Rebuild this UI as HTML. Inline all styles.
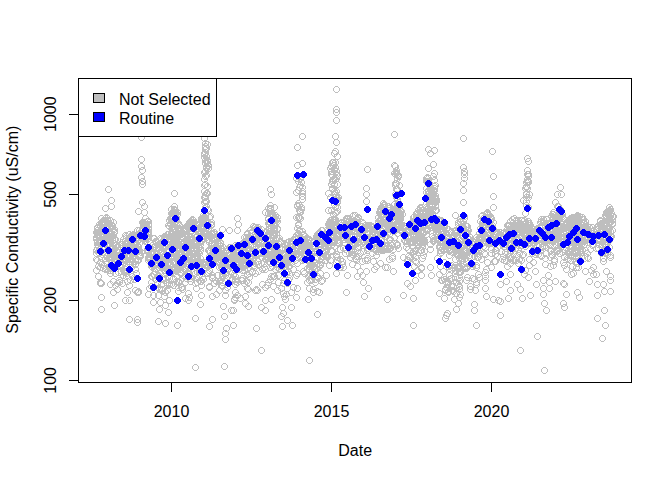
<!DOCTYPE html>
<html><head><meta charset="utf-8"><style>html,body{margin:0;padding:0;background:#fff;}svg{display:block;}</style></head>
<body><svg width="672" height="480" viewBox="0 0 672 480">
<rect width="672" height="480" fill="#fff"/>
<defs><clipPath id="pc"><rect x="78.72" y="78.72" width="552.9599999999999" height="303.36"/></clipPath></defs><g clip-path="url(#pc)"><path d="M116.4 281.5a2.9 2.9 0 1 0-5.8 0a2.9 2.9 0 1 0 5.8 0M122.4 280.5a2.9 2.9 0 1 0-5.8 0a2.9 2.9 0 1 0 5.8 0M120.4 283.5a2.9 2.9 0 1 0-5.8 0a2.9 2.9 0 1 0 5.8 0M162.4 289.5a2.9 2.9 0 1 0-5.8 0a2.9 2.9 0 1 0 5.8 0M165.4 290.5a2.9 2.9 0 1 0-5.8 0a2.9 2.9 0 1 0 5.8 0M456.4 286.5a2.9 2.9 0 1 0-5.8 0a2.9 2.9 0 1 0 5.8 0M463.4 280.5a2.9 2.9 0 1 0-5.8 0a2.9 2.9 0 1 0 5.8 0M461.4 284.5a2.9 2.9 0 1 0-5.8 0a2.9 2.9 0 1 0 5.8 0M448.4 281.5a2.9 2.9 0 1 0-5.8 0a2.9 2.9 0 1 0 5.8 0M451.4 292.5a2.9 2.9 0 1 0-5.8 0a2.9 2.9 0 1 0 5.8 0M448.4 289.5a2.9 2.9 0 1 0-5.8 0a2.9 2.9 0 1 0 5.8 0M104.4 218.5a2.9 2.9 0 1 0-5.8 0a2.9 2.9 0 1 0 5.8 0M125.4 244.5a2.9 2.9 0 1 0-5.8 0a2.9 2.9 0 1 0 5.8 0M164.4 251.5a2.9 2.9 0 1 0-5.8 0a2.9 2.9 0 1 0 5.8 0M180.4 212.5a2.9 2.9 0 1 0-5.8 0a2.9 2.9 0 1 0 5.8 0M133.4 255.5a2.9 2.9 0 1 0-5.8 0a2.9 2.9 0 1 0 5.8 0M111.4 237.5a2.9 2.9 0 1 0-5.8 0a2.9 2.9 0 1 0 5.8 0M102.4 249.5a2.9 2.9 0 1 0-5.8 0a2.9 2.9 0 1 0 5.8 0M162.4 243.5a2.9 2.9 0 1 0-5.8 0a2.9 2.9 0 1 0 5.8 0M171.4 225.5a2.9 2.9 0 1 0-5.8 0a2.9 2.9 0 1 0 5.8 0M156.4 244.5a2.9 2.9 0 1 0-5.8 0a2.9 2.9 0 1 0 5.8 0M147.4 235.5a2.9 2.9 0 1 0-5.8 0a2.9 2.9 0 1 0 5.8 0M168.4 268.5a2.9 2.9 0 1 0-5.8 0a2.9 2.9 0 1 0 5.8 0M138.4 249.5a2.9 2.9 0 1 0-5.8 0a2.9 2.9 0 1 0 5.8 0M104.4 251.5a2.9 2.9 0 1 0-5.8 0a2.9 2.9 0 1 0 5.8 0M131.4 249.5a2.9 2.9 0 1 0-5.8 0a2.9 2.9 0 1 0 5.8 0M101.4 235.5a2.9 2.9 0 1 0-5.8 0a2.9 2.9 0 1 0 5.8 0M109.4 221.5a2.9 2.9 0 1 0-5.8 0a2.9 2.9 0 1 0 5.8 0M105.4 234.5a2.9 2.9 0 1 0-5.8 0a2.9 2.9 0 1 0 5.8 0M167.4 262.5a2.9 2.9 0 1 0-5.8 0a2.9 2.9 0 1 0 5.8 0M178.4 215.5a2.9 2.9 0 1 0-5.8 0a2.9 2.9 0 1 0 5.8 0M113.4 220.5a2.9 2.9 0 1 0-5.8 0a2.9 2.9 0 1 0 5.8 0M148.4 222.5a2.9 2.9 0 1 0-5.8 0a2.9 2.9 0 1 0 5.8 0M99.4 232.5a2.9 2.9 0 1 0-5.8 0a2.9 2.9 0 1 0 5.8 0M129.4 242.5a2.9 2.9 0 1 0-5.8 0a2.9 2.9 0 1 0 5.8 0M178.4 251.5a2.9 2.9 0 1 0-5.8 0a2.9 2.9 0 1 0 5.8 0M141.4 246.5a2.9 2.9 0 1 0-5.8 0a2.9 2.9 0 1 0 5.8 0M173.4 257.5a2.9 2.9 0 1 0-5.8 0a2.9 2.9 0 1 0 5.8 0M171.4 258.5a2.9 2.9 0 1 0-5.8 0a2.9 2.9 0 1 0 5.8 0M107.4 247.5a2.9 2.9 0 1 0-5.8 0a2.9 2.9 0 1 0 5.8 0M107.4 229.5a2.9 2.9 0 1 0-5.8 0a2.9 2.9 0 1 0 5.8 0M137.4 237.5a2.9 2.9 0 1 0-5.8 0a2.9 2.9 0 1 0 5.8 0M170.4 251.5a2.9 2.9 0 1 0-5.8 0a2.9 2.9 0 1 0 5.8 0M113.4 256.5a2.9 2.9 0 1 0-5.8 0a2.9 2.9 0 1 0 5.8 0M143.4 256.5a2.9 2.9 0 1 0-5.8 0a2.9 2.9 0 1 0 5.8 0M169.4 258.5a2.9 2.9 0 1 0-5.8 0a2.9 2.9 0 1 0 5.8 0M166.4 254.5a2.9 2.9 0 1 0-5.8 0a2.9 2.9 0 1 0 5.8 0M118.4 239.5a2.9 2.9 0 1 0-5.8 0a2.9 2.9 0 1 0 5.8 0M120.4 251.5a2.9 2.9 0 1 0-5.8 0a2.9 2.9 0 1 0 5.8 0M178.4 234.5a2.9 2.9 0 1 0-5.8 0a2.9 2.9 0 1 0 5.8 0M176.4 270.5a2.9 2.9 0 1 0-5.8 0a2.9 2.9 0 1 0 5.8 0M178.4 229.5a2.9 2.9 0 1 0-5.8 0a2.9 2.9 0 1 0 5.8 0M168.4 236.5a2.9 2.9 0 1 0-5.8 0a2.9 2.9 0 1 0 5.8 0M153.4 258.5a2.9 2.9 0 1 0-5.8 0a2.9 2.9 0 1 0 5.8 0M106.4 249.5a2.9 2.9 0 1 0-5.8 0a2.9 2.9 0 1 0 5.8 0M174.4 257.5a2.9 2.9 0 1 0-5.8 0a2.9 2.9 0 1 0 5.8 0M114.4 257.5a2.9 2.9 0 1 0-5.8 0a2.9 2.9 0 1 0 5.8 0M126.4 258.5a2.9 2.9 0 1 0-5.8 0a2.9 2.9 0 1 0 5.8 0M179.4 231.5a2.9 2.9 0 1 0-5.8 0a2.9 2.9 0 1 0 5.8 0M174.4 258.5a2.9 2.9 0 1 0-5.8 0a2.9 2.9 0 1 0 5.8 0M180.4 248.5a2.9 2.9 0 1 0-5.8 0a2.9 2.9 0 1 0 5.8 0M128.4 241.5a2.9 2.9 0 1 0-5.8 0a2.9 2.9 0 1 0 5.8 0M179.4 248.5a2.9 2.9 0 1 0-5.8 0a2.9 2.9 0 1 0 5.8 0M119.4 244.5a2.9 2.9 0 1 0-5.8 0a2.9 2.9 0 1 0 5.8 0M128.4 235.5a2.9 2.9 0 1 0-5.8 0a2.9 2.9 0 1 0 5.8 0M140.4 240.5a2.9 2.9 0 1 0-5.8 0a2.9 2.9 0 1 0 5.8 0M113.4 236.5a2.9 2.9 0 1 0-5.8 0a2.9 2.9 0 1 0 5.8 0M159.4 242.5a2.9 2.9 0 1 0-5.8 0a2.9 2.9 0 1 0 5.8 0M126.4 239.5a2.9 2.9 0 1 0-5.8 0a2.9 2.9 0 1 0 5.8 0M108.4 242.5a2.9 2.9 0 1 0-5.8 0a2.9 2.9 0 1 0 5.8 0M163.4 238.5a2.9 2.9 0 1 0-5.8 0a2.9 2.9 0 1 0 5.8 0M174.4 234.5a2.9 2.9 0 1 0-5.8 0a2.9 2.9 0 1 0 5.8 0M149.4 238.5a2.9 2.9 0 1 0-5.8 0a2.9 2.9 0 1 0 5.8 0M141.4 251.5a2.9 2.9 0 1 0-5.8 0a2.9 2.9 0 1 0 5.8 0M136.4 240.5a2.9 2.9 0 1 0-5.8 0a2.9 2.9 0 1 0 5.8 0M157.4 263.5a2.9 2.9 0 1 0-5.8 0a2.9 2.9 0 1 0 5.8 0M177.4 222.5a2.9 2.9 0 1 0-5.8 0a2.9 2.9 0 1 0 5.8 0M109.4 234.5a2.9 2.9 0 1 0-5.8 0a2.9 2.9 0 1 0 5.8 0M105.4 221.5a2.9 2.9 0 1 0-5.8 0a2.9 2.9 0 1 0 5.8 0M105.4 249.5a2.9 2.9 0 1 0-5.8 0a2.9 2.9 0 1 0 5.8 0M164.4 264.5a2.9 2.9 0 1 0-5.8 0a2.9 2.9 0 1 0 5.8 0M112.4 252.5a2.9 2.9 0 1 0-5.8 0a2.9 2.9 0 1 0 5.8 0M172.4 269.5a2.9 2.9 0 1 0-5.8 0a2.9 2.9 0 1 0 5.8 0M132.4 237.5a2.9 2.9 0 1 0-5.8 0a2.9 2.9 0 1 0 5.8 0M181.4 260.5a2.9 2.9 0 1 0-5.8 0a2.9 2.9 0 1 0 5.8 0M112.4 233.5a2.9 2.9 0 1 0-5.8 0a2.9 2.9 0 1 0 5.8 0M115.4 226.5a2.9 2.9 0 1 0-5.8 0a2.9 2.9 0 1 0 5.8 0M145.4 234.5a2.9 2.9 0 1 0-5.8 0a2.9 2.9 0 1 0 5.8 0M100.4 227.5a2.9 2.9 0 1 0-5.8 0a2.9 2.9 0 1 0 5.8 0M150.4 239.5a2.9 2.9 0 1 0-5.8 0a2.9 2.9 0 1 0 5.8 0M107.4 222.5a2.9 2.9 0 1 0-5.8 0a2.9 2.9 0 1 0 5.8 0M151.4 258.5a2.9 2.9 0 1 0-5.8 0a2.9 2.9 0 1 0 5.8 0M159.4 241.5a2.9 2.9 0 1 0-5.8 0a2.9 2.9 0 1 0 5.8 0M114.4 236.5a2.9 2.9 0 1 0-5.8 0a2.9 2.9 0 1 0 5.8 0M176.4 212.5a2.9 2.9 0 1 0-5.8 0a2.9 2.9 0 1 0 5.8 0M140.4 260.5a2.9 2.9 0 1 0-5.8 0a2.9 2.9 0 1 0 5.8 0M131.4 238.5a2.9 2.9 0 1 0-5.8 0a2.9 2.9 0 1 0 5.8 0M127.4 260.5a2.9 2.9 0 1 0-5.8 0a2.9 2.9 0 1 0 5.8 0M157.4 247.5a2.9 2.9 0 1 0-5.8 0a2.9 2.9 0 1 0 5.8 0M105.4 254.5a2.9 2.9 0 1 0-5.8 0a2.9 2.9 0 1 0 5.8 0M171.4 249.5a2.9 2.9 0 1 0-5.8 0a2.9 2.9 0 1 0 5.8 0M112.4 234.5a2.9 2.9 0 1 0-5.8 0a2.9 2.9 0 1 0 5.8 0M179.4 241.5a2.9 2.9 0 1 0-5.8 0a2.9 2.9 0 1 0 5.8 0M138.4 238.5a2.9 2.9 0 1 0-5.8 0a2.9 2.9 0 1 0 5.8 0M115.4 238.5a2.9 2.9 0 1 0-5.8 0a2.9 2.9 0 1 0 5.8 0M106.4 231.5a2.9 2.9 0 1 0-5.8 0a2.9 2.9 0 1 0 5.8 0M147.4 240.5a2.9 2.9 0 1 0-5.8 0a2.9 2.9 0 1 0 5.8 0M161.4 248.5a2.9 2.9 0 1 0-5.8 0a2.9 2.9 0 1 0 5.8 0M158.4 263.5a2.9 2.9 0 1 0-5.8 0a2.9 2.9 0 1 0 5.8 0M180.4 214.5a2.9 2.9 0 1 0-5.8 0a2.9 2.9 0 1 0 5.8 0M159.4 247.5a2.9 2.9 0 1 0-5.8 0a2.9 2.9 0 1 0 5.8 0M173.4 246.5a2.9 2.9 0 1 0-5.8 0a2.9 2.9 0 1 0 5.8 0M159.4 259.5a2.9 2.9 0 1 0-5.8 0a2.9 2.9 0 1 0 5.8 0M110.4 239.5a2.9 2.9 0 1 0-5.8 0a2.9 2.9 0 1 0 5.8 0M141.4 260.5a2.9 2.9 0 1 0-5.8 0a2.9 2.9 0 1 0 5.8 0M165.4 260.5a2.9 2.9 0 1 0-5.8 0a2.9 2.9 0 1 0 5.8 0M155.4 251.5a2.9 2.9 0 1 0-5.8 0a2.9 2.9 0 1 0 5.8 0M110.4 229.5a2.9 2.9 0 1 0-5.8 0a2.9 2.9 0 1 0 5.8 0M151.4 250.5a2.9 2.9 0 1 0-5.8 0a2.9 2.9 0 1 0 5.8 0M165.4 254.5a2.9 2.9 0 1 0-5.8 0a2.9 2.9 0 1 0 5.8 0M140.4 240.5a2.9 2.9 0 1 0-5.8 0a2.9 2.9 0 1 0 5.8 0M105.4 222.5a2.9 2.9 0 1 0-5.8 0a2.9 2.9 0 1 0 5.8 0M138.4 250.5a2.9 2.9 0 1 0-5.8 0a2.9 2.9 0 1 0 5.8 0M162.4 246.5a2.9 2.9 0 1 0-5.8 0a2.9 2.9 0 1 0 5.8 0M111.4 221.5a2.9 2.9 0 1 0-5.8 0a2.9 2.9 0 1 0 5.8 0M104.4 222.5a2.9 2.9 0 1 0-5.8 0a2.9 2.9 0 1 0 5.8 0M154.4 251.5a2.9 2.9 0 1 0-5.8 0a2.9 2.9 0 1 0 5.8 0M142.4 235.5a2.9 2.9 0 1 0-5.8 0a2.9 2.9 0 1 0 5.8 0M173.4 218.5a2.9 2.9 0 1 0-5.8 0a2.9 2.9 0 1 0 5.8 0M180.4 267.5a2.9 2.9 0 1 0-5.8 0a2.9 2.9 0 1 0 5.8 0M100.4 235.5a2.9 2.9 0 1 0-5.8 0a2.9 2.9 0 1 0 5.8 0M116.4 243.5a2.9 2.9 0 1 0-5.8 0a2.9 2.9 0 1 0 5.8 0M111.4 239.5a2.9 2.9 0 1 0-5.8 0a2.9 2.9 0 1 0 5.8 0M178.4 213.5a2.9 2.9 0 1 0-5.8 0a2.9 2.9 0 1 0 5.8 0M167.4 238.5a2.9 2.9 0 1 0-5.8 0a2.9 2.9 0 1 0 5.8 0M172.4 251.5a2.9 2.9 0 1 0-5.8 0a2.9 2.9 0 1 0 5.8 0M99.4 237.5a2.9 2.9 0 1 0-5.8 0a2.9 2.9 0 1 0 5.8 0M110.4 227.5a2.9 2.9 0 1 0-5.8 0a2.9 2.9 0 1 0 5.8 0M125.4 261.5a2.9 2.9 0 1 0-5.8 0a2.9 2.9 0 1 0 5.8 0M175.4 252.5a2.9 2.9 0 1 0-5.8 0a2.9 2.9 0 1 0 5.8 0M173.4 224.5a2.9 2.9 0 1 0-5.8 0a2.9 2.9 0 1 0 5.8 0M181.4 244.5a2.9 2.9 0 1 0-5.8 0a2.9 2.9 0 1 0 5.8 0M172.4 259.5a2.9 2.9 0 1 0-5.8 0a2.9 2.9 0 1 0 5.8 0M177.4 241.5a2.9 2.9 0 1 0-5.8 0a2.9 2.9 0 1 0 5.8 0M161.4 247.5a2.9 2.9 0 1 0-5.8 0a2.9 2.9 0 1 0 5.8 0M175.4 213.5a2.9 2.9 0 1 0-5.8 0a2.9 2.9 0 1 0 5.8 0M123.4 254.5a2.9 2.9 0 1 0-5.8 0a2.9 2.9 0 1 0 5.8 0M180.4 222.5a2.9 2.9 0 1 0-5.8 0a2.9 2.9 0 1 0 5.8 0M145.4 231.5a2.9 2.9 0 1 0-5.8 0a2.9 2.9 0 1 0 5.8 0M174.4 271.5a2.9 2.9 0 1 0-5.8 0a2.9 2.9 0 1 0 5.8 0M133.4 239.5a2.9 2.9 0 1 0-5.8 0a2.9 2.9 0 1 0 5.8 0M104.4 223.5a2.9 2.9 0 1 0-5.8 0a2.9 2.9 0 1 0 5.8 0M179.4 213.5a2.9 2.9 0 1 0-5.8 0a2.9 2.9 0 1 0 5.8 0M140.4 246.5a2.9 2.9 0 1 0-5.8 0a2.9 2.9 0 1 0 5.8 0M132.4 234.5a2.9 2.9 0 1 0-5.8 0a2.9 2.9 0 1 0 5.8 0M178.4 261.5a2.9 2.9 0 1 0-5.8 0a2.9 2.9 0 1 0 5.8 0M101.4 252.5a2.9 2.9 0 1 0-5.8 0a2.9 2.9 0 1 0 5.8 0M173.4 236.5a2.9 2.9 0 1 0-5.8 0a2.9 2.9 0 1 0 5.8 0M167.4 262.5a2.9 2.9 0 1 0-5.8 0a2.9 2.9 0 1 0 5.8 0M179.4 221.5a2.9 2.9 0 1 0-5.8 0a2.9 2.9 0 1 0 5.8 0M142.4 250.5a2.9 2.9 0 1 0-5.8 0a2.9 2.9 0 1 0 5.8 0M177.4 253.5a2.9 2.9 0 1 0-5.8 0a2.9 2.9 0 1 0 5.8 0M152.4 256.5a2.9 2.9 0 1 0-5.8 0a2.9 2.9 0 1 0 5.8 0M137.4 241.5a2.9 2.9 0 1 0-5.8 0a2.9 2.9 0 1 0 5.8 0M109.4 221.5a2.9 2.9 0 1 0-5.8 0a2.9 2.9 0 1 0 5.8 0M151.4 251.5a2.9 2.9 0 1 0-5.8 0a2.9 2.9 0 1 0 5.8 0M142.4 243.5a2.9 2.9 0 1 0-5.8 0a2.9 2.9 0 1 0 5.8 0M178.4 247.5a2.9 2.9 0 1 0-5.8 0a2.9 2.9 0 1 0 5.8 0M172.4 236.5a2.9 2.9 0 1 0-5.8 0a2.9 2.9 0 1 0 5.8 0M178.4 252.5a2.9 2.9 0 1 0-5.8 0a2.9 2.9 0 1 0 5.8 0M140.4 249.5a2.9 2.9 0 1 0-5.8 0a2.9 2.9 0 1 0 5.8 0M154.4 266.5a2.9 2.9 0 1 0-5.8 0a2.9 2.9 0 1 0 5.8 0M165.4 254.5a2.9 2.9 0 1 0-5.8 0a2.9 2.9 0 1 0 5.8 0M179.4 225.5a2.9 2.9 0 1 0-5.8 0a2.9 2.9 0 1 0 5.8 0M117.4 255.5a2.9 2.9 0 1 0-5.8 0a2.9 2.9 0 1 0 5.8 0M117.4 232.5a2.9 2.9 0 1 0-5.8 0a2.9 2.9 0 1 0 5.8 0M111.4 231.5a2.9 2.9 0 1 0-5.8 0a2.9 2.9 0 1 0 5.8 0M104.4 231.5a2.9 2.9 0 1 0-5.8 0a2.9 2.9 0 1 0 5.8 0M173.4 263.5a2.9 2.9 0 1 0-5.8 0a2.9 2.9 0 1 0 5.8 0M176.4 226.5a2.9 2.9 0 1 0-5.8 0a2.9 2.9 0 1 0 5.8 0M178.4 213.5a2.9 2.9 0 1 0-5.8 0a2.9 2.9 0 1 0 5.8 0M179.4 218.5a2.9 2.9 0 1 0-5.8 0a2.9 2.9 0 1 0 5.8 0M128.4 259.5a2.9 2.9 0 1 0-5.8 0a2.9 2.9 0 1 0 5.8 0M103.4 236.5a2.9 2.9 0 1 0-5.8 0a2.9 2.9 0 1 0 5.8 0M115.4 229.5a2.9 2.9 0 1 0-5.8 0a2.9 2.9 0 1 0 5.8 0M133.4 259.5a2.9 2.9 0 1 0-5.8 0a2.9 2.9 0 1 0 5.8 0M175.4 222.5a2.9 2.9 0 1 0-5.8 0a2.9 2.9 0 1 0 5.8 0M161.4 264.5a2.9 2.9 0 1 0-5.8 0a2.9 2.9 0 1 0 5.8 0M178.4 246.5a2.9 2.9 0 1 0-5.8 0a2.9 2.9 0 1 0 5.8 0M120.4 252.5a2.9 2.9 0 1 0-5.8 0a2.9 2.9 0 1 0 5.8 0M175.4 247.5a2.9 2.9 0 1 0-5.8 0a2.9 2.9 0 1 0 5.8 0M177.4 206.5a2.9 2.9 0 1 0-5.8 0a2.9 2.9 0 1 0 5.8 0M178.4 268.5a2.9 2.9 0 1 0-5.8 0a2.9 2.9 0 1 0 5.8 0M134.4 237.5a2.9 2.9 0 1 0-5.8 0a2.9 2.9 0 1 0 5.8 0M176.4 217.5a2.9 2.9 0 1 0-5.8 0a2.9 2.9 0 1 0 5.8 0M165.4 254.5a2.9 2.9 0 1 0-5.8 0a2.9 2.9 0 1 0 5.8 0M167.4 256.5a2.9 2.9 0 1 0-5.8 0a2.9 2.9 0 1 0 5.8 0M149.4 226.5a2.9 2.9 0 1 0-5.8 0a2.9 2.9 0 1 0 5.8 0M115.4 255.5a2.9 2.9 0 1 0-5.8 0a2.9 2.9 0 1 0 5.8 0M102.4 241.5a2.9 2.9 0 1 0-5.8 0a2.9 2.9 0 1 0 5.8 0M172.4 270.5a2.9 2.9 0 1 0-5.8 0a2.9 2.9 0 1 0 5.8 0M107.4 238.5a2.9 2.9 0 1 0-5.8 0a2.9 2.9 0 1 0 5.8 0M150.4 249.5a2.9 2.9 0 1 0-5.8 0a2.9 2.9 0 1 0 5.8 0M161.4 261.5a2.9 2.9 0 1 0-5.8 0a2.9 2.9 0 1 0 5.8 0M146.4 229.5a2.9 2.9 0 1 0-5.8 0a2.9 2.9 0 1 0 5.8 0M147.4 226.5a2.9 2.9 0 1 0-5.8 0a2.9 2.9 0 1 0 5.8 0M166.4 248.5a2.9 2.9 0 1 0-5.8 0a2.9 2.9 0 1 0 5.8 0M138.4 259.5a2.9 2.9 0 1 0-5.8 0a2.9 2.9 0 1 0 5.8 0M168.4 265.5a2.9 2.9 0 1 0-5.8 0a2.9 2.9 0 1 0 5.8 0M102.4 224.5a2.9 2.9 0 1 0-5.8 0a2.9 2.9 0 1 0 5.8 0M109.4 217.5a2.9 2.9 0 1 0-5.8 0a2.9 2.9 0 1 0 5.8 0M179.4 243.5a2.9 2.9 0 1 0-5.8 0a2.9 2.9 0 1 0 5.8 0M176.4 229.5a2.9 2.9 0 1 0-5.8 0a2.9 2.9 0 1 0 5.8 0M170.4 234.5a2.9 2.9 0 1 0-5.8 0a2.9 2.9 0 1 0 5.8 0M120.4 256.5a2.9 2.9 0 1 0-5.8 0a2.9 2.9 0 1 0 5.8 0M177.4 212.5a2.9 2.9 0 1 0-5.8 0a2.9 2.9 0 1 0 5.8 0M117.4 229.5a2.9 2.9 0 1 0-5.8 0a2.9 2.9 0 1 0 5.8 0M110.4 218.5a2.9 2.9 0 1 0-5.8 0a2.9 2.9 0 1 0 5.8 0M165.4 241.5a2.9 2.9 0 1 0-5.8 0a2.9 2.9 0 1 0 5.8 0M131.4 241.5a2.9 2.9 0 1 0-5.8 0a2.9 2.9 0 1 0 5.8 0M112.4 251.5a2.9 2.9 0 1 0-5.8 0a2.9 2.9 0 1 0 5.8 0M125.4 242.5a2.9 2.9 0 1 0-5.8 0a2.9 2.9 0 1 0 5.8 0M134.4 259.5a2.9 2.9 0 1 0-5.8 0a2.9 2.9 0 1 0 5.8 0M100.4 241.5a2.9 2.9 0 1 0-5.8 0a2.9 2.9 0 1 0 5.8 0M106.4 246.5a2.9 2.9 0 1 0-5.8 0a2.9 2.9 0 1 0 5.8 0M129.4 238.5a2.9 2.9 0 1 0-5.8 0a2.9 2.9 0 1 0 5.8 0M111.4 223.5a2.9 2.9 0 1 0-5.8 0a2.9 2.9 0 1 0 5.8 0M108.4 237.5a2.9 2.9 0 1 0-5.8 0a2.9 2.9 0 1 0 5.8 0M177.4 270.5a2.9 2.9 0 1 0-5.8 0a2.9 2.9 0 1 0 5.8 0M175.4 230.5a2.9 2.9 0 1 0-5.8 0a2.9 2.9 0 1 0 5.8 0M174.4 246.5a2.9 2.9 0 1 0-5.8 0a2.9 2.9 0 1 0 5.8 0M132.4 261.5a2.9 2.9 0 1 0-5.8 0a2.9 2.9 0 1 0 5.8 0M117.4 231.5a2.9 2.9 0 1 0-5.8 0a2.9 2.9 0 1 0 5.8 0M142.4 230.5a2.9 2.9 0 1 0-5.8 0a2.9 2.9 0 1 0 5.8 0M109.4 221.5a2.9 2.9 0 1 0-5.8 0a2.9 2.9 0 1 0 5.8 0M159.4 264.5a2.9 2.9 0 1 0-5.8 0a2.9 2.9 0 1 0 5.8 0M102.4 242.5a2.9 2.9 0 1 0-5.8 0a2.9 2.9 0 1 0 5.8 0M148.4 241.5a2.9 2.9 0 1 0-5.8 0a2.9 2.9 0 1 0 5.8 0M151.4 225.5a2.9 2.9 0 1 0-5.8 0a2.9 2.9 0 1 0 5.8 0M134.4 243.5a2.9 2.9 0 1 0-5.8 0a2.9 2.9 0 1 0 5.8 0M134.4 248.5a2.9 2.9 0 1 0-5.8 0a2.9 2.9 0 1 0 5.8 0M136.4 234.5a2.9 2.9 0 1 0-5.8 0a2.9 2.9 0 1 0 5.8 0M101.4 246.5a2.9 2.9 0 1 0-5.8 0a2.9 2.9 0 1 0 5.8 0M162.4 257.5a2.9 2.9 0 1 0-5.8 0a2.9 2.9 0 1 0 5.8 0M109.4 233.5a2.9 2.9 0 1 0-5.8 0a2.9 2.9 0 1 0 5.8 0M106.4 234.5a2.9 2.9 0 1 0-5.8 0a2.9 2.9 0 1 0 5.8 0M159.4 256.5a2.9 2.9 0 1 0-5.8 0a2.9 2.9 0 1 0 5.8 0M140.4 230.5a2.9 2.9 0 1 0-5.8 0a2.9 2.9 0 1 0 5.8 0M177.4 214.5a2.9 2.9 0 1 0-5.8 0a2.9 2.9 0 1 0 5.8 0M159.4 259.5a2.9 2.9 0 1 0-5.8 0a2.9 2.9 0 1 0 5.8 0M175.4 216.5a2.9 2.9 0 1 0-5.8 0a2.9 2.9 0 1 0 5.8 0M164.4 267.5a2.9 2.9 0 1 0-5.8 0a2.9 2.9 0 1 0 5.8 0M104.4 228.5a2.9 2.9 0 1 0-5.8 0a2.9 2.9 0 1 0 5.8 0M173.4 223.5a2.9 2.9 0 1 0-5.8 0a2.9 2.9 0 1 0 5.8 0M116.4 222.5a2.9 2.9 0 1 0-5.8 0a2.9 2.9 0 1 0 5.8 0M155.4 264.5a2.9 2.9 0 1 0-5.8 0a2.9 2.9 0 1 0 5.8 0M113.4 257.5a2.9 2.9 0 1 0-5.8 0a2.9 2.9 0 1 0 5.8 0M108.4 240.5a2.9 2.9 0 1 0-5.8 0a2.9 2.9 0 1 0 5.8 0M171.4 242.5a2.9 2.9 0 1 0-5.8 0a2.9 2.9 0 1 0 5.8 0M151.4 231.5a2.9 2.9 0 1 0-5.8 0a2.9 2.9 0 1 0 5.8 0M181.4 243.5a2.9 2.9 0 1 0-5.8 0a2.9 2.9 0 1 0 5.8 0M129.4 256.5a2.9 2.9 0 1 0-5.8 0a2.9 2.9 0 1 0 5.8 0M150.4 233.5a2.9 2.9 0 1 0-5.8 0a2.9 2.9 0 1 0 5.8 0M110.4 220.5a2.9 2.9 0 1 0-5.8 0a2.9 2.9 0 1 0 5.8 0M108.4 228.5a2.9 2.9 0 1 0-5.8 0a2.9 2.9 0 1 0 5.8 0M117.4 243.5a2.9 2.9 0 1 0-5.8 0a2.9 2.9 0 1 0 5.8 0M148.4 218.5a2.9 2.9 0 1 0-5.8 0a2.9 2.9 0 1 0 5.8 0M150.4 236.5a2.9 2.9 0 1 0-5.8 0a2.9 2.9 0 1 0 5.8 0M107.4 247.5a2.9 2.9 0 1 0-5.8 0a2.9 2.9 0 1 0 5.8 0M171.4 257.5a2.9 2.9 0 1 0-5.8 0a2.9 2.9 0 1 0 5.8 0M100.4 248.5a2.9 2.9 0 1 0-5.8 0a2.9 2.9 0 1 0 5.8 0M145.4 228.5a2.9 2.9 0 1 0-5.8 0a2.9 2.9 0 1 0 5.8 0M176.4 253.5a2.9 2.9 0 1 0-5.8 0a2.9 2.9 0 1 0 5.8 0M102.4 240.5a2.9 2.9 0 1 0-5.8 0a2.9 2.9 0 1 0 5.8 0M100.4 241.5a2.9 2.9 0 1 0-5.8 0a2.9 2.9 0 1 0 5.8 0M177.4 214.5a2.9 2.9 0 1 0-5.8 0a2.9 2.9 0 1 0 5.8 0M115.4 245.5a2.9 2.9 0 1 0-5.8 0a2.9 2.9 0 1 0 5.8 0M141.4 247.5a2.9 2.9 0 1 0-5.8 0a2.9 2.9 0 1 0 5.8 0M164.4 252.5a2.9 2.9 0 1 0-5.8 0a2.9 2.9 0 1 0 5.8 0M127.4 255.5a2.9 2.9 0 1 0-5.8 0a2.9 2.9 0 1 0 5.8 0M156.4 261.5a2.9 2.9 0 1 0-5.8 0a2.9 2.9 0 1 0 5.8 0M145.4 234.5a2.9 2.9 0 1 0-5.8 0a2.9 2.9 0 1 0 5.8 0M164.4 239.5a2.9 2.9 0 1 0-5.8 0a2.9 2.9 0 1 0 5.8 0M179.4 219.5a2.9 2.9 0 1 0-5.8 0a2.9 2.9 0 1 0 5.8 0M160.4 268.5a2.9 2.9 0 1 0-5.8 0a2.9 2.9 0 1 0 5.8 0M172.4 226.5a2.9 2.9 0 1 0-5.8 0a2.9 2.9 0 1 0 5.8 0M151.4 251.5a2.9 2.9 0 1 0-5.8 0a2.9 2.9 0 1 0 5.8 0M138.4 261.5a2.9 2.9 0 1 0-5.8 0a2.9 2.9 0 1 0 5.8 0M156.4 262.5a2.9 2.9 0 1 0-5.8 0a2.9 2.9 0 1 0 5.8 0M135.4 253.5a2.9 2.9 0 1 0-5.8 0a2.9 2.9 0 1 0 5.8 0M146.4 225.5a2.9 2.9 0 1 0-5.8 0a2.9 2.9 0 1 0 5.8 0M116.4 246.5a2.9 2.9 0 1 0-5.8 0a2.9 2.9 0 1 0 5.8 0M156.4 247.5a2.9 2.9 0 1 0-5.8 0a2.9 2.9 0 1 0 5.8 0M156.4 254.5a2.9 2.9 0 1 0-5.8 0a2.9 2.9 0 1 0 5.8 0M104.4 244.5a2.9 2.9 0 1 0-5.8 0a2.9 2.9 0 1 0 5.8 0M129.4 259.5a2.9 2.9 0 1 0-5.8 0a2.9 2.9 0 1 0 5.8 0M167.4 264.5a2.9 2.9 0 1 0-5.8 0a2.9 2.9 0 1 0 5.8 0M174.4 267.5a2.9 2.9 0 1 0-5.8 0a2.9 2.9 0 1 0 5.8 0M108.4 218.5a2.9 2.9 0 1 0-5.8 0a2.9 2.9 0 1 0 5.8 0M169.4 259.5a2.9 2.9 0 1 0-5.8 0a2.9 2.9 0 1 0 5.8 0M151.4 260.5a2.9 2.9 0 1 0-5.8 0a2.9 2.9 0 1 0 5.8 0M151.4 224.5a2.9 2.9 0 1 0-5.8 0a2.9 2.9 0 1 0 5.8 0M122.4 252.5a2.9 2.9 0 1 0-5.8 0a2.9 2.9 0 1 0 5.8 0M179.4 238.5a2.9 2.9 0 1 0-5.8 0a2.9 2.9 0 1 0 5.8 0M169.4 246.5a2.9 2.9 0 1 0-5.8 0a2.9 2.9 0 1 0 5.8 0M101.4 232.5a2.9 2.9 0 1 0-5.8 0a2.9 2.9 0 1 0 5.8 0M135.4 256.5a2.9 2.9 0 1 0-5.8 0a2.9 2.9 0 1 0 5.8 0M127.4 252.5a2.9 2.9 0 1 0-5.8 0a2.9 2.9 0 1 0 5.8 0M99.4 237.5a2.9 2.9 0 1 0-5.8 0a2.9 2.9 0 1 0 5.8 0M139.4 258.5a2.9 2.9 0 1 0-5.8 0a2.9 2.9 0 1 0 5.8 0M114.4 237.5a2.9 2.9 0 1 0-5.8 0a2.9 2.9 0 1 0 5.8 0M128.4 260.5a2.9 2.9 0 1 0-5.8 0a2.9 2.9 0 1 0 5.8 0M157.4 238.5a2.9 2.9 0 1 0-5.8 0a2.9 2.9 0 1 0 5.8 0M108.4 247.5a2.9 2.9 0 1 0-5.8 0a2.9 2.9 0 1 0 5.8 0M156.4 257.5a2.9 2.9 0 1 0-5.8 0a2.9 2.9 0 1 0 5.8 0M151.4 228.5a2.9 2.9 0 1 0-5.8 0a2.9 2.9 0 1 0 5.8 0M116.4 222.5a2.9 2.9 0 1 0-5.8 0a2.9 2.9 0 1 0 5.8 0M173.4 238.5a2.9 2.9 0 1 0-5.8 0a2.9 2.9 0 1 0 5.8 0M143.4 255.5a2.9 2.9 0 1 0-5.8 0a2.9 2.9 0 1 0 5.8 0M161.4 248.5a2.9 2.9 0 1 0-5.8 0a2.9 2.9 0 1 0 5.8 0M154.4 254.5a2.9 2.9 0 1 0-5.8 0a2.9 2.9 0 1 0 5.8 0M113.4 234.5a2.9 2.9 0 1 0-5.8 0a2.9 2.9 0 1 0 5.8 0M163.4 243.5a2.9 2.9 0 1 0-5.8 0a2.9 2.9 0 1 0 5.8 0M109.4 235.5a2.9 2.9 0 1 0-5.8 0a2.9 2.9 0 1 0 5.8 0M172.4 220.5a2.9 2.9 0 1 0-5.8 0a2.9 2.9 0 1 0 5.8 0M115.4 225.5a2.9 2.9 0 1 0-5.8 0a2.9 2.9 0 1 0 5.8 0M157.4 261.5a2.9 2.9 0 1 0-5.8 0a2.9 2.9 0 1 0 5.8 0M179.4 253.5a2.9 2.9 0 1 0-5.8 0a2.9 2.9 0 1 0 5.8 0M107.4 230.5a2.9 2.9 0 1 0-5.8 0a2.9 2.9 0 1 0 5.8 0M180.4 258.5a2.9 2.9 0 1 0-5.8 0a2.9 2.9 0 1 0 5.8 0M115.4 247.5a2.9 2.9 0 1 0-5.8 0a2.9 2.9 0 1 0 5.8 0M108.4 218.5a2.9 2.9 0 1 0-5.8 0a2.9 2.9 0 1 0 5.8 0M132.4 257.5a2.9 2.9 0 1 0-5.8 0a2.9 2.9 0 1 0 5.8 0M156.4 238.5a2.9 2.9 0 1 0-5.8 0a2.9 2.9 0 1 0 5.8 0M151.4 235.5a2.9 2.9 0 1 0-5.8 0a2.9 2.9 0 1 0 5.8 0M111.4 245.5a2.9 2.9 0 1 0-5.8 0a2.9 2.9 0 1 0 5.8 0M132.4 254.5a2.9 2.9 0 1 0-5.8 0a2.9 2.9 0 1 0 5.8 0M174.4 233.5a2.9 2.9 0 1 0-5.8 0a2.9 2.9 0 1 0 5.8 0M159.4 263.5a2.9 2.9 0 1 0-5.8 0a2.9 2.9 0 1 0 5.8 0M163.4 251.5a2.9 2.9 0 1 0-5.8 0a2.9 2.9 0 1 0 5.8 0M169.4 250.5a2.9 2.9 0 1 0-5.8 0a2.9 2.9 0 1 0 5.8 0M125.4 246.5a2.9 2.9 0 1 0-5.8 0a2.9 2.9 0 1 0 5.8 0M107.4 232.5a2.9 2.9 0 1 0-5.8 0a2.9 2.9 0 1 0 5.8 0M164.4 252.5a2.9 2.9 0 1 0-5.8 0a2.9 2.9 0 1 0 5.8 0M151.4 221.5a2.9 2.9 0 1 0-5.8 0a2.9 2.9 0 1 0 5.8 0M134.4 235.5a2.9 2.9 0 1 0-5.8 0a2.9 2.9 0 1 0 5.8 0M150.4 232.5a2.9 2.9 0 1 0-5.8 0a2.9 2.9 0 1 0 5.8 0M155.4 267.5a2.9 2.9 0 1 0-5.8 0a2.9 2.9 0 1 0 5.8 0M114.4 248.5a2.9 2.9 0 1 0-5.8 0a2.9 2.9 0 1 0 5.8 0M102.4 241.5a2.9 2.9 0 1 0-5.8 0a2.9 2.9 0 1 0 5.8 0M112.4 257.5a2.9 2.9 0 1 0-5.8 0a2.9 2.9 0 1 0 5.8 0M177.4 239.5a2.9 2.9 0 1 0-5.8 0a2.9 2.9 0 1 0 5.8 0M107.4 243.5a2.9 2.9 0 1 0-5.8 0a2.9 2.9 0 1 0 5.8 0M144.4 252.5a2.9 2.9 0 1 0-5.8 0a2.9 2.9 0 1 0 5.8 0M141.4 247.5a2.9 2.9 0 1 0-5.8 0a2.9 2.9 0 1 0 5.8 0M167.4 239.5a2.9 2.9 0 1 0-5.8 0a2.9 2.9 0 1 0 5.8 0M116.4 250.5a2.9 2.9 0 1 0-5.8 0a2.9 2.9 0 1 0 5.8 0M131.4 255.5a2.9 2.9 0 1 0-5.8 0a2.9 2.9 0 1 0 5.8 0M100.4 232.5a2.9 2.9 0 1 0-5.8 0a2.9 2.9 0 1 0 5.8 0M134.4 251.5a2.9 2.9 0 1 0-5.8 0a2.9 2.9 0 1 0 5.8 0M117.4 254.5a2.9 2.9 0 1 0-5.8 0a2.9 2.9 0 1 0 5.8 0M177.4 240.5a2.9 2.9 0 1 0-5.8 0a2.9 2.9 0 1 0 5.8 0M117.4 258.5a2.9 2.9 0 1 0-5.8 0a2.9 2.9 0 1 0 5.8 0M109.4 256.5a2.9 2.9 0 1 0-5.8 0a2.9 2.9 0 1 0 5.8 0M166.4 247.5a2.9 2.9 0 1 0-5.8 0a2.9 2.9 0 1 0 5.8 0M138.4 242.5a2.9 2.9 0 1 0-5.8 0a2.9 2.9 0 1 0 5.8 0M128.4 247.5a2.9 2.9 0 1 0-5.8 0a2.9 2.9 0 1 0 5.8 0M167.4 259.5a2.9 2.9 0 1 0-5.8 0a2.9 2.9 0 1 0 5.8 0M99.4 253.5a2.9 2.9 0 1 0-5.8 0a2.9 2.9 0 1 0 5.8 0M134.4 247.5a2.9 2.9 0 1 0-5.8 0a2.9 2.9 0 1 0 5.8 0M176.4 261.5a2.9 2.9 0 1 0-5.8 0a2.9 2.9 0 1 0 5.8 0M174.4 257.5a2.9 2.9 0 1 0-5.8 0a2.9 2.9 0 1 0 5.8 0M118.4 256.5a2.9 2.9 0 1 0-5.8 0a2.9 2.9 0 1 0 5.8 0M174.4 257.5a2.9 2.9 0 1 0-5.8 0a2.9 2.9 0 1 0 5.8 0M154.4 264.5a2.9 2.9 0 1 0-5.8 0a2.9 2.9 0 1 0 5.8 0M164.4 260.5a2.9 2.9 0 1 0-5.8 0a2.9 2.9 0 1 0 5.8 0M115.4 251.5a2.9 2.9 0 1 0-5.8 0a2.9 2.9 0 1 0 5.8 0M143.4 254.5a2.9 2.9 0 1 0-5.8 0a2.9 2.9 0 1 0 5.8 0M145.4 222.5a2.9 2.9 0 1 0-5.8 0a2.9 2.9 0 1 0 5.8 0M139.4 238.5a2.9 2.9 0 1 0-5.8 0a2.9 2.9 0 1 0 5.8 0M138.4 242.5a2.9 2.9 0 1 0-5.8 0a2.9 2.9 0 1 0 5.8 0M154.4 261.5a2.9 2.9 0 1 0-5.8 0a2.9 2.9 0 1 0 5.8 0M178.4 210.5a2.9 2.9 0 1 0-5.8 0a2.9 2.9 0 1 0 5.8 0M151.4 247.5a2.9 2.9 0 1 0-5.8 0a2.9 2.9 0 1 0 5.8 0M101.4 245.5a2.9 2.9 0 1 0-5.8 0a2.9 2.9 0 1 0 5.8 0M155.4 267.5a2.9 2.9 0 1 0-5.8 0a2.9 2.9 0 1 0 5.8 0M141.4 237.5a2.9 2.9 0 1 0-5.8 0a2.9 2.9 0 1 0 5.8 0M158.4 246.5a2.9 2.9 0 1 0-5.8 0a2.9 2.9 0 1 0 5.8 0M127.4 262.5a2.9 2.9 0 1 0-5.8 0a2.9 2.9 0 1 0 5.8 0M129.4 236.5a2.9 2.9 0 1 0-5.8 0a2.9 2.9 0 1 0 5.8 0M142.4 256.5a2.9 2.9 0 1 0-5.8 0a2.9 2.9 0 1 0 5.8 0M116.4 234.5a2.9 2.9 0 1 0-5.8 0a2.9 2.9 0 1 0 5.8 0M134.4 241.5a2.9 2.9 0 1 0-5.8 0a2.9 2.9 0 1 0 5.8 0M153.4 257.5a2.9 2.9 0 1 0-5.8 0a2.9 2.9 0 1 0 5.8 0M124.4 244.5a2.9 2.9 0 1 0-5.8 0a2.9 2.9 0 1 0 5.8 0M151.4 257.5a2.9 2.9 0 1 0-5.8 0a2.9 2.9 0 1 0 5.8 0M102.4 253.5a2.9 2.9 0 1 0-5.8 0a2.9 2.9 0 1 0 5.8 0M172.4 241.5a2.9 2.9 0 1 0-5.8 0a2.9 2.9 0 1 0 5.8 0M103.4 225.5a2.9 2.9 0 1 0-5.8 0a2.9 2.9 0 1 0 5.8 0M175.4 245.5a2.9 2.9 0 1 0-5.8 0a2.9 2.9 0 1 0 5.8 0M153.4 257.5a2.9 2.9 0 1 0-5.8 0a2.9 2.9 0 1 0 5.8 0M174.4 245.5a2.9 2.9 0 1 0-5.8 0a2.9 2.9 0 1 0 5.8 0M156.4 244.5a2.9 2.9 0 1 0-5.8 0a2.9 2.9 0 1 0 5.8 0M163.4 265.5a2.9 2.9 0 1 0-5.8 0a2.9 2.9 0 1 0 5.8 0M167.4 257.5a2.9 2.9 0 1 0-5.8 0a2.9 2.9 0 1 0 5.8 0M145.4 222.5a2.9 2.9 0 1 0-5.8 0a2.9 2.9 0 1 0 5.8 0M103.4 242.5a2.9 2.9 0 1 0-5.8 0a2.9 2.9 0 1 0 5.8 0M166.4 243.5a2.9 2.9 0 1 0-5.8 0a2.9 2.9 0 1 0 5.8 0M175.4 234.5a2.9 2.9 0 1 0-5.8 0a2.9 2.9 0 1 0 5.8 0M100.4 230.5a2.9 2.9 0 1 0-5.8 0a2.9 2.9 0 1 0 5.8 0M180.4 236.5a2.9 2.9 0 1 0-5.8 0a2.9 2.9 0 1 0 5.8 0M99.4 250.5a2.9 2.9 0 1 0-5.8 0a2.9 2.9 0 1 0 5.8 0M158.4 262.5a2.9 2.9 0 1 0-5.8 0a2.9 2.9 0 1 0 5.8 0M151.4 252.5a2.9 2.9 0 1 0-5.8 0a2.9 2.9 0 1 0 5.8 0M100.4 248.5a2.9 2.9 0 1 0-5.8 0a2.9 2.9 0 1 0 5.8 0M125.4 253.5a2.9 2.9 0 1 0-5.8 0a2.9 2.9 0 1 0 5.8 0M129.4 243.5a2.9 2.9 0 1 0-5.8 0a2.9 2.9 0 1 0 5.8 0M135.4 250.5a2.9 2.9 0 1 0-5.8 0a2.9 2.9 0 1 0 5.8 0M129.4 248.5a2.9 2.9 0 1 0-5.8 0a2.9 2.9 0 1 0 5.8 0M151.4 232.5a2.9 2.9 0 1 0-5.8 0a2.9 2.9 0 1 0 5.8 0M131.4 257.5a2.9 2.9 0 1 0-5.8 0a2.9 2.9 0 1 0 5.8 0M177.4 257.5a2.9 2.9 0 1 0-5.8 0a2.9 2.9 0 1 0 5.8 0M146.4 224.5a2.9 2.9 0 1 0-5.8 0a2.9 2.9 0 1 0 5.8 0M157.4 260.5a2.9 2.9 0 1 0-5.8 0a2.9 2.9 0 1 0 5.8 0M126.4 245.5a2.9 2.9 0 1 0-5.8 0a2.9 2.9 0 1 0 5.8 0M180.4 260.5a2.9 2.9 0 1 0-5.8 0a2.9 2.9 0 1 0 5.8 0M149.4 225.5a2.9 2.9 0 1 0-5.8 0a2.9 2.9 0 1 0 5.8 0M130.4 250.5a2.9 2.9 0 1 0-5.8 0a2.9 2.9 0 1 0 5.8 0M134.4 244.5a2.9 2.9 0 1 0-5.8 0a2.9 2.9 0 1 0 5.8 0M166.4 264.5a2.9 2.9 0 1 0-5.8 0a2.9 2.9 0 1 0 5.8 0M166.4 262.5a2.9 2.9 0 1 0-5.8 0a2.9 2.9 0 1 0 5.8 0M146.4 223.5a2.9 2.9 0 1 0-5.8 0a2.9 2.9 0 1 0 5.8 0M169.4 258.5a2.9 2.9 0 1 0-5.8 0a2.9 2.9 0 1 0 5.8 0M155.4 265.5a2.9 2.9 0 1 0-5.8 0a2.9 2.9 0 1 0 5.8 0M115.4 255.5a2.9 2.9 0 1 0-5.8 0a2.9 2.9 0 1 0 5.8 0M176.4 220.5a2.9 2.9 0 1 0-5.8 0a2.9 2.9 0 1 0 5.8 0M120.4 255.5a2.9 2.9 0 1 0-5.8 0a2.9 2.9 0 1 0 5.8 0M172.4 239.5a2.9 2.9 0 1 0-5.8 0a2.9 2.9 0 1 0 5.8 0M138.4 244.5a2.9 2.9 0 1 0-5.8 0a2.9 2.9 0 1 0 5.8 0M114.4 251.5a2.9 2.9 0 1 0-5.8 0a2.9 2.9 0 1 0 5.8 0M129.4 242.5a2.9 2.9 0 1 0-5.8 0a2.9 2.9 0 1 0 5.8 0M132.4 239.5a2.9 2.9 0 1 0-5.8 0a2.9 2.9 0 1 0 5.8 0M181.4 229.5a2.9 2.9 0 1 0-5.8 0a2.9 2.9 0 1 0 5.8 0M108.4 247.5a2.9 2.9 0 1 0-5.8 0a2.9 2.9 0 1 0 5.8 0M148.4 228.5a2.9 2.9 0 1 0-5.8 0a2.9 2.9 0 1 0 5.8 0M170.4 237.5a2.9 2.9 0 1 0-5.8 0a2.9 2.9 0 1 0 5.8 0M146.4 222.5a2.9 2.9 0 1 0-5.8 0a2.9 2.9 0 1 0 5.8 0M177.4 256.5a2.9 2.9 0 1 0-5.8 0a2.9 2.9 0 1 0 5.8 0M174.4 209.5a2.9 2.9 0 1 0-5.8 0a2.9 2.9 0 1 0 5.8 0M148.4 231.5a2.9 2.9 0 1 0-5.8 0a2.9 2.9 0 1 0 5.8 0M179.4 271.5a2.9 2.9 0 1 0-5.8 0a2.9 2.9 0 1 0 5.8 0M173.4 265.5a2.9 2.9 0 1 0-5.8 0a2.9 2.9 0 1 0 5.8 0M164.4 252.5a2.9 2.9 0 1 0-5.8 0a2.9 2.9 0 1 0 5.8 0M161.4 267.5a2.9 2.9 0 1 0-5.8 0a2.9 2.9 0 1 0 5.8 0M108.4 226.5a2.9 2.9 0 1 0-5.8 0a2.9 2.9 0 1 0 5.8 0M170.4 264.5a2.9 2.9 0 1 0-5.8 0a2.9 2.9 0 1 0 5.8 0M110.4 234.5a2.9 2.9 0 1 0-5.8 0a2.9 2.9 0 1 0 5.8 0M168.4 246.5a2.9 2.9 0 1 0-5.8 0a2.9 2.9 0 1 0 5.8 0M167.4 236.5a2.9 2.9 0 1 0-5.8 0a2.9 2.9 0 1 0 5.8 0M158.4 241.5a2.9 2.9 0 1 0-5.8 0a2.9 2.9 0 1 0 5.8 0M112.4 223.5a2.9 2.9 0 1 0-5.8 0a2.9 2.9 0 1 0 5.8 0M113.4 237.5a2.9 2.9 0 1 0-5.8 0a2.9 2.9 0 1 0 5.8 0M181.4 266.5a2.9 2.9 0 1 0-5.8 0a2.9 2.9 0 1 0 5.8 0M107.4 224.5a2.9 2.9 0 1 0-5.8 0a2.9 2.9 0 1 0 5.8 0M168.4 240.5a2.9 2.9 0 1 0-5.8 0a2.9 2.9 0 1 0 5.8 0M114.4 234.5a2.9 2.9 0 1 0-5.8 0a2.9 2.9 0 1 0 5.8 0M174.4 219.5a2.9 2.9 0 1 0-5.8 0a2.9 2.9 0 1 0 5.8 0M114.4 256.5a2.9 2.9 0 1 0-5.8 0a2.9 2.9 0 1 0 5.8 0M149.4 238.5a2.9 2.9 0 1 0-5.8 0a2.9 2.9 0 1 0 5.8 0M166.4 243.5a2.9 2.9 0 1 0-5.8 0a2.9 2.9 0 1 0 5.8 0M168.4 262.5a2.9 2.9 0 1 0-5.8 0a2.9 2.9 0 1 0 5.8 0M174.4 236.5a2.9 2.9 0 1 0-5.8 0a2.9 2.9 0 1 0 5.8 0M129.4 244.5a2.9 2.9 0 1 0-5.8 0a2.9 2.9 0 1 0 5.8 0M99.4 239.5a2.9 2.9 0 1 0-5.8 0a2.9 2.9 0 1 0 5.8 0M136.4 239.5a2.9 2.9 0 1 0-5.8 0a2.9 2.9 0 1 0 5.8 0M109.4 252.5a2.9 2.9 0 1 0-5.8 0a2.9 2.9 0 1 0 5.8 0M166.4 262.5a2.9 2.9 0 1 0-5.8 0a2.9 2.9 0 1 0 5.8 0M125.4 252.5a2.9 2.9 0 1 0-5.8 0a2.9 2.9 0 1 0 5.8 0M130.4 255.5a2.9 2.9 0 1 0-5.8 0a2.9 2.9 0 1 0 5.8 0M178.4 238.5a2.9 2.9 0 1 0-5.8 0a2.9 2.9 0 1 0 5.8 0M141.4 240.5a2.9 2.9 0 1 0-5.8 0a2.9 2.9 0 1 0 5.8 0M179.4 219.5a2.9 2.9 0 1 0-5.8 0a2.9 2.9 0 1 0 5.8 0M120.4 259.5a2.9 2.9 0 1 0-5.8 0a2.9 2.9 0 1 0 5.8 0M100.4 244.5a2.9 2.9 0 1 0-5.8 0a2.9 2.9 0 1 0 5.8 0M146.4 239.5a2.9 2.9 0 1 0-5.8 0a2.9 2.9 0 1 0 5.8 0M171.4 252.5a2.9 2.9 0 1 0-5.8 0a2.9 2.9 0 1 0 5.8 0M140.4 238.5a2.9 2.9 0 1 0-5.8 0a2.9 2.9 0 1 0 5.8 0M111.4 243.5a2.9 2.9 0 1 0-5.8 0a2.9 2.9 0 1 0 5.8 0M167.4 267.5a2.9 2.9 0 1 0-5.8 0a2.9 2.9 0 1 0 5.8 0M168.4 240.5a2.9 2.9 0 1 0-5.8 0a2.9 2.9 0 1 0 5.8 0M165.4 265.5a2.9 2.9 0 1 0-5.8 0a2.9 2.9 0 1 0 5.8 0M166.4 261.5a2.9 2.9 0 1 0-5.8 0a2.9 2.9 0 1 0 5.8 0M103.4 239.5a2.9 2.9 0 1 0-5.8 0a2.9 2.9 0 1 0 5.8 0M178.4 267.5a2.9 2.9 0 1 0-5.8 0a2.9 2.9 0 1 0 5.8 0M151.4 229.5a2.9 2.9 0 1 0-5.8 0a2.9 2.9 0 1 0 5.8 0M135.4 238.5a2.9 2.9 0 1 0-5.8 0a2.9 2.9 0 1 0 5.8 0M179.4 256.5a2.9 2.9 0 1 0-5.8 0a2.9 2.9 0 1 0 5.8 0M176.4 247.5a2.9 2.9 0 1 0-5.8 0a2.9 2.9 0 1 0 5.8 0M166.4 263.5a2.9 2.9 0 1 0-5.8 0a2.9 2.9 0 1 0 5.8 0M150.4 221.5a2.9 2.9 0 1 0-5.8 0a2.9 2.9 0 1 0 5.8 0M142.4 233.5a2.9 2.9 0 1 0-5.8 0a2.9 2.9 0 1 0 5.8 0M177.4 224.5a2.9 2.9 0 1 0-5.8 0a2.9 2.9 0 1 0 5.8 0M124.4 248.5a2.9 2.9 0 1 0-5.8 0a2.9 2.9 0 1 0 5.8 0M109.4 244.5a2.9 2.9 0 1 0-5.8 0a2.9 2.9 0 1 0 5.8 0M178.4 239.5a2.9 2.9 0 1 0-5.8 0a2.9 2.9 0 1 0 5.8 0M106.4 241.5a2.9 2.9 0 1 0-5.8 0a2.9 2.9 0 1 0 5.8 0M168.4 245.5a2.9 2.9 0 1 0-5.8 0a2.9 2.9 0 1 0 5.8 0M115.4 252.5a2.9 2.9 0 1 0-5.8 0a2.9 2.9 0 1 0 5.8 0M137.4 241.5a2.9 2.9 0 1 0-5.8 0a2.9 2.9 0 1 0 5.8 0M149.4 236.5a2.9 2.9 0 1 0-5.8 0a2.9 2.9 0 1 0 5.8 0M117.4 239.5a2.9 2.9 0 1 0-5.8 0a2.9 2.9 0 1 0 5.8 0M130.4 244.5a2.9 2.9 0 1 0-5.8 0a2.9 2.9 0 1 0 5.8 0M100.4 228.5a2.9 2.9 0 1 0-5.8 0a2.9 2.9 0 1 0 5.8 0M145.4 237.5a2.9 2.9 0 1 0-5.8 0a2.9 2.9 0 1 0 5.8 0M123.4 256.5a2.9 2.9 0 1 0-5.8 0a2.9 2.9 0 1 0 5.8 0M171.4 234.5a2.9 2.9 0 1 0-5.8 0a2.9 2.9 0 1 0 5.8 0M104.4 230.5a2.9 2.9 0 1 0-5.8 0a2.9 2.9 0 1 0 5.8 0M135.4 254.5a2.9 2.9 0 1 0-5.8 0a2.9 2.9 0 1 0 5.8 0M108.4 220.5a2.9 2.9 0 1 0-5.8 0a2.9 2.9 0 1 0 5.8 0M178.4 254.5a2.9 2.9 0 1 0-5.8 0a2.9 2.9 0 1 0 5.8 0M112.4 227.5a2.9 2.9 0 1 0-5.8 0a2.9 2.9 0 1 0 5.8 0M128.4 250.5a2.9 2.9 0 1 0-5.8 0a2.9 2.9 0 1 0 5.8 0M167.4 239.5a2.9 2.9 0 1 0-5.8 0a2.9 2.9 0 1 0 5.8 0M160.4 254.5a2.9 2.9 0 1 0-5.8 0a2.9 2.9 0 1 0 5.8 0M164.4 252.5a2.9 2.9 0 1 0-5.8 0a2.9 2.9 0 1 0 5.8 0M174.4 213.5a2.9 2.9 0 1 0-5.8 0a2.9 2.9 0 1 0 5.8 0M162.4 244.5a2.9 2.9 0 1 0-5.8 0a2.9 2.9 0 1 0 5.8 0M146.4 232.5a2.9 2.9 0 1 0-5.8 0a2.9 2.9 0 1 0 5.8 0M164.4 263.5a2.9 2.9 0 1 0-5.8 0a2.9 2.9 0 1 0 5.8 0M149.4 230.5a2.9 2.9 0 1 0-5.8 0a2.9 2.9 0 1 0 5.8 0M136.4 235.5a2.9 2.9 0 1 0-5.8 0a2.9 2.9 0 1 0 5.8 0M131.4 242.5a2.9 2.9 0 1 0-5.8 0a2.9 2.9 0 1 0 5.8 0M164.4 261.5a2.9 2.9 0 1 0-5.8 0a2.9 2.9 0 1 0 5.8 0M140.4 234.5a2.9 2.9 0 1 0-5.8 0a2.9 2.9 0 1 0 5.8 0M114.4 225.5a2.9 2.9 0 1 0-5.8 0a2.9 2.9 0 1 0 5.8 0M111.4 243.5a2.9 2.9 0 1 0-5.8 0a2.9 2.9 0 1 0 5.8 0M175.4 226.5a2.9 2.9 0 1 0-5.8 0a2.9 2.9 0 1 0 5.8 0M169.4 260.5a2.9 2.9 0 1 0-5.8 0a2.9 2.9 0 1 0 5.8 0M178.4 218.5a2.9 2.9 0 1 0-5.8 0a2.9 2.9 0 1 0 5.8 0M146.4 238.5a2.9 2.9 0 1 0-5.8 0a2.9 2.9 0 1 0 5.8 0M175.4 256.5a2.9 2.9 0 1 0-5.8 0a2.9 2.9 0 1 0 5.8 0M142.4 239.5a2.9 2.9 0 1 0-5.8 0a2.9 2.9 0 1 0 5.8 0M128.4 244.5a2.9 2.9 0 1 0-5.8 0a2.9 2.9 0 1 0 5.8 0M135.4 262.5a2.9 2.9 0 1 0-5.8 0a2.9 2.9 0 1 0 5.8 0M180.4 276.5a2.9 2.9 0 1 0-5.8 0a2.9 2.9 0 1 0 5.8 0M133.4 273.5a2.9 2.9 0 1 0-5.8 0a2.9 2.9 0 1 0 5.8 0M124.4 267.5a2.9 2.9 0 1 0-5.8 0a2.9 2.9 0 1 0 5.8 0M135.4 262.5a2.9 2.9 0 1 0-5.8 0a2.9 2.9 0 1 0 5.8 0M176.4 278.5a2.9 2.9 0 1 0-5.8 0a2.9 2.9 0 1 0 5.8 0M139.4 273.5a2.9 2.9 0 1 0-5.8 0a2.9 2.9 0 1 0 5.8 0M112.4 268.5a2.9 2.9 0 1 0-5.8 0a2.9 2.9 0 1 0 5.8 0M135.4 276.5a2.9 2.9 0 1 0-5.8 0a2.9 2.9 0 1 0 5.8 0M128.4 269.5a2.9 2.9 0 1 0-5.8 0a2.9 2.9 0 1 0 5.8 0M121.4 272.5a2.9 2.9 0 1 0-5.8 0a2.9 2.9 0 1 0 5.8 0M131.4 264.5a2.9 2.9 0 1 0-5.8 0a2.9 2.9 0 1 0 5.8 0M125.4 265.5a2.9 2.9 0 1 0-5.8 0a2.9 2.9 0 1 0 5.8 0M108.4 258.5a2.9 2.9 0 1 0-5.8 0a2.9 2.9 0 1 0 5.8 0M109.4 268.5a2.9 2.9 0 1 0-5.8 0a2.9 2.9 0 1 0 5.8 0M174.4 272.5a2.9 2.9 0 1 0-5.8 0a2.9 2.9 0 1 0 5.8 0M172.4 278.5a2.9 2.9 0 1 0-5.8 0a2.9 2.9 0 1 0 5.8 0M101.4 266.5a2.9 2.9 0 1 0-5.8 0a2.9 2.9 0 1 0 5.8 0M133.4 264.5a2.9 2.9 0 1 0-5.8 0a2.9 2.9 0 1 0 5.8 0M160.4 268.5a2.9 2.9 0 1 0-5.8 0a2.9 2.9 0 1 0 5.8 0M135.4 266.5a2.9 2.9 0 1 0-5.8 0a2.9 2.9 0 1 0 5.8 0M168.4 272.5a2.9 2.9 0 1 0-5.8 0a2.9 2.9 0 1 0 5.8 0M161.4 276.5a2.9 2.9 0 1 0-5.8 0a2.9 2.9 0 1 0 5.8 0M160.4 276.5a2.9 2.9 0 1 0-5.8 0a2.9 2.9 0 1 0 5.8 0M103.4 267.5a2.9 2.9 0 1 0-5.8 0a2.9 2.9 0 1 0 5.8 0M157.4 274.5a2.9 2.9 0 1 0-5.8 0a2.9 2.9 0 1 0 5.8 0M111.4 258.5a2.9 2.9 0 1 0-5.8 0a2.9 2.9 0 1 0 5.8 0M126.4 275.5a2.9 2.9 0 1 0-5.8 0a2.9 2.9 0 1 0 5.8 0M113.4 265.5a2.9 2.9 0 1 0-5.8 0a2.9 2.9 0 1 0 5.8 0M162.4 276.5a2.9 2.9 0 1 0-5.8 0a2.9 2.9 0 1 0 5.8 0M115.4 267.5a2.9 2.9 0 1 0-5.8 0a2.9 2.9 0 1 0 5.8 0M106.4 268.5a2.9 2.9 0 1 0-5.8 0a2.9 2.9 0 1 0 5.8 0M114.4 263.5a2.9 2.9 0 1 0-5.8 0a2.9 2.9 0 1 0 5.8 0M169.4 282.5a2.9 2.9 0 1 0-5.8 0a2.9 2.9 0 1 0 5.8 0M113.4 273.5a2.9 2.9 0 1 0-5.8 0a2.9 2.9 0 1 0 5.8 0M167.4 270.5a2.9 2.9 0 1 0-5.8 0a2.9 2.9 0 1 0 5.8 0M129.4 276.5a2.9 2.9 0 1 0-5.8 0a2.9 2.9 0 1 0 5.8 0M174.4 284.5a2.9 2.9 0 1 0-5.8 0a2.9 2.9 0 1 0 5.8 0M168.4 278.5a2.9 2.9 0 1 0-5.8 0a2.9 2.9 0 1 0 5.8 0M122.4 265.5a2.9 2.9 0 1 0-5.8 0a2.9 2.9 0 1 0 5.8 0M154.4 276.5a2.9 2.9 0 1 0-5.8 0a2.9 2.9 0 1 0 5.8 0M179.4 281.5a2.9 2.9 0 1 0-5.8 0a2.9 2.9 0 1 0 5.8 0M170.4 285.5a2.9 2.9 0 1 0-5.8 0a2.9 2.9 0 1 0 5.8 0M106.4 265.5a2.9 2.9 0 1 0-5.8 0a2.9 2.9 0 1 0 5.8 0M100.4 260.5a2.9 2.9 0 1 0-5.8 0a2.9 2.9 0 1 0 5.8 0M175.4 279.5a2.9 2.9 0 1 0-5.8 0a2.9 2.9 0 1 0 5.8 0M113.4 270.5a2.9 2.9 0 1 0-5.8 0a2.9 2.9 0 1 0 5.8 0M127.4 271.5a2.9 2.9 0 1 0-5.8 0a2.9 2.9 0 1 0 5.8 0M155.4 276.5a2.9 2.9 0 1 0-5.8 0a2.9 2.9 0 1 0 5.8 0M160.4 284.5a2.9 2.9 0 1 0-5.8 0a2.9 2.9 0 1 0 5.8 0M123.4 266.5a2.9 2.9 0 1 0-5.8 0a2.9 2.9 0 1 0 5.8 0M156.4 274.5a2.9 2.9 0 1 0-5.8 0a2.9 2.9 0 1 0 5.8 0M99.4 259.5a2.9 2.9 0 1 0-5.8 0a2.9 2.9 0 1 0 5.8 0M171.4 272.5a2.9 2.9 0 1 0-5.8 0a2.9 2.9 0 1 0 5.8 0M165.4 279.5a2.9 2.9 0 1 0-5.8 0a2.9 2.9 0 1 0 5.8 0M124.4 271.5a2.9 2.9 0 1 0-5.8 0a2.9 2.9 0 1 0 5.8 0M128.4 272.5a2.9 2.9 0 1 0-5.8 0a2.9 2.9 0 1 0 5.8 0M166.4 279.5a2.9 2.9 0 1 0-5.8 0a2.9 2.9 0 1 0 5.8 0M126.4 270.5a2.9 2.9 0 1 0-5.8 0a2.9 2.9 0 1 0 5.8 0M103.4 262.5a2.9 2.9 0 1 0-5.8 0a2.9 2.9 0 1 0 5.8 0M158.4 271.5a2.9 2.9 0 1 0-5.8 0a2.9 2.9 0 1 0 5.8 0M138.4 264.5a2.9 2.9 0 1 0-5.8 0a2.9 2.9 0 1 0 5.8 0M160.4 282.5a2.9 2.9 0 1 0-5.8 0a2.9 2.9 0 1 0 5.8 0M108.4 269.5a2.9 2.9 0 1 0-5.8 0a2.9 2.9 0 1 0 5.8 0M104.4 264.5a2.9 2.9 0 1 0-5.8 0a2.9 2.9 0 1 0 5.8 0M104.4 258.5a2.9 2.9 0 1 0-5.8 0a2.9 2.9 0 1 0 5.8 0M161.4 275.5a2.9 2.9 0 1 0-5.8 0a2.9 2.9 0 1 0 5.8 0M112.4 266.5a2.9 2.9 0 1 0-5.8 0a2.9 2.9 0 1 0 5.8 0M129.4 273.5a2.9 2.9 0 1 0-5.8 0a2.9 2.9 0 1 0 5.8 0M111.4 270.5a2.9 2.9 0 1 0-5.8 0a2.9 2.9 0 1 0 5.8 0M158.4 279.5a2.9 2.9 0 1 0-5.8 0a2.9 2.9 0 1 0 5.8 0M118.4 273.5a2.9 2.9 0 1 0-5.8 0a2.9 2.9 0 1 0 5.8 0M114.4 266.5a2.9 2.9 0 1 0-5.8 0a2.9 2.9 0 1 0 5.8 0M111.4 270.5a2.9 2.9 0 1 0-5.8 0a2.9 2.9 0 1 0 5.8 0M169.4 273.5a2.9 2.9 0 1 0-5.8 0a2.9 2.9 0 1 0 5.8 0M99.4 270.5a2.9 2.9 0 1 0-5.8 0a2.9 2.9 0 1 0 5.8 0M118.4 262.5a2.9 2.9 0 1 0-5.8 0a2.9 2.9 0 1 0 5.8 0M117.4 261.5a2.9 2.9 0 1 0-5.8 0a2.9 2.9 0 1 0 5.8 0M138.4 269.5a2.9 2.9 0 1 0-5.8 0a2.9 2.9 0 1 0 5.8 0M137.4 279.5a2.9 2.9 0 1 0-5.8 0a2.9 2.9 0 1 0 5.8 0M167.4 296.5a2.9 2.9 0 1 0-5.8 0a2.9 2.9 0 1 0 5.8 0M130.4 292.5a2.9 2.9 0 1 0-5.8 0a2.9 2.9 0 1 0 5.8 0M138.4 290.5a2.9 2.9 0 1 0-5.8 0a2.9 2.9 0 1 0 5.8 0M151.4 294.5a2.9 2.9 0 1 0-5.8 0a2.9 2.9 0 1 0 5.8 0M133.4 280.5a2.9 2.9 0 1 0-5.8 0a2.9 2.9 0 1 0 5.8 0M130.4 281.5a2.9 2.9 0 1 0-5.8 0a2.9 2.9 0 1 0 5.8 0M101.4 276.5a2.9 2.9 0 1 0-5.8 0a2.9 2.9 0 1 0 5.8 0M141.4 292.5a2.9 2.9 0 1 0-5.8 0a2.9 2.9 0 1 0 5.8 0M154.4 286.5a2.9 2.9 0 1 0-5.8 0a2.9 2.9 0 1 0 5.8 0M162.4 288.5a2.9 2.9 0 1 0-5.8 0a2.9 2.9 0 1 0 5.8 0M103.4 282.5a2.9 2.9 0 1 0-5.8 0a2.9 2.9 0 1 0 5.8 0M103.4 283.5a2.9 2.9 0 1 0-5.8 0a2.9 2.9 0 1 0 5.8 0M181.4 291.5a2.9 2.9 0 1 0-5.8 0a2.9 2.9 0 1 0 5.8 0M170.4 290.5a2.9 2.9 0 1 0-5.8 0a2.9 2.9 0 1 0 5.8 0M272.4 245.5a2.9 2.9 0 1 0-5.8 0a2.9 2.9 0 1 0 5.8 0M186.4 229.5a2.9 2.9 0 1 0-5.8 0a2.9 2.9 0 1 0 5.8 0M208.4 262.5a2.9 2.9 0 1 0-5.8 0a2.9 2.9 0 1 0 5.8 0M261.4 248.5a2.9 2.9 0 1 0-5.8 0a2.9 2.9 0 1 0 5.8 0M226.4 271.5a2.9 2.9 0 1 0-5.8 0a2.9 2.9 0 1 0 5.8 0M225.4 267.5a2.9 2.9 0 1 0-5.8 0a2.9 2.9 0 1 0 5.8 0M186.4 237.5a2.9 2.9 0 1 0-5.8 0a2.9 2.9 0 1 0 5.8 0M273.4 245.5a2.9 2.9 0 1 0-5.8 0a2.9 2.9 0 1 0 5.8 0M261.4 241.5a2.9 2.9 0 1 0-5.8 0a2.9 2.9 0 1 0 5.8 0M248.4 253.5a2.9 2.9 0 1 0-5.8 0a2.9 2.9 0 1 0 5.8 0M210.4 221.5a2.9 2.9 0 1 0-5.8 0a2.9 2.9 0 1 0 5.8 0M272.4 221.5a2.9 2.9 0 1 0-5.8 0a2.9 2.9 0 1 0 5.8 0M222.4 252.5a2.9 2.9 0 1 0-5.8 0a2.9 2.9 0 1 0 5.8 0M186.4 255.5a2.9 2.9 0 1 0-5.8 0a2.9 2.9 0 1 0 5.8 0M185.4 264.5a2.9 2.9 0 1 0-5.8 0a2.9 2.9 0 1 0 5.8 0M210.4 223.5a2.9 2.9 0 1 0-5.8 0a2.9 2.9 0 1 0 5.8 0M272.4 229.5a2.9 2.9 0 1 0-5.8 0a2.9 2.9 0 1 0 5.8 0M218.4 251.5a2.9 2.9 0 1 0-5.8 0a2.9 2.9 0 1 0 5.8 0M203.4 244.5a2.9 2.9 0 1 0-5.8 0a2.9 2.9 0 1 0 5.8 0M190.4 239.5a2.9 2.9 0 1 0-5.8 0a2.9 2.9 0 1 0 5.8 0M253.4 236.5a2.9 2.9 0 1 0-5.8 0a2.9 2.9 0 1 0 5.8 0M274.4 243.5a2.9 2.9 0 1 0-5.8 0a2.9 2.9 0 1 0 5.8 0M210.4 231.5a2.9 2.9 0 1 0-5.8 0a2.9 2.9 0 1 0 5.8 0M256.4 241.5a2.9 2.9 0 1 0-5.8 0a2.9 2.9 0 1 0 5.8 0M273.4 213.5a2.9 2.9 0 1 0-5.8 0a2.9 2.9 0 1 0 5.8 0M229.4 266.5a2.9 2.9 0 1 0-5.8 0a2.9 2.9 0 1 0 5.8 0M273.4 209.5a2.9 2.9 0 1 0-5.8 0a2.9 2.9 0 1 0 5.8 0M214.4 238.5a2.9 2.9 0 1 0-5.8 0a2.9 2.9 0 1 0 5.8 0M198.4 261.5a2.9 2.9 0 1 0-5.8 0a2.9 2.9 0 1 0 5.8 0M236.4 261.5a2.9 2.9 0 1 0-5.8 0a2.9 2.9 0 1 0 5.8 0M184.4 242.5a2.9 2.9 0 1 0-5.8 0a2.9 2.9 0 1 0 5.8 0M190.4 251.5a2.9 2.9 0 1 0-5.8 0a2.9 2.9 0 1 0 5.8 0M194.4 247.5a2.9 2.9 0 1 0-5.8 0a2.9 2.9 0 1 0 5.8 0M216.4 233.5a2.9 2.9 0 1 0-5.8 0a2.9 2.9 0 1 0 5.8 0M268.4 240.5a2.9 2.9 0 1 0-5.8 0a2.9 2.9 0 1 0 5.8 0M192.4 239.5a2.9 2.9 0 1 0-5.8 0a2.9 2.9 0 1 0 5.8 0M197.4 244.5a2.9 2.9 0 1 0-5.8 0a2.9 2.9 0 1 0 5.8 0M200.4 235.5a2.9 2.9 0 1 0-5.8 0a2.9 2.9 0 1 0 5.8 0M204.4 267.5a2.9 2.9 0 1 0-5.8 0a2.9 2.9 0 1 0 5.8 0M231.4 268.5a2.9 2.9 0 1 0-5.8 0a2.9 2.9 0 1 0 5.8 0M229.4 261.5a2.9 2.9 0 1 0-5.8 0a2.9 2.9 0 1 0 5.8 0M238.4 254.5a2.9 2.9 0 1 0-5.8 0a2.9 2.9 0 1 0 5.8 0M203.4 258.5a2.9 2.9 0 1 0-5.8 0a2.9 2.9 0 1 0 5.8 0M196.4 225.5a2.9 2.9 0 1 0-5.8 0a2.9 2.9 0 1 0 5.8 0M184.4 234.5a2.9 2.9 0 1 0-5.8 0a2.9 2.9 0 1 0 5.8 0M240.4 261.5a2.9 2.9 0 1 0-5.8 0a2.9 2.9 0 1 0 5.8 0M242.4 254.5a2.9 2.9 0 1 0-5.8 0a2.9 2.9 0 1 0 5.8 0M262.4 230.5a2.9 2.9 0 1 0-5.8 0a2.9 2.9 0 1 0 5.8 0M262.4 239.5a2.9 2.9 0 1 0-5.8 0a2.9 2.9 0 1 0 5.8 0M273.4 208.5a2.9 2.9 0 1 0-5.8 0a2.9 2.9 0 1 0 5.8 0M275.4 235.5a2.9 2.9 0 1 0-5.8 0a2.9 2.9 0 1 0 5.8 0M256.4 251.5a2.9 2.9 0 1 0-5.8 0a2.9 2.9 0 1 0 5.8 0M200.4 250.5a2.9 2.9 0 1 0-5.8 0a2.9 2.9 0 1 0 5.8 0M190.4 256.5a2.9 2.9 0 1 0-5.8 0a2.9 2.9 0 1 0 5.8 0M277.4 253.5a2.9 2.9 0 1 0-5.8 0a2.9 2.9 0 1 0 5.8 0M271.4 258.5a2.9 2.9 0 1 0-5.8 0a2.9 2.9 0 1 0 5.8 0M277.4 243.5a2.9 2.9 0 1 0-5.8 0a2.9 2.9 0 1 0 5.8 0M275.4 215.5a2.9 2.9 0 1 0-5.8 0a2.9 2.9 0 1 0 5.8 0M277.4 261.5a2.9 2.9 0 1 0-5.8 0a2.9 2.9 0 1 0 5.8 0M206.4 264.5a2.9 2.9 0 1 0-5.8 0a2.9 2.9 0 1 0 5.8 0M204.4 221.5a2.9 2.9 0 1 0-5.8 0a2.9 2.9 0 1 0 5.8 0M230.4 269.5a2.9 2.9 0 1 0-5.8 0a2.9 2.9 0 1 0 5.8 0M249.4 256.5a2.9 2.9 0 1 0-5.8 0a2.9 2.9 0 1 0 5.8 0M220.4 261.5a2.9 2.9 0 1 0-5.8 0a2.9 2.9 0 1 0 5.8 0M260.4 254.5a2.9 2.9 0 1 0-5.8 0a2.9 2.9 0 1 0 5.8 0M246.4 264.5a2.9 2.9 0 1 0-5.8 0a2.9 2.9 0 1 0 5.8 0M214.4 248.5a2.9 2.9 0 1 0-5.8 0a2.9 2.9 0 1 0 5.8 0M181.4 241.5a2.9 2.9 0 1 0-5.8 0a2.9 2.9 0 1 0 5.8 0M262.4 236.5a2.9 2.9 0 1 0-5.8 0a2.9 2.9 0 1 0 5.8 0M214.4 222.5a2.9 2.9 0 1 0-5.8 0a2.9 2.9 0 1 0 5.8 0M189.4 226.5a2.9 2.9 0 1 0-5.8 0a2.9 2.9 0 1 0 5.8 0M251.4 237.5a2.9 2.9 0 1 0-5.8 0a2.9 2.9 0 1 0 5.8 0M247.4 262.5a2.9 2.9 0 1 0-5.8 0a2.9 2.9 0 1 0 5.8 0M193.4 254.5a2.9 2.9 0 1 0-5.8 0a2.9 2.9 0 1 0 5.8 0M185.4 263.5a2.9 2.9 0 1 0-5.8 0a2.9 2.9 0 1 0 5.8 0M199.4 226.5a2.9 2.9 0 1 0-5.8 0a2.9 2.9 0 1 0 5.8 0M276.4 232.5a2.9 2.9 0 1 0-5.8 0a2.9 2.9 0 1 0 5.8 0M242.4 268.5a2.9 2.9 0 1 0-5.8 0a2.9 2.9 0 1 0 5.8 0M220.4 241.5a2.9 2.9 0 1 0-5.8 0a2.9 2.9 0 1 0 5.8 0M276.4 242.5a2.9 2.9 0 1 0-5.8 0a2.9 2.9 0 1 0 5.8 0M279.4 220.5a2.9 2.9 0 1 0-5.8 0a2.9 2.9 0 1 0 5.8 0M226.4 262.5a2.9 2.9 0 1 0-5.8 0a2.9 2.9 0 1 0 5.8 0M206.4 231.5a2.9 2.9 0 1 0-5.8 0a2.9 2.9 0 1 0 5.8 0M191.4 245.5a2.9 2.9 0 1 0-5.8 0a2.9 2.9 0 1 0 5.8 0M267.4 242.5a2.9 2.9 0 1 0-5.8 0a2.9 2.9 0 1 0 5.8 0M270.4 253.5a2.9 2.9 0 1 0-5.8 0a2.9 2.9 0 1 0 5.8 0M188.4 250.5a2.9 2.9 0 1 0-5.8 0a2.9 2.9 0 1 0 5.8 0M217.4 252.5a2.9 2.9 0 1 0-5.8 0a2.9 2.9 0 1 0 5.8 0M233.4 253.5a2.9 2.9 0 1 0-5.8 0a2.9 2.9 0 1 0 5.8 0M271.4 241.5a2.9 2.9 0 1 0-5.8 0a2.9 2.9 0 1 0 5.8 0M186.4 264.5a2.9 2.9 0 1 0-5.8 0a2.9 2.9 0 1 0 5.8 0M249.4 245.5a2.9 2.9 0 1 0-5.8 0a2.9 2.9 0 1 0 5.8 0M225.4 258.5a2.9 2.9 0 1 0-5.8 0a2.9 2.9 0 1 0 5.8 0M270.4 257.5a2.9 2.9 0 1 0-5.8 0a2.9 2.9 0 1 0 5.8 0M213.4 216.5a2.9 2.9 0 1 0-5.8 0a2.9 2.9 0 1 0 5.8 0M195.4 247.5a2.9 2.9 0 1 0-5.8 0a2.9 2.9 0 1 0 5.8 0M220.4 258.5a2.9 2.9 0 1 0-5.8 0a2.9 2.9 0 1 0 5.8 0M257.4 227.5a2.9 2.9 0 1 0-5.8 0a2.9 2.9 0 1 0 5.8 0M278.4 251.5a2.9 2.9 0 1 0-5.8 0a2.9 2.9 0 1 0 5.8 0M261.4 253.5a2.9 2.9 0 1 0-5.8 0a2.9 2.9 0 1 0 5.8 0M251.4 254.5a2.9 2.9 0 1 0-5.8 0a2.9 2.9 0 1 0 5.8 0M208.4 218.5a2.9 2.9 0 1 0-5.8 0a2.9 2.9 0 1 0 5.8 0M238.4 264.5a2.9 2.9 0 1 0-5.8 0a2.9 2.9 0 1 0 5.8 0M260.4 231.5a2.9 2.9 0 1 0-5.8 0a2.9 2.9 0 1 0 5.8 0M194.4 242.5a2.9 2.9 0 1 0-5.8 0a2.9 2.9 0 1 0 5.8 0M210.4 233.5a2.9 2.9 0 1 0-5.8 0a2.9 2.9 0 1 0 5.8 0M199.4 228.5a2.9 2.9 0 1 0-5.8 0a2.9 2.9 0 1 0 5.8 0M275.4 221.5a2.9 2.9 0 1 0-5.8 0a2.9 2.9 0 1 0 5.8 0M213.4 237.5a2.9 2.9 0 1 0-5.8 0a2.9 2.9 0 1 0 5.8 0M191.4 225.5a2.9 2.9 0 1 0-5.8 0a2.9 2.9 0 1 0 5.8 0M277.4 225.5a2.9 2.9 0 1 0-5.8 0a2.9 2.9 0 1 0 5.8 0M226.4 264.5a2.9 2.9 0 1 0-5.8 0a2.9 2.9 0 1 0 5.8 0M244.4 260.5a2.9 2.9 0 1 0-5.8 0a2.9 2.9 0 1 0 5.8 0M212.4 217.5a2.9 2.9 0 1 0-5.8 0a2.9 2.9 0 1 0 5.8 0M256.4 239.5a2.9 2.9 0 1 0-5.8 0a2.9 2.9 0 1 0 5.8 0M236.4 253.5a2.9 2.9 0 1 0-5.8 0a2.9 2.9 0 1 0 5.8 0M256.4 226.5a2.9 2.9 0 1 0-5.8 0a2.9 2.9 0 1 0 5.8 0M263.4 246.5a2.9 2.9 0 1 0-5.8 0a2.9 2.9 0 1 0 5.8 0M207.4 224.5a2.9 2.9 0 1 0-5.8 0a2.9 2.9 0 1 0 5.8 0M187.4 245.5a2.9 2.9 0 1 0-5.8 0a2.9 2.9 0 1 0 5.8 0M256.4 253.5a2.9 2.9 0 1 0-5.8 0a2.9 2.9 0 1 0 5.8 0M222.4 262.5a2.9 2.9 0 1 0-5.8 0a2.9 2.9 0 1 0 5.8 0M192.4 228.5a2.9 2.9 0 1 0-5.8 0a2.9 2.9 0 1 0 5.8 0M244.4 254.5a2.9 2.9 0 1 0-5.8 0a2.9 2.9 0 1 0 5.8 0M258.4 234.5a2.9 2.9 0 1 0-5.8 0a2.9 2.9 0 1 0 5.8 0M275.4 258.5a2.9 2.9 0 1 0-5.8 0a2.9 2.9 0 1 0 5.8 0M215.4 234.5a2.9 2.9 0 1 0-5.8 0a2.9 2.9 0 1 0 5.8 0M261.4 231.5a2.9 2.9 0 1 0-5.8 0a2.9 2.9 0 1 0 5.8 0M194.4 230.5a2.9 2.9 0 1 0-5.8 0a2.9 2.9 0 1 0 5.8 0M187.4 235.5a2.9 2.9 0 1 0-5.8 0a2.9 2.9 0 1 0 5.8 0M231.4 265.5a2.9 2.9 0 1 0-5.8 0a2.9 2.9 0 1 0 5.8 0M247.4 247.5a2.9 2.9 0 1 0-5.8 0a2.9 2.9 0 1 0 5.8 0M221.4 246.5a2.9 2.9 0 1 0-5.8 0a2.9 2.9 0 1 0 5.8 0M208.4 265.5a2.9 2.9 0 1 0-5.8 0a2.9 2.9 0 1 0 5.8 0M196.4 253.5a2.9 2.9 0 1 0-5.8 0a2.9 2.9 0 1 0 5.8 0M256.4 241.5a2.9 2.9 0 1 0-5.8 0a2.9 2.9 0 1 0 5.8 0M245.4 267.5a2.9 2.9 0 1 0-5.8 0a2.9 2.9 0 1 0 5.8 0M194.4 255.5a2.9 2.9 0 1 0-5.8 0a2.9 2.9 0 1 0 5.8 0M251.4 249.5a2.9 2.9 0 1 0-5.8 0a2.9 2.9 0 1 0 5.8 0M241.4 263.5a2.9 2.9 0 1 0-5.8 0a2.9 2.9 0 1 0 5.8 0M208.4 222.5a2.9 2.9 0 1 0-5.8 0a2.9 2.9 0 1 0 5.8 0M261.4 232.5a2.9 2.9 0 1 0-5.8 0a2.9 2.9 0 1 0 5.8 0M264.4 229.5a2.9 2.9 0 1 0-5.8 0a2.9 2.9 0 1 0 5.8 0M181.4 250.5a2.9 2.9 0 1 0-5.8 0a2.9 2.9 0 1 0 5.8 0M194.4 226.5a2.9 2.9 0 1 0-5.8 0a2.9 2.9 0 1 0 5.8 0M186.4 238.5a2.9 2.9 0 1 0-5.8 0a2.9 2.9 0 1 0 5.8 0M236.4 262.5a2.9 2.9 0 1 0-5.8 0a2.9 2.9 0 1 0 5.8 0M184.4 264.5a2.9 2.9 0 1 0-5.8 0a2.9 2.9 0 1 0 5.8 0M192.4 222.5a2.9 2.9 0 1 0-5.8 0a2.9 2.9 0 1 0 5.8 0M214.4 246.5a2.9 2.9 0 1 0-5.8 0a2.9 2.9 0 1 0 5.8 0M202.4 261.5a2.9 2.9 0 1 0-5.8 0a2.9 2.9 0 1 0 5.8 0M201.4 264.5a2.9 2.9 0 1 0-5.8 0a2.9 2.9 0 1 0 5.8 0M261.4 244.5a2.9 2.9 0 1 0-5.8 0a2.9 2.9 0 1 0 5.8 0M184.4 260.5a2.9 2.9 0 1 0-5.8 0a2.9 2.9 0 1 0 5.8 0M183.4 242.5a2.9 2.9 0 1 0-5.8 0a2.9 2.9 0 1 0 5.8 0M244.4 257.5a2.9 2.9 0 1 0-5.8 0a2.9 2.9 0 1 0 5.8 0M232.4 247.5a2.9 2.9 0 1 0-5.8 0a2.9 2.9 0 1 0 5.8 0M203.4 266.5a2.9 2.9 0 1 0-5.8 0a2.9 2.9 0 1 0 5.8 0M277.4 230.5a2.9 2.9 0 1 0-5.8 0a2.9 2.9 0 1 0 5.8 0M226.4 254.5a2.9 2.9 0 1 0-5.8 0a2.9 2.9 0 1 0 5.8 0M251.4 238.5a2.9 2.9 0 1 0-5.8 0a2.9 2.9 0 1 0 5.8 0M200.4 257.5a2.9 2.9 0 1 0-5.8 0a2.9 2.9 0 1 0 5.8 0M200.4 255.5a2.9 2.9 0 1 0-5.8 0a2.9 2.9 0 1 0 5.8 0M200.4 225.5a2.9 2.9 0 1 0-5.8 0a2.9 2.9 0 1 0 5.8 0M237.4 255.5a2.9 2.9 0 1 0-5.8 0a2.9 2.9 0 1 0 5.8 0M278.4 258.5a2.9 2.9 0 1 0-5.8 0a2.9 2.9 0 1 0 5.8 0M253.4 256.5a2.9 2.9 0 1 0-5.8 0a2.9 2.9 0 1 0 5.8 0M182.4 266.5a2.9 2.9 0 1 0-5.8 0a2.9 2.9 0 1 0 5.8 0M253.4 250.5a2.9 2.9 0 1 0-5.8 0a2.9 2.9 0 1 0 5.8 0M207.4 231.5a2.9 2.9 0 1 0-5.8 0a2.9 2.9 0 1 0 5.8 0M197.4 250.5a2.9 2.9 0 1 0-5.8 0a2.9 2.9 0 1 0 5.8 0M280.4 228.5a2.9 2.9 0 1 0-5.8 0a2.9 2.9 0 1 0 5.8 0M261.4 238.5a2.9 2.9 0 1 0-5.8 0a2.9 2.9 0 1 0 5.8 0M196.4 260.5a2.9 2.9 0 1 0-5.8 0a2.9 2.9 0 1 0 5.8 0M228.4 275.5a2.9 2.9 0 1 0-5.8 0a2.9 2.9 0 1 0 5.8 0M272.4 261.5a2.9 2.9 0 1 0-5.8 0a2.9 2.9 0 1 0 5.8 0M228.4 263.5a2.9 2.9 0 1 0-5.8 0a2.9 2.9 0 1 0 5.8 0M201.4 224.5a2.9 2.9 0 1 0-5.8 0a2.9 2.9 0 1 0 5.8 0M183.4 269.5a2.9 2.9 0 1 0-5.8 0a2.9 2.9 0 1 0 5.8 0M279.4 237.5a2.9 2.9 0 1 0-5.8 0a2.9 2.9 0 1 0 5.8 0M254.4 233.5a2.9 2.9 0 1 0-5.8 0a2.9 2.9 0 1 0 5.8 0M202.4 247.5a2.9 2.9 0 1 0-5.8 0a2.9 2.9 0 1 0 5.8 0M269.4 244.5a2.9 2.9 0 1 0-5.8 0a2.9 2.9 0 1 0 5.8 0M188.4 229.5a2.9 2.9 0 1 0-5.8 0a2.9 2.9 0 1 0 5.8 0M243.4 268.5a2.9 2.9 0 1 0-5.8 0a2.9 2.9 0 1 0 5.8 0M229.4 251.5a2.9 2.9 0 1 0-5.8 0a2.9 2.9 0 1 0 5.8 0M201.4 224.5a2.9 2.9 0 1 0-5.8 0a2.9 2.9 0 1 0 5.8 0M271.4 233.5a2.9 2.9 0 1 0-5.8 0a2.9 2.9 0 1 0 5.8 0M191.4 247.5a2.9 2.9 0 1 0-5.8 0a2.9 2.9 0 1 0 5.8 0M193.4 221.5a2.9 2.9 0 1 0-5.8 0a2.9 2.9 0 1 0 5.8 0M226.4 247.5a2.9 2.9 0 1 0-5.8 0a2.9 2.9 0 1 0 5.8 0M244.4 255.5a2.9 2.9 0 1 0-5.8 0a2.9 2.9 0 1 0 5.8 0M248.4 256.5a2.9 2.9 0 1 0-5.8 0a2.9 2.9 0 1 0 5.8 0M250.4 239.5a2.9 2.9 0 1 0-5.8 0a2.9 2.9 0 1 0 5.8 0M203.4 234.5a2.9 2.9 0 1 0-5.8 0a2.9 2.9 0 1 0 5.8 0M244.4 258.5a2.9 2.9 0 1 0-5.8 0a2.9 2.9 0 1 0 5.8 0M202.4 253.5a2.9 2.9 0 1 0-5.8 0a2.9 2.9 0 1 0 5.8 0M274.4 251.5a2.9 2.9 0 1 0-5.8 0a2.9 2.9 0 1 0 5.8 0M272.4 225.5a2.9 2.9 0 1 0-5.8 0a2.9 2.9 0 1 0 5.8 0M278.4 256.5a2.9 2.9 0 1 0-5.8 0a2.9 2.9 0 1 0 5.8 0M199.4 262.5a2.9 2.9 0 1 0-5.8 0a2.9 2.9 0 1 0 5.8 0M197.4 242.5a2.9 2.9 0 1 0-5.8 0a2.9 2.9 0 1 0 5.8 0M191.4 261.5a2.9 2.9 0 1 0-5.8 0a2.9 2.9 0 1 0 5.8 0M181.4 265.5a2.9 2.9 0 1 0-5.8 0a2.9 2.9 0 1 0 5.8 0M236.4 263.5a2.9 2.9 0 1 0-5.8 0a2.9 2.9 0 1 0 5.8 0M231.4 249.5a2.9 2.9 0 1 0-5.8 0a2.9 2.9 0 1 0 5.8 0M240.4 262.5a2.9 2.9 0 1 0-5.8 0a2.9 2.9 0 1 0 5.8 0M278.4 244.5a2.9 2.9 0 1 0-5.8 0a2.9 2.9 0 1 0 5.8 0M250.4 248.5a2.9 2.9 0 1 0-5.8 0a2.9 2.9 0 1 0 5.8 0M221.4 249.5a2.9 2.9 0 1 0-5.8 0a2.9 2.9 0 1 0 5.8 0M254.4 262.5a2.9 2.9 0 1 0-5.8 0a2.9 2.9 0 1 0 5.8 0M249.4 265.5a2.9 2.9 0 1 0-5.8 0a2.9 2.9 0 1 0 5.8 0M224.4 267.5a2.9 2.9 0 1 0-5.8 0a2.9 2.9 0 1 0 5.8 0M225.4 255.5a2.9 2.9 0 1 0-5.8 0a2.9 2.9 0 1 0 5.8 0M206.4 228.5a2.9 2.9 0 1 0-5.8 0a2.9 2.9 0 1 0 5.8 0M190.4 237.5a2.9 2.9 0 1 0-5.8 0a2.9 2.9 0 1 0 5.8 0M279.4 252.5a2.9 2.9 0 1 0-5.8 0a2.9 2.9 0 1 0 5.8 0M274.4 259.5a2.9 2.9 0 1 0-5.8 0a2.9 2.9 0 1 0 5.8 0M205.4 235.5a2.9 2.9 0 1 0-5.8 0a2.9 2.9 0 1 0 5.8 0M213.4 260.5a2.9 2.9 0 1 0-5.8 0a2.9 2.9 0 1 0 5.8 0M260.4 243.5a2.9 2.9 0 1 0-5.8 0a2.9 2.9 0 1 0 5.8 0M191.4 264.5a2.9 2.9 0 1 0-5.8 0a2.9 2.9 0 1 0 5.8 0M212.4 250.5a2.9 2.9 0 1 0-5.8 0a2.9 2.9 0 1 0 5.8 0M217.4 244.5a2.9 2.9 0 1 0-5.8 0a2.9 2.9 0 1 0 5.8 0M277.4 218.5a2.9 2.9 0 1 0-5.8 0a2.9 2.9 0 1 0 5.8 0M234.4 252.5a2.9 2.9 0 1 0-5.8 0a2.9 2.9 0 1 0 5.8 0M182.4 225.5a2.9 2.9 0 1 0-5.8 0a2.9 2.9 0 1 0 5.8 0M198.4 237.5a2.9 2.9 0 1 0-5.8 0a2.9 2.9 0 1 0 5.8 0M249.4 254.5a2.9 2.9 0 1 0-5.8 0a2.9 2.9 0 1 0 5.8 0M255.4 259.5a2.9 2.9 0 1 0-5.8 0a2.9 2.9 0 1 0 5.8 0M205.4 225.5a2.9 2.9 0 1 0-5.8 0a2.9 2.9 0 1 0 5.8 0M183.4 254.5a2.9 2.9 0 1 0-5.8 0a2.9 2.9 0 1 0 5.8 0M201.4 225.5a2.9 2.9 0 1 0-5.8 0a2.9 2.9 0 1 0 5.8 0M277.4 251.5a2.9 2.9 0 1 0-5.8 0a2.9 2.9 0 1 0 5.8 0M240.4 252.5a2.9 2.9 0 1 0-5.8 0a2.9 2.9 0 1 0 5.8 0M240.4 255.5a2.9 2.9 0 1 0-5.8 0a2.9 2.9 0 1 0 5.8 0M192.4 241.5a2.9 2.9 0 1 0-5.8 0a2.9 2.9 0 1 0 5.8 0M277.4 254.5a2.9 2.9 0 1 0-5.8 0a2.9 2.9 0 1 0 5.8 0M211.4 235.5a2.9 2.9 0 1 0-5.8 0a2.9 2.9 0 1 0 5.8 0M249.4 237.5a2.9 2.9 0 1 0-5.8 0a2.9 2.9 0 1 0 5.8 0M274.4 230.5a2.9 2.9 0 1 0-5.8 0a2.9 2.9 0 1 0 5.8 0M271.4 218.5a2.9 2.9 0 1 0-5.8 0a2.9 2.9 0 1 0 5.8 0M246.4 247.5a2.9 2.9 0 1 0-5.8 0a2.9 2.9 0 1 0 5.8 0M279.4 233.5a2.9 2.9 0 1 0-5.8 0a2.9 2.9 0 1 0 5.8 0M246.4 246.5a2.9 2.9 0 1 0-5.8 0a2.9 2.9 0 1 0 5.8 0M182.4 265.5a2.9 2.9 0 1 0-5.8 0a2.9 2.9 0 1 0 5.8 0M217.4 257.5a2.9 2.9 0 1 0-5.8 0a2.9 2.9 0 1 0 5.8 0M194.4 261.5a2.9 2.9 0 1 0-5.8 0a2.9 2.9 0 1 0 5.8 0M206.4 232.5a2.9 2.9 0 1 0-5.8 0a2.9 2.9 0 1 0 5.8 0M205.4 262.5a2.9 2.9 0 1 0-5.8 0a2.9 2.9 0 1 0 5.8 0M209.4 233.5a2.9 2.9 0 1 0-5.8 0a2.9 2.9 0 1 0 5.8 0M247.4 264.5a2.9 2.9 0 1 0-5.8 0a2.9 2.9 0 1 0 5.8 0M226.4 256.5a2.9 2.9 0 1 0-5.8 0a2.9 2.9 0 1 0 5.8 0M204.4 237.5a2.9 2.9 0 1 0-5.8 0a2.9 2.9 0 1 0 5.8 0M217.4 239.5a2.9 2.9 0 1 0-5.8 0a2.9 2.9 0 1 0 5.8 0M274.4 245.5a2.9 2.9 0 1 0-5.8 0a2.9 2.9 0 1 0 5.8 0M255.4 246.5a2.9 2.9 0 1 0-5.8 0a2.9 2.9 0 1 0 5.8 0M275.4 243.5a2.9 2.9 0 1 0-5.8 0a2.9 2.9 0 1 0 5.8 0M204.4 219.5a2.9 2.9 0 1 0-5.8 0a2.9 2.9 0 1 0 5.8 0M273.4 239.5a2.9 2.9 0 1 0-5.8 0a2.9 2.9 0 1 0 5.8 0M201.4 252.5a2.9 2.9 0 1 0-5.8 0a2.9 2.9 0 1 0 5.8 0M279.4 240.5a2.9 2.9 0 1 0-5.8 0a2.9 2.9 0 1 0 5.8 0M246.4 242.5a2.9 2.9 0 1 0-5.8 0a2.9 2.9 0 1 0 5.8 0M183.4 239.5a2.9 2.9 0 1 0-5.8 0a2.9 2.9 0 1 0 5.8 0M255.4 244.5a2.9 2.9 0 1 0-5.8 0a2.9 2.9 0 1 0 5.8 0M204.4 241.5a2.9 2.9 0 1 0-5.8 0a2.9 2.9 0 1 0 5.8 0M241.4 252.5a2.9 2.9 0 1 0-5.8 0a2.9 2.9 0 1 0 5.8 0M195.4 262.5a2.9 2.9 0 1 0-5.8 0a2.9 2.9 0 1 0 5.8 0M275.4 258.5a2.9 2.9 0 1 0-5.8 0a2.9 2.9 0 1 0 5.8 0M271.4 219.5a2.9 2.9 0 1 0-5.8 0a2.9 2.9 0 1 0 5.8 0M203.4 248.5a2.9 2.9 0 1 0-5.8 0a2.9 2.9 0 1 0 5.8 0M271.4 213.5a2.9 2.9 0 1 0-5.8 0a2.9 2.9 0 1 0 5.8 0M200.4 258.5a2.9 2.9 0 1 0-5.8 0a2.9 2.9 0 1 0 5.8 0M221.4 254.5a2.9 2.9 0 1 0-5.8 0a2.9 2.9 0 1 0 5.8 0M204.4 240.5a2.9 2.9 0 1 0-5.8 0a2.9 2.9 0 1 0 5.8 0M280.4 238.5a2.9 2.9 0 1 0-5.8 0a2.9 2.9 0 1 0 5.8 0M213.4 235.5a2.9 2.9 0 1 0-5.8 0a2.9 2.9 0 1 0 5.8 0M215.4 253.5a2.9 2.9 0 1 0-5.8 0a2.9 2.9 0 1 0 5.8 0M183.4 233.5a2.9 2.9 0 1 0-5.8 0a2.9 2.9 0 1 0 5.8 0M181.4 249.5a2.9 2.9 0 1 0-5.8 0a2.9 2.9 0 1 0 5.8 0M206.4 238.5a2.9 2.9 0 1 0-5.8 0a2.9 2.9 0 1 0 5.8 0M237.4 256.5a2.9 2.9 0 1 0-5.8 0a2.9 2.9 0 1 0 5.8 0M194.4 223.5a2.9 2.9 0 1 0-5.8 0a2.9 2.9 0 1 0 5.8 0M233.4 247.5a2.9 2.9 0 1 0-5.8 0a2.9 2.9 0 1 0 5.8 0M204.4 218.5a2.9 2.9 0 1 0-5.8 0a2.9 2.9 0 1 0 5.8 0M247.4 266.5a2.9 2.9 0 1 0-5.8 0a2.9 2.9 0 1 0 5.8 0M276.4 225.5a2.9 2.9 0 1 0-5.8 0a2.9 2.9 0 1 0 5.8 0M275.4 235.5a2.9 2.9 0 1 0-5.8 0a2.9 2.9 0 1 0 5.8 0M186.4 270.5a2.9 2.9 0 1 0-5.8 0a2.9 2.9 0 1 0 5.8 0M209.4 227.5a2.9 2.9 0 1 0-5.8 0a2.9 2.9 0 1 0 5.8 0M223.4 243.5a2.9 2.9 0 1 0-5.8 0a2.9 2.9 0 1 0 5.8 0M246.4 242.5a2.9 2.9 0 1 0-5.8 0a2.9 2.9 0 1 0 5.8 0M192.4 224.5a2.9 2.9 0 1 0-5.8 0a2.9 2.9 0 1 0 5.8 0M246.4 247.5a2.9 2.9 0 1 0-5.8 0a2.9 2.9 0 1 0 5.8 0M277.4 220.5a2.9 2.9 0 1 0-5.8 0a2.9 2.9 0 1 0 5.8 0M188.4 268.5a2.9 2.9 0 1 0-5.8 0a2.9 2.9 0 1 0 5.8 0M204.4 232.5a2.9 2.9 0 1 0-5.8 0a2.9 2.9 0 1 0 5.8 0M233.4 253.5a2.9 2.9 0 1 0-5.8 0a2.9 2.9 0 1 0 5.8 0M188.4 258.5a2.9 2.9 0 1 0-5.8 0a2.9 2.9 0 1 0 5.8 0M248.4 262.5a2.9 2.9 0 1 0-5.8 0a2.9 2.9 0 1 0 5.8 0M181.4 240.5a2.9 2.9 0 1 0-5.8 0a2.9 2.9 0 1 0 5.8 0M248.4 256.5a2.9 2.9 0 1 0-5.8 0a2.9 2.9 0 1 0 5.8 0M276.4 261.5a2.9 2.9 0 1 0-5.8 0a2.9 2.9 0 1 0 5.8 0M204.4 236.5a2.9 2.9 0 1 0-5.8 0a2.9 2.9 0 1 0 5.8 0M276.4 221.5a2.9 2.9 0 1 0-5.8 0a2.9 2.9 0 1 0 5.8 0M271.4 223.5a2.9 2.9 0 1 0-5.8 0a2.9 2.9 0 1 0 5.8 0M254.4 232.5a2.9 2.9 0 1 0-5.8 0a2.9 2.9 0 1 0 5.8 0M247.4 260.5a2.9 2.9 0 1 0-5.8 0a2.9 2.9 0 1 0 5.8 0M193.4 222.5a2.9 2.9 0 1 0-5.8 0a2.9 2.9 0 1 0 5.8 0M202.4 225.5a2.9 2.9 0 1 0-5.8 0a2.9 2.9 0 1 0 5.8 0M221.4 236.5a2.9 2.9 0 1 0-5.8 0a2.9 2.9 0 1 0 5.8 0M188.4 247.5a2.9 2.9 0 1 0-5.8 0a2.9 2.9 0 1 0 5.8 0M275.4 247.5a2.9 2.9 0 1 0-5.8 0a2.9 2.9 0 1 0 5.8 0M216.4 255.5a2.9 2.9 0 1 0-5.8 0a2.9 2.9 0 1 0 5.8 0M245.4 250.5a2.9 2.9 0 1 0-5.8 0a2.9 2.9 0 1 0 5.8 0M200.4 259.5a2.9 2.9 0 1 0-5.8 0a2.9 2.9 0 1 0 5.8 0M211.4 225.5a2.9 2.9 0 1 0-5.8 0a2.9 2.9 0 1 0 5.8 0M263.4 248.5a2.9 2.9 0 1 0-5.8 0a2.9 2.9 0 1 0 5.8 0M182.4 244.5a2.9 2.9 0 1 0-5.8 0a2.9 2.9 0 1 0 5.8 0M198.4 255.5a2.9 2.9 0 1 0-5.8 0a2.9 2.9 0 1 0 5.8 0M181.4 223.5a2.9 2.9 0 1 0-5.8 0a2.9 2.9 0 1 0 5.8 0M277.4 217.5a2.9 2.9 0 1 0-5.8 0a2.9 2.9 0 1 0 5.8 0M214.4 243.5a2.9 2.9 0 1 0-5.8 0a2.9 2.9 0 1 0 5.8 0M213.4 236.5a2.9 2.9 0 1 0-5.8 0a2.9 2.9 0 1 0 5.8 0M243.4 255.5a2.9 2.9 0 1 0-5.8 0a2.9 2.9 0 1 0 5.8 0M253.4 230.5a2.9 2.9 0 1 0-5.8 0a2.9 2.9 0 1 0 5.8 0M273.4 245.5a2.9 2.9 0 1 0-5.8 0a2.9 2.9 0 1 0 5.8 0M250.4 233.5a2.9 2.9 0 1 0-5.8 0a2.9 2.9 0 1 0 5.8 0M190.4 247.5a2.9 2.9 0 1 0-5.8 0a2.9 2.9 0 1 0 5.8 0M200.4 255.5a2.9 2.9 0 1 0-5.8 0a2.9 2.9 0 1 0 5.8 0M247.4 246.5a2.9 2.9 0 1 0-5.8 0a2.9 2.9 0 1 0 5.8 0M194.4 220.5a2.9 2.9 0 1 0-5.8 0a2.9 2.9 0 1 0 5.8 0M206.4 236.5a2.9 2.9 0 1 0-5.8 0a2.9 2.9 0 1 0 5.8 0M234.4 257.5a2.9 2.9 0 1 0-5.8 0a2.9 2.9 0 1 0 5.8 0M184.4 257.5a2.9 2.9 0 1 0-5.8 0a2.9 2.9 0 1 0 5.8 0M203.4 227.5a2.9 2.9 0 1 0-5.8 0a2.9 2.9 0 1 0 5.8 0M244.4 254.5a2.9 2.9 0 1 0-5.8 0a2.9 2.9 0 1 0 5.8 0M242.4 269.5a2.9 2.9 0 1 0-5.8 0a2.9 2.9 0 1 0 5.8 0M201.4 228.5a2.9 2.9 0 1 0-5.8 0a2.9 2.9 0 1 0 5.8 0M196.4 223.5a2.9 2.9 0 1 0-5.8 0a2.9 2.9 0 1 0 5.8 0M260.4 228.5a2.9 2.9 0 1 0-5.8 0a2.9 2.9 0 1 0 5.8 0M212.4 256.5a2.9 2.9 0 1 0-5.8 0a2.9 2.9 0 1 0 5.8 0M186.4 249.5a2.9 2.9 0 1 0-5.8 0a2.9 2.9 0 1 0 5.8 0M192.4 242.5a2.9 2.9 0 1 0-5.8 0a2.9 2.9 0 1 0 5.8 0M252.4 243.5a2.9 2.9 0 1 0-5.8 0a2.9 2.9 0 1 0 5.8 0M188.4 234.5a2.9 2.9 0 1 0-5.8 0a2.9 2.9 0 1 0 5.8 0M212.4 240.5a2.9 2.9 0 1 0-5.8 0a2.9 2.9 0 1 0 5.8 0M252.4 260.5a2.9 2.9 0 1 0-5.8 0a2.9 2.9 0 1 0 5.8 0M218.4 238.5a2.9 2.9 0 1 0-5.8 0a2.9 2.9 0 1 0 5.8 0M226.4 251.5a2.9 2.9 0 1 0-5.8 0a2.9 2.9 0 1 0 5.8 0M193.4 239.5a2.9 2.9 0 1 0-5.8 0a2.9 2.9 0 1 0 5.8 0M187.4 258.5a2.9 2.9 0 1 0-5.8 0a2.9 2.9 0 1 0 5.8 0M258.4 237.5a2.9 2.9 0 1 0-5.8 0a2.9 2.9 0 1 0 5.8 0M189.4 234.5a2.9 2.9 0 1 0-5.8 0a2.9 2.9 0 1 0 5.8 0M197.4 243.5a2.9 2.9 0 1 0-5.8 0a2.9 2.9 0 1 0 5.8 0M198.4 259.5a2.9 2.9 0 1 0-5.8 0a2.9 2.9 0 1 0 5.8 0M193.4 224.5a2.9 2.9 0 1 0-5.8 0a2.9 2.9 0 1 0 5.8 0M278.4 215.5a2.9 2.9 0 1 0-5.8 0a2.9 2.9 0 1 0 5.8 0M228.4 273.5a2.9 2.9 0 1 0-5.8 0a2.9 2.9 0 1 0 5.8 0M227.4 256.5a2.9 2.9 0 1 0-5.8 0a2.9 2.9 0 1 0 5.8 0M191.4 263.5a2.9 2.9 0 1 0-5.8 0a2.9 2.9 0 1 0 5.8 0M214.4 224.5a2.9 2.9 0 1 0-5.8 0a2.9 2.9 0 1 0 5.8 0M206.4 239.5a2.9 2.9 0 1 0-5.8 0a2.9 2.9 0 1 0 5.8 0M280.4 217.5a2.9 2.9 0 1 0-5.8 0a2.9 2.9 0 1 0 5.8 0M198.4 258.5a2.9 2.9 0 1 0-5.8 0a2.9 2.9 0 1 0 5.8 0M222.4 263.5a2.9 2.9 0 1 0-5.8 0a2.9 2.9 0 1 0 5.8 0M267.4 246.5a2.9 2.9 0 1 0-5.8 0a2.9 2.9 0 1 0 5.8 0M182.4 259.5a2.9 2.9 0 1 0-5.8 0a2.9 2.9 0 1 0 5.8 0M241.4 269.5a2.9 2.9 0 1 0-5.8 0a2.9 2.9 0 1 0 5.8 0M276.4 229.5a2.9 2.9 0 1 0-5.8 0a2.9 2.9 0 1 0 5.8 0M207.4 232.5a2.9 2.9 0 1 0-5.8 0a2.9 2.9 0 1 0 5.8 0M222.4 251.5a2.9 2.9 0 1 0-5.8 0a2.9 2.9 0 1 0 5.8 0M269.4 259.5a2.9 2.9 0 1 0-5.8 0a2.9 2.9 0 1 0 5.8 0M253.4 259.5a2.9 2.9 0 1 0-5.8 0a2.9 2.9 0 1 0 5.8 0M263.4 231.5a2.9 2.9 0 1 0-5.8 0a2.9 2.9 0 1 0 5.8 0M274.4 258.5a2.9 2.9 0 1 0-5.8 0a2.9 2.9 0 1 0 5.8 0M248.4 252.5a2.9 2.9 0 1 0-5.8 0a2.9 2.9 0 1 0 5.8 0M185.4 267.5a2.9 2.9 0 1 0-5.8 0a2.9 2.9 0 1 0 5.8 0M214.4 261.5a2.9 2.9 0 1 0-5.8 0a2.9 2.9 0 1 0 5.8 0M202.4 230.5a2.9 2.9 0 1 0-5.8 0a2.9 2.9 0 1 0 5.8 0M211.4 250.5a2.9 2.9 0 1 0-5.8 0a2.9 2.9 0 1 0 5.8 0M270.4 239.5a2.9 2.9 0 1 0-5.8 0a2.9 2.9 0 1 0 5.8 0M270.4 257.5a2.9 2.9 0 1 0-5.8 0a2.9 2.9 0 1 0 5.8 0M239.4 264.5a2.9 2.9 0 1 0-5.8 0a2.9 2.9 0 1 0 5.8 0M222.4 267.5a2.9 2.9 0 1 0-5.8 0a2.9 2.9 0 1 0 5.8 0M217.4 232.5a2.9 2.9 0 1 0-5.8 0a2.9 2.9 0 1 0 5.8 0M276.4 255.5a2.9 2.9 0 1 0-5.8 0a2.9 2.9 0 1 0 5.8 0M184.4 247.5a2.9 2.9 0 1 0-5.8 0a2.9 2.9 0 1 0 5.8 0M224.4 256.5a2.9 2.9 0 1 0-5.8 0a2.9 2.9 0 1 0 5.8 0M233.4 263.5a2.9 2.9 0 1 0-5.8 0a2.9 2.9 0 1 0 5.8 0M259.4 231.5a2.9 2.9 0 1 0-5.8 0a2.9 2.9 0 1 0 5.8 0M203.4 258.5a2.9 2.9 0 1 0-5.8 0a2.9 2.9 0 1 0 5.8 0M201.4 228.5a2.9 2.9 0 1 0-5.8 0a2.9 2.9 0 1 0 5.8 0M213.4 257.5a2.9 2.9 0 1 0-5.8 0a2.9 2.9 0 1 0 5.8 0M199.4 244.5a2.9 2.9 0 1 0-5.8 0a2.9 2.9 0 1 0 5.8 0M231.4 253.5a2.9 2.9 0 1 0-5.8 0a2.9 2.9 0 1 0 5.8 0M280.4 245.5a2.9 2.9 0 1 0-5.8 0a2.9 2.9 0 1 0 5.8 0M272.4 245.5a2.9 2.9 0 1 0-5.8 0a2.9 2.9 0 1 0 5.8 0M231.4 269.5a2.9 2.9 0 1 0-5.8 0a2.9 2.9 0 1 0 5.8 0M232.4 271.5a2.9 2.9 0 1 0-5.8 0a2.9 2.9 0 1 0 5.8 0M244.4 262.5a2.9 2.9 0 1 0-5.8 0a2.9 2.9 0 1 0 5.8 0M223.4 248.5a2.9 2.9 0 1 0-5.8 0a2.9 2.9 0 1 0 5.8 0M206.4 226.5a2.9 2.9 0 1 0-5.8 0a2.9 2.9 0 1 0 5.8 0M223.4 242.5a2.9 2.9 0 1 0-5.8 0a2.9 2.9 0 1 0 5.8 0M181.4 230.5a2.9 2.9 0 1 0-5.8 0a2.9 2.9 0 1 0 5.8 0M252.4 258.5a2.9 2.9 0 1 0-5.8 0a2.9 2.9 0 1 0 5.8 0M204.4 225.5a2.9 2.9 0 1 0-5.8 0a2.9 2.9 0 1 0 5.8 0M241.4 269.5a2.9 2.9 0 1 0-5.8 0a2.9 2.9 0 1 0 5.8 0M201.4 247.5a2.9 2.9 0 1 0-5.8 0a2.9 2.9 0 1 0 5.8 0M253.4 258.5a2.9 2.9 0 1 0-5.8 0a2.9 2.9 0 1 0 5.8 0M252.4 256.5a2.9 2.9 0 1 0-5.8 0a2.9 2.9 0 1 0 5.8 0M208.4 264.5a2.9 2.9 0 1 0-5.8 0a2.9 2.9 0 1 0 5.8 0M273.4 211.5a2.9 2.9 0 1 0-5.8 0a2.9 2.9 0 1 0 5.8 0M275.4 237.5a2.9 2.9 0 1 0-5.8 0a2.9 2.9 0 1 0 5.8 0M260.4 253.5a2.9 2.9 0 1 0-5.8 0a2.9 2.9 0 1 0 5.8 0M195.4 239.5a2.9 2.9 0 1 0-5.8 0a2.9 2.9 0 1 0 5.8 0M214.4 260.5a2.9 2.9 0 1 0-5.8 0a2.9 2.9 0 1 0 5.8 0M205.4 221.5a2.9 2.9 0 1 0-5.8 0a2.9 2.9 0 1 0 5.8 0M197.4 235.5a2.9 2.9 0 1 0-5.8 0a2.9 2.9 0 1 0 5.8 0M197.4 222.5a2.9 2.9 0 1 0-5.8 0a2.9 2.9 0 1 0 5.8 0M212.4 242.5a2.9 2.9 0 1 0-5.8 0a2.9 2.9 0 1 0 5.8 0M199.4 240.5a2.9 2.9 0 1 0-5.8 0a2.9 2.9 0 1 0 5.8 0M229.4 272.5a2.9 2.9 0 1 0-5.8 0a2.9 2.9 0 1 0 5.8 0M250.4 234.5a2.9 2.9 0 1 0-5.8 0a2.9 2.9 0 1 0 5.8 0M265.4 257.5a2.9 2.9 0 1 0-5.8 0a2.9 2.9 0 1 0 5.8 0M216.4 250.5a2.9 2.9 0 1 0-5.8 0a2.9 2.9 0 1 0 5.8 0M273.4 235.5a2.9 2.9 0 1 0-5.8 0a2.9 2.9 0 1 0 5.8 0M236.4 252.5a2.9 2.9 0 1 0-5.8 0a2.9 2.9 0 1 0 5.8 0M195.4 232.5a2.9 2.9 0 1 0-5.8 0a2.9 2.9 0 1 0 5.8 0M240.4 253.5a2.9 2.9 0 1 0-5.8 0a2.9 2.9 0 1 0 5.8 0M183.4 229.5a2.9 2.9 0 1 0-5.8 0a2.9 2.9 0 1 0 5.8 0M215.4 243.5a2.9 2.9 0 1 0-5.8 0a2.9 2.9 0 1 0 5.8 0M273.4 251.5a2.9 2.9 0 1 0-5.8 0a2.9 2.9 0 1 0 5.8 0M219.4 249.5a2.9 2.9 0 1 0-5.8 0a2.9 2.9 0 1 0 5.8 0M218.4 234.5a2.9 2.9 0 1 0-5.8 0a2.9 2.9 0 1 0 5.8 0M197.4 254.5a2.9 2.9 0 1 0-5.8 0a2.9 2.9 0 1 0 5.8 0M186.4 262.5a2.9 2.9 0 1 0-5.8 0a2.9 2.9 0 1 0 5.8 0M195.4 223.5a2.9 2.9 0 1 0-5.8 0a2.9 2.9 0 1 0 5.8 0M254.4 256.5a2.9 2.9 0 1 0-5.8 0a2.9 2.9 0 1 0 5.8 0M268.4 259.5a2.9 2.9 0 1 0-5.8 0a2.9 2.9 0 1 0 5.8 0M251.4 250.5a2.9 2.9 0 1 0-5.8 0a2.9 2.9 0 1 0 5.8 0M199.4 249.5a2.9 2.9 0 1 0-5.8 0a2.9 2.9 0 1 0 5.8 0M206.4 223.5a2.9 2.9 0 1 0-5.8 0a2.9 2.9 0 1 0 5.8 0M216.4 257.5a2.9 2.9 0 1 0-5.8 0a2.9 2.9 0 1 0 5.8 0M186.4 243.5a2.9 2.9 0 1 0-5.8 0a2.9 2.9 0 1 0 5.8 0M224.4 261.5a2.9 2.9 0 1 0-5.8 0a2.9 2.9 0 1 0 5.8 0M269.4 248.5a2.9 2.9 0 1 0-5.8 0a2.9 2.9 0 1 0 5.8 0M214.4 234.5a2.9 2.9 0 1 0-5.8 0a2.9 2.9 0 1 0 5.8 0M272.4 245.5a2.9 2.9 0 1 0-5.8 0a2.9 2.9 0 1 0 5.8 0M195.4 219.5a2.9 2.9 0 1 0-5.8 0a2.9 2.9 0 1 0 5.8 0M219.4 254.5a2.9 2.9 0 1 0-5.8 0a2.9 2.9 0 1 0 5.8 0M181.4 262.5a2.9 2.9 0 1 0-5.8 0a2.9 2.9 0 1 0 5.8 0M259.4 242.5a2.9 2.9 0 1 0-5.8 0a2.9 2.9 0 1 0 5.8 0M181.4 262.5a2.9 2.9 0 1 0-5.8 0a2.9 2.9 0 1 0 5.8 0M222.4 253.5a2.9 2.9 0 1 0-5.8 0a2.9 2.9 0 1 0 5.8 0M237.4 257.5a2.9 2.9 0 1 0-5.8 0a2.9 2.9 0 1 0 5.8 0M271.4 261.5a2.9 2.9 0 1 0-5.8 0a2.9 2.9 0 1 0 5.8 0M280.4 254.5a2.9 2.9 0 1 0-5.8 0a2.9 2.9 0 1 0 5.8 0M212.4 259.5a2.9 2.9 0 1 0-5.8 0a2.9 2.9 0 1 0 5.8 0M273.4 213.5a2.9 2.9 0 1 0-5.8 0a2.9 2.9 0 1 0 5.8 0M274.4 259.5a2.9 2.9 0 1 0-5.8 0a2.9 2.9 0 1 0 5.8 0M195.4 259.5a2.9 2.9 0 1 0-5.8 0a2.9 2.9 0 1 0 5.8 0M274.4 213.5a2.9 2.9 0 1 0-5.8 0a2.9 2.9 0 1 0 5.8 0M208.4 215.5a2.9 2.9 0 1 0-5.8 0a2.9 2.9 0 1 0 5.8 0M268.4 237.5a2.9 2.9 0 1 0-5.8 0a2.9 2.9 0 1 0 5.8 0M254.4 251.5a2.9 2.9 0 1 0-5.8 0a2.9 2.9 0 1 0 5.8 0M190.4 241.5a2.9 2.9 0 1 0-5.8 0a2.9 2.9 0 1 0 5.8 0M223.4 246.5a2.9 2.9 0 1 0-5.8 0a2.9 2.9 0 1 0 5.8 0M226.4 266.5a2.9 2.9 0 1 0-5.8 0a2.9 2.9 0 1 0 5.8 0M279.4 244.5a2.9 2.9 0 1 0-5.8 0a2.9 2.9 0 1 0 5.8 0M205.4 263.5a2.9 2.9 0 1 0-5.8 0a2.9 2.9 0 1 0 5.8 0M184.4 240.5a2.9 2.9 0 1 0-5.8 0a2.9 2.9 0 1 0 5.8 0M189.4 265.5a2.9 2.9 0 1 0-5.8 0a2.9 2.9 0 1 0 5.8 0M252.4 257.5a2.9 2.9 0 1 0-5.8 0a2.9 2.9 0 1 0 5.8 0M199.4 241.5a2.9 2.9 0 1 0-5.8 0a2.9 2.9 0 1 0 5.8 0M273.4 239.5a2.9 2.9 0 1 0-5.8 0a2.9 2.9 0 1 0 5.8 0M272.4 222.5a2.9 2.9 0 1 0-5.8 0a2.9 2.9 0 1 0 5.8 0M271.4 249.5a2.9 2.9 0 1 0-5.8 0a2.9 2.9 0 1 0 5.8 0M278.4 260.5a2.9 2.9 0 1 0-5.8 0a2.9 2.9 0 1 0 5.8 0M244.4 244.5a2.9 2.9 0 1 0-5.8 0a2.9 2.9 0 1 0 5.8 0M266.4 237.5a2.9 2.9 0 1 0-5.8 0a2.9 2.9 0 1 0 5.8 0M261.4 254.5a2.9 2.9 0 1 0-5.8 0a2.9 2.9 0 1 0 5.8 0M227.4 263.5a2.9 2.9 0 1 0-5.8 0a2.9 2.9 0 1 0 5.8 0M197.4 254.5a2.9 2.9 0 1 0-5.8 0a2.9 2.9 0 1 0 5.8 0M207.4 232.5a2.9 2.9 0 1 0-5.8 0a2.9 2.9 0 1 0 5.8 0M236.4 259.5a2.9 2.9 0 1 0-5.8 0a2.9 2.9 0 1 0 5.8 0M269.4 232.5a2.9 2.9 0 1 0-5.8 0a2.9 2.9 0 1 0 5.8 0M195.4 247.5a2.9 2.9 0 1 0-5.8 0a2.9 2.9 0 1 0 5.8 0M277.4 233.5a2.9 2.9 0 1 0-5.8 0a2.9 2.9 0 1 0 5.8 0M193.4 226.5a2.9 2.9 0 1 0-5.8 0a2.9 2.9 0 1 0 5.8 0M243.4 246.5a2.9 2.9 0 1 0-5.8 0a2.9 2.9 0 1 0 5.8 0M275.4 254.5a2.9 2.9 0 1 0-5.8 0a2.9 2.9 0 1 0 5.8 0M244.4 244.5a2.9 2.9 0 1 0-5.8 0a2.9 2.9 0 1 0 5.8 0M267.4 253.5a2.9 2.9 0 1 0-5.8 0a2.9 2.9 0 1 0 5.8 0M217.4 248.5a2.9 2.9 0 1 0-5.8 0a2.9 2.9 0 1 0 5.8 0M264.4 253.5a2.9 2.9 0 1 0-5.8 0a2.9 2.9 0 1 0 5.8 0M280.4 253.5a2.9 2.9 0 1 0-5.8 0a2.9 2.9 0 1 0 5.8 0M185.4 236.5a2.9 2.9 0 1 0-5.8 0a2.9 2.9 0 1 0 5.8 0M277.4 228.5a2.9 2.9 0 1 0-5.8 0a2.9 2.9 0 1 0 5.8 0M239.4 263.5a2.9 2.9 0 1 0-5.8 0a2.9 2.9 0 1 0 5.8 0M198.4 264.5a2.9 2.9 0 1 0-5.8 0a2.9 2.9 0 1 0 5.8 0M277.4 235.5a2.9 2.9 0 1 0-5.8 0a2.9 2.9 0 1 0 5.8 0M192.4 258.5a2.9 2.9 0 1 0-5.8 0a2.9 2.9 0 1 0 5.8 0M208.4 217.5a2.9 2.9 0 1 0-5.8 0a2.9 2.9 0 1 0 5.8 0M217.4 252.5a2.9 2.9 0 1 0-5.8 0a2.9 2.9 0 1 0 5.8 0M280.4 250.5a2.9 2.9 0 1 0-5.8 0a2.9 2.9 0 1 0 5.8 0M253.4 245.5a2.9 2.9 0 1 0-5.8 0a2.9 2.9 0 1 0 5.8 0M206.4 217.5a2.9 2.9 0 1 0-5.8 0a2.9 2.9 0 1 0 5.8 0M239.4 262.5a2.9 2.9 0 1 0-5.8 0a2.9 2.9 0 1 0 5.8 0M197.4 241.5a2.9 2.9 0 1 0-5.8 0a2.9 2.9 0 1 0 5.8 0M238.4 245.5a2.9 2.9 0 1 0-5.8 0a2.9 2.9 0 1 0 5.8 0M222.4 244.5a2.9 2.9 0 1 0-5.8 0a2.9 2.9 0 1 0 5.8 0M190.4 240.5a2.9 2.9 0 1 0-5.8 0a2.9 2.9 0 1 0 5.8 0M248.4 264.5a2.9 2.9 0 1 0-5.8 0a2.9 2.9 0 1 0 5.8 0M273.4 248.5a2.9 2.9 0 1 0-5.8 0a2.9 2.9 0 1 0 5.8 0M189.4 230.5a2.9 2.9 0 1 0-5.8 0a2.9 2.9 0 1 0 5.8 0M189.4 251.5a2.9 2.9 0 1 0-5.8 0a2.9 2.9 0 1 0 5.8 0M232.4 271.5a2.9 2.9 0 1 0-5.8 0a2.9 2.9 0 1 0 5.8 0M205.4 218.5a2.9 2.9 0 1 0-5.8 0a2.9 2.9 0 1 0 5.8 0M211.4 229.5a2.9 2.9 0 1 0-5.8 0a2.9 2.9 0 1 0 5.8 0M271.4 255.5a2.9 2.9 0 1 0-5.8 0a2.9 2.9 0 1 0 5.8 0M265.4 251.5a2.9 2.9 0 1 0-5.8 0a2.9 2.9 0 1 0 5.8 0M196.4 250.5a2.9 2.9 0 1 0-5.8 0a2.9 2.9 0 1 0 5.8 0M186.4 242.5a2.9 2.9 0 1 0-5.8 0a2.9 2.9 0 1 0 5.8 0M255.4 256.5a2.9 2.9 0 1 0-5.8 0a2.9 2.9 0 1 0 5.8 0M247.4 237.5a2.9 2.9 0 1 0-5.8 0a2.9 2.9 0 1 0 5.8 0M203.4 234.5a2.9 2.9 0 1 0-5.8 0a2.9 2.9 0 1 0 5.8 0M214.4 225.5a2.9 2.9 0 1 0-5.8 0a2.9 2.9 0 1 0 5.8 0M221.4 254.5a2.9 2.9 0 1 0-5.8 0a2.9 2.9 0 1 0 5.8 0M188.4 244.5a2.9 2.9 0 1 0-5.8 0a2.9 2.9 0 1 0 5.8 0M190.4 241.5a2.9 2.9 0 1 0-5.8 0a2.9 2.9 0 1 0 5.8 0M247.4 241.5a2.9 2.9 0 1 0-5.8 0a2.9 2.9 0 1 0 5.8 0M261.4 227.5a2.9 2.9 0 1 0-5.8 0a2.9 2.9 0 1 0 5.8 0M249.4 255.5a2.9 2.9 0 1 0-5.8 0a2.9 2.9 0 1 0 5.8 0M185.4 256.5a2.9 2.9 0 1 0-5.8 0a2.9 2.9 0 1 0 5.8 0M239.4 257.5a2.9 2.9 0 1 0-5.8 0a2.9 2.9 0 1 0 5.8 0M215.4 255.5a2.9 2.9 0 1 0-5.8 0a2.9 2.9 0 1 0 5.8 0M217.4 256.5a2.9 2.9 0 1 0-5.8 0a2.9 2.9 0 1 0 5.8 0M190.4 257.5a2.9 2.9 0 1 0-5.8 0a2.9 2.9 0 1 0 5.8 0M267.4 251.5a2.9 2.9 0 1 0-5.8 0a2.9 2.9 0 1 0 5.8 0M219.4 253.5a2.9 2.9 0 1 0-5.8 0a2.9 2.9 0 1 0 5.8 0M280.4 229.5a2.9 2.9 0 1 0-5.8 0a2.9 2.9 0 1 0 5.8 0M271.4 261.5a2.9 2.9 0 1 0-5.8 0a2.9 2.9 0 1 0 5.8 0M267.4 247.5a2.9 2.9 0 1 0-5.8 0a2.9 2.9 0 1 0 5.8 0M277.4 251.5a2.9 2.9 0 1 0-5.8 0a2.9 2.9 0 1 0 5.8 0M275.4 246.5a2.9 2.9 0 1 0-5.8 0a2.9 2.9 0 1 0 5.8 0M200.4 243.5a2.9 2.9 0 1 0-5.8 0a2.9 2.9 0 1 0 5.8 0M218.4 242.5a2.9 2.9 0 1 0-5.8 0a2.9 2.9 0 1 0 5.8 0M258.4 255.5a2.9 2.9 0 1 0-5.8 0a2.9 2.9 0 1 0 5.8 0M259.4 242.5a2.9 2.9 0 1 0-5.8 0a2.9 2.9 0 1 0 5.8 0M210.4 235.5a2.9 2.9 0 1 0-5.8 0a2.9 2.9 0 1 0 5.8 0M251.4 263.5a2.9 2.9 0 1 0-5.8 0a2.9 2.9 0 1 0 5.8 0M229.4 257.5a2.9 2.9 0 1 0-5.8 0a2.9 2.9 0 1 0 5.8 0M202.4 238.5a2.9 2.9 0 1 0-5.8 0a2.9 2.9 0 1 0 5.8 0M216.4 259.5a2.9 2.9 0 1 0-5.8 0a2.9 2.9 0 1 0 5.8 0M246.4 253.5a2.9 2.9 0 1 0-5.8 0a2.9 2.9 0 1 0 5.8 0M244.4 255.5a2.9 2.9 0 1 0-5.8 0a2.9 2.9 0 1 0 5.8 0M277.4 243.5a2.9 2.9 0 1 0-5.8 0a2.9 2.9 0 1 0 5.8 0M258.4 233.5a2.9 2.9 0 1 0-5.8 0a2.9 2.9 0 1 0 5.8 0M183.4 234.5a2.9 2.9 0 1 0-5.8 0a2.9 2.9 0 1 0 5.8 0M218.4 259.5a2.9 2.9 0 1 0-5.8 0a2.9 2.9 0 1 0 5.8 0M214.4 254.5a2.9 2.9 0 1 0-5.8 0a2.9 2.9 0 1 0 5.8 0M183.4 253.5a2.9 2.9 0 1 0-5.8 0a2.9 2.9 0 1 0 5.8 0M271.4 223.5a2.9 2.9 0 1 0-5.8 0a2.9 2.9 0 1 0 5.8 0M239.4 246.5a2.9 2.9 0 1 0-5.8 0a2.9 2.9 0 1 0 5.8 0M213.4 251.5a2.9 2.9 0 1 0-5.8 0a2.9 2.9 0 1 0 5.8 0M193.4 222.5a2.9 2.9 0 1 0-5.8 0a2.9 2.9 0 1 0 5.8 0M212.4 236.5a2.9 2.9 0 1 0-5.8 0a2.9 2.9 0 1 0 5.8 0M205.4 266.5a2.9 2.9 0 1 0-5.8 0a2.9 2.9 0 1 0 5.8 0M228.4 275.5a2.9 2.9 0 1 0-5.8 0a2.9 2.9 0 1 0 5.8 0M186.4 233.5a2.9 2.9 0 1 0-5.8 0a2.9 2.9 0 1 0 5.8 0M203.4 250.5a2.9 2.9 0 1 0-5.8 0a2.9 2.9 0 1 0 5.8 0M190.4 239.5a2.9 2.9 0 1 0-5.8 0a2.9 2.9 0 1 0 5.8 0M217.4 237.5a2.9 2.9 0 1 0-5.8 0a2.9 2.9 0 1 0 5.8 0M251.4 242.5a2.9 2.9 0 1 0-5.8 0a2.9 2.9 0 1 0 5.8 0M279.4 219.5a2.9 2.9 0 1 0-5.8 0a2.9 2.9 0 1 0 5.8 0M242.4 246.5a2.9 2.9 0 1 0-5.8 0a2.9 2.9 0 1 0 5.8 0M276.4 232.5a2.9 2.9 0 1 0-5.8 0a2.9 2.9 0 1 0 5.8 0M192.4 252.5a2.9 2.9 0 1 0-5.8 0a2.9 2.9 0 1 0 5.8 0M214.4 236.5a2.9 2.9 0 1 0-5.8 0a2.9 2.9 0 1 0 5.8 0M276.4 232.5a2.9 2.9 0 1 0-5.8 0a2.9 2.9 0 1 0 5.8 0M247.4 253.5a2.9 2.9 0 1 0-5.8 0a2.9 2.9 0 1 0 5.8 0M226.4 264.5a2.9 2.9 0 1 0-5.8 0a2.9 2.9 0 1 0 5.8 0M218.4 257.5a2.9 2.9 0 1 0-5.8 0a2.9 2.9 0 1 0 5.8 0M277.4 254.5a2.9 2.9 0 1 0-5.8 0a2.9 2.9 0 1 0 5.8 0M248.4 241.5a2.9 2.9 0 1 0-5.8 0a2.9 2.9 0 1 0 5.8 0M198.4 251.5a2.9 2.9 0 1 0-5.8 0a2.9 2.9 0 1 0 5.8 0M229.4 249.5a2.9 2.9 0 1 0-5.8 0a2.9 2.9 0 1 0 5.8 0M194.4 228.5a2.9 2.9 0 1 0-5.8 0a2.9 2.9 0 1 0 5.8 0M248.4 244.5a2.9 2.9 0 1 0-5.8 0a2.9 2.9 0 1 0 5.8 0M242.4 260.5a2.9 2.9 0 1 0-5.8 0a2.9 2.9 0 1 0 5.8 0M225.4 264.5a2.9 2.9 0 1 0-5.8 0a2.9 2.9 0 1 0 5.8 0M237.4 259.5a2.9 2.9 0 1 0-5.8 0a2.9 2.9 0 1 0 5.8 0M217.4 238.5a2.9 2.9 0 1 0-5.8 0a2.9 2.9 0 1 0 5.8 0M263.4 243.5a2.9 2.9 0 1 0-5.8 0a2.9 2.9 0 1 0 5.8 0M182.4 268.5a2.9 2.9 0 1 0-5.8 0a2.9 2.9 0 1 0 5.8 0M225.4 264.5a2.9 2.9 0 1 0-5.8 0a2.9 2.9 0 1 0 5.8 0M249.4 243.5a2.9 2.9 0 1 0-5.8 0a2.9 2.9 0 1 0 5.8 0M270.4 230.5a2.9 2.9 0 1 0-5.8 0a2.9 2.9 0 1 0 5.8 0M183.4 230.5a2.9 2.9 0 1 0-5.8 0a2.9 2.9 0 1 0 5.8 0M196.4 227.5a2.9 2.9 0 1 0-5.8 0a2.9 2.9 0 1 0 5.8 0M279.4 237.5a2.9 2.9 0 1 0-5.8 0a2.9 2.9 0 1 0 5.8 0M273.4 263.5a2.9 2.9 0 1 0-5.8 0a2.9 2.9 0 1 0 5.8 0M236.4 249.5a2.9 2.9 0 1 0-5.8 0a2.9 2.9 0 1 0 5.8 0M250.4 239.5a2.9 2.9 0 1 0-5.8 0a2.9 2.9 0 1 0 5.8 0M259.4 238.5a2.9 2.9 0 1 0-5.8 0a2.9 2.9 0 1 0 5.8 0M250.4 234.5a2.9 2.9 0 1 0-5.8 0a2.9 2.9 0 1 0 5.8 0M203.4 222.5a2.9 2.9 0 1 0-5.8 0a2.9 2.9 0 1 0 5.8 0M276.4 232.5a2.9 2.9 0 1 0-5.8 0a2.9 2.9 0 1 0 5.8 0M183.4 259.5a2.9 2.9 0 1 0-5.8 0a2.9 2.9 0 1 0 5.8 0M215.4 257.5a2.9 2.9 0 1 0-5.8 0a2.9 2.9 0 1 0 5.8 0M272.4 239.5a2.9 2.9 0 1 0-5.8 0a2.9 2.9 0 1 0 5.8 0M231.4 261.5a2.9 2.9 0 1 0-5.8 0a2.9 2.9 0 1 0 5.8 0M200.4 256.5a2.9 2.9 0 1 0-5.8 0a2.9 2.9 0 1 0 5.8 0M216.4 263.5a2.9 2.9 0 1 0-5.8 0a2.9 2.9 0 1 0 5.8 0M190.4 226.5a2.9 2.9 0 1 0-5.8 0a2.9 2.9 0 1 0 5.8 0M218.4 247.5a2.9 2.9 0 1 0-5.8 0a2.9 2.9 0 1 0 5.8 0M202.4 237.5a2.9 2.9 0 1 0-5.8 0a2.9 2.9 0 1 0 5.8 0M181.4 262.5a2.9 2.9 0 1 0-5.8 0a2.9 2.9 0 1 0 5.8 0M206.4 264.5a2.9 2.9 0 1 0-5.8 0a2.9 2.9 0 1 0 5.8 0M236.4 248.5a2.9 2.9 0 1 0-5.8 0a2.9 2.9 0 1 0 5.8 0M258.4 227.5a2.9 2.9 0 1 0-5.8 0a2.9 2.9 0 1 0 5.8 0M248.4 263.5a2.9 2.9 0 1 0-5.8 0a2.9 2.9 0 1 0 5.8 0M224.4 253.5a2.9 2.9 0 1 0-5.8 0a2.9 2.9 0 1 0 5.8 0M276.4 220.5a2.9 2.9 0 1 0-5.8 0a2.9 2.9 0 1 0 5.8 0M191.4 235.5a2.9 2.9 0 1 0-5.8 0a2.9 2.9 0 1 0 5.8 0M203.4 266.5a2.9 2.9 0 1 0-5.8 0a2.9 2.9 0 1 0 5.8 0M199.4 247.5a2.9 2.9 0 1 0-5.8 0a2.9 2.9 0 1 0 5.8 0M199.4 240.5a2.9 2.9 0 1 0-5.8 0a2.9 2.9 0 1 0 5.8 0M231.4 264.5a2.9 2.9 0 1 0-5.8 0a2.9 2.9 0 1 0 5.8 0M257.4 246.5a2.9 2.9 0 1 0-5.8 0a2.9 2.9 0 1 0 5.8 0M259.4 228.5a2.9 2.9 0 1 0-5.8 0a2.9 2.9 0 1 0 5.8 0M238.4 251.5a2.9 2.9 0 1 0-5.8 0a2.9 2.9 0 1 0 5.8 0M218.4 240.5a2.9 2.9 0 1 0-5.8 0a2.9 2.9 0 1 0 5.8 0M187.4 251.5a2.9 2.9 0 1 0-5.8 0a2.9 2.9 0 1 0 5.8 0M236.4 257.5a2.9 2.9 0 1 0-5.8 0a2.9 2.9 0 1 0 5.8 0M191.4 264.5a2.9 2.9 0 1 0-5.8 0a2.9 2.9 0 1 0 5.8 0M211.4 239.5a2.9 2.9 0 1 0-5.8 0a2.9 2.9 0 1 0 5.8 0M218.4 261.5a2.9 2.9 0 1 0-5.8 0a2.9 2.9 0 1 0 5.8 0M250.4 260.5a2.9 2.9 0 1 0-5.8 0a2.9 2.9 0 1 0 5.8 0M280.4 221.5a2.9 2.9 0 1 0-5.8 0a2.9 2.9 0 1 0 5.8 0M184.4 259.5a2.9 2.9 0 1 0-5.8 0a2.9 2.9 0 1 0 5.8 0M224.4 260.5a2.9 2.9 0 1 0-5.8 0a2.9 2.9 0 1 0 5.8 0M264.4 240.5a2.9 2.9 0 1 0-5.8 0a2.9 2.9 0 1 0 5.8 0M198.4 235.5a2.9 2.9 0 1 0-5.8 0a2.9 2.9 0 1 0 5.8 0M270.4 235.5a2.9 2.9 0 1 0-5.8 0a2.9 2.9 0 1 0 5.8 0M247.4 245.5a2.9 2.9 0 1 0-5.8 0a2.9 2.9 0 1 0 5.8 0M252.4 273.5a2.9 2.9 0 1 0-5.8 0a2.9 2.9 0 1 0 5.8 0M201.4 267.5a2.9 2.9 0 1 0-5.8 0a2.9 2.9 0 1 0 5.8 0M213.4 264.5a2.9 2.9 0 1 0-5.8 0a2.9 2.9 0 1 0 5.8 0M235.4 278.5a2.9 2.9 0 1 0-5.8 0a2.9 2.9 0 1 0 5.8 0M192.4 273.5a2.9 2.9 0 1 0-5.8 0a2.9 2.9 0 1 0 5.8 0M183.4 273.5a2.9 2.9 0 1 0-5.8 0a2.9 2.9 0 1 0 5.8 0M245.4 280.5a2.9 2.9 0 1 0-5.8 0a2.9 2.9 0 1 0 5.8 0M220.4 275.5a2.9 2.9 0 1 0-5.8 0a2.9 2.9 0 1 0 5.8 0M225.4 275.5a2.9 2.9 0 1 0-5.8 0a2.9 2.9 0 1 0 5.8 0M225.4 286.5a2.9 2.9 0 1 0-5.8 0a2.9 2.9 0 1 0 5.8 0M211.4 272.5a2.9 2.9 0 1 0-5.8 0a2.9 2.9 0 1 0 5.8 0M240.4 282.5a2.9 2.9 0 1 0-5.8 0a2.9 2.9 0 1 0 5.8 0M208.4 267.5a2.9 2.9 0 1 0-5.8 0a2.9 2.9 0 1 0 5.8 0M189.4 278.5a2.9 2.9 0 1 0-5.8 0a2.9 2.9 0 1 0 5.8 0M206.4 279.5a2.9 2.9 0 1 0-5.8 0a2.9 2.9 0 1 0 5.8 0M280.4 267.5a2.9 2.9 0 1 0-5.8 0a2.9 2.9 0 1 0 5.8 0M261.4 261.5a2.9 2.9 0 1 0-5.8 0a2.9 2.9 0 1 0 5.8 0M188.4 282.5a2.9 2.9 0 1 0-5.8 0a2.9 2.9 0 1 0 5.8 0M245.4 270.5a2.9 2.9 0 1 0-5.8 0a2.9 2.9 0 1 0 5.8 0M250.4 274.5a2.9 2.9 0 1 0-5.8 0a2.9 2.9 0 1 0 5.8 0M277.4 276.5a2.9 2.9 0 1 0-5.8 0a2.9 2.9 0 1 0 5.8 0M255.4 272.5a2.9 2.9 0 1 0-5.8 0a2.9 2.9 0 1 0 5.8 0M265.4 269.5a2.9 2.9 0 1 0-5.8 0a2.9 2.9 0 1 0 5.8 0M196.4 272.5a2.9 2.9 0 1 0-5.8 0a2.9 2.9 0 1 0 5.8 0M203.4 281.5a2.9 2.9 0 1 0-5.8 0a2.9 2.9 0 1 0 5.8 0M182.4 282.5a2.9 2.9 0 1 0-5.8 0a2.9 2.9 0 1 0 5.8 0M190.4 272.5a2.9 2.9 0 1 0-5.8 0a2.9 2.9 0 1 0 5.8 0M193.4 281.5a2.9 2.9 0 1 0-5.8 0a2.9 2.9 0 1 0 5.8 0M183.4 272.5a2.9 2.9 0 1 0-5.8 0a2.9 2.9 0 1 0 5.8 0M261.4 271.5a2.9 2.9 0 1 0-5.8 0a2.9 2.9 0 1 0 5.8 0M235.4 279.5a2.9 2.9 0 1 0-5.8 0a2.9 2.9 0 1 0 5.8 0M200.4 272.5a2.9 2.9 0 1 0-5.8 0a2.9 2.9 0 1 0 5.8 0M238.4 276.5a2.9 2.9 0 1 0-5.8 0a2.9 2.9 0 1 0 5.8 0M273.4 279.5a2.9 2.9 0 1 0-5.8 0a2.9 2.9 0 1 0 5.8 0M274.4 276.5a2.9 2.9 0 1 0-5.8 0a2.9 2.9 0 1 0 5.8 0M225.4 277.5a2.9 2.9 0 1 0-5.8 0a2.9 2.9 0 1 0 5.8 0M222.4 281.5a2.9 2.9 0 1 0-5.8 0a2.9 2.9 0 1 0 5.8 0M258.4 263.5a2.9 2.9 0 1 0-5.8 0a2.9 2.9 0 1 0 5.8 0M213.4 265.5a2.9 2.9 0 1 0-5.8 0a2.9 2.9 0 1 0 5.8 0M223.4 280.5a2.9 2.9 0 1 0-5.8 0a2.9 2.9 0 1 0 5.8 0M264.4 263.5a2.9 2.9 0 1 0-5.8 0a2.9 2.9 0 1 0 5.8 0M191.4 273.5a2.9 2.9 0 1 0-5.8 0a2.9 2.9 0 1 0 5.8 0M261.4 264.5a2.9 2.9 0 1 0-5.8 0a2.9 2.9 0 1 0 5.8 0M268.4 269.5a2.9 2.9 0 1 0-5.8 0a2.9 2.9 0 1 0 5.8 0M257.4 265.5a2.9 2.9 0 1 0-5.8 0a2.9 2.9 0 1 0 5.8 0M245.4 278.5a2.9 2.9 0 1 0-5.8 0a2.9 2.9 0 1 0 5.8 0M203.4 271.5a2.9 2.9 0 1 0-5.8 0a2.9 2.9 0 1 0 5.8 0M213.4 263.5a2.9 2.9 0 1 0-5.8 0a2.9 2.9 0 1 0 5.8 0M276.4 276.5a2.9 2.9 0 1 0-5.8 0a2.9 2.9 0 1 0 5.8 0M215.4 278.5a2.9 2.9 0 1 0-5.8 0a2.9 2.9 0 1 0 5.8 0M230.4 287.5a2.9 2.9 0 1 0-5.8 0a2.9 2.9 0 1 0 5.8 0M193.4 278.5a2.9 2.9 0 1 0-5.8 0a2.9 2.9 0 1 0 5.8 0M181.4 282.5a2.9 2.9 0 1 0-5.8 0a2.9 2.9 0 1 0 5.8 0M244.4 280.5a2.9 2.9 0 1 0-5.8 0a2.9 2.9 0 1 0 5.8 0M212.4 270.5a2.9 2.9 0 1 0-5.8 0a2.9 2.9 0 1 0 5.8 0M249.4 281.5a2.9 2.9 0 1 0-5.8 0a2.9 2.9 0 1 0 5.8 0M250.4 269.5a2.9 2.9 0 1 0-5.8 0a2.9 2.9 0 1 0 5.8 0M193.4 276.5a2.9 2.9 0 1 0-5.8 0a2.9 2.9 0 1 0 5.8 0M188.4 275.5a2.9 2.9 0 1 0-5.8 0a2.9 2.9 0 1 0 5.8 0M247.4 283.5a2.9 2.9 0 1 0-5.8 0a2.9 2.9 0 1 0 5.8 0M205.4 277.5a2.9 2.9 0 1 0-5.8 0a2.9 2.9 0 1 0 5.8 0M252.4 277.5a2.9 2.9 0 1 0-5.8 0a2.9 2.9 0 1 0 5.8 0M234.4 271.5a2.9 2.9 0 1 0-5.8 0a2.9 2.9 0 1 0 5.8 0M267.4 267.5a2.9 2.9 0 1 0-5.8 0a2.9 2.9 0 1 0 5.8 0M231.4 276.5a2.9 2.9 0 1 0-5.8 0a2.9 2.9 0 1 0 5.8 0M219.4 281.5a2.9 2.9 0 1 0-5.8 0a2.9 2.9 0 1 0 5.8 0M193.4 267.5a2.9 2.9 0 1 0-5.8 0a2.9 2.9 0 1 0 5.8 0M273.4 267.5a2.9 2.9 0 1 0-5.8 0a2.9 2.9 0 1 0 5.8 0M218.4 280.5a2.9 2.9 0 1 0-5.8 0a2.9 2.9 0 1 0 5.8 0M202.4 275.5a2.9 2.9 0 1 0-5.8 0a2.9 2.9 0 1 0 5.8 0M200.4 278.5a2.9 2.9 0 1 0-5.8 0a2.9 2.9 0 1 0 5.8 0M238.4 284.5a2.9 2.9 0 1 0-5.8 0a2.9 2.9 0 1 0 5.8 0M275.4 266.5a2.9 2.9 0 1 0-5.8 0a2.9 2.9 0 1 0 5.8 0M215.4 277.5a2.9 2.9 0 1 0-5.8 0a2.9 2.9 0 1 0 5.8 0M247.4 270.5a2.9 2.9 0 1 0-5.8 0a2.9 2.9 0 1 0 5.8 0M184.4 273.5a2.9 2.9 0 1 0-5.8 0a2.9 2.9 0 1 0 5.8 0M261.4 264.5a2.9 2.9 0 1 0-5.8 0a2.9 2.9 0 1 0 5.8 0M278.4 269.5a2.9 2.9 0 1 0-5.8 0a2.9 2.9 0 1 0 5.8 0M204.4 281.5a2.9 2.9 0 1 0-5.8 0a2.9 2.9 0 1 0 5.8 0M204.4 271.5a2.9 2.9 0 1 0-5.8 0a2.9 2.9 0 1 0 5.8 0M210.4 273.5a2.9 2.9 0 1 0-5.8 0a2.9 2.9 0 1 0 5.8 0M215.4 275.5a2.9 2.9 0 1 0-5.8 0a2.9 2.9 0 1 0 5.8 0M238.4 279.5a2.9 2.9 0 1 0-5.8 0a2.9 2.9 0 1 0 5.8 0M201.4 277.5a2.9 2.9 0 1 0-5.8 0a2.9 2.9 0 1 0 5.8 0M236.4 275.5a2.9 2.9 0 1 0-5.8 0a2.9 2.9 0 1 0 5.8 0M206.4 269.5a2.9 2.9 0 1 0-5.8 0a2.9 2.9 0 1 0 5.8 0M257.4 267.5a2.9 2.9 0 1 0-5.8 0a2.9 2.9 0 1 0 5.8 0M225.4 273.5a2.9 2.9 0 1 0-5.8 0a2.9 2.9 0 1 0 5.8 0M253.4 263.5a2.9 2.9 0 1 0-5.8 0a2.9 2.9 0 1 0 5.8 0M198.4 273.5a2.9 2.9 0 1 0-5.8 0a2.9 2.9 0 1 0 5.8 0M192.4 274.5a2.9 2.9 0 1 0-5.8 0a2.9 2.9 0 1 0 5.8 0M255.4 271.5a2.9 2.9 0 1 0-5.8 0a2.9 2.9 0 1 0 5.8 0M224.4 285.5a2.9 2.9 0 1 0-5.8 0a2.9 2.9 0 1 0 5.8 0M183.4 280.5a2.9 2.9 0 1 0-5.8 0a2.9 2.9 0 1 0 5.8 0M258.4 273.5a2.9 2.9 0 1 0-5.8 0a2.9 2.9 0 1 0 5.8 0M260.4 261.5a2.9 2.9 0 1 0-5.8 0a2.9 2.9 0 1 0 5.8 0M184.4 287.5a2.9 2.9 0 1 0-5.8 0a2.9 2.9 0 1 0 5.8 0M200.4 282.5a2.9 2.9 0 1 0-5.8 0a2.9 2.9 0 1 0 5.8 0M199.4 288.5a2.9 2.9 0 1 0-5.8 0a2.9 2.9 0 1 0 5.8 0M243.4 298.5a2.9 2.9 0 1 0-5.8 0a2.9 2.9 0 1 0 5.8 0M192.4 297.5a2.9 2.9 0 1 0-5.8 0a2.9 2.9 0 1 0 5.8 0M258.4 290.5a2.9 2.9 0 1 0-5.8 0a2.9 2.9 0 1 0 5.8 0M259.4 289.5a2.9 2.9 0 1 0-5.8 0a2.9 2.9 0 1 0 5.8 0M212.4 286.5a2.9 2.9 0 1 0-5.8 0a2.9 2.9 0 1 0 5.8 0M222.4 290.5a2.9 2.9 0 1 0-5.8 0a2.9 2.9 0 1 0 5.8 0M219.4 294.5a2.9 2.9 0 1 0-5.8 0a2.9 2.9 0 1 0 5.8 0M228.4 295.5a2.9 2.9 0 1 0-5.8 0a2.9 2.9 0 1 0 5.8 0M188.4 298.5a2.9 2.9 0 1 0-5.8 0a2.9 2.9 0 1 0 5.8 0M251.4 289.5a2.9 2.9 0 1 0-5.8 0a2.9 2.9 0 1 0 5.8 0M240.4 295.5a2.9 2.9 0 1 0-5.8 0a2.9 2.9 0 1 0 5.8 0M280.4 290.5a2.9 2.9 0 1 0-5.8 0a2.9 2.9 0 1 0 5.8 0M270.4 285.5a2.9 2.9 0 1 0-5.8 0a2.9 2.9 0 1 0 5.8 0M185.4 287.5a2.9 2.9 0 1 0-5.8 0a2.9 2.9 0 1 0 5.8 0M237.4 300.5a2.9 2.9 0 1 0-5.8 0a2.9 2.9 0 1 0 5.8 0M268.4 287.5a2.9 2.9 0 1 0-5.8 0a2.9 2.9 0 1 0 5.8 0M311.4 253.5a2.9 2.9 0 1 0-5.8 0a2.9 2.9 0 1 0 5.8 0M301.4 243.5a2.9 2.9 0 1 0-5.8 0a2.9 2.9 0 1 0 5.8 0M332.4 244.5a2.9 2.9 0 1 0-5.8 0a2.9 2.9 0 1 0 5.8 0M338.4 219.5a2.9 2.9 0 1 0-5.8 0a2.9 2.9 0 1 0 5.8 0M323.4 236.5a2.9 2.9 0 1 0-5.8 0a2.9 2.9 0 1 0 5.8 0M324.4 244.5a2.9 2.9 0 1 0-5.8 0a2.9 2.9 0 1 0 5.8 0M323.4 233.5a2.9 2.9 0 1 0-5.8 0a2.9 2.9 0 1 0 5.8 0M282.4 253.5a2.9 2.9 0 1 0-5.8 0a2.9 2.9 0 1 0 5.8 0M320.4 237.5a2.9 2.9 0 1 0-5.8 0a2.9 2.9 0 1 0 5.8 0M340.4 233.5a2.9 2.9 0 1 0-5.8 0a2.9 2.9 0 1 0 5.8 0M309.4 238.5a2.9 2.9 0 1 0-5.8 0a2.9 2.9 0 1 0 5.8 0M327.4 234.5a2.9 2.9 0 1 0-5.8 0a2.9 2.9 0 1 0 5.8 0M292.4 246.5a2.9 2.9 0 1 0-5.8 0a2.9 2.9 0 1 0 5.8 0M287.4 253.5a2.9 2.9 0 1 0-5.8 0a2.9 2.9 0 1 0 5.8 0M287.4 258.5a2.9 2.9 0 1 0-5.8 0a2.9 2.9 0 1 0 5.8 0M347.4 239.5a2.9 2.9 0 1 0-5.8 0a2.9 2.9 0 1 0 5.8 0M339.4 236.5a2.9 2.9 0 1 0-5.8 0a2.9 2.9 0 1 0 5.8 0M354.4 219.5a2.9 2.9 0 1 0-5.8 0a2.9 2.9 0 1 0 5.8 0M338.4 230.5a2.9 2.9 0 1 0-5.8 0a2.9 2.9 0 1 0 5.8 0M299.4 253.5a2.9 2.9 0 1 0-5.8 0a2.9 2.9 0 1 0 5.8 0M314.4 265.5a2.9 2.9 0 1 0-5.8 0a2.9 2.9 0 1 0 5.8 0M376.4 231.5a2.9 2.9 0 1 0-5.8 0a2.9 2.9 0 1 0 5.8 0M322.4 247.5a2.9 2.9 0 1 0-5.8 0a2.9 2.9 0 1 0 5.8 0M344.4 231.5a2.9 2.9 0 1 0-5.8 0a2.9 2.9 0 1 0 5.8 0M337.4 222.5a2.9 2.9 0 1 0-5.8 0a2.9 2.9 0 1 0 5.8 0M311.4 247.5a2.9 2.9 0 1 0-5.8 0a2.9 2.9 0 1 0 5.8 0M371.4 241.5a2.9 2.9 0 1 0-5.8 0a2.9 2.9 0 1 0 5.8 0M306.4 245.5a2.9 2.9 0 1 0-5.8 0a2.9 2.9 0 1 0 5.8 0M308.4 256.5a2.9 2.9 0 1 0-5.8 0a2.9 2.9 0 1 0 5.8 0M356.4 235.5a2.9 2.9 0 1 0-5.8 0a2.9 2.9 0 1 0 5.8 0M328.4 234.5a2.9 2.9 0 1 0-5.8 0a2.9 2.9 0 1 0 5.8 0M316.4 251.5a2.9 2.9 0 1 0-5.8 0a2.9 2.9 0 1 0 5.8 0M327.4 242.5a2.9 2.9 0 1 0-5.8 0a2.9 2.9 0 1 0 5.8 0M314.4 251.5a2.9 2.9 0 1 0-5.8 0a2.9 2.9 0 1 0 5.8 0M352.4 236.5a2.9 2.9 0 1 0-5.8 0a2.9 2.9 0 1 0 5.8 0M336.4 230.5a2.9 2.9 0 1 0-5.8 0a2.9 2.9 0 1 0 5.8 0M306.4 242.5a2.9 2.9 0 1 0-5.8 0a2.9 2.9 0 1 0 5.8 0M379.4 226.5a2.9 2.9 0 1 0-5.8 0a2.9 2.9 0 1 0 5.8 0M346.4 232.5a2.9 2.9 0 1 0-5.8 0a2.9 2.9 0 1 0 5.8 0M369.4 229.5a2.9 2.9 0 1 0-5.8 0a2.9 2.9 0 1 0 5.8 0M285.4 247.5a2.9 2.9 0 1 0-5.8 0a2.9 2.9 0 1 0 5.8 0M332.4 222.5a2.9 2.9 0 1 0-5.8 0a2.9 2.9 0 1 0 5.8 0M332.4 239.5a2.9 2.9 0 1 0-5.8 0a2.9 2.9 0 1 0 5.8 0M370.4 238.5a2.9 2.9 0 1 0-5.8 0a2.9 2.9 0 1 0 5.8 0M285.4 259.5a2.9 2.9 0 1 0-5.8 0a2.9 2.9 0 1 0 5.8 0M295.4 246.5a2.9 2.9 0 1 0-5.8 0a2.9 2.9 0 1 0 5.8 0M359.4 219.5a2.9 2.9 0 1 0-5.8 0a2.9 2.9 0 1 0 5.8 0M310.4 260.5a2.9 2.9 0 1 0-5.8 0a2.9 2.9 0 1 0 5.8 0M349.4 218.5a2.9 2.9 0 1 0-5.8 0a2.9 2.9 0 1 0 5.8 0M346.4 230.5a2.9 2.9 0 1 0-5.8 0a2.9 2.9 0 1 0 5.8 0M319.4 243.5a2.9 2.9 0 1 0-5.8 0a2.9 2.9 0 1 0 5.8 0M336.4 235.5a2.9 2.9 0 1 0-5.8 0a2.9 2.9 0 1 0 5.8 0M361.4 217.5a2.9 2.9 0 1 0-5.8 0a2.9 2.9 0 1 0 5.8 0M313.4 265.5a2.9 2.9 0 1 0-5.8 0a2.9 2.9 0 1 0 5.8 0M357.4 242.5a2.9 2.9 0 1 0-5.8 0a2.9 2.9 0 1 0 5.8 0M290.4 261.5a2.9 2.9 0 1 0-5.8 0a2.9 2.9 0 1 0 5.8 0M369.4 232.5a2.9 2.9 0 1 0-5.8 0a2.9 2.9 0 1 0 5.8 0M350.4 235.5a2.9 2.9 0 1 0-5.8 0a2.9 2.9 0 1 0 5.8 0M336.4 232.5a2.9 2.9 0 1 0-5.8 0a2.9 2.9 0 1 0 5.8 0M361.4 229.5a2.9 2.9 0 1 0-5.8 0a2.9 2.9 0 1 0 5.8 0M361.4 242.5a2.9 2.9 0 1 0-5.8 0a2.9 2.9 0 1 0 5.8 0M336.4 242.5a2.9 2.9 0 1 0-5.8 0a2.9 2.9 0 1 0 5.8 0M322.4 243.5a2.9 2.9 0 1 0-5.8 0a2.9 2.9 0 1 0 5.8 0M289.4 264.5a2.9 2.9 0 1 0-5.8 0a2.9 2.9 0 1 0 5.8 0M358.4 221.5a2.9 2.9 0 1 0-5.8 0a2.9 2.9 0 1 0 5.8 0M296.4 242.5a2.9 2.9 0 1 0-5.8 0a2.9 2.9 0 1 0 5.8 0M320.4 239.5a2.9 2.9 0 1 0-5.8 0a2.9 2.9 0 1 0 5.8 0M311.4 253.5a2.9 2.9 0 1 0-5.8 0a2.9 2.9 0 1 0 5.8 0M317.4 262.5a2.9 2.9 0 1 0-5.8 0a2.9 2.9 0 1 0 5.8 0M349.4 237.5a2.9 2.9 0 1 0-5.8 0a2.9 2.9 0 1 0 5.8 0M281.4 263.5a2.9 2.9 0 1 0-5.8 0a2.9 2.9 0 1 0 5.8 0M352.4 240.5a2.9 2.9 0 1 0-5.8 0a2.9 2.9 0 1 0 5.8 0M314.4 252.5a2.9 2.9 0 1 0-5.8 0a2.9 2.9 0 1 0 5.8 0M363.4 233.5a2.9 2.9 0 1 0-5.8 0a2.9 2.9 0 1 0 5.8 0M288.4 244.5a2.9 2.9 0 1 0-5.8 0a2.9 2.9 0 1 0 5.8 0M336.4 237.5a2.9 2.9 0 1 0-5.8 0a2.9 2.9 0 1 0 5.8 0M311.4 246.5a2.9 2.9 0 1 0-5.8 0a2.9 2.9 0 1 0 5.8 0M333.4 229.5a2.9 2.9 0 1 0-5.8 0a2.9 2.9 0 1 0 5.8 0M340.4 229.5a2.9 2.9 0 1 0-5.8 0a2.9 2.9 0 1 0 5.8 0M352.4 239.5a2.9 2.9 0 1 0-5.8 0a2.9 2.9 0 1 0 5.8 0M342.4 223.5a2.9 2.9 0 1 0-5.8 0a2.9 2.9 0 1 0 5.8 0M308.4 254.5a2.9 2.9 0 1 0-5.8 0a2.9 2.9 0 1 0 5.8 0M315.4 246.5a2.9 2.9 0 1 0-5.8 0a2.9 2.9 0 1 0 5.8 0M292.4 260.5a2.9 2.9 0 1 0-5.8 0a2.9 2.9 0 1 0 5.8 0M314.4 263.5a2.9 2.9 0 1 0-5.8 0a2.9 2.9 0 1 0 5.8 0M287.4 243.5a2.9 2.9 0 1 0-5.8 0a2.9 2.9 0 1 0 5.8 0M375.4 227.5a2.9 2.9 0 1 0-5.8 0a2.9 2.9 0 1 0 5.8 0M337.4 232.5a2.9 2.9 0 1 0-5.8 0a2.9 2.9 0 1 0 5.8 0M306.4 258.5a2.9 2.9 0 1 0-5.8 0a2.9 2.9 0 1 0 5.8 0M375.4 226.5a2.9 2.9 0 1 0-5.8 0a2.9 2.9 0 1 0 5.8 0M317.4 245.5a2.9 2.9 0 1 0-5.8 0a2.9 2.9 0 1 0 5.8 0M304.4 252.5a2.9 2.9 0 1 0-5.8 0a2.9 2.9 0 1 0 5.8 0M350.4 232.5a2.9 2.9 0 1 0-5.8 0a2.9 2.9 0 1 0 5.8 0M334.4 228.5a2.9 2.9 0 1 0-5.8 0a2.9 2.9 0 1 0 5.8 0M365.4 235.5a2.9 2.9 0 1 0-5.8 0a2.9 2.9 0 1 0 5.8 0M283.4 242.5a2.9 2.9 0 1 0-5.8 0a2.9 2.9 0 1 0 5.8 0M338.4 220.5a2.9 2.9 0 1 0-5.8 0a2.9 2.9 0 1 0 5.8 0M373.4 237.5a2.9 2.9 0 1 0-5.8 0a2.9 2.9 0 1 0 5.8 0M299.4 235.5a2.9 2.9 0 1 0-5.8 0a2.9 2.9 0 1 0 5.8 0M340.4 236.5a2.9 2.9 0 1 0-5.8 0a2.9 2.9 0 1 0 5.8 0M352.4 219.5a2.9 2.9 0 1 0-5.8 0a2.9 2.9 0 1 0 5.8 0M306.4 258.5a2.9 2.9 0 1 0-5.8 0a2.9 2.9 0 1 0 5.8 0M350.4 218.5a2.9 2.9 0 1 0-5.8 0a2.9 2.9 0 1 0 5.8 0M303.4 237.5a2.9 2.9 0 1 0-5.8 0a2.9 2.9 0 1 0 5.8 0M379.4 230.5a2.9 2.9 0 1 0-5.8 0a2.9 2.9 0 1 0 5.8 0M312.4 239.5a2.9 2.9 0 1 0-5.8 0a2.9 2.9 0 1 0 5.8 0M351.4 230.5a2.9 2.9 0 1 0-5.8 0a2.9 2.9 0 1 0 5.8 0M360.4 222.5a2.9 2.9 0 1 0-5.8 0a2.9 2.9 0 1 0 5.8 0M291.4 247.5a2.9 2.9 0 1 0-5.8 0a2.9 2.9 0 1 0 5.8 0M291.4 254.5a2.9 2.9 0 1 0-5.8 0a2.9 2.9 0 1 0 5.8 0M347.4 233.5a2.9 2.9 0 1 0-5.8 0a2.9 2.9 0 1 0 5.8 0M293.4 247.5a2.9 2.9 0 1 0-5.8 0a2.9 2.9 0 1 0 5.8 0M356.4 239.5a2.9 2.9 0 1 0-5.8 0a2.9 2.9 0 1 0 5.8 0M328.4 251.5a2.9 2.9 0 1 0-5.8 0a2.9 2.9 0 1 0 5.8 0M341.4 236.5a2.9 2.9 0 1 0-5.8 0a2.9 2.9 0 1 0 5.8 0M299.4 238.5a2.9 2.9 0 1 0-5.8 0a2.9 2.9 0 1 0 5.8 0M380.4 243.5a2.9 2.9 0 1 0-5.8 0a2.9 2.9 0 1 0 5.8 0M305.4 251.5a2.9 2.9 0 1 0-5.8 0a2.9 2.9 0 1 0 5.8 0M380.4 234.5a2.9 2.9 0 1 0-5.8 0a2.9 2.9 0 1 0 5.8 0M374.4 237.5a2.9 2.9 0 1 0-5.8 0a2.9 2.9 0 1 0 5.8 0M311.4 239.5a2.9 2.9 0 1 0-5.8 0a2.9 2.9 0 1 0 5.8 0M283.4 242.5a2.9 2.9 0 1 0-5.8 0a2.9 2.9 0 1 0 5.8 0M344.4 223.5a2.9 2.9 0 1 0-5.8 0a2.9 2.9 0 1 0 5.8 0M366.4 235.5a2.9 2.9 0 1 0-5.8 0a2.9 2.9 0 1 0 5.8 0M376.4 232.5a2.9 2.9 0 1 0-5.8 0a2.9 2.9 0 1 0 5.8 0M342.4 243.5a2.9 2.9 0 1 0-5.8 0a2.9 2.9 0 1 0 5.8 0M307.4 256.5a2.9 2.9 0 1 0-5.8 0a2.9 2.9 0 1 0 5.8 0M313.4 262.5a2.9 2.9 0 1 0-5.8 0a2.9 2.9 0 1 0 5.8 0M310.4 246.5a2.9 2.9 0 1 0-5.8 0a2.9 2.9 0 1 0 5.8 0M361.4 218.5a2.9 2.9 0 1 0-5.8 0a2.9 2.9 0 1 0 5.8 0M358.4 234.5a2.9 2.9 0 1 0-5.8 0a2.9 2.9 0 1 0 5.8 0M333.4 236.5a2.9 2.9 0 1 0-5.8 0a2.9 2.9 0 1 0 5.8 0M344.4 230.5a2.9 2.9 0 1 0-5.8 0a2.9 2.9 0 1 0 5.8 0M287.4 267.5a2.9 2.9 0 1 0-5.8 0a2.9 2.9 0 1 0 5.8 0M292.4 253.5a2.9 2.9 0 1 0-5.8 0a2.9 2.9 0 1 0 5.8 0M360.4 219.5a2.9 2.9 0 1 0-5.8 0a2.9 2.9 0 1 0 5.8 0M332.4 225.5a2.9 2.9 0 1 0-5.8 0a2.9 2.9 0 1 0 5.8 0M379.4 235.5a2.9 2.9 0 1 0-5.8 0a2.9 2.9 0 1 0 5.8 0M356.4 225.5a2.9 2.9 0 1 0-5.8 0a2.9 2.9 0 1 0 5.8 0M380.4 240.5a2.9 2.9 0 1 0-5.8 0a2.9 2.9 0 1 0 5.8 0M357.4 231.5a2.9 2.9 0 1 0-5.8 0a2.9 2.9 0 1 0 5.8 0M322.4 254.5a2.9 2.9 0 1 0-5.8 0a2.9 2.9 0 1 0 5.8 0M311.4 260.5a2.9 2.9 0 1 0-5.8 0a2.9 2.9 0 1 0 5.8 0M321.4 244.5a2.9 2.9 0 1 0-5.8 0a2.9 2.9 0 1 0 5.8 0M285.4 253.5a2.9 2.9 0 1 0-5.8 0a2.9 2.9 0 1 0 5.8 0M301.4 253.5a2.9 2.9 0 1 0-5.8 0a2.9 2.9 0 1 0 5.8 0M303.4 244.5a2.9 2.9 0 1 0-5.8 0a2.9 2.9 0 1 0 5.8 0M311.4 243.5a2.9 2.9 0 1 0-5.8 0a2.9 2.9 0 1 0 5.8 0M303.4 249.5a2.9 2.9 0 1 0-5.8 0a2.9 2.9 0 1 0 5.8 0M306.4 234.5a2.9 2.9 0 1 0-5.8 0a2.9 2.9 0 1 0 5.8 0M282.4 259.5a2.9 2.9 0 1 0-5.8 0a2.9 2.9 0 1 0 5.8 0M354.4 240.5a2.9 2.9 0 1 0-5.8 0a2.9 2.9 0 1 0 5.8 0M371.4 238.5a2.9 2.9 0 1 0-5.8 0a2.9 2.9 0 1 0 5.8 0M331.4 244.5a2.9 2.9 0 1 0-5.8 0a2.9 2.9 0 1 0 5.8 0M282.4 259.5a2.9 2.9 0 1 0-5.8 0a2.9 2.9 0 1 0 5.8 0M288.4 255.5a2.9 2.9 0 1 0-5.8 0a2.9 2.9 0 1 0 5.8 0M319.4 265.5a2.9 2.9 0 1 0-5.8 0a2.9 2.9 0 1 0 5.8 0M307.4 244.5a2.9 2.9 0 1 0-5.8 0a2.9 2.9 0 1 0 5.8 0M348.4 225.5a2.9 2.9 0 1 0-5.8 0a2.9 2.9 0 1 0 5.8 0M360.4 222.5a2.9 2.9 0 1 0-5.8 0a2.9 2.9 0 1 0 5.8 0M356.4 224.5a2.9 2.9 0 1 0-5.8 0a2.9 2.9 0 1 0 5.8 0M334.4 222.5a2.9 2.9 0 1 0-5.8 0a2.9 2.9 0 1 0 5.8 0M340.4 242.5a2.9 2.9 0 1 0-5.8 0a2.9 2.9 0 1 0 5.8 0M337.4 246.5a2.9 2.9 0 1 0-5.8 0a2.9 2.9 0 1 0 5.8 0M289.4 256.5a2.9 2.9 0 1 0-5.8 0a2.9 2.9 0 1 0 5.8 0M305.4 245.5a2.9 2.9 0 1 0-5.8 0a2.9 2.9 0 1 0 5.8 0M333.4 231.5a2.9 2.9 0 1 0-5.8 0a2.9 2.9 0 1 0 5.8 0M375.4 234.5a2.9 2.9 0 1 0-5.8 0a2.9 2.9 0 1 0 5.8 0M323.4 243.5a2.9 2.9 0 1 0-5.8 0a2.9 2.9 0 1 0 5.8 0M357.4 242.5a2.9 2.9 0 1 0-5.8 0a2.9 2.9 0 1 0 5.8 0M356.4 224.5a2.9 2.9 0 1 0-5.8 0a2.9 2.9 0 1 0 5.8 0M337.4 237.5a2.9 2.9 0 1 0-5.8 0a2.9 2.9 0 1 0 5.8 0M304.4 256.5a2.9 2.9 0 1 0-5.8 0a2.9 2.9 0 1 0 5.8 0M303.4 252.5a2.9 2.9 0 1 0-5.8 0a2.9 2.9 0 1 0 5.8 0M329.4 236.5a2.9 2.9 0 1 0-5.8 0a2.9 2.9 0 1 0 5.8 0M360.4 227.5a2.9 2.9 0 1 0-5.8 0a2.9 2.9 0 1 0 5.8 0M375.4 237.5a2.9 2.9 0 1 0-5.8 0a2.9 2.9 0 1 0 5.8 0M328.4 242.5a2.9 2.9 0 1 0-5.8 0a2.9 2.9 0 1 0 5.8 0M298.4 237.5a2.9 2.9 0 1 0-5.8 0a2.9 2.9 0 1 0 5.8 0M334.4 234.5a2.9 2.9 0 1 0-5.8 0a2.9 2.9 0 1 0 5.8 0M312.4 254.5a2.9 2.9 0 1 0-5.8 0a2.9 2.9 0 1 0 5.8 0M301.4 233.5a2.9 2.9 0 1 0-5.8 0a2.9 2.9 0 1 0 5.8 0M320.4 234.5a2.9 2.9 0 1 0-5.8 0a2.9 2.9 0 1 0 5.8 0M377.4 237.5a2.9 2.9 0 1 0-5.8 0a2.9 2.9 0 1 0 5.8 0M363.4 231.5a2.9 2.9 0 1 0-5.8 0a2.9 2.9 0 1 0 5.8 0M334.4 245.5a2.9 2.9 0 1 0-5.8 0a2.9 2.9 0 1 0 5.8 0M287.4 254.5a2.9 2.9 0 1 0-5.8 0a2.9 2.9 0 1 0 5.8 0M318.4 248.5a2.9 2.9 0 1 0-5.8 0a2.9 2.9 0 1 0 5.8 0M370.4 225.5a2.9 2.9 0 1 0-5.8 0a2.9 2.9 0 1 0 5.8 0M308.4 240.5a2.9 2.9 0 1 0-5.8 0a2.9 2.9 0 1 0 5.8 0M360.4 219.5a2.9 2.9 0 1 0-5.8 0a2.9 2.9 0 1 0 5.8 0M369.4 232.5a2.9 2.9 0 1 0-5.8 0a2.9 2.9 0 1 0 5.8 0M362.4 239.5a2.9 2.9 0 1 0-5.8 0a2.9 2.9 0 1 0 5.8 0M370.4 239.5a2.9 2.9 0 1 0-5.8 0a2.9 2.9 0 1 0 5.8 0M353.4 241.5a2.9 2.9 0 1 0-5.8 0a2.9 2.9 0 1 0 5.8 0M376.4 246.5a2.9 2.9 0 1 0-5.8 0a2.9 2.9 0 1 0 5.8 0M286.4 261.5a2.9 2.9 0 1 0-5.8 0a2.9 2.9 0 1 0 5.8 0M294.4 241.5a2.9 2.9 0 1 0-5.8 0a2.9 2.9 0 1 0 5.8 0M339.4 238.5a2.9 2.9 0 1 0-5.8 0a2.9 2.9 0 1 0 5.8 0M311.4 259.5a2.9 2.9 0 1 0-5.8 0a2.9 2.9 0 1 0 5.8 0M319.4 237.5a2.9 2.9 0 1 0-5.8 0a2.9 2.9 0 1 0 5.8 0M306.4 254.5a2.9 2.9 0 1 0-5.8 0a2.9 2.9 0 1 0 5.8 0M369.4 237.5a2.9 2.9 0 1 0-5.8 0a2.9 2.9 0 1 0 5.8 0M356.4 236.5a2.9 2.9 0 1 0-5.8 0a2.9 2.9 0 1 0 5.8 0M373.4 225.5a2.9 2.9 0 1 0-5.8 0a2.9 2.9 0 1 0 5.8 0M368.4 225.5a2.9 2.9 0 1 0-5.8 0a2.9 2.9 0 1 0 5.8 0M378.4 232.5a2.9 2.9 0 1 0-5.8 0a2.9 2.9 0 1 0 5.8 0M332.4 242.5a2.9 2.9 0 1 0-5.8 0a2.9 2.9 0 1 0 5.8 0M290.4 245.5a2.9 2.9 0 1 0-5.8 0a2.9 2.9 0 1 0 5.8 0M325.4 230.5a2.9 2.9 0 1 0-5.8 0a2.9 2.9 0 1 0 5.8 0M293.4 257.5a2.9 2.9 0 1 0-5.8 0a2.9 2.9 0 1 0 5.8 0M357.4 239.5a2.9 2.9 0 1 0-5.8 0a2.9 2.9 0 1 0 5.8 0M380.4 246.5a2.9 2.9 0 1 0-5.8 0a2.9 2.9 0 1 0 5.8 0M293.4 246.5a2.9 2.9 0 1 0-5.8 0a2.9 2.9 0 1 0 5.8 0M378.4 227.5a2.9 2.9 0 1 0-5.8 0a2.9 2.9 0 1 0 5.8 0M292.4 257.5a2.9 2.9 0 1 0-5.8 0a2.9 2.9 0 1 0 5.8 0M370.4 244.5a2.9 2.9 0 1 0-5.8 0a2.9 2.9 0 1 0 5.8 0M358.4 241.5a2.9 2.9 0 1 0-5.8 0a2.9 2.9 0 1 0 5.8 0M360.4 243.5a2.9 2.9 0 1 0-5.8 0a2.9 2.9 0 1 0 5.8 0M316.4 266.5a2.9 2.9 0 1 0-5.8 0a2.9 2.9 0 1 0 5.8 0M339.4 225.5a2.9 2.9 0 1 0-5.8 0a2.9 2.9 0 1 0 5.8 0M344.4 222.5a2.9 2.9 0 1 0-5.8 0a2.9 2.9 0 1 0 5.8 0M339.4 230.5a2.9 2.9 0 1 0-5.8 0a2.9 2.9 0 1 0 5.8 0M328.4 252.5a2.9 2.9 0 1 0-5.8 0a2.9 2.9 0 1 0 5.8 0M283.4 241.5a2.9 2.9 0 1 0-5.8 0a2.9 2.9 0 1 0 5.8 0M312.4 246.5a2.9 2.9 0 1 0-5.8 0a2.9 2.9 0 1 0 5.8 0M363.4 238.5a2.9 2.9 0 1 0-5.8 0a2.9 2.9 0 1 0 5.8 0M343.4 228.5a2.9 2.9 0 1 0-5.8 0a2.9 2.9 0 1 0 5.8 0M306.4 241.5a2.9 2.9 0 1 0-5.8 0a2.9 2.9 0 1 0 5.8 0M334.4 225.5a2.9 2.9 0 1 0-5.8 0a2.9 2.9 0 1 0 5.8 0M357.4 240.5a2.9 2.9 0 1 0-5.8 0a2.9 2.9 0 1 0 5.8 0M374.4 226.5a2.9 2.9 0 1 0-5.8 0a2.9 2.9 0 1 0 5.8 0M288.4 248.5a2.9 2.9 0 1 0-5.8 0a2.9 2.9 0 1 0 5.8 0M283.4 260.5a2.9 2.9 0 1 0-5.8 0a2.9 2.9 0 1 0 5.8 0M348.4 231.5a2.9 2.9 0 1 0-5.8 0a2.9 2.9 0 1 0 5.8 0M325.4 251.5a2.9 2.9 0 1 0-5.8 0a2.9 2.9 0 1 0 5.8 0M284.4 248.5a2.9 2.9 0 1 0-5.8 0a2.9 2.9 0 1 0 5.8 0M327.4 241.5a2.9 2.9 0 1 0-5.8 0a2.9 2.9 0 1 0 5.8 0M309.4 238.5a2.9 2.9 0 1 0-5.8 0a2.9 2.9 0 1 0 5.8 0M374.4 240.5a2.9 2.9 0 1 0-5.8 0a2.9 2.9 0 1 0 5.8 0M300.4 247.5a2.9 2.9 0 1 0-5.8 0a2.9 2.9 0 1 0 5.8 0M331.4 239.5a2.9 2.9 0 1 0-5.8 0a2.9 2.9 0 1 0 5.8 0M371.4 243.5a2.9 2.9 0 1 0-5.8 0a2.9 2.9 0 1 0 5.8 0M297.4 252.5a2.9 2.9 0 1 0-5.8 0a2.9 2.9 0 1 0 5.8 0M362.4 231.5a2.9 2.9 0 1 0-5.8 0a2.9 2.9 0 1 0 5.8 0M287.4 243.5a2.9 2.9 0 1 0-5.8 0a2.9 2.9 0 1 0 5.8 0M338.4 222.5a2.9 2.9 0 1 0-5.8 0a2.9 2.9 0 1 0 5.8 0M288.4 261.5a2.9 2.9 0 1 0-5.8 0a2.9 2.9 0 1 0 5.8 0M351.4 222.5a2.9 2.9 0 1 0-5.8 0a2.9 2.9 0 1 0 5.8 0M379.4 242.5a2.9 2.9 0 1 0-5.8 0a2.9 2.9 0 1 0 5.8 0M371.4 240.5a2.9 2.9 0 1 0-5.8 0a2.9 2.9 0 1 0 5.8 0M313.4 249.5a2.9 2.9 0 1 0-5.8 0a2.9 2.9 0 1 0 5.8 0M351.4 238.5a2.9 2.9 0 1 0-5.8 0a2.9 2.9 0 1 0 5.8 0M308.4 236.5a2.9 2.9 0 1 0-5.8 0a2.9 2.9 0 1 0 5.8 0M352.4 225.5a2.9 2.9 0 1 0-5.8 0a2.9 2.9 0 1 0 5.8 0M296.4 239.5a2.9 2.9 0 1 0-5.8 0a2.9 2.9 0 1 0 5.8 0M307.4 256.5a2.9 2.9 0 1 0-5.8 0a2.9 2.9 0 1 0 5.8 0M358.4 215.5a2.9 2.9 0 1 0-5.8 0a2.9 2.9 0 1 0 5.8 0M329.4 250.5a2.9 2.9 0 1 0-5.8 0a2.9 2.9 0 1 0 5.8 0M333.4 222.5a2.9 2.9 0 1 0-5.8 0a2.9 2.9 0 1 0 5.8 0M350.4 219.5a2.9 2.9 0 1 0-5.8 0a2.9 2.9 0 1 0 5.8 0M311.4 260.5a2.9 2.9 0 1 0-5.8 0a2.9 2.9 0 1 0 5.8 0M337.4 241.5a2.9 2.9 0 1 0-5.8 0a2.9 2.9 0 1 0 5.8 0M351.4 240.5a2.9 2.9 0 1 0-5.8 0a2.9 2.9 0 1 0 5.8 0M319.4 243.5a2.9 2.9 0 1 0-5.8 0a2.9 2.9 0 1 0 5.8 0M309.4 257.5a2.9 2.9 0 1 0-5.8 0a2.9 2.9 0 1 0 5.8 0M355.4 227.5a2.9 2.9 0 1 0-5.8 0a2.9 2.9 0 1 0 5.8 0M364.4 243.5a2.9 2.9 0 1 0-5.8 0a2.9 2.9 0 1 0 5.8 0M306.4 235.5a2.9 2.9 0 1 0-5.8 0a2.9 2.9 0 1 0 5.8 0M329.4 243.5a2.9 2.9 0 1 0-5.8 0a2.9 2.9 0 1 0 5.8 0M316.4 251.5a2.9 2.9 0 1 0-5.8 0a2.9 2.9 0 1 0 5.8 0M334.4 240.5a2.9 2.9 0 1 0-5.8 0a2.9 2.9 0 1 0 5.8 0M348.4 231.5a2.9 2.9 0 1 0-5.8 0a2.9 2.9 0 1 0 5.8 0M378.4 228.5a2.9 2.9 0 1 0-5.8 0a2.9 2.9 0 1 0 5.8 0M357.4 233.5a2.9 2.9 0 1 0-5.8 0a2.9 2.9 0 1 0 5.8 0M286.4 260.5a2.9 2.9 0 1 0-5.8 0a2.9 2.9 0 1 0 5.8 0M319.4 236.5a2.9 2.9 0 1 0-5.8 0a2.9 2.9 0 1 0 5.8 0M341.4 242.5a2.9 2.9 0 1 0-5.8 0a2.9 2.9 0 1 0 5.8 0M288.4 263.5a2.9 2.9 0 1 0-5.8 0a2.9 2.9 0 1 0 5.8 0M296.4 255.5a2.9 2.9 0 1 0-5.8 0a2.9 2.9 0 1 0 5.8 0M313.4 261.5a2.9 2.9 0 1 0-5.8 0a2.9 2.9 0 1 0 5.8 0M359.4 228.5a2.9 2.9 0 1 0-5.8 0a2.9 2.9 0 1 0 5.8 0M288.4 266.5a2.9 2.9 0 1 0-5.8 0a2.9 2.9 0 1 0 5.8 0M366.4 242.5a2.9 2.9 0 1 0-5.8 0a2.9 2.9 0 1 0 5.8 0M344.4 237.5a2.9 2.9 0 1 0-5.8 0a2.9 2.9 0 1 0 5.8 0M308.4 242.5a2.9 2.9 0 1 0-5.8 0a2.9 2.9 0 1 0 5.8 0M295.4 241.5a2.9 2.9 0 1 0-5.8 0a2.9 2.9 0 1 0 5.8 0M360.4 236.5a2.9 2.9 0 1 0-5.8 0a2.9 2.9 0 1 0 5.8 0M286.4 265.5a2.9 2.9 0 1 0-5.8 0a2.9 2.9 0 1 0 5.8 0M285.4 249.5a2.9 2.9 0 1 0-5.8 0a2.9 2.9 0 1 0 5.8 0M323.4 255.5a2.9 2.9 0 1 0-5.8 0a2.9 2.9 0 1 0 5.8 0M324.4 236.5a2.9 2.9 0 1 0-5.8 0a2.9 2.9 0 1 0 5.8 0M321.4 241.5a2.9 2.9 0 1 0-5.8 0a2.9 2.9 0 1 0 5.8 0M335.4 232.5a2.9 2.9 0 1 0-5.8 0a2.9 2.9 0 1 0 5.8 0M348.4 233.5a2.9 2.9 0 1 0-5.8 0a2.9 2.9 0 1 0 5.8 0M373.4 229.5a2.9 2.9 0 1 0-5.8 0a2.9 2.9 0 1 0 5.8 0M324.4 230.5a2.9 2.9 0 1 0-5.8 0a2.9 2.9 0 1 0 5.8 0M334.4 228.5a2.9 2.9 0 1 0-5.8 0a2.9 2.9 0 1 0 5.8 0M347.4 235.5a2.9 2.9 0 1 0-5.8 0a2.9 2.9 0 1 0 5.8 0M351.4 228.5a2.9 2.9 0 1 0-5.8 0a2.9 2.9 0 1 0 5.8 0M326.4 243.5a2.9 2.9 0 1 0-5.8 0a2.9 2.9 0 1 0 5.8 0M347.4 231.5a2.9 2.9 0 1 0-5.8 0a2.9 2.9 0 1 0 5.8 0M371.4 225.5a2.9 2.9 0 1 0-5.8 0a2.9 2.9 0 1 0 5.8 0M295.4 251.5a2.9 2.9 0 1 0-5.8 0a2.9 2.9 0 1 0 5.8 0M338.4 226.5a2.9 2.9 0 1 0-5.8 0a2.9 2.9 0 1 0 5.8 0M323.4 246.5a2.9 2.9 0 1 0-5.8 0a2.9 2.9 0 1 0 5.8 0M346.4 237.5a2.9 2.9 0 1 0-5.8 0a2.9 2.9 0 1 0 5.8 0M375.4 233.5a2.9 2.9 0 1 0-5.8 0a2.9 2.9 0 1 0 5.8 0M332.4 226.5a2.9 2.9 0 1 0-5.8 0a2.9 2.9 0 1 0 5.8 0M342.4 237.5a2.9 2.9 0 1 0-5.8 0a2.9 2.9 0 1 0 5.8 0M335.4 228.5a2.9 2.9 0 1 0-5.8 0a2.9 2.9 0 1 0 5.8 0M293.4 261.5a2.9 2.9 0 1 0-5.8 0a2.9 2.9 0 1 0 5.8 0M310.4 245.5a2.9 2.9 0 1 0-5.8 0a2.9 2.9 0 1 0 5.8 0M308.4 259.5a2.9 2.9 0 1 0-5.8 0a2.9 2.9 0 1 0 5.8 0M301.4 249.5a2.9 2.9 0 1 0-5.8 0a2.9 2.9 0 1 0 5.8 0M336.4 230.5a2.9 2.9 0 1 0-5.8 0a2.9 2.9 0 1 0 5.8 0M311.4 257.5a2.9 2.9 0 1 0-5.8 0a2.9 2.9 0 1 0 5.8 0M304.4 248.5a2.9 2.9 0 1 0-5.8 0a2.9 2.9 0 1 0 5.8 0M351.4 240.5a2.9 2.9 0 1 0-5.8 0a2.9 2.9 0 1 0 5.8 0M375.4 234.5a2.9 2.9 0 1 0-5.8 0a2.9 2.9 0 1 0 5.8 0M336.4 236.5a2.9 2.9 0 1 0-5.8 0a2.9 2.9 0 1 0 5.8 0M369.4 245.5a2.9 2.9 0 1 0-5.8 0a2.9 2.9 0 1 0 5.8 0M365.4 233.5a2.9 2.9 0 1 0-5.8 0a2.9 2.9 0 1 0 5.8 0M341.4 243.5a2.9 2.9 0 1 0-5.8 0a2.9 2.9 0 1 0 5.8 0M354.4 221.5a2.9 2.9 0 1 0-5.8 0a2.9 2.9 0 1 0 5.8 0M376.4 240.5a2.9 2.9 0 1 0-5.8 0a2.9 2.9 0 1 0 5.8 0M364.4 239.5a2.9 2.9 0 1 0-5.8 0a2.9 2.9 0 1 0 5.8 0M302.4 235.5a2.9 2.9 0 1 0-5.8 0a2.9 2.9 0 1 0 5.8 0M288.4 245.5a2.9 2.9 0 1 0-5.8 0a2.9 2.9 0 1 0 5.8 0M302.4 252.5a2.9 2.9 0 1 0-5.8 0a2.9 2.9 0 1 0 5.8 0M298.4 251.5a2.9 2.9 0 1 0-5.8 0a2.9 2.9 0 1 0 5.8 0M376.4 229.5a2.9 2.9 0 1 0-5.8 0a2.9 2.9 0 1 0 5.8 0M349.4 234.5a2.9 2.9 0 1 0-5.8 0a2.9 2.9 0 1 0 5.8 0M314.4 258.5a2.9 2.9 0 1 0-5.8 0a2.9 2.9 0 1 0 5.8 0M361.4 238.5a2.9 2.9 0 1 0-5.8 0a2.9 2.9 0 1 0 5.8 0M320.4 257.5a2.9 2.9 0 1 0-5.8 0a2.9 2.9 0 1 0 5.8 0M282.4 238.5a2.9 2.9 0 1 0-5.8 0a2.9 2.9 0 1 0 5.8 0M290.4 260.5a2.9 2.9 0 1 0-5.8 0a2.9 2.9 0 1 0 5.8 0M289.4 262.5a2.9 2.9 0 1 0-5.8 0a2.9 2.9 0 1 0 5.8 0M322.4 246.5a2.9 2.9 0 1 0-5.8 0a2.9 2.9 0 1 0 5.8 0M331.4 242.5a2.9 2.9 0 1 0-5.8 0a2.9 2.9 0 1 0 5.8 0M327.4 235.5a2.9 2.9 0 1 0-5.8 0a2.9 2.9 0 1 0 5.8 0M350.4 218.5a2.9 2.9 0 1 0-5.8 0a2.9 2.9 0 1 0 5.8 0M357.4 243.5a2.9 2.9 0 1 0-5.8 0a2.9 2.9 0 1 0 5.8 0M290.4 242.5a2.9 2.9 0 1 0-5.8 0a2.9 2.9 0 1 0 5.8 0M299.4 254.5a2.9 2.9 0 1 0-5.8 0a2.9 2.9 0 1 0 5.8 0M361.4 239.5a2.9 2.9 0 1 0-5.8 0a2.9 2.9 0 1 0 5.8 0M366.4 223.5a2.9 2.9 0 1 0-5.8 0a2.9 2.9 0 1 0 5.8 0M314.4 241.5a2.9 2.9 0 1 0-5.8 0a2.9 2.9 0 1 0 5.8 0M353.4 237.5a2.9 2.9 0 1 0-5.8 0a2.9 2.9 0 1 0 5.8 0M311.4 261.5a2.9 2.9 0 1 0-5.8 0a2.9 2.9 0 1 0 5.8 0M320.4 236.5a2.9 2.9 0 1 0-5.8 0a2.9 2.9 0 1 0 5.8 0M303.4 239.5a2.9 2.9 0 1 0-5.8 0a2.9 2.9 0 1 0 5.8 0M351.4 232.5a2.9 2.9 0 1 0-5.8 0a2.9 2.9 0 1 0 5.8 0M309.4 243.5a2.9 2.9 0 1 0-5.8 0a2.9 2.9 0 1 0 5.8 0M308.4 241.5a2.9 2.9 0 1 0-5.8 0a2.9 2.9 0 1 0 5.8 0M371.4 237.5a2.9 2.9 0 1 0-5.8 0a2.9 2.9 0 1 0 5.8 0M304.4 246.5a2.9 2.9 0 1 0-5.8 0a2.9 2.9 0 1 0 5.8 0M292.4 241.5a2.9 2.9 0 1 0-5.8 0a2.9 2.9 0 1 0 5.8 0M335.4 229.5a2.9 2.9 0 1 0-5.8 0a2.9 2.9 0 1 0 5.8 0M309.4 238.5a2.9 2.9 0 1 0-5.8 0a2.9 2.9 0 1 0 5.8 0M368.4 244.5a2.9 2.9 0 1 0-5.8 0a2.9 2.9 0 1 0 5.8 0M308.4 247.5a2.9 2.9 0 1 0-5.8 0a2.9 2.9 0 1 0 5.8 0M318.4 239.5a2.9 2.9 0 1 0-5.8 0a2.9 2.9 0 1 0 5.8 0M317.4 266.5a2.9 2.9 0 1 0-5.8 0a2.9 2.9 0 1 0 5.8 0M284.4 266.5a2.9 2.9 0 1 0-5.8 0a2.9 2.9 0 1 0 5.8 0M357.4 221.5a2.9 2.9 0 1 0-5.8 0a2.9 2.9 0 1 0 5.8 0M315.4 254.5a2.9 2.9 0 1 0-5.8 0a2.9 2.9 0 1 0 5.8 0M365.4 222.5a2.9 2.9 0 1 0-5.8 0a2.9 2.9 0 1 0 5.8 0M337.4 242.5a2.9 2.9 0 1 0-5.8 0a2.9 2.9 0 1 0 5.8 0M342.4 230.5a2.9 2.9 0 1 0-5.8 0a2.9 2.9 0 1 0 5.8 0M365.4 241.5a2.9 2.9 0 1 0-5.8 0a2.9 2.9 0 1 0 5.8 0M344.4 225.5a2.9 2.9 0 1 0-5.8 0a2.9 2.9 0 1 0 5.8 0M350.4 235.5a2.9 2.9 0 1 0-5.8 0a2.9 2.9 0 1 0 5.8 0M352.4 231.5a2.9 2.9 0 1 0-5.8 0a2.9 2.9 0 1 0 5.8 0M328.4 239.5a2.9 2.9 0 1 0-5.8 0a2.9 2.9 0 1 0 5.8 0M355.4 216.5a2.9 2.9 0 1 0-5.8 0a2.9 2.9 0 1 0 5.8 0M332.4 227.5a2.9 2.9 0 1 0-5.8 0a2.9 2.9 0 1 0 5.8 0M339.4 227.5a2.9 2.9 0 1 0-5.8 0a2.9 2.9 0 1 0 5.8 0M370.4 233.5a2.9 2.9 0 1 0-5.8 0a2.9 2.9 0 1 0 5.8 0M307.4 243.5a2.9 2.9 0 1 0-5.8 0a2.9 2.9 0 1 0 5.8 0M332.4 240.5a2.9 2.9 0 1 0-5.8 0a2.9 2.9 0 1 0 5.8 0M348.4 228.5a2.9 2.9 0 1 0-5.8 0a2.9 2.9 0 1 0 5.8 0M288.4 258.5a2.9 2.9 0 1 0-5.8 0a2.9 2.9 0 1 0 5.8 0M369.4 229.5a2.9 2.9 0 1 0-5.8 0a2.9 2.9 0 1 0 5.8 0M364.4 226.5a2.9 2.9 0 1 0-5.8 0a2.9 2.9 0 1 0 5.8 0M376.4 244.5a2.9 2.9 0 1 0-5.8 0a2.9 2.9 0 1 0 5.8 0M321.4 240.5a2.9 2.9 0 1 0-5.8 0a2.9 2.9 0 1 0 5.8 0M331.4 224.5a2.9 2.9 0 1 0-5.8 0a2.9 2.9 0 1 0 5.8 0M306.4 259.5a2.9 2.9 0 1 0-5.8 0a2.9 2.9 0 1 0 5.8 0M284.4 257.5a2.9 2.9 0 1 0-5.8 0a2.9 2.9 0 1 0 5.8 0M376.4 243.5a2.9 2.9 0 1 0-5.8 0a2.9 2.9 0 1 0 5.8 0M291.4 259.5a2.9 2.9 0 1 0-5.8 0a2.9 2.9 0 1 0 5.8 0M348.4 223.5a2.9 2.9 0 1 0-5.8 0a2.9 2.9 0 1 0 5.8 0M352.4 230.5a2.9 2.9 0 1 0-5.8 0a2.9 2.9 0 1 0 5.8 0M313.4 254.5a2.9 2.9 0 1 0-5.8 0a2.9 2.9 0 1 0 5.8 0M337.4 220.5a2.9 2.9 0 1 0-5.8 0a2.9 2.9 0 1 0 5.8 0M305.4 239.5a2.9 2.9 0 1 0-5.8 0a2.9 2.9 0 1 0 5.8 0M312.4 243.5a2.9 2.9 0 1 0-5.8 0a2.9 2.9 0 1 0 5.8 0M312.4 249.5a2.9 2.9 0 1 0-5.8 0a2.9 2.9 0 1 0 5.8 0M353.4 241.5a2.9 2.9 0 1 0-5.8 0a2.9 2.9 0 1 0 5.8 0M307.4 246.5a2.9 2.9 0 1 0-5.8 0a2.9 2.9 0 1 0 5.8 0M320.4 238.5a2.9 2.9 0 1 0-5.8 0a2.9 2.9 0 1 0 5.8 0M334.4 245.5a2.9 2.9 0 1 0-5.8 0a2.9 2.9 0 1 0 5.8 0M370.4 228.5a2.9 2.9 0 1 0-5.8 0a2.9 2.9 0 1 0 5.8 0M292.4 260.5a2.9 2.9 0 1 0-5.8 0a2.9 2.9 0 1 0 5.8 0M317.4 263.5a2.9 2.9 0 1 0-5.8 0a2.9 2.9 0 1 0 5.8 0M380.4 229.5a2.9 2.9 0 1 0-5.8 0a2.9 2.9 0 1 0 5.8 0M306.4 239.5a2.9 2.9 0 1 0-5.8 0a2.9 2.9 0 1 0 5.8 0M349.4 221.5a2.9 2.9 0 1 0-5.8 0a2.9 2.9 0 1 0 5.8 0M291.4 257.5a2.9 2.9 0 1 0-5.8 0a2.9 2.9 0 1 0 5.8 0M346.4 229.5a2.9 2.9 0 1 0-5.8 0a2.9 2.9 0 1 0 5.8 0M285.4 266.5a2.9 2.9 0 1 0-5.8 0a2.9 2.9 0 1 0 5.8 0M356.4 215.5a2.9 2.9 0 1 0-5.8 0a2.9 2.9 0 1 0 5.8 0M290.4 249.5a2.9 2.9 0 1 0-5.8 0a2.9 2.9 0 1 0 5.8 0M295.4 250.5a2.9 2.9 0 1 0-5.8 0a2.9 2.9 0 1 0 5.8 0M348.4 225.5a2.9 2.9 0 1 0-5.8 0a2.9 2.9 0 1 0 5.8 0M287.4 262.5a2.9 2.9 0 1 0-5.8 0a2.9 2.9 0 1 0 5.8 0M358.4 241.5a2.9 2.9 0 1 0-5.8 0a2.9 2.9 0 1 0 5.8 0M340.4 240.5a2.9 2.9 0 1 0-5.8 0a2.9 2.9 0 1 0 5.8 0M356.4 242.5a2.9 2.9 0 1 0-5.8 0a2.9 2.9 0 1 0 5.8 0M308.4 241.5a2.9 2.9 0 1 0-5.8 0a2.9 2.9 0 1 0 5.8 0M352.4 224.5a2.9 2.9 0 1 0-5.8 0a2.9 2.9 0 1 0 5.8 0M331.4 245.5a2.9 2.9 0 1 0-5.8 0a2.9 2.9 0 1 0 5.8 0M338.4 238.5a2.9 2.9 0 1 0-5.8 0a2.9 2.9 0 1 0 5.8 0M369.4 241.5a2.9 2.9 0 1 0-5.8 0a2.9 2.9 0 1 0 5.8 0M330.4 229.5a2.9 2.9 0 1 0-5.8 0a2.9 2.9 0 1 0 5.8 0M318.4 252.5a2.9 2.9 0 1 0-5.8 0a2.9 2.9 0 1 0 5.8 0M318.4 262.5a2.9 2.9 0 1 0-5.8 0a2.9 2.9 0 1 0 5.8 0M361.4 230.5a2.9 2.9 0 1 0-5.8 0a2.9 2.9 0 1 0 5.8 0M295.4 258.5a2.9 2.9 0 1 0-5.8 0a2.9 2.9 0 1 0 5.8 0M322.4 232.5a2.9 2.9 0 1 0-5.8 0a2.9 2.9 0 1 0 5.8 0M327.4 253.5a2.9 2.9 0 1 0-5.8 0a2.9 2.9 0 1 0 5.8 0M357.4 222.5a2.9 2.9 0 1 0-5.8 0a2.9 2.9 0 1 0 5.8 0M298.4 239.5a2.9 2.9 0 1 0-5.8 0a2.9 2.9 0 1 0 5.8 0M294.4 249.5a2.9 2.9 0 1 0-5.8 0a2.9 2.9 0 1 0 5.8 0M349.4 231.5a2.9 2.9 0 1 0-5.8 0a2.9 2.9 0 1 0 5.8 0M283.4 259.5a2.9 2.9 0 1 0-5.8 0a2.9 2.9 0 1 0 5.8 0M359.4 259.5a2.9 2.9 0 1 0-5.8 0a2.9 2.9 0 1 0 5.8 0M360.4 247.5a2.9 2.9 0 1 0-5.8 0a2.9 2.9 0 1 0 5.8 0M353.4 257.5a2.9 2.9 0 1 0-5.8 0a2.9 2.9 0 1 0 5.8 0M296.4 269.5a2.9 2.9 0 1 0-5.8 0a2.9 2.9 0 1 0 5.8 0M306.4 271.5a2.9 2.9 0 1 0-5.8 0a2.9 2.9 0 1 0 5.8 0M281.4 275.5a2.9 2.9 0 1 0-5.8 0a2.9 2.9 0 1 0 5.8 0M370.4 248.5a2.9 2.9 0 1 0-5.8 0a2.9 2.9 0 1 0 5.8 0M332.4 265.5a2.9 2.9 0 1 0-5.8 0a2.9 2.9 0 1 0 5.8 0M335.4 251.5a2.9 2.9 0 1 0-5.8 0a2.9 2.9 0 1 0 5.8 0M346.4 248.5a2.9 2.9 0 1 0-5.8 0a2.9 2.9 0 1 0 5.8 0M321.4 278.5a2.9 2.9 0 1 0-5.8 0a2.9 2.9 0 1 0 5.8 0M339.4 262.5a2.9 2.9 0 1 0-5.8 0a2.9 2.9 0 1 0 5.8 0M347.4 242.5a2.9 2.9 0 1 0-5.8 0a2.9 2.9 0 1 0 5.8 0M289.4 272.5a2.9 2.9 0 1 0-5.8 0a2.9 2.9 0 1 0 5.8 0M322.4 266.5a2.9 2.9 0 1 0-5.8 0a2.9 2.9 0 1 0 5.8 0M292.4 278.5a2.9 2.9 0 1 0-5.8 0a2.9 2.9 0 1 0 5.8 0M374.4 247.5a2.9 2.9 0 1 0-5.8 0a2.9 2.9 0 1 0 5.8 0M323.4 265.5a2.9 2.9 0 1 0-5.8 0a2.9 2.9 0 1 0 5.8 0M292.4 266.5a2.9 2.9 0 1 0-5.8 0a2.9 2.9 0 1 0 5.8 0M324.4 258.5a2.9 2.9 0 1 0-5.8 0a2.9 2.9 0 1 0 5.8 0M379.4 251.5a2.9 2.9 0 1 0-5.8 0a2.9 2.9 0 1 0 5.8 0M319.4 268.5a2.9 2.9 0 1 0-5.8 0a2.9 2.9 0 1 0 5.8 0M300.4 263.5a2.9 2.9 0 1 0-5.8 0a2.9 2.9 0 1 0 5.8 0M375.4 253.5a2.9 2.9 0 1 0-5.8 0a2.9 2.9 0 1 0 5.8 0M298.4 260.5a2.9 2.9 0 1 0-5.8 0a2.9 2.9 0 1 0 5.8 0M348.4 253.5a2.9 2.9 0 1 0-5.8 0a2.9 2.9 0 1 0 5.8 0M370.4 248.5a2.9 2.9 0 1 0-5.8 0a2.9 2.9 0 1 0 5.8 0M368.4 260.5a2.9 2.9 0 1 0-5.8 0a2.9 2.9 0 1 0 5.8 0M352.4 253.5a2.9 2.9 0 1 0-5.8 0a2.9 2.9 0 1 0 5.8 0M305.4 260.5a2.9 2.9 0 1 0-5.8 0a2.9 2.9 0 1 0 5.8 0M312.4 275.5a2.9 2.9 0 1 0-5.8 0a2.9 2.9 0 1 0 5.8 0M380.4 248.5a2.9 2.9 0 1 0-5.8 0a2.9 2.9 0 1 0 5.8 0M333.4 260.5a2.9 2.9 0 1 0-5.8 0a2.9 2.9 0 1 0 5.8 0M300.4 273.5a2.9 2.9 0 1 0-5.8 0a2.9 2.9 0 1 0 5.8 0M379.4 249.5a2.9 2.9 0 1 0-5.8 0a2.9 2.9 0 1 0 5.8 0M282.4 268.5a2.9 2.9 0 1 0-5.8 0a2.9 2.9 0 1 0 5.8 0M339.4 256.5a2.9 2.9 0 1 0-5.8 0a2.9 2.9 0 1 0 5.8 0M315.4 276.5a2.9 2.9 0 1 0-5.8 0a2.9 2.9 0 1 0 5.8 0M330.4 256.5a2.9 2.9 0 1 0-5.8 0a2.9 2.9 0 1 0 5.8 0M330.4 254.5a2.9 2.9 0 1 0-5.8 0a2.9 2.9 0 1 0 5.8 0M291.4 271.5a2.9 2.9 0 1 0-5.8 0a2.9 2.9 0 1 0 5.8 0M307.4 273.5a2.9 2.9 0 1 0-5.8 0a2.9 2.9 0 1 0 5.8 0M314.4 280.5a2.9 2.9 0 1 0-5.8 0a2.9 2.9 0 1 0 5.8 0M311.4 276.5a2.9 2.9 0 1 0-5.8 0a2.9 2.9 0 1 0 5.8 0M291.4 266.5a2.9 2.9 0 1 0-5.8 0a2.9 2.9 0 1 0 5.8 0M287.4 280.5a2.9 2.9 0 1 0-5.8 0a2.9 2.9 0 1 0 5.8 0M356.4 255.5a2.9 2.9 0 1 0-5.8 0a2.9 2.9 0 1 0 5.8 0M300.4 263.5a2.9 2.9 0 1 0-5.8 0a2.9 2.9 0 1 0 5.8 0M340.4 257.5a2.9 2.9 0 1 0-5.8 0a2.9 2.9 0 1 0 5.8 0M358.4 258.5a2.9 2.9 0 1 0-5.8 0a2.9 2.9 0 1 0 5.8 0M312.4 266.5a2.9 2.9 0 1 0-5.8 0a2.9 2.9 0 1 0 5.8 0M355.4 252.5a2.9 2.9 0 1 0-5.8 0a2.9 2.9 0 1 0 5.8 0M376.4 261.5a2.9 2.9 0 1 0-5.8 0a2.9 2.9 0 1 0 5.8 0M361.4 247.5a2.9 2.9 0 1 0-5.8 0a2.9 2.9 0 1 0 5.8 0M291.4 280.5a2.9 2.9 0 1 0-5.8 0a2.9 2.9 0 1 0 5.8 0M287.4 280.5a2.9 2.9 0 1 0-5.8 0a2.9 2.9 0 1 0 5.8 0M355.4 254.5a2.9 2.9 0 1 0-5.8 0a2.9 2.9 0 1 0 5.8 0M310.4 268.5a2.9 2.9 0 1 0-5.8 0a2.9 2.9 0 1 0 5.8 0M352.4 246.5a2.9 2.9 0 1 0-5.8 0a2.9 2.9 0 1 0 5.8 0M320.4 276.5a2.9 2.9 0 1 0-5.8 0a2.9 2.9 0 1 0 5.8 0M292.4 274.5a2.9 2.9 0 1 0-5.8 0a2.9 2.9 0 1 0 5.8 0M312.4 280.5a2.9 2.9 0 1 0-5.8 0a2.9 2.9 0 1 0 5.8 0M356.4 250.5a2.9 2.9 0 1 0-5.8 0a2.9 2.9 0 1 0 5.8 0M354.4 250.5a2.9 2.9 0 1 0-5.8 0a2.9 2.9 0 1 0 5.8 0M339.4 254.5a2.9 2.9 0 1 0-5.8 0a2.9 2.9 0 1 0 5.8 0M374.4 248.5a2.9 2.9 0 1 0-5.8 0a2.9 2.9 0 1 0 5.8 0M363.4 253.5a2.9 2.9 0 1 0-5.8 0a2.9 2.9 0 1 0 5.8 0M326.4 256.5a2.9 2.9 0 1 0-5.8 0a2.9 2.9 0 1 0 5.8 0M318.4 282.5a2.9 2.9 0 1 0-5.8 0a2.9 2.9 0 1 0 5.8 0M317.4 269.5a2.9 2.9 0 1 0-5.8 0a2.9 2.9 0 1 0 5.8 0M323.4 264.5a2.9 2.9 0 1 0-5.8 0a2.9 2.9 0 1 0 5.8 0M294.4 262.5a2.9 2.9 0 1 0-5.8 0a2.9 2.9 0 1 0 5.8 0M343.4 249.5a2.9 2.9 0 1 0-5.8 0a2.9 2.9 0 1 0 5.8 0M313.4 274.5a2.9 2.9 0 1 0-5.8 0a2.9 2.9 0 1 0 5.8 0M377.4 249.5a2.9 2.9 0 1 0-5.8 0a2.9 2.9 0 1 0 5.8 0M312.4 269.5a2.9 2.9 0 1 0-5.8 0a2.9 2.9 0 1 0 5.8 0M379.4 255.5a2.9 2.9 0 1 0-5.8 0a2.9 2.9 0 1 0 5.8 0M366.4 251.5a2.9 2.9 0 1 0-5.8 0a2.9 2.9 0 1 0 5.8 0M323.4 273.5a2.9 2.9 0 1 0-5.8 0a2.9 2.9 0 1 0 5.8 0M334.4 250.5a2.9 2.9 0 1 0-5.8 0a2.9 2.9 0 1 0 5.8 0M316.4 272.5a2.9 2.9 0 1 0-5.8 0a2.9 2.9 0 1 0 5.8 0M328.4 260.5a2.9 2.9 0 1 0-5.8 0a2.9 2.9 0 1 0 5.8 0M361.4 256.5a2.9 2.9 0 1 0-5.8 0a2.9 2.9 0 1 0 5.8 0M328.4 255.5a2.9 2.9 0 1 0-5.8 0a2.9 2.9 0 1 0 5.8 0M314.4 272.5a2.9 2.9 0 1 0-5.8 0a2.9 2.9 0 1 0 5.8 0M318.4 279.5a2.9 2.9 0 1 0-5.8 0a2.9 2.9 0 1 0 5.8 0M324.4 262.5a2.9 2.9 0 1 0-5.8 0a2.9 2.9 0 1 0 5.8 0M370.4 260.5a2.9 2.9 0 1 0-5.8 0a2.9 2.9 0 1 0 5.8 0M330.4 257.5a2.9 2.9 0 1 0-5.8 0a2.9 2.9 0 1 0 5.8 0M358.4 250.5a2.9 2.9 0 1 0-5.8 0a2.9 2.9 0 1 0 5.8 0M340.4 260.5a2.9 2.9 0 1 0-5.8 0a2.9 2.9 0 1 0 5.8 0M354.4 245.5a2.9 2.9 0 1 0-5.8 0a2.9 2.9 0 1 0 5.8 0M348.4 249.5a2.9 2.9 0 1 0-5.8 0a2.9 2.9 0 1 0 5.8 0M359.4 256.5a2.9 2.9 0 1 0-5.8 0a2.9 2.9 0 1 0 5.8 0M370.4 258.5a2.9 2.9 0 1 0-5.8 0a2.9 2.9 0 1 0 5.8 0M370.4 250.5a2.9 2.9 0 1 0-5.8 0a2.9 2.9 0 1 0 5.8 0M379.4 266.5a2.9 2.9 0 1 0-5.8 0a2.9 2.9 0 1 0 5.8 0M322.4 292.5a2.9 2.9 0 1 0-5.8 0a2.9 2.9 0 1 0 5.8 0M360.4 276.5a2.9 2.9 0 1 0-5.8 0a2.9 2.9 0 1 0 5.8 0M345.4 261.5a2.9 2.9 0 1 0-5.8 0a2.9 2.9 0 1 0 5.8 0M325.4 280.5a2.9 2.9 0 1 0-5.8 0a2.9 2.9 0 1 0 5.8 0M299.4 275.5a2.9 2.9 0 1 0-5.8 0a2.9 2.9 0 1 0 5.8 0M355.4 264.5a2.9 2.9 0 1 0-5.8 0a2.9 2.9 0 1 0 5.8 0M365.4 275.5a2.9 2.9 0 1 0-5.8 0a2.9 2.9 0 1 0 5.8 0M342.4 267.5a2.9 2.9 0 1 0-5.8 0a2.9 2.9 0 1 0 5.8 0M343.4 267.5a2.9 2.9 0 1 0-5.8 0a2.9 2.9 0 1 0 5.8 0M294.4 292.5a2.9 2.9 0 1 0-5.8 0a2.9 2.9 0 1 0 5.8 0M345.4 264.5a2.9 2.9 0 1 0-5.8 0a2.9 2.9 0 1 0 5.8 0M287.4 296.5a2.9 2.9 0 1 0-5.8 0a2.9 2.9 0 1 0 5.8 0M339.4 273.5a2.9 2.9 0 1 0-5.8 0a2.9 2.9 0 1 0 5.8 0M320.4 291.5a2.9 2.9 0 1 0-5.8 0a2.9 2.9 0 1 0 5.8 0M316.4 289.5a2.9 2.9 0 1 0-5.8 0a2.9 2.9 0 1 0 5.8 0M360.4 266.5a2.9 2.9 0 1 0-5.8 0a2.9 2.9 0 1 0 5.8 0M286.4 283.5a2.9 2.9 0 1 0-5.8 0a2.9 2.9 0 1 0 5.8 0M290.4 283.5a2.9 2.9 0 1 0-5.8 0a2.9 2.9 0 1 0 5.8 0M427.4 240.5a2.9 2.9 0 1 0-5.8 0a2.9 2.9 0 1 0 5.8 0M426.4 242.5a2.9 2.9 0 1 0-5.8 0a2.9 2.9 0 1 0 5.8 0M451.4 242.5a2.9 2.9 0 1 0-5.8 0a2.9 2.9 0 1 0 5.8 0M466.4 221.5a2.9 2.9 0 1 0-5.8 0a2.9 2.9 0 1 0 5.8 0M455.4 236.5a2.9 2.9 0 1 0-5.8 0a2.9 2.9 0 1 0 5.8 0M443.4 250.5a2.9 2.9 0 1 0-5.8 0a2.9 2.9 0 1 0 5.8 0M386.4 203.5a2.9 2.9 0 1 0-5.8 0a2.9 2.9 0 1 0 5.8 0M397.4 228.5a2.9 2.9 0 1 0-5.8 0a2.9 2.9 0 1 0 5.8 0M435.4 213.5a2.9 2.9 0 1 0-5.8 0a2.9 2.9 0 1 0 5.8 0M433.4 197.5a2.9 2.9 0 1 0-5.8 0a2.9 2.9 0 1 0 5.8 0M396.4 209.5a2.9 2.9 0 1 0-5.8 0a2.9 2.9 0 1 0 5.8 0M397.4 214.5a2.9 2.9 0 1 0-5.8 0a2.9 2.9 0 1 0 5.8 0M389.4 229.5a2.9 2.9 0 1 0-5.8 0a2.9 2.9 0 1 0 5.8 0M453.4 249.5a2.9 2.9 0 1 0-5.8 0a2.9 2.9 0 1 0 5.8 0M470.4 245.5a2.9 2.9 0 1 0-5.8 0a2.9 2.9 0 1 0 5.8 0M424.4 218.5a2.9 2.9 0 1 0-5.8 0a2.9 2.9 0 1 0 5.8 0M391.4 206.5a2.9 2.9 0 1 0-5.8 0a2.9 2.9 0 1 0 5.8 0M409.4 243.5a2.9 2.9 0 1 0-5.8 0a2.9 2.9 0 1 0 5.8 0M450.4 235.5a2.9 2.9 0 1 0-5.8 0a2.9 2.9 0 1 0 5.8 0M449.4 238.5a2.9 2.9 0 1 0-5.8 0a2.9 2.9 0 1 0 5.8 0M387.4 220.5a2.9 2.9 0 1 0-5.8 0a2.9 2.9 0 1 0 5.8 0M399.4 211.5a2.9 2.9 0 1 0-5.8 0a2.9 2.9 0 1 0 5.8 0M383.4 230.5a2.9 2.9 0 1 0-5.8 0a2.9 2.9 0 1 0 5.8 0M449.4 228.5a2.9 2.9 0 1 0-5.8 0a2.9 2.9 0 1 0 5.8 0M461.4 242.5a2.9 2.9 0 1 0-5.8 0a2.9 2.9 0 1 0 5.8 0M443.4 242.5a2.9 2.9 0 1 0-5.8 0a2.9 2.9 0 1 0 5.8 0M397.4 228.5a2.9 2.9 0 1 0-5.8 0a2.9 2.9 0 1 0 5.8 0M475.4 247.5a2.9 2.9 0 1 0-5.8 0a2.9 2.9 0 1 0 5.8 0M419.4 242.5a2.9 2.9 0 1 0-5.8 0a2.9 2.9 0 1 0 5.8 0M465.4 236.5a2.9 2.9 0 1 0-5.8 0a2.9 2.9 0 1 0 5.8 0M425.4 220.5a2.9 2.9 0 1 0-5.8 0a2.9 2.9 0 1 0 5.8 0M479.4 251.5a2.9 2.9 0 1 0-5.8 0a2.9 2.9 0 1 0 5.8 0M392.4 229.5a2.9 2.9 0 1 0-5.8 0a2.9 2.9 0 1 0 5.8 0M463.4 252.5a2.9 2.9 0 1 0-5.8 0a2.9 2.9 0 1 0 5.8 0M418.4 233.5a2.9 2.9 0 1 0-5.8 0a2.9 2.9 0 1 0 5.8 0M444.4 228.5a2.9 2.9 0 1 0-5.8 0a2.9 2.9 0 1 0 5.8 0M400.4 227.5a2.9 2.9 0 1 0-5.8 0a2.9 2.9 0 1 0 5.8 0M399.4 215.5a2.9 2.9 0 1 0-5.8 0a2.9 2.9 0 1 0 5.8 0M464.4 226.5a2.9 2.9 0 1 0-5.8 0a2.9 2.9 0 1 0 5.8 0M428.4 218.5a2.9 2.9 0 1 0-5.8 0a2.9 2.9 0 1 0 5.8 0M465.4 256.5a2.9 2.9 0 1 0-5.8 0a2.9 2.9 0 1 0 5.8 0M437.4 180.5a2.9 2.9 0 1 0-5.8 0a2.9 2.9 0 1 0 5.8 0M394.4 230.5a2.9 2.9 0 1 0-5.8 0a2.9 2.9 0 1 0 5.8 0M436.4 224.5a2.9 2.9 0 1 0-5.8 0a2.9 2.9 0 1 0 5.8 0M417.4 236.5a2.9 2.9 0 1 0-5.8 0a2.9 2.9 0 1 0 5.8 0M459.4 232.5a2.9 2.9 0 1 0-5.8 0a2.9 2.9 0 1 0 5.8 0M399.4 214.5a2.9 2.9 0 1 0-5.8 0a2.9 2.9 0 1 0 5.8 0M415.4 226.5a2.9 2.9 0 1 0-5.8 0a2.9 2.9 0 1 0 5.8 0M390.4 225.5a2.9 2.9 0 1 0-5.8 0a2.9 2.9 0 1 0 5.8 0M412.4 237.5a2.9 2.9 0 1 0-5.8 0a2.9 2.9 0 1 0 5.8 0M455.4 252.5a2.9 2.9 0 1 0-5.8 0a2.9 2.9 0 1 0 5.8 0M405.4 232.5a2.9 2.9 0 1 0-5.8 0a2.9 2.9 0 1 0 5.8 0M478.4 247.5a2.9 2.9 0 1 0-5.8 0a2.9 2.9 0 1 0 5.8 0M426.4 224.5a2.9 2.9 0 1 0-5.8 0a2.9 2.9 0 1 0 5.8 0M433.4 189.5a2.9 2.9 0 1 0-5.8 0a2.9 2.9 0 1 0 5.8 0M385.4 222.5a2.9 2.9 0 1 0-5.8 0a2.9 2.9 0 1 0 5.8 0M394.4 224.5a2.9 2.9 0 1 0-5.8 0a2.9 2.9 0 1 0 5.8 0M418.4 230.5a2.9 2.9 0 1 0-5.8 0a2.9 2.9 0 1 0 5.8 0M468.4 243.5a2.9 2.9 0 1 0-5.8 0a2.9 2.9 0 1 0 5.8 0M470.4 230.5a2.9 2.9 0 1 0-5.8 0a2.9 2.9 0 1 0 5.8 0M452.4 247.5a2.9 2.9 0 1 0-5.8 0a2.9 2.9 0 1 0 5.8 0M423.4 225.5a2.9 2.9 0 1 0-5.8 0a2.9 2.9 0 1 0 5.8 0M421.4 210.5a2.9 2.9 0 1 0-5.8 0a2.9 2.9 0 1 0 5.8 0M416.4 217.5a2.9 2.9 0 1 0-5.8 0a2.9 2.9 0 1 0 5.8 0M404.4 211.5a2.9 2.9 0 1 0-5.8 0a2.9 2.9 0 1 0 5.8 0M386.4 205.5a2.9 2.9 0 1 0-5.8 0a2.9 2.9 0 1 0 5.8 0M438.4 195.5a2.9 2.9 0 1 0-5.8 0a2.9 2.9 0 1 0 5.8 0M419.4 221.5a2.9 2.9 0 1 0-5.8 0a2.9 2.9 0 1 0 5.8 0M436.4 220.5a2.9 2.9 0 1 0-5.8 0a2.9 2.9 0 1 0 5.8 0M421.4 227.5a2.9 2.9 0 1 0-5.8 0a2.9 2.9 0 1 0 5.8 0M468.4 225.5a2.9 2.9 0 1 0-5.8 0a2.9 2.9 0 1 0 5.8 0M413.4 232.5a2.9 2.9 0 1 0-5.8 0a2.9 2.9 0 1 0 5.8 0M397.4 204.5a2.9 2.9 0 1 0-5.8 0a2.9 2.9 0 1 0 5.8 0M450.4 249.5a2.9 2.9 0 1 0-5.8 0a2.9 2.9 0 1 0 5.8 0M427.4 240.5a2.9 2.9 0 1 0-5.8 0a2.9 2.9 0 1 0 5.8 0M391.4 228.5a2.9 2.9 0 1 0-5.8 0a2.9 2.9 0 1 0 5.8 0M413.4 232.5a2.9 2.9 0 1 0-5.8 0a2.9 2.9 0 1 0 5.8 0M407.4 235.5a2.9 2.9 0 1 0-5.8 0a2.9 2.9 0 1 0 5.8 0M452.4 250.5a2.9 2.9 0 1 0-5.8 0a2.9 2.9 0 1 0 5.8 0M421.4 219.5a2.9 2.9 0 1 0-5.8 0a2.9 2.9 0 1 0 5.8 0M395.4 223.5a2.9 2.9 0 1 0-5.8 0a2.9 2.9 0 1 0 5.8 0M398.4 230.5a2.9 2.9 0 1 0-5.8 0a2.9 2.9 0 1 0 5.8 0M417.4 216.5a2.9 2.9 0 1 0-5.8 0a2.9 2.9 0 1 0 5.8 0M438.4 227.5a2.9 2.9 0 1 0-5.8 0a2.9 2.9 0 1 0 5.8 0M387.4 205.5a2.9 2.9 0 1 0-5.8 0a2.9 2.9 0 1 0 5.8 0M420.4 228.5a2.9 2.9 0 1 0-5.8 0a2.9 2.9 0 1 0 5.8 0M385.4 229.5a2.9 2.9 0 1 0-5.8 0a2.9 2.9 0 1 0 5.8 0M415.4 221.5a2.9 2.9 0 1 0-5.8 0a2.9 2.9 0 1 0 5.8 0M435.4 198.5a2.9 2.9 0 1 0-5.8 0a2.9 2.9 0 1 0 5.8 0M415.4 221.5a2.9 2.9 0 1 0-5.8 0a2.9 2.9 0 1 0 5.8 0M463.4 222.5a2.9 2.9 0 1 0-5.8 0a2.9 2.9 0 1 0 5.8 0M464.4 228.5a2.9 2.9 0 1 0-5.8 0a2.9 2.9 0 1 0 5.8 0M458.4 231.5a2.9 2.9 0 1 0-5.8 0a2.9 2.9 0 1 0 5.8 0M464.4 232.5a2.9 2.9 0 1 0-5.8 0a2.9 2.9 0 1 0 5.8 0M471.4 230.5a2.9 2.9 0 1 0-5.8 0a2.9 2.9 0 1 0 5.8 0M424.4 217.5a2.9 2.9 0 1 0-5.8 0a2.9 2.9 0 1 0 5.8 0M464.4 224.5a2.9 2.9 0 1 0-5.8 0a2.9 2.9 0 1 0 5.8 0M427.4 241.5a2.9 2.9 0 1 0-5.8 0a2.9 2.9 0 1 0 5.8 0M383.4 209.5a2.9 2.9 0 1 0-5.8 0a2.9 2.9 0 1 0 5.8 0M406.4 225.5a2.9 2.9 0 1 0-5.8 0a2.9 2.9 0 1 0 5.8 0M416.4 225.5a2.9 2.9 0 1 0-5.8 0a2.9 2.9 0 1 0 5.8 0M438.4 195.5a2.9 2.9 0 1 0-5.8 0a2.9 2.9 0 1 0 5.8 0M445.4 228.5a2.9 2.9 0 1 0-5.8 0a2.9 2.9 0 1 0 5.8 0M408.4 236.5a2.9 2.9 0 1 0-5.8 0a2.9 2.9 0 1 0 5.8 0M462.4 240.5a2.9 2.9 0 1 0-5.8 0a2.9 2.9 0 1 0 5.8 0M383.4 224.5a2.9 2.9 0 1 0-5.8 0a2.9 2.9 0 1 0 5.8 0M466.4 227.5a2.9 2.9 0 1 0-5.8 0a2.9 2.9 0 1 0 5.8 0M463.4 219.5a2.9 2.9 0 1 0-5.8 0a2.9 2.9 0 1 0 5.8 0M448.4 243.5a2.9 2.9 0 1 0-5.8 0a2.9 2.9 0 1 0 5.8 0M421.4 238.5a2.9 2.9 0 1 0-5.8 0a2.9 2.9 0 1 0 5.8 0M394.4 217.5a2.9 2.9 0 1 0-5.8 0a2.9 2.9 0 1 0 5.8 0M441.4 219.5a2.9 2.9 0 1 0-5.8 0a2.9 2.9 0 1 0 5.8 0M451.4 233.5a2.9 2.9 0 1 0-5.8 0a2.9 2.9 0 1 0 5.8 0M424.4 214.5a2.9 2.9 0 1 0-5.8 0a2.9 2.9 0 1 0 5.8 0M393.4 224.5a2.9 2.9 0 1 0-5.8 0a2.9 2.9 0 1 0 5.8 0M454.4 232.5a2.9 2.9 0 1 0-5.8 0a2.9 2.9 0 1 0 5.8 0M474.4 242.5a2.9 2.9 0 1 0-5.8 0a2.9 2.9 0 1 0 5.8 0M446.4 243.5a2.9 2.9 0 1 0-5.8 0a2.9 2.9 0 1 0 5.8 0M431.4 200.5a2.9 2.9 0 1 0-5.8 0a2.9 2.9 0 1 0 5.8 0M387.4 233.5a2.9 2.9 0 1 0-5.8 0a2.9 2.9 0 1 0 5.8 0M447.4 227.5a2.9 2.9 0 1 0-5.8 0a2.9 2.9 0 1 0 5.8 0M432.4 213.5a2.9 2.9 0 1 0-5.8 0a2.9 2.9 0 1 0 5.8 0M457.4 248.5a2.9 2.9 0 1 0-5.8 0a2.9 2.9 0 1 0 5.8 0M396.4 216.5a2.9 2.9 0 1 0-5.8 0a2.9 2.9 0 1 0 5.8 0M430.4 208.5a2.9 2.9 0 1 0-5.8 0a2.9 2.9 0 1 0 5.8 0M409.4 243.5a2.9 2.9 0 1 0-5.8 0a2.9 2.9 0 1 0 5.8 0M463.4 252.5a2.9 2.9 0 1 0-5.8 0a2.9 2.9 0 1 0 5.8 0M383.4 212.5a2.9 2.9 0 1 0-5.8 0a2.9 2.9 0 1 0 5.8 0M420.4 237.5a2.9 2.9 0 1 0-5.8 0a2.9 2.9 0 1 0 5.8 0M414.4 227.5a2.9 2.9 0 1 0-5.8 0a2.9 2.9 0 1 0 5.8 0M423.4 243.5a2.9 2.9 0 1 0-5.8 0a2.9 2.9 0 1 0 5.8 0M433.4 215.5a2.9 2.9 0 1 0-5.8 0a2.9 2.9 0 1 0 5.8 0M439.4 210.5a2.9 2.9 0 1 0-5.8 0a2.9 2.9 0 1 0 5.8 0M437.4 221.5a2.9 2.9 0 1 0-5.8 0a2.9 2.9 0 1 0 5.8 0M391.4 222.5a2.9 2.9 0 1 0-5.8 0a2.9 2.9 0 1 0 5.8 0M440.4 239.5a2.9 2.9 0 1 0-5.8 0a2.9 2.9 0 1 0 5.8 0M433.4 196.5a2.9 2.9 0 1 0-5.8 0a2.9 2.9 0 1 0 5.8 0M457.4 235.5a2.9 2.9 0 1 0-5.8 0a2.9 2.9 0 1 0 5.8 0M417.4 224.5a2.9 2.9 0 1 0-5.8 0a2.9 2.9 0 1 0 5.8 0M395.4 225.5a2.9 2.9 0 1 0-5.8 0a2.9 2.9 0 1 0 5.8 0M450.4 237.5a2.9 2.9 0 1 0-5.8 0a2.9 2.9 0 1 0 5.8 0M477.4 249.5a2.9 2.9 0 1 0-5.8 0a2.9 2.9 0 1 0 5.8 0M429.4 188.5a2.9 2.9 0 1 0-5.8 0a2.9 2.9 0 1 0 5.8 0M382.4 226.5a2.9 2.9 0 1 0-5.8 0a2.9 2.9 0 1 0 5.8 0M421.4 233.5a2.9 2.9 0 1 0-5.8 0a2.9 2.9 0 1 0 5.8 0M418.4 220.5a2.9 2.9 0 1 0-5.8 0a2.9 2.9 0 1 0 5.8 0M395.4 210.5a2.9 2.9 0 1 0-5.8 0a2.9 2.9 0 1 0 5.8 0M468.4 243.5a2.9 2.9 0 1 0-5.8 0a2.9 2.9 0 1 0 5.8 0M462.4 250.5a2.9 2.9 0 1 0-5.8 0a2.9 2.9 0 1 0 5.8 0M394.4 229.5a2.9 2.9 0 1 0-5.8 0a2.9 2.9 0 1 0 5.8 0M435.4 206.5a2.9 2.9 0 1 0-5.8 0a2.9 2.9 0 1 0 5.8 0M418.4 222.5a2.9 2.9 0 1 0-5.8 0a2.9 2.9 0 1 0 5.8 0M451.4 243.5a2.9 2.9 0 1 0-5.8 0a2.9 2.9 0 1 0 5.8 0M423.4 212.5a2.9 2.9 0 1 0-5.8 0a2.9 2.9 0 1 0 5.8 0M471.4 243.5a2.9 2.9 0 1 0-5.8 0a2.9 2.9 0 1 0 5.8 0M423.4 243.5a2.9 2.9 0 1 0-5.8 0a2.9 2.9 0 1 0 5.8 0M383.4 219.5a2.9 2.9 0 1 0-5.8 0a2.9 2.9 0 1 0 5.8 0M436.4 194.5a2.9 2.9 0 1 0-5.8 0a2.9 2.9 0 1 0 5.8 0M406.4 227.5a2.9 2.9 0 1 0-5.8 0a2.9 2.9 0 1 0 5.8 0M394.4 222.5a2.9 2.9 0 1 0-5.8 0a2.9 2.9 0 1 0 5.8 0M453.4 250.5a2.9 2.9 0 1 0-5.8 0a2.9 2.9 0 1 0 5.8 0M416.4 224.5a2.9 2.9 0 1 0-5.8 0a2.9 2.9 0 1 0 5.8 0M403.4 214.5a2.9 2.9 0 1 0-5.8 0a2.9 2.9 0 1 0 5.8 0M439.4 201.5a2.9 2.9 0 1 0-5.8 0a2.9 2.9 0 1 0 5.8 0M441.4 220.5a2.9 2.9 0 1 0-5.8 0a2.9 2.9 0 1 0 5.8 0M443.4 247.5a2.9 2.9 0 1 0-5.8 0a2.9 2.9 0 1 0 5.8 0M441.4 238.5a2.9 2.9 0 1 0-5.8 0a2.9 2.9 0 1 0 5.8 0M463.4 221.5a2.9 2.9 0 1 0-5.8 0a2.9 2.9 0 1 0 5.8 0M429.4 234.5a2.9 2.9 0 1 0-5.8 0a2.9 2.9 0 1 0 5.8 0M460.4 248.5a2.9 2.9 0 1 0-5.8 0a2.9 2.9 0 1 0 5.8 0M423.4 220.5a2.9 2.9 0 1 0-5.8 0a2.9 2.9 0 1 0 5.8 0M383.4 234.5a2.9 2.9 0 1 0-5.8 0a2.9 2.9 0 1 0 5.8 0M437.4 188.5a2.9 2.9 0 1 0-5.8 0a2.9 2.9 0 1 0 5.8 0M440.4 231.5a2.9 2.9 0 1 0-5.8 0a2.9 2.9 0 1 0 5.8 0M434.4 205.5a2.9 2.9 0 1 0-5.8 0a2.9 2.9 0 1 0 5.8 0M400.4 233.5a2.9 2.9 0 1 0-5.8 0a2.9 2.9 0 1 0 5.8 0M392.4 224.5a2.9 2.9 0 1 0-5.8 0a2.9 2.9 0 1 0 5.8 0M403.4 211.5a2.9 2.9 0 1 0-5.8 0a2.9 2.9 0 1 0 5.8 0M453.4 250.5a2.9 2.9 0 1 0-5.8 0a2.9 2.9 0 1 0 5.8 0M458.4 250.5a2.9 2.9 0 1 0-5.8 0a2.9 2.9 0 1 0 5.8 0M402.4 208.5a2.9 2.9 0 1 0-5.8 0a2.9 2.9 0 1 0 5.8 0M461.4 222.5a2.9 2.9 0 1 0-5.8 0a2.9 2.9 0 1 0 5.8 0M471.4 242.5a2.9 2.9 0 1 0-5.8 0a2.9 2.9 0 1 0 5.8 0M438.4 202.5a2.9 2.9 0 1 0-5.8 0a2.9 2.9 0 1 0 5.8 0M381.4 221.5a2.9 2.9 0 1 0-5.8 0a2.9 2.9 0 1 0 5.8 0M383.4 221.5a2.9 2.9 0 1 0-5.8 0a2.9 2.9 0 1 0 5.8 0M383.4 214.5a2.9 2.9 0 1 0-5.8 0a2.9 2.9 0 1 0 5.8 0M442.4 220.5a2.9 2.9 0 1 0-5.8 0a2.9 2.9 0 1 0 5.8 0M478.4 242.5a2.9 2.9 0 1 0-5.8 0a2.9 2.9 0 1 0 5.8 0M417.4 220.5a2.9 2.9 0 1 0-5.8 0a2.9 2.9 0 1 0 5.8 0M422.4 240.5a2.9 2.9 0 1 0-5.8 0a2.9 2.9 0 1 0 5.8 0M426.4 220.5a2.9 2.9 0 1 0-5.8 0a2.9 2.9 0 1 0 5.8 0M432.4 225.5a2.9 2.9 0 1 0-5.8 0a2.9 2.9 0 1 0 5.8 0M414.4 229.5a2.9 2.9 0 1 0-5.8 0a2.9 2.9 0 1 0 5.8 0M454.4 231.5a2.9 2.9 0 1 0-5.8 0a2.9 2.9 0 1 0 5.8 0M436.4 191.5a2.9 2.9 0 1 0-5.8 0a2.9 2.9 0 1 0 5.8 0M435.4 209.5a2.9 2.9 0 1 0-5.8 0a2.9 2.9 0 1 0 5.8 0M433.4 218.5a2.9 2.9 0 1 0-5.8 0a2.9 2.9 0 1 0 5.8 0M422.4 223.5a2.9 2.9 0 1 0-5.8 0a2.9 2.9 0 1 0 5.8 0M426.4 227.5a2.9 2.9 0 1 0-5.8 0a2.9 2.9 0 1 0 5.8 0M424.4 240.5a2.9 2.9 0 1 0-5.8 0a2.9 2.9 0 1 0 5.8 0M435.4 198.5a2.9 2.9 0 1 0-5.8 0a2.9 2.9 0 1 0 5.8 0M386.4 210.5a2.9 2.9 0 1 0-5.8 0a2.9 2.9 0 1 0 5.8 0M424.4 231.5a2.9 2.9 0 1 0-5.8 0a2.9 2.9 0 1 0 5.8 0M459.4 254.5a2.9 2.9 0 1 0-5.8 0a2.9 2.9 0 1 0 5.8 0M407.4 226.5a2.9 2.9 0 1 0-5.8 0a2.9 2.9 0 1 0 5.8 0M402.4 226.5a2.9 2.9 0 1 0-5.8 0a2.9 2.9 0 1 0 5.8 0M386.4 217.5a2.9 2.9 0 1 0-5.8 0a2.9 2.9 0 1 0 5.8 0M441.4 235.5a2.9 2.9 0 1 0-5.8 0a2.9 2.9 0 1 0 5.8 0M414.4 227.5a2.9 2.9 0 1 0-5.8 0a2.9 2.9 0 1 0 5.8 0M433.4 224.5a2.9 2.9 0 1 0-5.8 0a2.9 2.9 0 1 0 5.8 0M430.4 230.5a2.9 2.9 0 1 0-5.8 0a2.9 2.9 0 1 0 5.8 0M478.4 242.5a2.9 2.9 0 1 0-5.8 0a2.9 2.9 0 1 0 5.8 0M436.4 201.5a2.9 2.9 0 1 0-5.8 0a2.9 2.9 0 1 0 5.8 0M398.4 210.5a2.9 2.9 0 1 0-5.8 0a2.9 2.9 0 1 0 5.8 0M423.4 211.5a2.9 2.9 0 1 0-5.8 0a2.9 2.9 0 1 0 5.8 0M438.4 185.5a2.9 2.9 0 1 0-5.8 0a2.9 2.9 0 1 0 5.8 0M446.4 233.5a2.9 2.9 0 1 0-5.8 0a2.9 2.9 0 1 0 5.8 0M384.4 214.5a2.9 2.9 0 1 0-5.8 0a2.9 2.9 0 1 0 5.8 0M439.4 225.5a2.9 2.9 0 1 0-5.8 0a2.9 2.9 0 1 0 5.8 0M445.4 238.5a2.9 2.9 0 1 0-5.8 0a2.9 2.9 0 1 0 5.8 0M408.4 233.5a2.9 2.9 0 1 0-5.8 0a2.9 2.9 0 1 0 5.8 0M470.4 233.5a2.9 2.9 0 1 0-5.8 0a2.9 2.9 0 1 0 5.8 0M420.4 215.5a2.9 2.9 0 1 0-5.8 0a2.9 2.9 0 1 0 5.8 0M434.4 198.5a2.9 2.9 0 1 0-5.8 0a2.9 2.9 0 1 0 5.8 0M384.4 222.5a2.9 2.9 0 1 0-5.8 0a2.9 2.9 0 1 0 5.8 0M466.4 246.5a2.9 2.9 0 1 0-5.8 0a2.9 2.9 0 1 0 5.8 0M395.4 227.5a2.9 2.9 0 1 0-5.8 0a2.9 2.9 0 1 0 5.8 0M461.4 252.5a2.9 2.9 0 1 0-5.8 0a2.9 2.9 0 1 0 5.8 0M419.4 217.5a2.9 2.9 0 1 0-5.8 0a2.9 2.9 0 1 0 5.8 0M480.4 249.5a2.9 2.9 0 1 0-5.8 0a2.9 2.9 0 1 0 5.8 0M429.4 230.5a2.9 2.9 0 1 0-5.8 0a2.9 2.9 0 1 0 5.8 0M480.4 242.5a2.9 2.9 0 1 0-5.8 0a2.9 2.9 0 1 0 5.8 0M433.4 187.5a2.9 2.9 0 1 0-5.8 0a2.9 2.9 0 1 0 5.8 0M416.4 229.5a2.9 2.9 0 1 0-5.8 0a2.9 2.9 0 1 0 5.8 0M468.4 239.5a2.9 2.9 0 1 0-5.8 0a2.9 2.9 0 1 0 5.8 0M400.4 216.5a2.9 2.9 0 1 0-5.8 0a2.9 2.9 0 1 0 5.8 0M464.4 241.5a2.9 2.9 0 1 0-5.8 0a2.9 2.9 0 1 0 5.8 0M403.4 215.5a2.9 2.9 0 1 0-5.8 0a2.9 2.9 0 1 0 5.8 0M438.4 219.5a2.9 2.9 0 1 0-5.8 0a2.9 2.9 0 1 0 5.8 0M455.4 238.5a2.9 2.9 0 1 0-5.8 0a2.9 2.9 0 1 0 5.8 0M424.4 238.5a2.9 2.9 0 1 0-5.8 0a2.9 2.9 0 1 0 5.8 0M463.4 232.5a2.9 2.9 0 1 0-5.8 0a2.9 2.9 0 1 0 5.8 0M461.4 254.5a2.9 2.9 0 1 0-5.8 0a2.9 2.9 0 1 0 5.8 0M426.4 239.5a2.9 2.9 0 1 0-5.8 0a2.9 2.9 0 1 0 5.8 0M461.4 228.5a2.9 2.9 0 1 0-5.8 0a2.9 2.9 0 1 0 5.8 0M410.4 236.5a2.9 2.9 0 1 0-5.8 0a2.9 2.9 0 1 0 5.8 0M441.4 238.5a2.9 2.9 0 1 0-5.8 0a2.9 2.9 0 1 0 5.8 0M440.4 222.5a2.9 2.9 0 1 0-5.8 0a2.9 2.9 0 1 0 5.8 0M460.4 242.5a2.9 2.9 0 1 0-5.8 0a2.9 2.9 0 1 0 5.8 0M431.4 208.5a2.9 2.9 0 1 0-5.8 0a2.9 2.9 0 1 0 5.8 0M451.4 229.5a2.9 2.9 0 1 0-5.8 0a2.9 2.9 0 1 0 5.8 0M423.4 208.5a2.9 2.9 0 1 0-5.8 0a2.9 2.9 0 1 0 5.8 0M386.4 216.5a2.9 2.9 0 1 0-5.8 0a2.9 2.9 0 1 0 5.8 0M455.4 237.5a2.9 2.9 0 1 0-5.8 0a2.9 2.9 0 1 0 5.8 0M447.4 224.5a2.9 2.9 0 1 0-5.8 0a2.9 2.9 0 1 0 5.8 0M405.4 231.5a2.9 2.9 0 1 0-5.8 0a2.9 2.9 0 1 0 5.8 0M432.4 205.5a2.9 2.9 0 1 0-5.8 0a2.9 2.9 0 1 0 5.8 0M415.4 229.5a2.9 2.9 0 1 0-5.8 0a2.9 2.9 0 1 0 5.8 0M461.4 224.5a2.9 2.9 0 1 0-5.8 0a2.9 2.9 0 1 0 5.8 0M391.4 208.5a2.9 2.9 0 1 0-5.8 0a2.9 2.9 0 1 0 5.8 0M428.4 228.5a2.9 2.9 0 1 0-5.8 0a2.9 2.9 0 1 0 5.8 0M391.4 215.5a2.9 2.9 0 1 0-5.8 0a2.9 2.9 0 1 0 5.8 0M398.4 225.5a2.9 2.9 0 1 0-5.8 0a2.9 2.9 0 1 0 5.8 0M415.4 230.5a2.9 2.9 0 1 0-5.8 0a2.9 2.9 0 1 0 5.8 0M402.4 226.5a2.9 2.9 0 1 0-5.8 0a2.9 2.9 0 1 0 5.8 0M478.4 250.5a2.9 2.9 0 1 0-5.8 0a2.9 2.9 0 1 0 5.8 0M417.4 220.5a2.9 2.9 0 1 0-5.8 0a2.9 2.9 0 1 0 5.8 0M417.4 234.5a2.9 2.9 0 1 0-5.8 0a2.9 2.9 0 1 0 5.8 0M429.4 212.5a2.9 2.9 0 1 0-5.8 0a2.9 2.9 0 1 0 5.8 0M437.4 186.5a2.9 2.9 0 1 0-5.8 0a2.9 2.9 0 1 0 5.8 0M397.4 219.5a2.9 2.9 0 1 0-5.8 0a2.9 2.9 0 1 0 5.8 0M460.4 246.5a2.9 2.9 0 1 0-5.8 0a2.9 2.9 0 1 0 5.8 0M480.4 249.5a2.9 2.9 0 1 0-5.8 0a2.9 2.9 0 1 0 5.8 0M391.4 232.5a2.9 2.9 0 1 0-5.8 0a2.9 2.9 0 1 0 5.8 0M467.4 218.5a2.9 2.9 0 1 0-5.8 0a2.9 2.9 0 1 0 5.8 0M476.4 251.5a2.9 2.9 0 1 0-5.8 0a2.9 2.9 0 1 0 5.8 0M464.4 228.5a2.9 2.9 0 1 0-5.8 0a2.9 2.9 0 1 0 5.8 0M384.4 207.5a2.9 2.9 0 1 0-5.8 0a2.9 2.9 0 1 0 5.8 0M464.4 255.5a2.9 2.9 0 1 0-5.8 0a2.9 2.9 0 1 0 5.8 0M389.4 217.5a2.9 2.9 0 1 0-5.8 0a2.9 2.9 0 1 0 5.8 0M444.4 240.5a2.9 2.9 0 1 0-5.8 0a2.9 2.9 0 1 0 5.8 0M469.4 241.5a2.9 2.9 0 1 0-5.8 0a2.9 2.9 0 1 0 5.8 0M419.4 230.5a2.9 2.9 0 1 0-5.8 0a2.9 2.9 0 1 0 5.8 0M418.4 227.5a2.9 2.9 0 1 0-5.8 0a2.9 2.9 0 1 0 5.8 0M438.4 229.5a2.9 2.9 0 1 0-5.8 0a2.9 2.9 0 1 0 5.8 0M414.4 223.5a2.9 2.9 0 1 0-5.8 0a2.9 2.9 0 1 0 5.8 0M391.4 227.5a2.9 2.9 0 1 0-5.8 0a2.9 2.9 0 1 0 5.8 0M401.4 221.5a2.9 2.9 0 1 0-5.8 0a2.9 2.9 0 1 0 5.8 0M399.4 212.5a2.9 2.9 0 1 0-5.8 0a2.9 2.9 0 1 0 5.8 0M407.4 228.5a2.9 2.9 0 1 0-5.8 0a2.9 2.9 0 1 0 5.8 0M458.4 244.5a2.9 2.9 0 1 0-5.8 0a2.9 2.9 0 1 0 5.8 0M435.4 205.5a2.9 2.9 0 1 0-5.8 0a2.9 2.9 0 1 0 5.8 0M420.4 230.5a2.9 2.9 0 1 0-5.8 0a2.9 2.9 0 1 0 5.8 0M424.4 224.5a2.9 2.9 0 1 0-5.8 0a2.9 2.9 0 1 0 5.8 0M459.4 235.5a2.9 2.9 0 1 0-5.8 0a2.9 2.9 0 1 0 5.8 0M421.4 217.5a2.9 2.9 0 1 0-5.8 0a2.9 2.9 0 1 0 5.8 0M391.4 222.5a2.9 2.9 0 1 0-5.8 0a2.9 2.9 0 1 0 5.8 0M387.4 207.5a2.9 2.9 0 1 0-5.8 0a2.9 2.9 0 1 0 5.8 0M402.4 224.5a2.9 2.9 0 1 0-5.8 0a2.9 2.9 0 1 0 5.8 0M423.4 207.5a2.9 2.9 0 1 0-5.8 0a2.9 2.9 0 1 0 5.8 0M472.4 246.5a2.9 2.9 0 1 0-5.8 0a2.9 2.9 0 1 0 5.8 0M472.4 242.5a2.9 2.9 0 1 0-5.8 0a2.9 2.9 0 1 0 5.8 0M410.4 241.5a2.9 2.9 0 1 0-5.8 0a2.9 2.9 0 1 0 5.8 0M438.4 197.5a2.9 2.9 0 1 0-5.8 0a2.9 2.9 0 1 0 5.8 0M423.4 231.5a2.9 2.9 0 1 0-5.8 0a2.9 2.9 0 1 0 5.8 0M470.4 232.5a2.9 2.9 0 1 0-5.8 0a2.9 2.9 0 1 0 5.8 0M432.4 218.5a2.9 2.9 0 1 0-5.8 0a2.9 2.9 0 1 0 5.8 0M399.4 216.5a2.9 2.9 0 1 0-5.8 0a2.9 2.9 0 1 0 5.8 0M427.4 242.5a2.9 2.9 0 1 0-5.8 0a2.9 2.9 0 1 0 5.8 0M465.4 229.5a2.9 2.9 0 1 0-5.8 0a2.9 2.9 0 1 0 5.8 0M429.4 178.5a2.9 2.9 0 1 0-5.8 0a2.9 2.9 0 1 0 5.8 0M460.4 254.5a2.9 2.9 0 1 0-5.8 0a2.9 2.9 0 1 0 5.8 0M391.4 219.5a2.9 2.9 0 1 0-5.8 0a2.9 2.9 0 1 0 5.8 0M431.4 184.5a2.9 2.9 0 1 0-5.8 0a2.9 2.9 0 1 0 5.8 0M434.4 191.5a2.9 2.9 0 1 0-5.8 0a2.9 2.9 0 1 0 5.8 0M448.4 241.5a2.9 2.9 0 1 0-5.8 0a2.9 2.9 0 1 0 5.8 0M425.4 223.5a2.9 2.9 0 1 0-5.8 0a2.9 2.9 0 1 0 5.8 0M414.4 242.5a2.9 2.9 0 1 0-5.8 0a2.9 2.9 0 1 0 5.8 0M429.4 192.5a2.9 2.9 0 1 0-5.8 0a2.9 2.9 0 1 0 5.8 0M429.4 229.5a2.9 2.9 0 1 0-5.8 0a2.9 2.9 0 1 0 5.8 0M386.4 213.5a2.9 2.9 0 1 0-5.8 0a2.9 2.9 0 1 0 5.8 0M442.4 238.5a2.9 2.9 0 1 0-5.8 0a2.9 2.9 0 1 0 5.8 0M407.4 234.5a2.9 2.9 0 1 0-5.8 0a2.9 2.9 0 1 0 5.8 0M398.4 229.5a2.9 2.9 0 1 0-5.8 0a2.9 2.9 0 1 0 5.8 0M392.4 216.5a2.9 2.9 0 1 0-5.8 0a2.9 2.9 0 1 0 5.8 0M446.4 227.5a2.9 2.9 0 1 0-5.8 0a2.9 2.9 0 1 0 5.8 0M470.4 233.5a2.9 2.9 0 1 0-5.8 0a2.9 2.9 0 1 0 5.8 0M445.4 248.5a2.9 2.9 0 1 0-5.8 0a2.9 2.9 0 1 0 5.8 0M452.4 244.5a2.9 2.9 0 1 0-5.8 0a2.9 2.9 0 1 0 5.8 0M425.4 244.5a2.9 2.9 0 1 0-5.8 0a2.9 2.9 0 1 0 5.8 0M400.4 210.5a2.9 2.9 0 1 0-5.8 0a2.9 2.9 0 1 0 5.8 0M383.4 210.5a2.9 2.9 0 1 0-5.8 0a2.9 2.9 0 1 0 5.8 0M468.4 249.5a2.9 2.9 0 1 0-5.8 0a2.9 2.9 0 1 0 5.8 0M466.4 235.5a2.9 2.9 0 1 0-5.8 0a2.9 2.9 0 1 0 5.8 0M437.4 218.5a2.9 2.9 0 1 0-5.8 0a2.9 2.9 0 1 0 5.8 0M470.4 237.5a2.9 2.9 0 1 0-5.8 0a2.9 2.9 0 1 0 5.8 0M446.4 250.5a2.9 2.9 0 1 0-5.8 0a2.9 2.9 0 1 0 5.8 0M410.4 230.5a2.9 2.9 0 1 0-5.8 0a2.9 2.9 0 1 0 5.8 0M469.4 247.5a2.9 2.9 0 1 0-5.8 0a2.9 2.9 0 1 0 5.8 0M450.4 244.5a2.9 2.9 0 1 0-5.8 0a2.9 2.9 0 1 0 5.8 0M444.4 221.5a2.9 2.9 0 1 0-5.8 0a2.9 2.9 0 1 0 5.8 0M400.4 218.5a2.9 2.9 0 1 0-5.8 0a2.9 2.9 0 1 0 5.8 0M478.4 252.5a2.9 2.9 0 1 0-5.8 0a2.9 2.9 0 1 0 5.8 0M400.4 204.5a2.9 2.9 0 1 0-5.8 0a2.9 2.9 0 1 0 5.8 0M439.4 199.5a2.9 2.9 0 1 0-5.8 0a2.9 2.9 0 1 0 5.8 0M472.4 236.5a2.9 2.9 0 1 0-5.8 0a2.9 2.9 0 1 0 5.8 0M387.4 236.5a2.9 2.9 0 1 0-5.8 0a2.9 2.9 0 1 0 5.8 0M470.4 230.5a2.9 2.9 0 1 0-5.8 0a2.9 2.9 0 1 0 5.8 0M408.4 241.5a2.9 2.9 0 1 0-5.8 0a2.9 2.9 0 1 0 5.8 0M463.4 250.5a2.9 2.9 0 1 0-5.8 0a2.9 2.9 0 1 0 5.8 0M434.4 192.5a2.9 2.9 0 1 0-5.8 0a2.9 2.9 0 1 0 5.8 0M461.4 238.5a2.9 2.9 0 1 0-5.8 0a2.9 2.9 0 1 0 5.8 0M440.4 228.5a2.9 2.9 0 1 0-5.8 0a2.9 2.9 0 1 0 5.8 0M459.4 250.5a2.9 2.9 0 1 0-5.8 0a2.9 2.9 0 1 0 5.8 0M417.4 240.5a2.9 2.9 0 1 0-5.8 0a2.9 2.9 0 1 0 5.8 0M414.4 227.5a2.9 2.9 0 1 0-5.8 0a2.9 2.9 0 1 0 5.8 0M406.4 234.5a2.9 2.9 0 1 0-5.8 0a2.9 2.9 0 1 0 5.8 0M453.4 243.5a2.9 2.9 0 1 0-5.8 0a2.9 2.9 0 1 0 5.8 0M448.4 234.5a2.9 2.9 0 1 0-5.8 0a2.9 2.9 0 1 0 5.8 0M430.4 177.5a2.9 2.9 0 1 0-5.8 0a2.9 2.9 0 1 0 5.8 0M416.4 225.5a2.9 2.9 0 1 0-5.8 0a2.9 2.9 0 1 0 5.8 0M407.4 240.5a2.9 2.9 0 1 0-5.8 0a2.9 2.9 0 1 0 5.8 0M402.4 212.5a2.9 2.9 0 1 0-5.8 0a2.9 2.9 0 1 0 5.8 0M446.4 242.5a2.9 2.9 0 1 0-5.8 0a2.9 2.9 0 1 0 5.8 0M448.4 246.5a2.9 2.9 0 1 0-5.8 0a2.9 2.9 0 1 0 5.8 0M447.4 239.5a2.9 2.9 0 1 0-5.8 0a2.9 2.9 0 1 0 5.8 0M464.4 224.5a2.9 2.9 0 1 0-5.8 0a2.9 2.9 0 1 0 5.8 0M434.4 190.5a2.9 2.9 0 1 0-5.8 0a2.9 2.9 0 1 0 5.8 0M392.4 208.5a2.9 2.9 0 1 0-5.8 0a2.9 2.9 0 1 0 5.8 0M470.4 243.5a2.9 2.9 0 1 0-5.8 0a2.9 2.9 0 1 0 5.8 0M400.4 224.5a2.9 2.9 0 1 0-5.8 0a2.9 2.9 0 1 0 5.8 0M461.4 246.5a2.9 2.9 0 1 0-5.8 0a2.9 2.9 0 1 0 5.8 0M392.4 234.5a2.9 2.9 0 1 0-5.8 0a2.9 2.9 0 1 0 5.8 0M403.4 219.5a2.9 2.9 0 1 0-5.8 0a2.9 2.9 0 1 0 5.8 0M431.4 198.5a2.9 2.9 0 1 0-5.8 0a2.9 2.9 0 1 0 5.8 0M392.4 210.5a2.9 2.9 0 1 0-5.8 0a2.9 2.9 0 1 0 5.8 0M438.4 205.5a2.9 2.9 0 1 0-5.8 0a2.9 2.9 0 1 0 5.8 0M429.4 213.5a2.9 2.9 0 1 0-5.8 0a2.9 2.9 0 1 0 5.8 0M465.4 226.5a2.9 2.9 0 1 0-5.8 0a2.9 2.9 0 1 0 5.8 0M436.4 218.5a2.9 2.9 0 1 0-5.8 0a2.9 2.9 0 1 0 5.8 0M433.4 195.5a2.9 2.9 0 1 0-5.8 0a2.9 2.9 0 1 0 5.8 0M421.4 236.5a2.9 2.9 0 1 0-5.8 0a2.9 2.9 0 1 0 5.8 0M429.4 211.5a2.9 2.9 0 1 0-5.8 0a2.9 2.9 0 1 0 5.8 0M401.4 215.5a2.9 2.9 0 1 0-5.8 0a2.9 2.9 0 1 0 5.8 0M458.4 233.5a2.9 2.9 0 1 0-5.8 0a2.9 2.9 0 1 0 5.8 0M420.4 233.5a2.9 2.9 0 1 0-5.8 0a2.9 2.9 0 1 0 5.8 0M450.4 246.5a2.9 2.9 0 1 0-5.8 0a2.9 2.9 0 1 0 5.8 0M430.4 182.5a2.9 2.9 0 1 0-5.8 0a2.9 2.9 0 1 0 5.8 0M434.4 200.5a2.9 2.9 0 1 0-5.8 0a2.9 2.9 0 1 0 5.8 0M432.4 209.5a2.9 2.9 0 1 0-5.8 0a2.9 2.9 0 1 0 5.8 0M449.4 228.5a2.9 2.9 0 1 0-5.8 0a2.9 2.9 0 1 0 5.8 0M432.4 193.5a2.9 2.9 0 1 0-5.8 0a2.9 2.9 0 1 0 5.8 0M421.4 241.5a2.9 2.9 0 1 0-5.8 0a2.9 2.9 0 1 0 5.8 0M393.4 225.5a2.9 2.9 0 1 0-5.8 0a2.9 2.9 0 1 0 5.8 0M444.4 234.5a2.9 2.9 0 1 0-5.8 0a2.9 2.9 0 1 0 5.8 0M464.4 248.5a2.9 2.9 0 1 0-5.8 0a2.9 2.9 0 1 0 5.8 0M424.4 210.5a2.9 2.9 0 1 0-5.8 0a2.9 2.9 0 1 0 5.8 0M419.4 214.5a2.9 2.9 0 1 0-5.8 0a2.9 2.9 0 1 0 5.8 0M431.4 181.5a2.9 2.9 0 1 0-5.8 0a2.9 2.9 0 1 0 5.8 0M467.4 216.5a2.9 2.9 0 1 0-5.8 0a2.9 2.9 0 1 0 5.8 0M436.4 223.5a2.9 2.9 0 1 0-5.8 0a2.9 2.9 0 1 0 5.8 0M452.4 249.5a2.9 2.9 0 1 0-5.8 0a2.9 2.9 0 1 0 5.8 0M415.4 241.5a2.9 2.9 0 1 0-5.8 0a2.9 2.9 0 1 0 5.8 0M419.4 213.5a2.9 2.9 0 1 0-5.8 0a2.9 2.9 0 1 0 5.8 0M397.4 228.5a2.9 2.9 0 1 0-5.8 0a2.9 2.9 0 1 0 5.8 0M452.4 251.5a2.9 2.9 0 1 0-5.8 0a2.9 2.9 0 1 0 5.8 0M403.4 210.5a2.9 2.9 0 1 0-5.8 0a2.9 2.9 0 1 0 5.8 0M404.4 230.5a2.9 2.9 0 1 0-5.8 0a2.9 2.9 0 1 0 5.8 0M381.4 231.5a2.9 2.9 0 1 0-5.8 0a2.9 2.9 0 1 0 5.8 0M385.4 215.5a2.9 2.9 0 1 0-5.8 0a2.9 2.9 0 1 0 5.8 0M469.4 226.5a2.9 2.9 0 1 0-5.8 0a2.9 2.9 0 1 0 5.8 0M404.4 225.5a2.9 2.9 0 1 0-5.8 0a2.9 2.9 0 1 0 5.8 0M467.4 251.5a2.9 2.9 0 1 0-5.8 0a2.9 2.9 0 1 0 5.8 0M469.4 253.5a2.9 2.9 0 1 0-5.8 0a2.9 2.9 0 1 0 5.8 0M461.4 248.5a2.9 2.9 0 1 0-5.8 0a2.9 2.9 0 1 0 5.8 0M442.4 246.5a2.9 2.9 0 1 0-5.8 0a2.9 2.9 0 1 0 5.8 0M400.4 217.5a2.9 2.9 0 1 0-5.8 0a2.9 2.9 0 1 0 5.8 0M460.4 241.5a2.9 2.9 0 1 0-5.8 0a2.9 2.9 0 1 0 5.8 0M425.4 232.5a2.9 2.9 0 1 0-5.8 0a2.9 2.9 0 1 0 5.8 0M469.4 255.5a2.9 2.9 0 1 0-5.8 0a2.9 2.9 0 1 0 5.8 0M417.4 231.5a2.9 2.9 0 1 0-5.8 0a2.9 2.9 0 1 0 5.8 0M405.4 214.5a2.9 2.9 0 1 0-5.8 0a2.9 2.9 0 1 0 5.8 0M439.4 226.5a2.9 2.9 0 1 0-5.8 0a2.9 2.9 0 1 0 5.8 0M448.4 246.5a2.9 2.9 0 1 0-5.8 0a2.9 2.9 0 1 0 5.8 0M399.4 208.5a2.9 2.9 0 1 0-5.8 0a2.9 2.9 0 1 0 5.8 0M452.4 250.5a2.9 2.9 0 1 0-5.8 0a2.9 2.9 0 1 0 5.8 0M431.4 191.5a2.9 2.9 0 1 0-5.8 0a2.9 2.9 0 1 0 5.8 0M444.4 225.5a2.9 2.9 0 1 0-5.8 0a2.9 2.9 0 1 0 5.8 0M399.4 211.5a2.9 2.9 0 1 0-5.8 0a2.9 2.9 0 1 0 5.8 0M446.4 231.5a2.9 2.9 0 1 0-5.8 0a2.9 2.9 0 1 0 5.8 0M409.4 231.5a2.9 2.9 0 1 0-5.8 0a2.9 2.9 0 1 0 5.8 0M420.4 232.5a2.9 2.9 0 1 0-5.8 0a2.9 2.9 0 1 0 5.8 0M468.4 232.5a2.9 2.9 0 1 0-5.8 0a2.9 2.9 0 1 0 5.8 0M479.4 237.5a2.9 2.9 0 1 0-5.8 0a2.9 2.9 0 1 0 5.8 0M416.4 242.5a2.9 2.9 0 1 0-5.8 0a2.9 2.9 0 1 0 5.8 0M387.4 204.5a2.9 2.9 0 1 0-5.8 0a2.9 2.9 0 1 0 5.8 0M429.4 207.5a2.9 2.9 0 1 0-5.8 0a2.9 2.9 0 1 0 5.8 0M478.4 251.5a2.9 2.9 0 1 0-5.8 0a2.9 2.9 0 1 0 5.8 0M390.4 212.5a2.9 2.9 0 1 0-5.8 0a2.9 2.9 0 1 0 5.8 0M389.4 236.5a2.9 2.9 0 1 0-5.8 0a2.9 2.9 0 1 0 5.8 0M386.4 233.5a2.9 2.9 0 1 0-5.8 0a2.9 2.9 0 1 0 5.8 0M399.4 229.5a2.9 2.9 0 1 0-5.8 0a2.9 2.9 0 1 0 5.8 0M398.4 212.5a2.9 2.9 0 1 0-5.8 0a2.9 2.9 0 1 0 5.8 0M429.4 220.5a2.9 2.9 0 1 0-5.8 0a2.9 2.9 0 1 0 5.8 0M436.4 190.5a2.9 2.9 0 1 0-5.8 0a2.9 2.9 0 1 0 5.8 0M445.4 230.5a2.9 2.9 0 1 0-5.8 0a2.9 2.9 0 1 0 5.8 0M446.4 245.5a2.9 2.9 0 1 0-5.8 0a2.9 2.9 0 1 0 5.8 0M431.4 193.5a2.9 2.9 0 1 0-5.8 0a2.9 2.9 0 1 0 5.8 0M383.4 211.5a2.9 2.9 0 1 0-5.8 0a2.9 2.9 0 1 0 5.8 0M427.4 221.5a2.9 2.9 0 1 0-5.8 0a2.9 2.9 0 1 0 5.8 0M450.4 245.5a2.9 2.9 0 1 0-5.8 0a2.9 2.9 0 1 0 5.8 0M422.4 229.5a2.9 2.9 0 1 0-5.8 0a2.9 2.9 0 1 0 5.8 0M438.4 210.5a2.9 2.9 0 1 0-5.8 0a2.9 2.9 0 1 0 5.8 0M453.4 241.5a2.9 2.9 0 1 0-5.8 0a2.9 2.9 0 1 0 5.8 0M434.4 216.5a2.9 2.9 0 1 0-5.8 0a2.9 2.9 0 1 0 5.8 0M427.4 214.5a2.9 2.9 0 1 0-5.8 0a2.9 2.9 0 1 0 5.8 0M430.4 215.5a2.9 2.9 0 1 0-5.8 0a2.9 2.9 0 1 0 5.8 0M391.4 225.5a2.9 2.9 0 1 0-5.8 0a2.9 2.9 0 1 0 5.8 0M402.4 219.5a2.9 2.9 0 1 0-5.8 0a2.9 2.9 0 1 0 5.8 0M430.4 228.5a2.9 2.9 0 1 0-5.8 0a2.9 2.9 0 1 0 5.8 0M470.4 232.5a2.9 2.9 0 1 0-5.8 0a2.9 2.9 0 1 0 5.8 0M464.4 230.5a2.9 2.9 0 1 0-5.8 0a2.9 2.9 0 1 0 5.8 0M397.4 216.5a2.9 2.9 0 1 0-5.8 0a2.9 2.9 0 1 0 5.8 0M439.4 233.5a2.9 2.9 0 1 0-5.8 0a2.9 2.9 0 1 0 5.8 0M438.4 223.5a2.9 2.9 0 1 0-5.8 0a2.9 2.9 0 1 0 5.8 0M438.4 228.5a2.9 2.9 0 1 0-5.8 0a2.9 2.9 0 1 0 5.8 0M442.4 247.5a2.9 2.9 0 1 0-5.8 0a2.9 2.9 0 1 0 5.8 0M444.4 220.5a2.9 2.9 0 1 0-5.8 0a2.9 2.9 0 1 0 5.8 0M438.4 226.5a2.9 2.9 0 1 0-5.8 0a2.9 2.9 0 1 0 5.8 0M401.4 216.5a2.9 2.9 0 1 0-5.8 0a2.9 2.9 0 1 0 5.8 0M420.4 237.5a2.9 2.9 0 1 0-5.8 0a2.9 2.9 0 1 0 5.8 0M418.4 240.5a2.9 2.9 0 1 0-5.8 0a2.9 2.9 0 1 0 5.8 0M469.4 234.5a2.9 2.9 0 1 0-5.8 0a2.9 2.9 0 1 0 5.8 0M420.4 244.5a2.9 2.9 0 1 0-5.8 0a2.9 2.9 0 1 0 5.8 0M479.4 240.5a2.9 2.9 0 1 0-5.8 0a2.9 2.9 0 1 0 5.8 0M421.4 236.5a2.9 2.9 0 1 0-5.8 0a2.9 2.9 0 1 0 5.8 0M432.4 183.5a2.9 2.9 0 1 0-5.8 0a2.9 2.9 0 1 0 5.8 0M438.4 198.5a2.9 2.9 0 1 0-5.8 0a2.9 2.9 0 1 0 5.8 0M402.4 221.5a2.9 2.9 0 1 0-5.8 0a2.9 2.9 0 1 0 5.8 0M398.4 214.5a2.9 2.9 0 1 0-5.8 0a2.9 2.9 0 1 0 5.8 0M425.4 207.5a2.9 2.9 0 1 0-5.8 0a2.9 2.9 0 1 0 5.8 0M399.4 207.5a2.9 2.9 0 1 0-5.8 0a2.9 2.9 0 1 0 5.8 0M435.4 192.5a2.9 2.9 0 1 0-5.8 0a2.9 2.9 0 1 0 5.8 0M432.4 204.5a2.9 2.9 0 1 0-5.8 0a2.9 2.9 0 1 0 5.8 0M392.4 215.5a2.9 2.9 0 1 0-5.8 0a2.9 2.9 0 1 0 5.8 0M433.4 225.5a2.9 2.9 0 1 0-5.8 0a2.9 2.9 0 1 0 5.8 0M436.4 195.5a2.9 2.9 0 1 0-5.8 0a2.9 2.9 0 1 0 5.8 0M415.4 234.5a2.9 2.9 0 1 0-5.8 0a2.9 2.9 0 1 0 5.8 0M420.4 219.5a2.9 2.9 0 1 0-5.8 0a2.9 2.9 0 1 0 5.8 0M403.4 227.5a2.9 2.9 0 1 0-5.8 0a2.9 2.9 0 1 0 5.8 0M456.4 241.5a2.9 2.9 0 1 0-5.8 0a2.9 2.9 0 1 0 5.8 0M479.4 252.5a2.9 2.9 0 1 0-5.8 0a2.9 2.9 0 1 0 5.8 0M407.4 233.5a2.9 2.9 0 1 0-5.8 0a2.9 2.9 0 1 0 5.8 0M392.4 225.5a2.9 2.9 0 1 0-5.8 0a2.9 2.9 0 1 0 5.8 0M452.4 238.5a2.9 2.9 0 1 0-5.8 0a2.9 2.9 0 1 0 5.8 0M469.4 251.5a2.9 2.9 0 1 0-5.8 0a2.9 2.9 0 1 0 5.8 0M415.4 229.5a2.9 2.9 0 1 0-5.8 0a2.9 2.9 0 1 0 5.8 0M458.4 230.5a2.9 2.9 0 1 0-5.8 0a2.9 2.9 0 1 0 5.8 0M441.4 232.5a2.9 2.9 0 1 0-5.8 0a2.9 2.9 0 1 0 5.8 0M436.4 195.5a2.9 2.9 0 1 0-5.8 0a2.9 2.9 0 1 0 5.8 0M400.4 223.5a2.9 2.9 0 1 0-5.8 0a2.9 2.9 0 1 0 5.8 0M430.4 219.5a2.9 2.9 0 1 0-5.8 0a2.9 2.9 0 1 0 5.8 0M412.4 230.5a2.9 2.9 0 1 0-5.8 0a2.9 2.9 0 1 0 5.8 0M425.4 242.5a2.9 2.9 0 1 0-5.8 0a2.9 2.9 0 1 0 5.8 0M465.4 256.5a2.9 2.9 0 1 0-5.8 0a2.9 2.9 0 1 0 5.8 0M383.4 233.5a2.9 2.9 0 1 0-5.8 0a2.9 2.9 0 1 0 5.8 0M470.4 238.5a2.9 2.9 0 1 0-5.8 0a2.9 2.9 0 1 0 5.8 0M430.4 199.5a2.9 2.9 0 1 0-5.8 0a2.9 2.9 0 1 0 5.8 0M435.4 219.5a2.9 2.9 0 1 0-5.8 0a2.9 2.9 0 1 0 5.8 0M399.4 219.5a2.9 2.9 0 1 0-5.8 0a2.9 2.9 0 1 0 5.8 0M433.4 188.5a2.9 2.9 0 1 0-5.8 0a2.9 2.9 0 1 0 5.8 0M474.4 250.5a2.9 2.9 0 1 0-5.8 0a2.9 2.9 0 1 0 5.8 0M413.4 241.5a2.9 2.9 0 1 0-5.8 0a2.9 2.9 0 1 0 5.8 0M382.4 220.5a2.9 2.9 0 1 0-5.8 0a2.9 2.9 0 1 0 5.8 0M453.4 240.5a2.9 2.9 0 1 0-5.8 0a2.9 2.9 0 1 0 5.8 0M439.4 224.5a2.9 2.9 0 1 0-5.8 0a2.9 2.9 0 1 0 5.8 0M382.4 212.5a2.9 2.9 0 1 0-5.8 0a2.9 2.9 0 1 0 5.8 0M469.4 250.5a2.9 2.9 0 1 0-5.8 0a2.9 2.9 0 1 0 5.8 0M392.4 224.5a2.9 2.9 0 1 0-5.8 0a2.9 2.9 0 1 0 5.8 0M429.4 181.5a2.9 2.9 0 1 0-5.8 0a2.9 2.9 0 1 0 5.8 0M423.4 222.5a2.9 2.9 0 1 0-5.8 0a2.9 2.9 0 1 0 5.8 0M387.4 226.5a2.9 2.9 0 1 0-5.8 0a2.9 2.9 0 1 0 5.8 0M470.4 226.5a2.9 2.9 0 1 0-5.8 0a2.9 2.9 0 1 0 5.8 0M426.4 233.5a2.9 2.9 0 1 0-5.8 0a2.9 2.9 0 1 0 5.8 0M418.4 221.5a2.9 2.9 0 1 0-5.8 0a2.9 2.9 0 1 0 5.8 0M416.4 229.5a2.9 2.9 0 1 0-5.8 0a2.9 2.9 0 1 0 5.8 0M425.4 212.5a2.9 2.9 0 1 0-5.8 0a2.9 2.9 0 1 0 5.8 0M443.4 247.5a2.9 2.9 0 1 0-5.8 0a2.9 2.9 0 1 0 5.8 0M400.4 229.5a2.9 2.9 0 1 0-5.8 0a2.9 2.9 0 1 0 5.8 0M433.4 227.5a2.9 2.9 0 1 0-5.8 0a2.9 2.9 0 1 0 5.8 0M426.4 232.5a2.9 2.9 0 1 0-5.8 0a2.9 2.9 0 1 0 5.8 0M433.4 200.5a2.9 2.9 0 1 0-5.8 0a2.9 2.9 0 1 0 5.8 0M478.4 248.5a2.9 2.9 0 1 0-5.8 0a2.9 2.9 0 1 0 5.8 0M425.4 212.5a2.9 2.9 0 1 0-5.8 0a2.9 2.9 0 1 0 5.8 0M381.4 223.5a2.9 2.9 0 1 0-5.8 0a2.9 2.9 0 1 0 5.8 0M414.4 241.5a2.9 2.9 0 1 0-5.8 0a2.9 2.9 0 1 0 5.8 0M452.4 251.5a2.9 2.9 0 1 0-5.8 0a2.9 2.9 0 1 0 5.8 0M438.4 206.5a2.9 2.9 0 1 0-5.8 0a2.9 2.9 0 1 0 5.8 0M412.4 242.5a2.9 2.9 0 1 0-5.8 0a2.9 2.9 0 1 0 5.8 0M381.4 217.5a2.9 2.9 0 1 0-5.8 0a2.9 2.9 0 1 0 5.8 0M431.4 190.5a2.9 2.9 0 1 0-5.8 0a2.9 2.9 0 1 0 5.8 0M401.4 202.5a2.9 2.9 0 1 0-5.8 0a2.9 2.9 0 1 0 5.8 0M419.4 235.5a2.9 2.9 0 1 0-5.8 0a2.9 2.9 0 1 0 5.8 0M442.4 229.5a2.9 2.9 0 1 0-5.8 0a2.9 2.9 0 1 0 5.8 0M465.4 255.5a2.9 2.9 0 1 0-5.8 0a2.9 2.9 0 1 0 5.8 0M465.4 244.5a2.9 2.9 0 1 0-5.8 0a2.9 2.9 0 1 0 5.8 0M384.4 233.5a2.9 2.9 0 1 0-5.8 0a2.9 2.9 0 1 0 5.8 0M393.4 207.5a2.9 2.9 0 1 0-5.8 0a2.9 2.9 0 1 0 5.8 0M434.4 201.5a2.9 2.9 0 1 0-5.8 0a2.9 2.9 0 1 0 5.8 0M472.4 249.5a2.9 2.9 0 1 0-5.8 0a2.9 2.9 0 1 0 5.8 0M427.4 221.5a2.9 2.9 0 1 0-5.8 0a2.9 2.9 0 1 0 5.8 0M423.4 212.5a2.9 2.9 0 1 0-5.8 0a2.9 2.9 0 1 0 5.8 0M466.4 256.5a2.9 2.9 0 1 0-5.8 0a2.9 2.9 0 1 0 5.8 0M454.4 245.5a2.9 2.9 0 1 0-5.8 0a2.9 2.9 0 1 0 5.8 0M403.4 217.5a2.9 2.9 0 1 0-5.8 0a2.9 2.9 0 1 0 5.8 0M457.4 235.5a2.9 2.9 0 1 0-5.8 0a2.9 2.9 0 1 0 5.8 0M472.4 239.5a2.9 2.9 0 1 0-5.8 0a2.9 2.9 0 1 0 5.8 0M429.4 203.5a2.9 2.9 0 1 0-5.8 0a2.9 2.9 0 1 0 5.8 0M467.4 249.5a2.9 2.9 0 1 0-5.8 0a2.9 2.9 0 1 0 5.8 0M436.4 216.5a2.9 2.9 0 1 0-5.8 0a2.9 2.9 0 1 0 5.8 0M465.4 253.5a2.9 2.9 0 1 0-5.8 0a2.9 2.9 0 1 0 5.8 0M430.4 217.5a2.9 2.9 0 1 0-5.8 0a2.9 2.9 0 1 0 5.8 0M387.4 211.5a2.9 2.9 0 1 0-5.8 0a2.9 2.9 0 1 0 5.8 0M387.4 245.5a2.9 2.9 0 1 0-5.8 0a2.9 2.9 0 1 0 5.8 0M401.4 248.5a2.9 2.9 0 1 0-5.8 0a2.9 2.9 0 1 0 5.8 0M387.4 249.5a2.9 2.9 0 1 0-5.8 0a2.9 2.9 0 1 0 5.8 0M474.4 263.5a2.9 2.9 0 1 0-5.8 0a2.9 2.9 0 1 0 5.8 0M382.4 249.5a2.9 2.9 0 1 0-5.8 0a2.9 2.9 0 1 0 5.8 0M465.4 258.5a2.9 2.9 0 1 0-5.8 0a2.9 2.9 0 1 0 5.8 0M382.4 242.5a2.9 2.9 0 1 0-5.8 0a2.9 2.9 0 1 0 5.8 0M469.4 267.5a2.9 2.9 0 1 0-5.8 0a2.9 2.9 0 1 0 5.8 0M434.4 227.5a2.9 2.9 0 1 0-5.8 0a2.9 2.9 0 1 0 5.8 0M461.4 266.5a2.9 2.9 0 1 0-5.8 0a2.9 2.9 0 1 0 5.8 0M386.4 247.5a2.9 2.9 0 1 0-5.8 0a2.9 2.9 0 1 0 5.8 0M395.4 245.5a2.9 2.9 0 1 0-5.8 0a2.9 2.9 0 1 0 5.8 0M444.4 252.5a2.9 2.9 0 1 0-5.8 0a2.9 2.9 0 1 0 5.8 0M416.4 254.5a2.9 2.9 0 1 0-5.8 0a2.9 2.9 0 1 0 5.8 0M393.4 243.5a2.9 2.9 0 1 0-5.8 0a2.9 2.9 0 1 0 5.8 0M465.4 269.5a2.9 2.9 0 1 0-5.8 0a2.9 2.9 0 1 0 5.8 0M462.4 258.5a2.9 2.9 0 1 0-5.8 0a2.9 2.9 0 1 0 5.8 0M460.4 255.5a2.9 2.9 0 1 0-5.8 0a2.9 2.9 0 1 0 5.8 0M436.4 238.5a2.9 2.9 0 1 0-5.8 0a2.9 2.9 0 1 0 5.8 0M424.4 250.5a2.9 2.9 0 1 0-5.8 0a2.9 2.9 0 1 0 5.8 0M388.4 245.5a2.9 2.9 0 1 0-5.8 0a2.9 2.9 0 1 0 5.8 0M454.4 265.5a2.9 2.9 0 1 0-5.8 0a2.9 2.9 0 1 0 5.8 0M435.4 236.5a2.9 2.9 0 1 0-5.8 0a2.9 2.9 0 1 0 5.8 0M472.4 255.5a2.9 2.9 0 1 0-5.8 0a2.9 2.9 0 1 0 5.8 0M409.4 247.5a2.9 2.9 0 1 0-5.8 0a2.9 2.9 0 1 0 5.8 0M438.4 239.5a2.9 2.9 0 1 0-5.8 0a2.9 2.9 0 1 0 5.8 0M399.4 243.5a2.9 2.9 0 1 0-5.8 0a2.9 2.9 0 1 0 5.8 0M463.4 261.5a2.9 2.9 0 1 0-5.8 0a2.9 2.9 0 1 0 5.8 0M466.4 264.5a2.9 2.9 0 1 0-5.8 0a2.9 2.9 0 1 0 5.8 0M472.4 257.5a2.9 2.9 0 1 0-5.8 0a2.9 2.9 0 1 0 5.8 0M391.4 245.5a2.9 2.9 0 1 0-5.8 0a2.9 2.9 0 1 0 5.8 0M392.4 246.5a2.9 2.9 0 1 0-5.8 0a2.9 2.9 0 1 0 5.8 0M436.4 241.5a2.9 2.9 0 1 0-5.8 0a2.9 2.9 0 1 0 5.8 0M436.4 240.5a2.9 2.9 0 1 0-5.8 0a2.9 2.9 0 1 0 5.8 0M447.4 262.5a2.9 2.9 0 1 0-5.8 0a2.9 2.9 0 1 0 5.8 0M410.4 260.5a2.9 2.9 0 1 0-5.8 0a2.9 2.9 0 1 0 5.8 0M475.4 264.5a2.9 2.9 0 1 0-5.8 0a2.9 2.9 0 1 0 5.8 0M470.4 266.5a2.9 2.9 0 1 0-5.8 0a2.9 2.9 0 1 0 5.8 0M458.4 259.5a2.9 2.9 0 1 0-5.8 0a2.9 2.9 0 1 0 5.8 0M418.4 250.5a2.9 2.9 0 1 0-5.8 0a2.9 2.9 0 1 0 5.8 0M382.4 248.5a2.9 2.9 0 1 0-5.8 0a2.9 2.9 0 1 0 5.8 0M451.4 266.5a2.9 2.9 0 1 0-5.8 0a2.9 2.9 0 1 0 5.8 0M443.4 253.5a2.9 2.9 0 1 0-5.8 0a2.9 2.9 0 1 0 5.8 0M381.4 251.5a2.9 2.9 0 1 0-5.8 0a2.9 2.9 0 1 0 5.8 0M425.4 246.5a2.9 2.9 0 1 0-5.8 0a2.9 2.9 0 1 0 5.8 0M400.4 245.5a2.9 2.9 0 1 0-5.8 0a2.9 2.9 0 1 0 5.8 0M387.4 240.5a2.9 2.9 0 1 0-5.8 0a2.9 2.9 0 1 0 5.8 0M411.4 256.5a2.9 2.9 0 1 0-5.8 0a2.9 2.9 0 1 0 5.8 0M475.4 266.5a2.9 2.9 0 1 0-5.8 0a2.9 2.9 0 1 0 5.8 0M465.4 260.5a2.9 2.9 0 1 0-5.8 0a2.9 2.9 0 1 0 5.8 0M384.4 249.5a2.9 2.9 0 1 0-5.8 0a2.9 2.9 0 1 0 5.8 0M384.4 239.5a2.9 2.9 0 1 0-5.8 0a2.9 2.9 0 1 0 5.8 0M392.4 249.5a2.9 2.9 0 1 0-5.8 0a2.9 2.9 0 1 0 5.8 0M392.4 248.5a2.9 2.9 0 1 0-5.8 0a2.9 2.9 0 1 0 5.8 0M413.4 257.5a2.9 2.9 0 1 0-5.8 0a2.9 2.9 0 1 0 5.8 0M460.4 268.5a2.9 2.9 0 1 0-5.8 0a2.9 2.9 0 1 0 5.8 0M418.4 257.5a2.9 2.9 0 1 0-5.8 0a2.9 2.9 0 1 0 5.8 0M400.4 244.5a2.9 2.9 0 1 0-5.8 0a2.9 2.9 0 1 0 5.8 0M479.4 265.5a2.9 2.9 0 1 0-5.8 0a2.9 2.9 0 1 0 5.8 0M479.4 252.5a2.9 2.9 0 1 0-5.8 0a2.9 2.9 0 1 0 5.8 0M442.4 261.5a2.9 2.9 0 1 0-5.8 0a2.9 2.9 0 1 0 5.8 0M384.4 245.5a2.9 2.9 0 1 0-5.8 0a2.9 2.9 0 1 0 5.8 0M452.4 268.5a2.9 2.9 0 1 0-5.8 0a2.9 2.9 0 1 0 5.8 0M411.4 249.5a2.9 2.9 0 1 0-5.8 0a2.9 2.9 0 1 0 5.8 0M423.4 250.5a2.9 2.9 0 1 0-5.8 0a2.9 2.9 0 1 0 5.8 0M477.4 256.5a2.9 2.9 0 1 0-5.8 0a2.9 2.9 0 1 0 5.8 0M452.4 255.5a2.9 2.9 0 1 0-5.8 0a2.9 2.9 0 1 0 5.8 0M384.4 240.5a2.9 2.9 0 1 0-5.8 0a2.9 2.9 0 1 0 5.8 0M474.4 264.5a2.9 2.9 0 1 0-5.8 0a2.9 2.9 0 1 0 5.8 0M392.4 239.5a2.9 2.9 0 1 0-5.8 0a2.9 2.9 0 1 0 5.8 0M418.4 261.5a2.9 2.9 0 1 0-5.8 0a2.9 2.9 0 1 0 5.8 0M463.4 263.5a2.9 2.9 0 1 0-5.8 0a2.9 2.9 0 1 0 5.8 0M464.4 260.5a2.9 2.9 0 1 0-5.8 0a2.9 2.9 0 1 0 5.8 0M427.4 251.5a2.9 2.9 0 1 0-5.8 0a2.9 2.9 0 1 0 5.8 0M475.4 264.5a2.9 2.9 0 1 0-5.8 0a2.9 2.9 0 1 0 5.8 0M416.4 247.5a2.9 2.9 0 1 0-5.8 0a2.9 2.9 0 1 0 5.8 0M480.4 253.5a2.9 2.9 0 1 0-5.8 0a2.9 2.9 0 1 0 5.8 0M472.4 265.5a2.9 2.9 0 1 0-5.8 0a2.9 2.9 0 1 0 5.8 0M389.4 249.5a2.9 2.9 0 1 0-5.8 0a2.9 2.9 0 1 0 5.8 0M416.4 251.5a2.9 2.9 0 1 0-5.8 0a2.9 2.9 0 1 0 5.8 0M385.4 250.5a2.9 2.9 0 1 0-5.8 0a2.9 2.9 0 1 0 5.8 0M421.4 252.5a2.9 2.9 0 1 0-5.8 0a2.9 2.9 0 1 0 5.8 0M411.4 260.5a2.9 2.9 0 1 0-5.8 0a2.9 2.9 0 1 0 5.8 0M480.4 257.5a2.9 2.9 0 1 0-5.8 0a2.9 2.9 0 1 0 5.8 0M426.4 255.5a2.9 2.9 0 1 0-5.8 0a2.9 2.9 0 1 0 5.8 0M397.4 237.5a2.9 2.9 0 1 0-5.8 0a2.9 2.9 0 1 0 5.8 0M393.4 248.5a2.9 2.9 0 1 0-5.8 0a2.9 2.9 0 1 0 5.8 0M452.4 265.5a2.9 2.9 0 1 0-5.8 0a2.9 2.9 0 1 0 5.8 0M418.4 251.5a2.9 2.9 0 1 0-5.8 0a2.9 2.9 0 1 0 5.8 0M392.4 239.5a2.9 2.9 0 1 0-5.8 0a2.9 2.9 0 1 0 5.8 0M479.4 267.5a2.9 2.9 0 1 0-5.8 0a2.9 2.9 0 1 0 5.8 0M393.4 239.5a2.9 2.9 0 1 0-5.8 0a2.9 2.9 0 1 0 5.8 0M458.4 270.5a2.9 2.9 0 1 0-5.8 0a2.9 2.9 0 1 0 5.8 0M386.4 250.5a2.9 2.9 0 1 0-5.8 0a2.9 2.9 0 1 0 5.8 0M467.4 267.5a2.9 2.9 0 1 0-5.8 0a2.9 2.9 0 1 0 5.8 0M468.4 258.5a2.9 2.9 0 1 0-5.8 0a2.9 2.9 0 1 0 5.8 0M477.4 279.5a2.9 2.9 0 1 0-5.8 0a2.9 2.9 0 1 0 5.8 0M395.4 258.5a2.9 2.9 0 1 0-5.8 0a2.9 2.9 0 1 0 5.8 0M440.4 258.5a2.9 2.9 0 1 0-5.8 0a2.9 2.9 0 1 0 5.8 0M388.4 267.5a2.9 2.9 0 1 0-5.8 0a2.9 2.9 0 1 0 5.8 0M442.4 274.5a2.9 2.9 0 1 0-5.8 0a2.9 2.9 0 1 0 5.8 0M479.4 282.5a2.9 2.9 0 1 0-5.8 0a2.9 2.9 0 1 0 5.8 0M419.4 262.5a2.9 2.9 0 1 0-5.8 0a2.9 2.9 0 1 0 5.8 0M446.4 271.5a2.9 2.9 0 1 0-5.8 0a2.9 2.9 0 1 0 5.8 0M452.4 275.5a2.9 2.9 0 1 0-5.8 0a2.9 2.9 0 1 0 5.8 0M449.4 282.5a2.9 2.9 0 1 0-5.8 0a2.9 2.9 0 1 0 5.8 0M475.4 278.5a2.9 2.9 0 1 0-5.8 0a2.9 2.9 0 1 0 5.8 0M392.4 259.5a2.9 2.9 0 1 0-5.8 0a2.9 2.9 0 1 0 5.8 0M462.4 272.5a2.9 2.9 0 1 0-5.8 0a2.9 2.9 0 1 0 5.8 0M454.4 278.5a2.9 2.9 0 1 0-5.8 0a2.9 2.9 0 1 0 5.8 0M463.4 272.5a2.9 2.9 0 1 0-5.8 0a2.9 2.9 0 1 0 5.8 0M424.4 268.5a2.9 2.9 0 1 0-5.8 0a2.9 2.9 0 1 0 5.8 0M417.4 266.5a2.9 2.9 0 1 0-5.8 0a2.9 2.9 0 1 0 5.8 0M470.4 277.5a2.9 2.9 0 1 0-5.8 0a2.9 2.9 0 1 0 5.8 0M420.4 270.5a2.9 2.9 0 1 0-5.8 0a2.9 2.9 0 1 0 5.8 0M489.4 223.5a2.9 2.9 0 1 0-5.8 0a2.9 2.9 0 1 0 5.8 0M489.4 213.5a2.9 2.9 0 1 0-5.8 0a2.9 2.9 0 1 0 5.8 0M536.4 232.5a2.9 2.9 0 1 0-5.8 0a2.9 2.9 0 1 0 5.8 0M575.4 218.5a2.9 2.9 0 1 0-5.8 0a2.9 2.9 0 1 0 5.8 0M571.4 225.5a2.9 2.9 0 1 0-5.8 0a2.9 2.9 0 1 0 5.8 0M555.4 214.5a2.9 2.9 0 1 0-5.8 0a2.9 2.9 0 1 0 5.8 0M515.4 223.5a2.9 2.9 0 1 0-5.8 0a2.9 2.9 0 1 0 5.8 0M578.4 220.5a2.9 2.9 0 1 0-5.8 0a2.9 2.9 0 1 0 5.8 0M514.4 238.5a2.9 2.9 0 1 0-5.8 0a2.9 2.9 0 1 0 5.8 0M529.4 227.5a2.9 2.9 0 1 0-5.8 0a2.9 2.9 0 1 0 5.8 0M573.4 223.5a2.9 2.9 0 1 0-5.8 0a2.9 2.9 0 1 0 5.8 0M580.4 235.5a2.9 2.9 0 1 0-5.8 0a2.9 2.9 0 1 0 5.8 0M493.4 243.5a2.9 2.9 0 1 0-5.8 0a2.9 2.9 0 1 0 5.8 0M550.4 223.5a2.9 2.9 0 1 0-5.8 0a2.9 2.9 0 1 0 5.8 0M499.4 232.5a2.9 2.9 0 1 0-5.8 0a2.9 2.9 0 1 0 5.8 0M496.4 222.5a2.9 2.9 0 1 0-5.8 0a2.9 2.9 0 1 0 5.8 0M577.4 230.5a2.9 2.9 0 1 0-5.8 0a2.9 2.9 0 1 0 5.8 0M532.4 230.5a2.9 2.9 0 1 0-5.8 0a2.9 2.9 0 1 0 5.8 0M546.4 230.5a2.9 2.9 0 1 0-5.8 0a2.9 2.9 0 1 0 5.8 0M541.4 244.5a2.9 2.9 0 1 0-5.8 0a2.9 2.9 0 1 0 5.8 0M568.4 225.5a2.9 2.9 0 1 0-5.8 0a2.9 2.9 0 1 0 5.8 0M510.4 229.5a2.9 2.9 0 1 0-5.8 0a2.9 2.9 0 1 0 5.8 0M485.4 225.5a2.9 2.9 0 1 0-5.8 0a2.9 2.9 0 1 0 5.8 0M490.4 213.5a2.9 2.9 0 1 0-5.8 0a2.9 2.9 0 1 0 5.8 0M528.4 230.5a2.9 2.9 0 1 0-5.8 0a2.9 2.9 0 1 0 5.8 0M493.4 225.5a2.9 2.9 0 1 0-5.8 0a2.9 2.9 0 1 0 5.8 0M560.4 206.5a2.9 2.9 0 1 0-5.8 0a2.9 2.9 0 1 0 5.8 0M519.4 234.5a2.9 2.9 0 1 0-5.8 0a2.9 2.9 0 1 0 5.8 0M488.4 236.5a2.9 2.9 0 1 0-5.8 0a2.9 2.9 0 1 0 5.8 0M532.4 227.5a2.9 2.9 0 1 0-5.8 0a2.9 2.9 0 1 0 5.8 0M549.4 237.5a2.9 2.9 0 1 0-5.8 0a2.9 2.9 0 1 0 5.8 0M521.4 220.5a2.9 2.9 0 1 0-5.8 0a2.9 2.9 0 1 0 5.8 0M558.4 224.5a2.9 2.9 0 1 0-5.8 0a2.9 2.9 0 1 0 5.8 0M575.4 217.5a2.9 2.9 0 1 0-5.8 0a2.9 2.9 0 1 0 5.8 0M570.4 239.5a2.9 2.9 0 1 0-5.8 0a2.9 2.9 0 1 0 5.8 0M530.4 240.5a2.9 2.9 0 1 0-5.8 0a2.9 2.9 0 1 0 5.8 0M553.4 226.5a2.9 2.9 0 1 0-5.8 0a2.9 2.9 0 1 0 5.8 0M578.4 217.5a2.9 2.9 0 1 0-5.8 0a2.9 2.9 0 1 0 5.8 0M493.4 225.5a2.9 2.9 0 1 0-5.8 0a2.9 2.9 0 1 0 5.8 0M577.4 241.5a2.9 2.9 0 1 0-5.8 0a2.9 2.9 0 1 0 5.8 0M543.4 241.5a2.9 2.9 0 1 0-5.8 0a2.9 2.9 0 1 0 5.8 0M529.4 225.5a2.9 2.9 0 1 0-5.8 0a2.9 2.9 0 1 0 5.8 0M510.4 225.5a2.9 2.9 0 1 0-5.8 0a2.9 2.9 0 1 0 5.8 0M498.4 231.5a2.9 2.9 0 1 0-5.8 0a2.9 2.9 0 1 0 5.8 0M492.4 223.5a2.9 2.9 0 1 0-5.8 0a2.9 2.9 0 1 0 5.8 0M486.4 227.5a2.9 2.9 0 1 0-5.8 0a2.9 2.9 0 1 0 5.8 0M490.4 239.5a2.9 2.9 0 1 0-5.8 0a2.9 2.9 0 1 0 5.8 0M482.4 238.5a2.9 2.9 0 1 0-5.8 0a2.9 2.9 0 1 0 5.8 0M510.4 245.5a2.9 2.9 0 1 0-5.8 0a2.9 2.9 0 1 0 5.8 0M562.4 225.5a2.9 2.9 0 1 0-5.8 0a2.9 2.9 0 1 0 5.8 0M489.4 214.5a2.9 2.9 0 1 0-5.8 0a2.9 2.9 0 1 0 5.8 0M522.4 223.5a2.9 2.9 0 1 0-5.8 0a2.9 2.9 0 1 0 5.8 0M540.4 228.5a2.9 2.9 0 1 0-5.8 0a2.9 2.9 0 1 0 5.8 0M549.4 230.5a2.9 2.9 0 1 0-5.8 0a2.9 2.9 0 1 0 5.8 0M528.4 240.5a2.9 2.9 0 1 0-5.8 0a2.9 2.9 0 1 0 5.8 0M482.4 243.5a2.9 2.9 0 1 0-5.8 0a2.9 2.9 0 1 0 5.8 0M569.4 222.5a2.9 2.9 0 1 0-5.8 0a2.9 2.9 0 1 0 5.8 0M565.4 228.5a2.9 2.9 0 1 0-5.8 0a2.9 2.9 0 1 0 5.8 0M574.4 242.5a2.9 2.9 0 1 0-5.8 0a2.9 2.9 0 1 0 5.8 0M527.4 220.5a2.9 2.9 0 1 0-5.8 0a2.9 2.9 0 1 0 5.8 0M483.4 221.5a2.9 2.9 0 1 0-5.8 0a2.9 2.9 0 1 0 5.8 0M573.4 222.5a2.9 2.9 0 1 0-5.8 0a2.9 2.9 0 1 0 5.8 0M574.4 235.5a2.9 2.9 0 1 0-5.8 0a2.9 2.9 0 1 0 5.8 0M575.4 238.5a2.9 2.9 0 1 0-5.8 0a2.9 2.9 0 1 0 5.8 0M545.4 233.5a2.9 2.9 0 1 0-5.8 0a2.9 2.9 0 1 0 5.8 0M494.4 218.5a2.9 2.9 0 1 0-5.8 0a2.9 2.9 0 1 0 5.8 0M560.4 222.5a2.9 2.9 0 1 0-5.8 0a2.9 2.9 0 1 0 5.8 0M512.4 230.5a2.9 2.9 0 1 0-5.8 0a2.9 2.9 0 1 0 5.8 0M552.4 223.5a2.9 2.9 0 1 0-5.8 0a2.9 2.9 0 1 0 5.8 0M552.4 229.5a2.9 2.9 0 1 0-5.8 0a2.9 2.9 0 1 0 5.8 0M562.4 235.5a2.9 2.9 0 1 0-5.8 0a2.9 2.9 0 1 0 5.8 0M564.4 211.5a2.9 2.9 0 1 0-5.8 0a2.9 2.9 0 1 0 5.8 0M496.4 234.5a2.9 2.9 0 1 0-5.8 0a2.9 2.9 0 1 0 5.8 0M524.4 231.5a2.9 2.9 0 1 0-5.8 0a2.9 2.9 0 1 0 5.8 0M532.4 232.5a2.9 2.9 0 1 0-5.8 0a2.9 2.9 0 1 0 5.8 0M564.4 227.5a2.9 2.9 0 1 0-5.8 0a2.9 2.9 0 1 0 5.8 0M550.4 239.5a2.9 2.9 0 1 0-5.8 0a2.9 2.9 0 1 0 5.8 0M550.4 242.5a2.9 2.9 0 1 0-5.8 0a2.9 2.9 0 1 0 5.8 0M526.4 234.5a2.9 2.9 0 1 0-5.8 0a2.9 2.9 0 1 0 5.8 0M569.4 225.5a2.9 2.9 0 1 0-5.8 0a2.9 2.9 0 1 0 5.8 0M563.4 216.5a2.9 2.9 0 1 0-5.8 0a2.9 2.9 0 1 0 5.8 0M496.4 240.5a2.9 2.9 0 1 0-5.8 0a2.9 2.9 0 1 0 5.8 0M536.4 245.5a2.9 2.9 0 1 0-5.8 0a2.9 2.9 0 1 0 5.8 0M493.4 242.5a2.9 2.9 0 1 0-5.8 0a2.9 2.9 0 1 0 5.8 0M533.4 235.5a2.9 2.9 0 1 0-5.8 0a2.9 2.9 0 1 0 5.8 0M559.4 233.5a2.9 2.9 0 1 0-5.8 0a2.9 2.9 0 1 0 5.8 0M513.4 243.5a2.9 2.9 0 1 0-5.8 0a2.9 2.9 0 1 0 5.8 0M530.4 237.5a2.9 2.9 0 1 0-5.8 0a2.9 2.9 0 1 0 5.8 0M490.4 217.5a2.9 2.9 0 1 0-5.8 0a2.9 2.9 0 1 0 5.8 0M556.4 233.5a2.9 2.9 0 1 0-5.8 0a2.9 2.9 0 1 0 5.8 0M551.4 234.5a2.9 2.9 0 1 0-5.8 0a2.9 2.9 0 1 0 5.8 0M483.4 240.5a2.9 2.9 0 1 0-5.8 0a2.9 2.9 0 1 0 5.8 0M485.4 215.5a2.9 2.9 0 1 0-5.8 0a2.9 2.9 0 1 0 5.8 0M511.4 225.5a2.9 2.9 0 1 0-5.8 0a2.9 2.9 0 1 0 5.8 0M490.4 222.5a2.9 2.9 0 1 0-5.8 0a2.9 2.9 0 1 0 5.8 0M494.4 219.5a2.9 2.9 0 1 0-5.8 0a2.9 2.9 0 1 0 5.8 0M561.4 206.5a2.9 2.9 0 1 0-5.8 0a2.9 2.9 0 1 0 5.8 0M511.4 226.5a2.9 2.9 0 1 0-5.8 0a2.9 2.9 0 1 0 5.8 0M579.4 221.5a2.9 2.9 0 1 0-5.8 0a2.9 2.9 0 1 0 5.8 0M560.4 226.5a2.9 2.9 0 1 0-5.8 0a2.9 2.9 0 1 0 5.8 0M515.4 240.5a2.9 2.9 0 1 0-5.8 0a2.9 2.9 0 1 0 5.8 0M540.4 236.5a2.9 2.9 0 1 0-5.8 0a2.9 2.9 0 1 0 5.8 0M531.4 221.5a2.9 2.9 0 1 0-5.8 0a2.9 2.9 0 1 0 5.8 0M567.4 237.5a2.9 2.9 0 1 0-5.8 0a2.9 2.9 0 1 0 5.8 0M520.4 238.5a2.9 2.9 0 1 0-5.8 0a2.9 2.9 0 1 0 5.8 0M535.4 232.5a2.9 2.9 0 1 0-5.8 0a2.9 2.9 0 1 0 5.8 0M504.4 237.5a2.9 2.9 0 1 0-5.8 0a2.9 2.9 0 1 0 5.8 0M545.4 246.5a2.9 2.9 0 1 0-5.8 0a2.9 2.9 0 1 0 5.8 0M558.4 215.5a2.9 2.9 0 1 0-5.8 0a2.9 2.9 0 1 0 5.8 0M557.4 240.5a2.9 2.9 0 1 0-5.8 0a2.9 2.9 0 1 0 5.8 0M497.4 235.5a2.9 2.9 0 1 0-5.8 0a2.9 2.9 0 1 0 5.8 0M516.4 237.5a2.9 2.9 0 1 0-5.8 0a2.9 2.9 0 1 0 5.8 0M544.4 221.5a2.9 2.9 0 1 0-5.8 0a2.9 2.9 0 1 0 5.8 0M549.4 239.5a2.9 2.9 0 1 0-5.8 0a2.9 2.9 0 1 0 5.8 0M500.4 241.5a2.9 2.9 0 1 0-5.8 0a2.9 2.9 0 1 0 5.8 0M533.4 231.5a2.9 2.9 0 1 0-5.8 0a2.9 2.9 0 1 0 5.8 0M527.4 234.5a2.9 2.9 0 1 0-5.8 0a2.9 2.9 0 1 0 5.8 0M531.4 240.5a2.9 2.9 0 1 0-5.8 0a2.9 2.9 0 1 0 5.8 0M492.4 235.5a2.9 2.9 0 1 0-5.8 0a2.9 2.9 0 1 0 5.8 0M525.4 230.5a2.9 2.9 0 1 0-5.8 0a2.9 2.9 0 1 0 5.8 0M565.4 220.5a2.9 2.9 0 1 0-5.8 0a2.9 2.9 0 1 0 5.8 0M489.4 223.5a2.9 2.9 0 1 0-5.8 0a2.9 2.9 0 1 0 5.8 0M522.4 227.5a2.9 2.9 0 1 0-5.8 0a2.9 2.9 0 1 0 5.8 0M580.4 221.5a2.9 2.9 0 1 0-5.8 0a2.9 2.9 0 1 0 5.8 0M577.4 233.5a2.9 2.9 0 1 0-5.8 0a2.9 2.9 0 1 0 5.8 0M545.4 243.5a2.9 2.9 0 1 0-5.8 0a2.9 2.9 0 1 0 5.8 0M539.4 236.5a2.9 2.9 0 1 0-5.8 0a2.9 2.9 0 1 0 5.8 0M528.4 238.5a2.9 2.9 0 1 0-5.8 0a2.9 2.9 0 1 0 5.8 0M556.4 223.5a2.9 2.9 0 1 0-5.8 0a2.9 2.9 0 1 0 5.8 0M494.4 240.5a2.9 2.9 0 1 0-5.8 0a2.9 2.9 0 1 0 5.8 0M505.4 242.5a2.9 2.9 0 1 0-5.8 0a2.9 2.9 0 1 0 5.8 0M519.4 228.5a2.9 2.9 0 1 0-5.8 0a2.9 2.9 0 1 0 5.8 0M525.4 236.5a2.9 2.9 0 1 0-5.8 0a2.9 2.9 0 1 0 5.8 0M516.4 226.5a2.9 2.9 0 1 0-5.8 0a2.9 2.9 0 1 0 5.8 0M492.4 215.5a2.9 2.9 0 1 0-5.8 0a2.9 2.9 0 1 0 5.8 0M508.4 233.5a2.9 2.9 0 1 0-5.8 0a2.9 2.9 0 1 0 5.8 0M578.4 231.5a2.9 2.9 0 1 0-5.8 0a2.9 2.9 0 1 0 5.8 0M489.4 241.5a2.9 2.9 0 1 0-5.8 0a2.9 2.9 0 1 0 5.8 0M556.4 230.5a2.9 2.9 0 1 0-5.8 0a2.9 2.9 0 1 0 5.8 0M577.4 227.5a2.9 2.9 0 1 0-5.8 0a2.9 2.9 0 1 0 5.8 0M490.4 224.5a2.9 2.9 0 1 0-5.8 0a2.9 2.9 0 1 0 5.8 0M536.4 240.5a2.9 2.9 0 1 0-5.8 0a2.9 2.9 0 1 0 5.8 0M490.4 220.5a2.9 2.9 0 1 0-5.8 0a2.9 2.9 0 1 0 5.8 0M574.4 237.5a2.9 2.9 0 1 0-5.8 0a2.9 2.9 0 1 0 5.8 0M485.4 229.5a2.9 2.9 0 1 0-5.8 0a2.9 2.9 0 1 0 5.8 0M515.4 229.5a2.9 2.9 0 1 0-5.8 0a2.9 2.9 0 1 0 5.8 0M537.4 235.5a2.9 2.9 0 1 0-5.8 0a2.9 2.9 0 1 0 5.8 0M575.4 230.5a2.9 2.9 0 1 0-5.8 0a2.9 2.9 0 1 0 5.8 0M535.4 234.5a2.9 2.9 0 1 0-5.8 0a2.9 2.9 0 1 0 5.8 0M567.4 236.5a2.9 2.9 0 1 0-5.8 0a2.9 2.9 0 1 0 5.8 0M486.4 246.5a2.9 2.9 0 1 0-5.8 0a2.9 2.9 0 1 0 5.8 0M482.4 237.5a2.9 2.9 0 1 0-5.8 0a2.9 2.9 0 1 0 5.8 0M528.4 243.5a2.9 2.9 0 1 0-5.8 0a2.9 2.9 0 1 0 5.8 0M575.4 236.5a2.9 2.9 0 1 0-5.8 0a2.9 2.9 0 1 0 5.8 0M489.4 232.5a2.9 2.9 0 1 0-5.8 0a2.9 2.9 0 1 0 5.8 0M492.4 222.5a2.9 2.9 0 1 0-5.8 0a2.9 2.9 0 1 0 5.8 0M493.4 217.5a2.9 2.9 0 1 0-5.8 0a2.9 2.9 0 1 0 5.8 0M486.4 227.5a2.9 2.9 0 1 0-5.8 0a2.9 2.9 0 1 0 5.8 0M490.4 215.5a2.9 2.9 0 1 0-5.8 0a2.9 2.9 0 1 0 5.8 0M558.4 217.5a2.9 2.9 0 1 0-5.8 0a2.9 2.9 0 1 0 5.8 0M538.4 241.5a2.9 2.9 0 1 0-5.8 0a2.9 2.9 0 1 0 5.8 0M544.4 239.5a2.9 2.9 0 1 0-5.8 0a2.9 2.9 0 1 0 5.8 0M503.4 241.5a2.9 2.9 0 1 0-5.8 0a2.9 2.9 0 1 0 5.8 0M491.4 241.5a2.9 2.9 0 1 0-5.8 0a2.9 2.9 0 1 0 5.8 0M503.4 237.5a2.9 2.9 0 1 0-5.8 0a2.9 2.9 0 1 0 5.8 0M493.4 226.5a2.9 2.9 0 1 0-5.8 0a2.9 2.9 0 1 0 5.8 0M551.4 240.5a2.9 2.9 0 1 0-5.8 0a2.9 2.9 0 1 0 5.8 0M560.4 223.5a2.9 2.9 0 1 0-5.8 0a2.9 2.9 0 1 0 5.8 0M507.4 237.5a2.9 2.9 0 1 0-5.8 0a2.9 2.9 0 1 0 5.8 0M557.4 239.5a2.9 2.9 0 1 0-5.8 0a2.9 2.9 0 1 0 5.8 0M483.4 228.5a2.9 2.9 0 1 0-5.8 0a2.9 2.9 0 1 0 5.8 0M484.4 231.5a2.9 2.9 0 1 0-5.8 0a2.9 2.9 0 1 0 5.8 0M494.4 237.5a2.9 2.9 0 1 0-5.8 0a2.9 2.9 0 1 0 5.8 0M482.4 233.5a2.9 2.9 0 1 0-5.8 0a2.9 2.9 0 1 0 5.8 0M528.4 226.5a2.9 2.9 0 1 0-5.8 0a2.9 2.9 0 1 0 5.8 0M565.4 216.5a2.9 2.9 0 1 0-5.8 0a2.9 2.9 0 1 0 5.8 0M578.4 217.5a2.9 2.9 0 1 0-5.8 0a2.9 2.9 0 1 0 5.8 0M484.4 216.5a2.9 2.9 0 1 0-5.8 0a2.9 2.9 0 1 0 5.8 0M517.4 230.5a2.9 2.9 0 1 0-5.8 0a2.9 2.9 0 1 0 5.8 0M487.4 242.5a2.9 2.9 0 1 0-5.8 0a2.9 2.9 0 1 0 5.8 0M558.4 236.5a2.9 2.9 0 1 0-5.8 0a2.9 2.9 0 1 0 5.8 0M549.4 240.5a2.9 2.9 0 1 0-5.8 0a2.9 2.9 0 1 0 5.8 0M528.4 239.5a2.9 2.9 0 1 0-5.8 0a2.9 2.9 0 1 0 5.8 0M555.4 219.5a2.9 2.9 0 1 0-5.8 0a2.9 2.9 0 1 0 5.8 0M543.4 222.5a2.9 2.9 0 1 0-5.8 0a2.9 2.9 0 1 0 5.8 0M579.4 234.5a2.9 2.9 0 1 0-5.8 0a2.9 2.9 0 1 0 5.8 0M502.4 240.5a2.9 2.9 0 1 0-5.8 0a2.9 2.9 0 1 0 5.8 0M574.4 218.5a2.9 2.9 0 1 0-5.8 0a2.9 2.9 0 1 0 5.8 0M560.4 231.5a2.9 2.9 0 1 0-5.8 0a2.9 2.9 0 1 0 5.8 0M536.4 242.5a2.9 2.9 0 1 0-5.8 0a2.9 2.9 0 1 0 5.8 0M548.4 232.5a2.9 2.9 0 1 0-5.8 0a2.9 2.9 0 1 0 5.8 0M574.4 224.5a2.9 2.9 0 1 0-5.8 0a2.9 2.9 0 1 0 5.8 0M553.4 224.5a2.9 2.9 0 1 0-5.8 0a2.9 2.9 0 1 0 5.8 0M500.4 233.5a2.9 2.9 0 1 0-5.8 0a2.9 2.9 0 1 0 5.8 0M556.4 239.5a2.9 2.9 0 1 0-5.8 0a2.9 2.9 0 1 0 5.8 0M535.4 236.5a2.9 2.9 0 1 0-5.8 0a2.9 2.9 0 1 0 5.8 0M560.4 235.5a2.9 2.9 0 1 0-5.8 0a2.9 2.9 0 1 0 5.8 0M512.4 229.5a2.9 2.9 0 1 0-5.8 0a2.9 2.9 0 1 0 5.8 0M563.4 215.5a2.9 2.9 0 1 0-5.8 0a2.9 2.9 0 1 0 5.8 0M492.4 242.5a2.9 2.9 0 1 0-5.8 0a2.9 2.9 0 1 0 5.8 0M513.4 245.5a2.9 2.9 0 1 0-5.8 0a2.9 2.9 0 1 0 5.8 0M554.4 229.5a2.9 2.9 0 1 0-5.8 0a2.9 2.9 0 1 0 5.8 0M529.4 232.5a2.9 2.9 0 1 0-5.8 0a2.9 2.9 0 1 0 5.8 0M562.4 212.5a2.9 2.9 0 1 0-5.8 0a2.9 2.9 0 1 0 5.8 0M518.4 242.5a2.9 2.9 0 1 0-5.8 0a2.9 2.9 0 1 0 5.8 0M533.4 225.5a2.9 2.9 0 1 0-5.8 0a2.9 2.9 0 1 0 5.8 0M518.4 223.5a2.9 2.9 0 1 0-5.8 0a2.9 2.9 0 1 0 5.8 0M487.4 217.5a2.9 2.9 0 1 0-5.8 0a2.9 2.9 0 1 0 5.8 0M538.4 230.5a2.9 2.9 0 1 0-5.8 0a2.9 2.9 0 1 0 5.8 0M481.4 245.5a2.9 2.9 0 1 0-5.8 0a2.9 2.9 0 1 0 5.8 0M512.4 237.5a2.9 2.9 0 1 0-5.8 0a2.9 2.9 0 1 0 5.8 0M566.4 231.5a2.9 2.9 0 1 0-5.8 0a2.9 2.9 0 1 0 5.8 0M484.4 216.5a2.9 2.9 0 1 0-5.8 0a2.9 2.9 0 1 0 5.8 0M518.4 223.5a2.9 2.9 0 1 0-5.8 0a2.9 2.9 0 1 0 5.8 0M565.4 214.5a2.9 2.9 0 1 0-5.8 0a2.9 2.9 0 1 0 5.8 0M531.4 229.5a2.9 2.9 0 1 0-5.8 0a2.9 2.9 0 1 0 5.8 0M485.4 227.5a2.9 2.9 0 1 0-5.8 0a2.9 2.9 0 1 0 5.8 0M561.4 215.5a2.9 2.9 0 1 0-5.8 0a2.9 2.9 0 1 0 5.8 0M544.4 235.5a2.9 2.9 0 1 0-5.8 0a2.9 2.9 0 1 0 5.8 0M532.4 233.5a2.9 2.9 0 1 0-5.8 0a2.9 2.9 0 1 0 5.8 0M524.4 235.5a2.9 2.9 0 1 0-5.8 0a2.9 2.9 0 1 0 5.8 0M555.4 236.5a2.9 2.9 0 1 0-5.8 0a2.9 2.9 0 1 0 5.8 0M516.4 236.5a2.9 2.9 0 1 0-5.8 0a2.9 2.9 0 1 0 5.8 0M564.4 221.5a2.9 2.9 0 1 0-5.8 0a2.9 2.9 0 1 0 5.8 0M575.4 241.5a2.9 2.9 0 1 0-5.8 0a2.9 2.9 0 1 0 5.8 0M500.4 233.5a2.9 2.9 0 1 0-5.8 0a2.9 2.9 0 1 0 5.8 0M486.4 232.5a2.9 2.9 0 1 0-5.8 0a2.9 2.9 0 1 0 5.8 0M559.4 221.5a2.9 2.9 0 1 0-5.8 0a2.9 2.9 0 1 0 5.8 0M558.4 230.5a2.9 2.9 0 1 0-5.8 0a2.9 2.9 0 1 0 5.8 0M513.4 232.5a2.9 2.9 0 1 0-5.8 0a2.9 2.9 0 1 0 5.8 0M545.4 234.5a2.9 2.9 0 1 0-5.8 0a2.9 2.9 0 1 0 5.8 0M551.4 232.5a2.9 2.9 0 1 0-5.8 0a2.9 2.9 0 1 0 5.8 0M515.4 238.5a2.9 2.9 0 1 0-5.8 0a2.9 2.9 0 1 0 5.8 0M485.4 222.5a2.9 2.9 0 1 0-5.8 0a2.9 2.9 0 1 0 5.8 0M495.4 225.5a2.9 2.9 0 1 0-5.8 0a2.9 2.9 0 1 0 5.8 0M564.4 238.5a2.9 2.9 0 1 0-5.8 0a2.9 2.9 0 1 0 5.8 0M562.4 226.5a2.9 2.9 0 1 0-5.8 0a2.9 2.9 0 1 0 5.8 0M558.4 225.5a2.9 2.9 0 1 0-5.8 0a2.9 2.9 0 1 0 5.8 0M513.4 227.5a2.9 2.9 0 1 0-5.8 0a2.9 2.9 0 1 0 5.8 0M569.4 222.5a2.9 2.9 0 1 0-5.8 0a2.9 2.9 0 1 0 5.8 0M522.4 226.5a2.9 2.9 0 1 0-5.8 0a2.9 2.9 0 1 0 5.8 0M556.4 212.5a2.9 2.9 0 1 0-5.8 0a2.9 2.9 0 1 0 5.8 0M517.4 242.5a2.9 2.9 0 1 0-5.8 0a2.9 2.9 0 1 0 5.8 0M544.4 226.5a2.9 2.9 0 1 0-5.8 0a2.9 2.9 0 1 0 5.8 0M551.4 238.5a2.9 2.9 0 1 0-5.8 0a2.9 2.9 0 1 0 5.8 0M525.4 239.5a2.9 2.9 0 1 0-5.8 0a2.9 2.9 0 1 0 5.8 0M524.4 227.5a2.9 2.9 0 1 0-5.8 0a2.9 2.9 0 1 0 5.8 0M491.4 220.5a2.9 2.9 0 1 0-5.8 0a2.9 2.9 0 1 0 5.8 0M500.4 237.5a2.9 2.9 0 1 0-5.8 0a2.9 2.9 0 1 0 5.8 0M538.4 241.5a2.9 2.9 0 1 0-5.8 0a2.9 2.9 0 1 0 5.8 0M565.4 220.5a2.9 2.9 0 1 0-5.8 0a2.9 2.9 0 1 0 5.8 0M517.4 227.5a2.9 2.9 0 1 0-5.8 0a2.9 2.9 0 1 0 5.8 0M575.4 220.5a2.9 2.9 0 1 0-5.8 0a2.9 2.9 0 1 0 5.8 0M489.4 221.5a2.9 2.9 0 1 0-5.8 0a2.9 2.9 0 1 0 5.8 0M526.4 221.5a2.9 2.9 0 1 0-5.8 0a2.9 2.9 0 1 0 5.8 0M494.4 238.5a2.9 2.9 0 1 0-5.8 0a2.9 2.9 0 1 0 5.8 0M556.4 214.5a2.9 2.9 0 1 0-5.8 0a2.9 2.9 0 1 0 5.8 0M547.4 242.5a2.9 2.9 0 1 0-5.8 0a2.9 2.9 0 1 0 5.8 0M555.4 231.5a2.9 2.9 0 1 0-5.8 0a2.9 2.9 0 1 0 5.8 0M513.4 234.5a2.9 2.9 0 1 0-5.8 0a2.9 2.9 0 1 0 5.8 0M558.4 219.5a2.9 2.9 0 1 0-5.8 0a2.9 2.9 0 1 0 5.8 0M493.4 233.5a2.9 2.9 0 1 0-5.8 0a2.9 2.9 0 1 0 5.8 0M549.4 230.5a2.9 2.9 0 1 0-5.8 0a2.9 2.9 0 1 0 5.8 0M571.4 220.5a2.9 2.9 0 1 0-5.8 0a2.9 2.9 0 1 0 5.8 0M532.4 223.5a2.9 2.9 0 1 0-5.8 0a2.9 2.9 0 1 0 5.8 0M566.4 218.5a2.9 2.9 0 1 0-5.8 0a2.9 2.9 0 1 0 5.8 0M563.4 236.5a2.9 2.9 0 1 0-5.8 0a2.9 2.9 0 1 0 5.8 0M499.4 239.5a2.9 2.9 0 1 0-5.8 0a2.9 2.9 0 1 0 5.8 0M579.4 219.5a2.9 2.9 0 1 0-5.8 0a2.9 2.9 0 1 0 5.8 0M559.4 234.5a2.9 2.9 0 1 0-5.8 0a2.9 2.9 0 1 0 5.8 0M481.4 241.5a2.9 2.9 0 1 0-5.8 0a2.9 2.9 0 1 0 5.8 0M514.4 239.5a2.9 2.9 0 1 0-5.8 0a2.9 2.9 0 1 0 5.8 0M554.4 235.5a2.9 2.9 0 1 0-5.8 0a2.9 2.9 0 1 0 5.8 0M572.4 241.5a2.9 2.9 0 1 0-5.8 0a2.9 2.9 0 1 0 5.8 0M513.4 243.5a2.9 2.9 0 1 0-5.8 0a2.9 2.9 0 1 0 5.8 0M490.4 212.5a2.9 2.9 0 1 0-5.8 0a2.9 2.9 0 1 0 5.8 0M567.4 227.5a2.9 2.9 0 1 0-5.8 0a2.9 2.9 0 1 0 5.8 0M576.4 218.5a2.9 2.9 0 1 0-5.8 0a2.9 2.9 0 1 0 5.8 0M569.4 238.5a2.9 2.9 0 1 0-5.8 0a2.9 2.9 0 1 0 5.8 0M523.4 232.5a2.9 2.9 0 1 0-5.8 0a2.9 2.9 0 1 0 5.8 0M484.4 244.5a2.9 2.9 0 1 0-5.8 0a2.9 2.9 0 1 0 5.8 0M529.4 225.5a2.9 2.9 0 1 0-5.8 0a2.9 2.9 0 1 0 5.8 0M529.4 235.5a2.9 2.9 0 1 0-5.8 0a2.9 2.9 0 1 0 5.8 0M499.4 238.5a2.9 2.9 0 1 0-5.8 0a2.9 2.9 0 1 0 5.8 0M513.4 221.5a2.9 2.9 0 1 0-5.8 0a2.9 2.9 0 1 0 5.8 0M570.4 236.5a2.9 2.9 0 1 0-5.8 0a2.9 2.9 0 1 0 5.8 0M553.4 238.5a2.9 2.9 0 1 0-5.8 0a2.9 2.9 0 1 0 5.8 0M533.4 240.5a2.9 2.9 0 1 0-5.8 0a2.9 2.9 0 1 0 5.8 0M498.4 234.5a2.9 2.9 0 1 0-5.8 0a2.9 2.9 0 1 0 5.8 0M528.4 244.5a2.9 2.9 0 1 0-5.8 0a2.9 2.9 0 1 0 5.8 0M551.4 243.5a2.9 2.9 0 1 0-5.8 0a2.9 2.9 0 1 0 5.8 0M522.4 224.5a2.9 2.9 0 1 0-5.8 0a2.9 2.9 0 1 0 5.8 0M543.4 228.5a2.9 2.9 0 1 0-5.8 0a2.9 2.9 0 1 0 5.8 0M554.4 236.5a2.9 2.9 0 1 0-5.8 0a2.9 2.9 0 1 0 5.8 0M578.4 227.5a2.9 2.9 0 1 0-5.8 0a2.9 2.9 0 1 0 5.8 0M542.4 227.5a2.9 2.9 0 1 0-5.8 0a2.9 2.9 0 1 0 5.8 0M531.4 223.5a2.9 2.9 0 1 0-5.8 0a2.9 2.9 0 1 0 5.8 0M535.4 233.5a2.9 2.9 0 1 0-5.8 0a2.9 2.9 0 1 0 5.8 0M579.4 229.5a2.9 2.9 0 1 0-5.8 0a2.9 2.9 0 1 0 5.8 0M580.4 218.5a2.9 2.9 0 1 0-5.8 0a2.9 2.9 0 1 0 5.8 0M541.4 229.5a2.9 2.9 0 1 0-5.8 0a2.9 2.9 0 1 0 5.8 0M526.4 224.5a2.9 2.9 0 1 0-5.8 0a2.9 2.9 0 1 0 5.8 0M488.4 238.5a2.9 2.9 0 1 0-5.8 0a2.9 2.9 0 1 0 5.8 0M511.4 244.5a2.9 2.9 0 1 0-5.8 0a2.9 2.9 0 1 0 5.8 0M514.4 229.5a2.9 2.9 0 1 0-5.8 0a2.9 2.9 0 1 0 5.8 0M522.4 232.5a2.9 2.9 0 1 0-5.8 0a2.9 2.9 0 1 0 5.8 0M555.4 218.5a2.9 2.9 0 1 0-5.8 0a2.9 2.9 0 1 0 5.8 0M514.4 232.5a2.9 2.9 0 1 0-5.8 0a2.9 2.9 0 1 0 5.8 0M551.4 239.5a2.9 2.9 0 1 0-5.8 0a2.9 2.9 0 1 0 5.8 0M576.4 228.5a2.9 2.9 0 1 0-5.8 0a2.9 2.9 0 1 0 5.8 0M485.4 232.5a2.9 2.9 0 1 0-5.8 0a2.9 2.9 0 1 0 5.8 0M516.4 230.5a2.9 2.9 0 1 0-5.8 0a2.9 2.9 0 1 0 5.8 0M505.4 233.5a2.9 2.9 0 1 0-5.8 0a2.9 2.9 0 1 0 5.8 0M575.4 220.5a2.9 2.9 0 1 0-5.8 0a2.9 2.9 0 1 0 5.8 0M531.4 231.5a2.9 2.9 0 1 0-5.8 0a2.9 2.9 0 1 0 5.8 0M557.4 220.5a2.9 2.9 0 1 0-5.8 0a2.9 2.9 0 1 0 5.8 0M507.4 232.5a2.9 2.9 0 1 0-5.8 0a2.9 2.9 0 1 0 5.8 0M512.4 225.5a2.9 2.9 0 1 0-5.8 0a2.9 2.9 0 1 0 5.8 0M543.4 228.5a2.9 2.9 0 1 0-5.8 0a2.9 2.9 0 1 0 5.8 0M578.4 219.5a2.9 2.9 0 1 0-5.8 0a2.9 2.9 0 1 0 5.8 0M570.4 240.5a2.9 2.9 0 1 0-5.8 0a2.9 2.9 0 1 0 5.8 0M504.4 237.5a2.9 2.9 0 1 0-5.8 0a2.9 2.9 0 1 0 5.8 0M562.4 219.5a2.9 2.9 0 1 0-5.8 0a2.9 2.9 0 1 0 5.8 0M562.4 215.5a2.9 2.9 0 1 0-5.8 0a2.9 2.9 0 1 0 5.8 0M563.4 237.5a2.9 2.9 0 1 0-5.8 0a2.9 2.9 0 1 0 5.8 0M534.4 227.5a2.9 2.9 0 1 0-5.8 0a2.9 2.9 0 1 0 5.8 0M510.4 229.5a2.9 2.9 0 1 0-5.8 0a2.9 2.9 0 1 0 5.8 0M485.4 235.5a2.9 2.9 0 1 0-5.8 0a2.9 2.9 0 1 0 5.8 0M576.4 224.5a2.9 2.9 0 1 0-5.8 0a2.9 2.9 0 1 0 5.8 0M527.4 229.5a2.9 2.9 0 1 0-5.8 0a2.9 2.9 0 1 0 5.8 0M518.4 243.5a2.9 2.9 0 1 0-5.8 0a2.9 2.9 0 1 0 5.8 0M550.4 236.5a2.9 2.9 0 1 0-5.8 0a2.9 2.9 0 1 0 5.8 0M569.4 239.5a2.9 2.9 0 1 0-5.8 0a2.9 2.9 0 1 0 5.8 0M531.4 242.5a2.9 2.9 0 1 0-5.8 0a2.9 2.9 0 1 0 5.8 0M558.4 233.5a2.9 2.9 0 1 0-5.8 0a2.9 2.9 0 1 0 5.8 0M548.4 234.5a2.9 2.9 0 1 0-5.8 0a2.9 2.9 0 1 0 5.8 0M575.4 221.5a2.9 2.9 0 1 0-5.8 0a2.9 2.9 0 1 0 5.8 0M517.4 241.5a2.9 2.9 0 1 0-5.8 0a2.9 2.9 0 1 0 5.8 0M481.4 245.5a2.9 2.9 0 1 0-5.8 0a2.9 2.9 0 1 0 5.8 0M522.4 238.5a2.9 2.9 0 1 0-5.8 0a2.9 2.9 0 1 0 5.8 0M556.4 235.5a2.9 2.9 0 1 0-5.8 0a2.9 2.9 0 1 0 5.8 0M562.4 228.5a2.9 2.9 0 1 0-5.8 0a2.9 2.9 0 1 0 5.8 0M559.4 236.5a2.9 2.9 0 1 0-5.8 0a2.9 2.9 0 1 0 5.8 0M505.4 244.5a2.9 2.9 0 1 0-5.8 0a2.9 2.9 0 1 0 5.8 0M522.4 241.5a2.9 2.9 0 1 0-5.8 0a2.9 2.9 0 1 0 5.8 0M532.4 225.5a2.9 2.9 0 1 0-5.8 0a2.9 2.9 0 1 0 5.8 0M491.4 243.5a2.9 2.9 0 1 0-5.8 0a2.9 2.9 0 1 0 5.8 0M544.4 226.5a2.9 2.9 0 1 0-5.8 0a2.9 2.9 0 1 0 5.8 0M572.4 222.5a2.9 2.9 0 1 0-5.8 0a2.9 2.9 0 1 0 5.8 0M531.4 243.5a2.9 2.9 0 1 0-5.8 0a2.9 2.9 0 1 0 5.8 0M520.4 240.5a2.9 2.9 0 1 0-5.8 0a2.9 2.9 0 1 0 5.8 0M487.4 234.5a2.9 2.9 0 1 0-5.8 0a2.9 2.9 0 1 0 5.8 0M493.4 216.5a2.9 2.9 0 1 0-5.8 0a2.9 2.9 0 1 0 5.8 0M489.4 242.5a2.9 2.9 0 1 0-5.8 0a2.9 2.9 0 1 0 5.8 0M570.4 238.5a2.9 2.9 0 1 0-5.8 0a2.9 2.9 0 1 0 5.8 0M533.4 242.5a2.9 2.9 0 1 0-5.8 0a2.9 2.9 0 1 0 5.8 0M552.4 231.5a2.9 2.9 0 1 0-5.8 0a2.9 2.9 0 1 0 5.8 0M548.4 237.5a2.9 2.9 0 1 0-5.8 0a2.9 2.9 0 1 0 5.8 0M560.4 215.5a2.9 2.9 0 1 0-5.8 0a2.9 2.9 0 1 0 5.8 0M544.4 233.5a2.9 2.9 0 1 0-5.8 0a2.9 2.9 0 1 0 5.8 0M505.4 243.5a2.9 2.9 0 1 0-5.8 0a2.9 2.9 0 1 0 5.8 0M484.4 240.5a2.9 2.9 0 1 0-5.8 0a2.9 2.9 0 1 0 5.8 0M515.4 219.5a2.9 2.9 0 1 0-5.8 0a2.9 2.9 0 1 0 5.8 0M527.4 232.5a2.9 2.9 0 1 0-5.8 0a2.9 2.9 0 1 0 5.8 0M546.4 232.5a2.9 2.9 0 1 0-5.8 0a2.9 2.9 0 1 0 5.8 0M565.4 229.5a2.9 2.9 0 1 0-5.8 0a2.9 2.9 0 1 0 5.8 0M495.4 242.5a2.9 2.9 0 1 0-5.8 0a2.9 2.9 0 1 0 5.8 0M539.4 241.5a2.9 2.9 0 1 0-5.8 0a2.9 2.9 0 1 0 5.8 0M546.4 219.5a2.9 2.9 0 1 0-5.8 0a2.9 2.9 0 1 0 5.8 0M531.4 231.5a2.9 2.9 0 1 0-5.8 0a2.9 2.9 0 1 0 5.8 0M558.4 215.5a2.9 2.9 0 1 0-5.8 0a2.9 2.9 0 1 0 5.8 0M556.4 227.5a2.9 2.9 0 1 0-5.8 0a2.9 2.9 0 1 0 5.8 0M544.4 238.5a2.9 2.9 0 1 0-5.8 0a2.9 2.9 0 1 0 5.8 0M519.4 223.5a2.9 2.9 0 1 0-5.8 0a2.9 2.9 0 1 0 5.8 0M543.4 228.5a2.9 2.9 0 1 0-5.8 0a2.9 2.9 0 1 0 5.8 0M578.4 240.5a2.9 2.9 0 1 0-5.8 0a2.9 2.9 0 1 0 5.8 0M549.4 219.5a2.9 2.9 0 1 0-5.8 0a2.9 2.9 0 1 0 5.8 0M486.4 233.5a2.9 2.9 0 1 0-5.8 0a2.9 2.9 0 1 0 5.8 0M503.4 234.5a2.9 2.9 0 1 0-5.8 0a2.9 2.9 0 1 0 5.8 0M546.4 241.5a2.9 2.9 0 1 0-5.8 0a2.9 2.9 0 1 0 5.8 0M486.4 225.5a2.9 2.9 0 1 0-5.8 0a2.9 2.9 0 1 0 5.8 0M515.4 219.5a2.9 2.9 0 1 0-5.8 0a2.9 2.9 0 1 0 5.8 0M506.4 239.5a2.9 2.9 0 1 0-5.8 0a2.9 2.9 0 1 0 5.8 0M526.4 228.5a2.9 2.9 0 1 0-5.8 0a2.9 2.9 0 1 0 5.8 0M492.4 228.5a2.9 2.9 0 1 0-5.8 0a2.9 2.9 0 1 0 5.8 0M579.4 221.5a2.9 2.9 0 1 0-5.8 0a2.9 2.9 0 1 0 5.8 0M524.4 220.5a2.9 2.9 0 1 0-5.8 0a2.9 2.9 0 1 0 5.8 0M505.4 243.5a2.9 2.9 0 1 0-5.8 0a2.9 2.9 0 1 0 5.8 0M545.4 225.5a2.9 2.9 0 1 0-5.8 0a2.9 2.9 0 1 0 5.8 0M526.4 238.5a2.9 2.9 0 1 0-5.8 0a2.9 2.9 0 1 0 5.8 0M554.4 216.5a2.9 2.9 0 1 0-5.8 0a2.9 2.9 0 1 0 5.8 0M486.4 222.5a2.9 2.9 0 1 0-5.8 0a2.9 2.9 0 1 0 5.8 0M492.4 232.5a2.9 2.9 0 1 0-5.8 0a2.9 2.9 0 1 0 5.8 0M503.4 242.5a2.9 2.9 0 1 0-5.8 0a2.9 2.9 0 1 0 5.8 0M526.4 227.5a2.9 2.9 0 1 0-5.8 0a2.9 2.9 0 1 0 5.8 0M512.4 245.5a2.9 2.9 0 1 0-5.8 0a2.9 2.9 0 1 0 5.8 0M580.4 236.5a2.9 2.9 0 1 0-5.8 0a2.9 2.9 0 1 0 5.8 0M571.4 237.5a2.9 2.9 0 1 0-5.8 0a2.9 2.9 0 1 0 5.8 0M559.4 229.5a2.9 2.9 0 1 0-5.8 0a2.9 2.9 0 1 0 5.8 0M500.4 232.5a2.9 2.9 0 1 0-5.8 0a2.9 2.9 0 1 0 5.8 0M486.4 227.5a2.9 2.9 0 1 0-5.8 0a2.9 2.9 0 1 0 5.8 0M568.4 242.5a2.9 2.9 0 1 0-5.8 0a2.9 2.9 0 1 0 5.8 0M511.4 235.5a2.9 2.9 0 1 0-5.8 0a2.9 2.9 0 1 0 5.8 0M554.4 223.5a2.9 2.9 0 1 0-5.8 0a2.9 2.9 0 1 0 5.8 0M563.4 236.5a2.9 2.9 0 1 0-5.8 0a2.9 2.9 0 1 0 5.8 0M503.4 232.5a2.9 2.9 0 1 0-5.8 0a2.9 2.9 0 1 0 5.8 0M532.4 228.5a2.9 2.9 0 1 0-5.8 0a2.9 2.9 0 1 0 5.8 0M522.4 228.5a2.9 2.9 0 1 0-5.8 0a2.9 2.9 0 1 0 5.8 0M544.4 239.5a2.9 2.9 0 1 0-5.8 0a2.9 2.9 0 1 0 5.8 0M548.4 231.5a2.9 2.9 0 1 0-5.8 0a2.9 2.9 0 1 0 5.8 0M576.4 219.5a2.9 2.9 0 1 0-5.8 0a2.9 2.9 0 1 0 5.8 0M558.4 231.5a2.9 2.9 0 1 0-5.8 0a2.9 2.9 0 1 0 5.8 0M563.4 209.5a2.9 2.9 0 1 0-5.8 0a2.9 2.9 0 1 0 5.8 0M508.4 244.5a2.9 2.9 0 1 0-5.8 0a2.9 2.9 0 1 0 5.8 0M555.4 237.5a2.9 2.9 0 1 0-5.8 0a2.9 2.9 0 1 0 5.8 0M573.4 226.5a2.9 2.9 0 1 0-5.8 0a2.9 2.9 0 1 0 5.8 0M555.4 238.5a2.9 2.9 0 1 0-5.8 0a2.9 2.9 0 1 0 5.8 0M562.4 230.5a2.9 2.9 0 1 0-5.8 0a2.9 2.9 0 1 0 5.8 0M570.4 236.5a2.9 2.9 0 1 0-5.8 0a2.9 2.9 0 1 0 5.8 0M519.4 220.5a2.9 2.9 0 1 0-5.8 0a2.9 2.9 0 1 0 5.8 0M518.4 243.5a2.9 2.9 0 1 0-5.8 0a2.9 2.9 0 1 0 5.8 0M560.4 234.5a2.9 2.9 0 1 0-5.8 0a2.9 2.9 0 1 0 5.8 0M509.4 233.5a2.9 2.9 0 1 0-5.8 0a2.9 2.9 0 1 0 5.8 0M495.4 239.5a2.9 2.9 0 1 0-5.8 0a2.9 2.9 0 1 0 5.8 0M566.4 228.5a2.9 2.9 0 1 0-5.8 0a2.9 2.9 0 1 0 5.8 0M530.4 224.5a2.9 2.9 0 1 0-5.8 0a2.9 2.9 0 1 0 5.8 0M482.4 240.5a2.9 2.9 0 1 0-5.8 0a2.9 2.9 0 1 0 5.8 0M537.4 238.5a2.9 2.9 0 1 0-5.8 0a2.9 2.9 0 1 0 5.8 0M571.4 242.5a2.9 2.9 0 1 0-5.8 0a2.9 2.9 0 1 0 5.8 0M579.4 232.5a2.9 2.9 0 1 0-5.8 0a2.9 2.9 0 1 0 5.8 0M528.4 246.5a2.9 2.9 0 1 0-5.8 0a2.9 2.9 0 1 0 5.8 0M551.4 224.5a2.9 2.9 0 1 0-5.8 0a2.9 2.9 0 1 0 5.8 0M529.4 228.5a2.9 2.9 0 1 0-5.8 0a2.9 2.9 0 1 0 5.8 0M521.4 229.5a2.9 2.9 0 1 0-5.8 0a2.9 2.9 0 1 0 5.8 0M522.4 225.5a2.9 2.9 0 1 0-5.8 0a2.9 2.9 0 1 0 5.8 0M529.4 240.5a2.9 2.9 0 1 0-5.8 0a2.9 2.9 0 1 0 5.8 0M570.4 229.5a2.9 2.9 0 1 0-5.8 0a2.9 2.9 0 1 0 5.8 0M556.4 217.5a2.9 2.9 0 1 0-5.8 0a2.9 2.9 0 1 0 5.8 0M494.4 237.5a2.9 2.9 0 1 0-5.8 0a2.9 2.9 0 1 0 5.8 0M572.4 231.5a2.9 2.9 0 1 0-5.8 0a2.9 2.9 0 1 0 5.8 0M558.4 229.5a2.9 2.9 0 1 0-5.8 0a2.9 2.9 0 1 0 5.8 0M579.4 237.5a2.9 2.9 0 1 0-5.8 0a2.9 2.9 0 1 0 5.8 0M534.4 231.5a2.9 2.9 0 1 0-5.8 0a2.9 2.9 0 1 0 5.8 0M528.4 244.5a2.9 2.9 0 1 0-5.8 0a2.9 2.9 0 1 0 5.8 0M547.4 239.5a2.9 2.9 0 1 0-5.8 0a2.9 2.9 0 1 0 5.8 0M546.4 222.5a2.9 2.9 0 1 0-5.8 0a2.9 2.9 0 1 0 5.8 0M561.4 218.5a2.9 2.9 0 1 0-5.8 0a2.9 2.9 0 1 0 5.8 0M489.4 226.5a2.9 2.9 0 1 0-5.8 0a2.9 2.9 0 1 0 5.8 0M531.4 240.5a2.9 2.9 0 1 0-5.8 0a2.9 2.9 0 1 0 5.8 0M563.4 232.5a2.9 2.9 0 1 0-5.8 0a2.9 2.9 0 1 0 5.8 0M557.4 228.5a2.9 2.9 0 1 0-5.8 0a2.9 2.9 0 1 0 5.8 0M491.4 220.5a2.9 2.9 0 1 0-5.8 0a2.9 2.9 0 1 0 5.8 0M514.4 257.5a2.9 2.9 0 1 0-5.8 0a2.9 2.9 0 1 0 5.8 0M524.4 260.5a2.9 2.9 0 1 0-5.8 0a2.9 2.9 0 1 0 5.8 0M498.4 254.5a2.9 2.9 0 1 0-5.8 0a2.9 2.9 0 1 0 5.8 0M532.4 259.5a2.9 2.9 0 1 0-5.8 0a2.9 2.9 0 1 0 5.8 0M549.4 247.5a2.9 2.9 0 1 0-5.8 0a2.9 2.9 0 1 0 5.8 0M555.4 255.5a2.9 2.9 0 1 0-5.8 0a2.9 2.9 0 1 0 5.8 0M561.4 240.5a2.9 2.9 0 1 0-5.8 0a2.9 2.9 0 1 0 5.8 0M565.4 239.5a2.9 2.9 0 1 0-5.8 0a2.9 2.9 0 1 0 5.8 0M484.4 259.5a2.9 2.9 0 1 0-5.8 0a2.9 2.9 0 1 0 5.8 0M578.4 246.5a2.9 2.9 0 1 0-5.8 0a2.9 2.9 0 1 0 5.8 0M513.4 256.5a2.9 2.9 0 1 0-5.8 0a2.9 2.9 0 1 0 5.8 0M536.4 262.5a2.9 2.9 0 1 0-5.8 0a2.9 2.9 0 1 0 5.8 0M557.4 251.5a2.9 2.9 0 1 0-5.8 0a2.9 2.9 0 1 0 5.8 0M553.4 250.5a2.9 2.9 0 1 0-5.8 0a2.9 2.9 0 1 0 5.8 0M498.4 250.5a2.9 2.9 0 1 0-5.8 0a2.9 2.9 0 1 0 5.8 0M481.4 257.5a2.9 2.9 0 1 0-5.8 0a2.9 2.9 0 1 0 5.8 0M574.4 248.5a2.9 2.9 0 1 0-5.8 0a2.9 2.9 0 1 0 5.8 0M517.4 260.5a2.9 2.9 0 1 0-5.8 0a2.9 2.9 0 1 0 5.8 0M554.4 254.5a2.9 2.9 0 1 0-5.8 0a2.9 2.9 0 1 0 5.8 0M507.4 260.5a2.9 2.9 0 1 0-5.8 0a2.9 2.9 0 1 0 5.8 0M536.4 250.5a2.9 2.9 0 1 0-5.8 0a2.9 2.9 0 1 0 5.8 0M573.4 252.5a2.9 2.9 0 1 0-5.8 0a2.9 2.9 0 1 0 5.8 0M522.4 259.5a2.9 2.9 0 1 0-5.8 0a2.9 2.9 0 1 0 5.8 0M573.4 255.5a2.9 2.9 0 1 0-5.8 0a2.9 2.9 0 1 0 5.8 0M521.4 249.5a2.9 2.9 0 1 0-5.8 0a2.9 2.9 0 1 0 5.8 0M548.4 258.5a2.9 2.9 0 1 0-5.8 0a2.9 2.9 0 1 0 5.8 0M506.4 256.5a2.9 2.9 0 1 0-5.8 0a2.9 2.9 0 1 0 5.8 0M560.4 248.5a2.9 2.9 0 1 0-5.8 0a2.9 2.9 0 1 0 5.8 0M508.4 252.5a2.9 2.9 0 1 0-5.8 0a2.9 2.9 0 1 0 5.8 0M490.4 262.5a2.9 2.9 0 1 0-5.8 0a2.9 2.9 0 1 0 5.8 0M545.4 247.5a2.9 2.9 0 1 0-5.8 0a2.9 2.9 0 1 0 5.8 0M567.4 249.5a2.9 2.9 0 1 0-5.8 0a2.9 2.9 0 1 0 5.8 0M553.4 257.5a2.9 2.9 0 1 0-5.8 0a2.9 2.9 0 1 0 5.8 0M564.4 241.5a2.9 2.9 0 1 0-5.8 0a2.9 2.9 0 1 0 5.8 0M540.4 252.5a2.9 2.9 0 1 0-5.8 0a2.9 2.9 0 1 0 5.8 0M511.4 256.5a2.9 2.9 0 1 0-5.8 0a2.9 2.9 0 1 0 5.8 0M500.4 256.5a2.9 2.9 0 1 0-5.8 0a2.9 2.9 0 1 0 5.8 0M539.4 252.5a2.9 2.9 0 1 0-5.8 0a2.9 2.9 0 1 0 5.8 0M560.4 251.5a2.9 2.9 0 1 0-5.8 0a2.9 2.9 0 1 0 5.8 0M544.4 256.5a2.9 2.9 0 1 0-5.8 0a2.9 2.9 0 1 0 5.8 0M554.4 250.5a2.9 2.9 0 1 0-5.8 0a2.9 2.9 0 1 0 5.8 0M547.4 246.5a2.9 2.9 0 1 0-5.8 0a2.9 2.9 0 1 0 5.8 0M577.4 248.5a2.9 2.9 0 1 0-5.8 0a2.9 2.9 0 1 0 5.8 0M570.4 258.5a2.9 2.9 0 1 0-5.8 0a2.9 2.9 0 1 0 5.8 0M500.4 247.5a2.9 2.9 0 1 0-5.8 0a2.9 2.9 0 1 0 5.8 0M508.4 248.5a2.9 2.9 0 1 0-5.8 0a2.9 2.9 0 1 0 5.8 0M553.4 245.5a2.9 2.9 0 1 0-5.8 0a2.9 2.9 0 1 0 5.8 0M578.4 253.5a2.9 2.9 0 1 0-5.8 0a2.9 2.9 0 1 0 5.8 0M562.4 253.5a2.9 2.9 0 1 0-5.8 0a2.9 2.9 0 1 0 5.8 0M519.4 260.5a2.9 2.9 0 1 0-5.8 0a2.9 2.9 0 1 0 5.8 0M515.4 256.5a2.9 2.9 0 1 0-5.8 0a2.9 2.9 0 1 0 5.8 0M506.4 256.5a2.9 2.9 0 1 0-5.8 0a2.9 2.9 0 1 0 5.8 0M568.4 250.5a2.9 2.9 0 1 0-5.8 0a2.9 2.9 0 1 0 5.8 0M513.4 248.5a2.9 2.9 0 1 0-5.8 0a2.9 2.9 0 1 0 5.8 0M521.4 245.5a2.9 2.9 0 1 0-5.8 0a2.9 2.9 0 1 0 5.8 0M522.4 253.5a2.9 2.9 0 1 0-5.8 0a2.9 2.9 0 1 0 5.8 0M577.4 250.5a2.9 2.9 0 1 0-5.8 0a2.9 2.9 0 1 0 5.8 0M504.4 251.5a2.9 2.9 0 1 0-5.8 0a2.9 2.9 0 1 0 5.8 0M578.4 258.5a2.9 2.9 0 1 0-5.8 0a2.9 2.9 0 1 0 5.8 0M536.4 249.5a2.9 2.9 0 1 0-5.8 0a2.9 2.9 0 1 0 5.8 0M543.4 255.5a2.9 2.9 0 1 0-5.8 0a2.9 2.9 0 1 0 5.8 0M518.4 248.5a2.9 2.9 0 1 0-5.8 0a2.9 2.9 0 1 0 5.8 0M541.4 254.5a2.9 2.9 0 1 0-5.8 0a2.9 2.9 0 1 0 5.8 0M573.4 248.5a2.9 2.9 0 1 0-5.8 0a2.9 2.9 0 1 0 5.8 0M565.4 252.5a2.9 2.9 0 1 0-5.8 0a2.9 2.9 0 1 0 5.8 0M571.4 250.5a2.9 2.9 0 1 0-5.8 0a2.9 2.9 0 1 0 5.8 0M565.4 244.5a2.9 2.9 0 1 0-5.8 0a2.9 2.9 0 1 0 5.8 0M545.4 247.5a2.9 2.9 0 1 0-5.8 0a2.9 2.9 0 1 0 5.8 0M515.4 260.5a2.9 2.9 0 1 0-5.8 0a2.9 2.9 0 1 0 5.8 0M525.4 255.5a2.9 2.9 0 1 0-5.8 0a2.9 2.9 0 1 0 5.8 0M488.4 247.5a2.9 2.9 0 1 0-5.8 0a2.9 2.9 0 1 0 5.8 0M513.4 258.5a2.9 2.9 0 1 0-5.8 0a2.9 2.9 0 1 0 5.8 0M558.4 244.5a2.9 2.9 0 1 0-5.8 0a2.9 2.9 0 1 0 5.8 0M519.4 256.5a2.9 2.9 0 1 0-5.8 0a2.9 2.9 0 1 0 5.8 0M572.4 254.5a2.9 2.9 0 1 0-5.8 0a2.9 2.9 0 1 0 5.8 0M516.4 245.5a2.9 2.9 0 1 0-5.8 0a2.9 2.9 0 1 0 5.8 0M580.4 250.5a2.9 2.9 0 1 0-5.8 0a2.9 2.9 0 1 0 5.8 0M563.4 244.5a2.9 2.9 0 1 0-5.8 0a2.9 2.9 0 1 0 5.8 0M557.4 247.5a2.9 2.9 0 1 0-5.8 0a2.9 2.9 0 1 0 5.8 0M494.4 249.5a2.9 2.9 0 1 0-5.8 0a2.9 2.9 0 1 0 5.8 0M499.4 250.5a2.9 2.9 0 1 0-5.8 0a2.9 2.9 0 1 0 5.8 0M535.4 253.5a2.9 2.9 0 1 0-5.8 0a2.9 2.9 0 1 0 5.8 0M560.4 250.5a2.9 2.9 0 1 0-5.8 0a2.9 2.9 0 1 0 5.8 0M488.4 254.5a2.9 2.9 0 1 0-5.8 0a2.9 2.9 0 1 0 5.8 0M481.4 251.5a2.9 2.9 0 1 0-5.8 0a2.9 2.9 0 1 0 5.8 0M524.4 245.5a2.9 2.9 0 1 0-5.8 0a2.9 2.9 0 1 0 5.8 0M549.4 253.5a2.9 2.9 0 1 0-5.8 0a2.9 2.9 0 1 0 5.8 0M513.4 252.5a2.9 2.9 0 1 0-5.8 0a2.9 2.9 0 1 0 5.8 0M516.4 253.5a2.9 2.9 0 1 0-5.8 0a2.9 2.9 0 1 0 5.8 0M487.4 253.5a2.9 2.9 0 1 0-5.8 0a2.9 2.9 0 1 0 5.8 0M494.4 253.5a2.9 2.9 0 1 0-5.8 0a2.9 2.9 0 1 0 5.8 0M509.4 261.5a2.9 2.9 0 1 0-5.8 0a2.9 2.9 0 1 0 5.8 0M513.4 250.5a2.9 2.9 0 1 0-5.8 0a2.9 2.9 0 1 0 5.8 0M543.4 250.5a2.9 2.9 0 1 0-5.8 0a2.9 2.9 0 1 0 5.8 0M538.4 254.5a2.9 2.9 0 1 0-5.8 0a2.9 2.9 0 1 0 5.8 0M526.4 254.5a2.9 2.9 0 1 0-5.8 0a2.9 2.9 0 1 0 5.8 0M527.4 274.5a2.9 2.9 0 1 0-5.8 0a2.9 2.9 0 1 0 5.8 0M497.4 261.5a2.9 2.9 0 1 0-5.8 0a2.9 2.9 0 1 0 5.8 0M528.4 270.5a2.9 2.9 0 1 0-5.8 0a2.9 2.9 0 1 0 5.8 0M482.4 277.5a2.9 2.9 0 1 0-5.8 0a2.9 2.9 0 1 0 5.8 0M531.4 277.5a2.9 2.9 0 1 0-5.8 0a2.9 2.9 0 1 0 5.8 0M557.4 261.5a2.9 2.9 0 1 0-5.8 0a2.9 2.9 0 1 0 5.8 0M576.4 273.5a2.9 2.9 0 1 0-5.8 0a2.9 2.9 0 1 0 5.8 0M488.4 272.5a2.9 2.9 0 1 0-5.8 0a2.9 2.9 0 1 0 5.8 0M579.4 261.5a2.9 2.9 0 1 0-5.8 0a2.9 2.9 0 1 0 5.8 0M556.4 265.5a2.9 2.9 0 1 0-5.8 0a2.9 2.9 0 1 0 5.8 0M513.4 274.5a2.9 2.9 0 1 0-5.8 0a2.9 2.9 0 1 0 5.8 0M510.4 266.5a2.9 2.9 0 1 0-5.8 0a2.9 2.9 0 1 0 5.8 0M553.4 266.5a2.9 2.9 0 1 0-5.8 0a2.9 2.9 0 1 0 5.8 0M567.4 265.5a2.9 2.9 0 1 0-5.8 0a2.9 2.9 0 1 0 5.8 0M489.4 269.5a2.9 2.9 0 1 0-5.8 0a2.9 2.9 0 1 0 5.8 0M576.4 273.5a2.9 2.9 0 1 0-5.8 0a2.9 2.9 0 1 0 5.8 0M567.4 257.5a2.9 2.9 0 1 0-5.8 0a2.9 2.9 0 1 0 5.8 0M574.4 274.5a2.9 2.9 0 1 0-5.8 0a2.9 2.9 0 1 0 5.8 0M566.4 262.5a2.9 2.9 0 1 0-5.8 0a2.9 2.9 0 1 0 5.8 0M572.4 222.5a2.9 2.9 0 1 0-5.8 0a2.9 2.9 0 1 0 5.8 0M578.4 245.5a2.9 2.9 0 1 0-5.8 0a2.9 2.9 0 1 0 5.8 0M610.4 243.5a2.9 2.9 0 1 0-5.8 0a2.9 2.9 0 1 0 5.8 0M580.4 234.5a2.9 2.9 0 1 0-5.8 0a2.9 2.9 0 1 0 5.8 0M616.4 216.5a2.9 2.9 0 1 0-5.8 0a2.9 2.9 0 1 0 5.8 0M602.4 240.5a2.9 2.9 0 1 0-5.8 0a2.9 2.9 0 1 0 5.8 0M610.4 218.5a2.9 2.9 0 1 0-5.8 0a2.9 2.9 0 1 0 5.8 0M594.4 241.5a2.9 2.9 0 1 0-5.8 0a2.9 2.9 0 1 0 5.8 0M584.4 242.5a2.9 2.9 0 1 0-5.8 0a2.9 2.9 0 1 0 5.8 0M583.4 226.5a2.9 2.9 0 1 0-5.8 0a2.9 2.9 0 1 0 5.8 0M601.4 239.5a2.9 2.9 0 1 0-5.8 0a2.9 2.9 0 1 0 5.8 0M613.4 221.5a2.9 2.9 0 1 0-5.8 0a2.9 2.9 0 1 0 5.8 0M588.4 237.5a2.9 2.9 0 1 0-5.8 0a2.9 2.9 0 1 0 5.8 0M607.4 238.5a2.9 2.9 0 1 0-5.8 0a2.9 2.9 0 1 0 5.8 0M583.4 241.5a2.9 2.9 0 1 0-5.8 0a2.9 2.9 0 1 0 5.8 0M605.4 230.5a2.9 2.9 0 1 0-5.8 0a2.9 2.9 0 1 0 5.8 0M586.4 236.5a2.9 2.9 0 1 0-5.8 0a2.9 2.9 0 1 0 5.8 0M574.4 236.5a2.9 2.9 0 1 0-5.8 0a2.9 2.9 0 1 0 5.8 0M590.4 237.5a2.9 2.9 0 1 0-5.8 0a2.9 2.9 0 1 0 5.8 0M585.4 227.5a2.9 2.9 0 1 0-5.8 0a2.9 2.9 0 1 0 5.8 0M577.4 217.5a2.9 2.9 0 1 0-5.8 0a2.9 2.9 0 1 0 5.8 0M612.4 228.5a2.9 2.9 0 1 0-5.8 0a2.9 2.9 0 1 0 5.8 0M583.4 223.5a2.9 2.9 0 1 0-5.8 0a2.9 2.9 0 1 0 5.8 0M577.4 219.5a2.9 2.9 0 1 0-5.8 0a2.9 2.9 0 1 0 5.8 0M578.4 233.5a2.9 2.9 0 1 0-5.8 0a2.9 2.9 0 1 0 5.8 0M615.4 224.5a2.9 2.9 0 1 0-5.8 0a2.9 2.9 0 1 0 5.8 0M603.4 241.5a2.9 2.9 0 1 0-5.8 0a2.9 2.9 0 1 0 5.8 0M610.4 229.5a2.9 2.9 0 1 0-5.8 0a2.9 2.9 0 1 0 5.8 0M610.4 221.5a2.9 2.9 0 1 0-5.8 0a2.9 2.9 0 1 0 5.8 0M608.4 224.5a2.9 2.9 0 1 0-5.8 0a2.9 2.9 0 1 0 5.8 0M580.4 240.5a2.9 2.9 0 1 0-5.8 0a2.9 2.9 0 1 0 5.8 0M607.4 232.5a2.9 2.9 0 1 0-5.8 0a2.9 2.9 0 1 0 5.8 0M609.4 233.5a2.9 2.9 0 1 0-5.8 0a2.9 2.9 0 1 0 5.8 0M601.4 239.5a2.9 2.9 0 1 0-5.8 0a2.9 2.9 0 1 0 5.8 0M572.4 238.5a2.9 2.9 0 1 0-5.8 0a2.9 2.9 0 1 0 5.8 0M609.4 213.5a2.9 2.9 0 1 0-5.8 0a2.9 2.9 0 1 0 5.8 0M573.4 241.5a2.9 2.9 0 1 0-5.8 0a2.9 2.9 0 1 0 5.8 0M582.4 228.5a2.9 2.9 0 1 0-5.8 0a2.9 2.9 0 1 0 5.8 0M613.4 215.5a2.9 2.9 0 1 0-5.8 0a2.9 2.9 0 1 0 5.8 0M610.4 241.5a2.9 2.9 0 1 0-5.8 0a2.9 2.9 0 1 0 5.8 0M590.4 238.5a2.9 2.9 0 1 0-5.8 0a2.9 2.9 0 1 0 5.8 0M577.4 239.5a2.9 2.9 0 1 0-5.8 0a2.9 2.9 0 1 0 5.8 0M607.4 236.5a2.9 2.9 0 1 0-5.8 0a2.9 2.9 0 1 0 5.8 0M572.4 219.5a2.9 2.9 0 1 0-5.8 0a2.9 2.9 0 1 0 5.8 0M601.4 240.5a2.9 2.9 0 1 0-5.8 0a2.9 2.9 0 1 0 5.8 0M593.4 234.5a2.9 2.9 0 1 0-5.8 0a2.9 2.9 0 1 0 5.8 0M591.4 230.5a2.9 2.9 0 1 0-5.8 0a2.9 2.9 0 1 0 5.8 0M610.4 229.5a2.9 2.9 0 1 0-5.8 0a2.9 2.9 0 1 0 5.8 0M585.4 219.5a2.9 2.9 0 1 0-5.8 0a2.9 2.9 0 1 0 5.8 0M586.4 227.5a2.9 2.9 0 1 0-5.8 0a2.9 2.9 0 1 0 5.8 0M578.4 225.5a2.9 2.9 0 1 0-5.8 0a2.9 2.9 0 1 0 5.8 0M586.4 222.5a2.9 2.9 0 1 0-5.8 0a2.9 2.9 0 1 0 5.8 0M611.4 219.5a2.9 2.9 0 1 0-5.8 0a2.9 2.9 0 1 0 5.8 0M605.4 244.5a2.9 2.9 0 1 0-5.8 0a2.9 2.9 0 1 0 5.8 0M588.4 221.5a2.9 2.9 0 1 0-5.8 0a2.9 2.9 0 1 0 5.8 0M601.4 244.5a2.9 2.9 0 1 0-5.8 0a2.9 2.9 0 1 0 5.8 0M595.4 233.5a2.9 2.9 0 1 0-5.8 0a2.9 2.9 0 1 0 5.8 0M575.4 219.5a2.9 2.9 0 1 0-5.8 0a2.9 2.9 0 1 0 5.8 0M591.4 233.5a2.9 2.9 0 1 0-5.8 0a2.9 2.9 0 1 0 5.8 0M588.4 236.5a2.9 2.9 0 1 0-5.8 0a2.9 2.9 0 1 0 5.8 0M609.4 217.5a2.9 2.9 0 1 0-5.8 0a2.9 2.9 0 1 0 5.8 0M585.4 230.5a2.9 2.9 0 1 0-5.8 0a2.9 2.9 0 1 0 5.8 0M608.4 215.5a2.9 2.9 0 1 0-5.8 0a2.9 2.9 0 1 0 5.8 0M607.4 233.5a2.9 2.9 0 1 0-5.8 0a2.9 2.9 0 1 0 5.8 0M606.4 234.5a2.9 2.9 0 1 0-5.8 0a2.9 2.9 0 1 0 5.8 0M611.4 222.5a2.9 2.9 0 1 0-5.8 0a2.9 2.9 0 1 0 5.8 0M580.4 238.5a2.9 2.9 0 1 0-5.8 0a2.9 2.9 0 1 0 5.8 0M586.4 241.5a2.9 2.9 0 1 0-5.8 0a2.9 2.9 0 1 0 5.8 0M583.4 241.5a2.9 2.9 0 1 0-5.8 0a2.9 2.9 0 1 0 5.8 0M587.4 230.5a2.9 2.9 0 1 0-5.8 0a2.9 2.9 0 1 0 5.8 0M585.4 231.5a2.9 2.9 0 1 0-5.8 0a2.9 2.9 0 1 0 5.8 0M573.4 221.5a2.9 2.9 0 1 0-5.8 0a2.9 2.9 0 1 0 5.8 0M587.4 230.5a2.9 2.9 0 1 0-5.8 0a2.9 2.9 0 1 0 5.8 0M607.4 226.5a2.9 2.9 0 1 0-5.8 0a2.9 2.9 0 1 0 5.8 0M614.4 213.5a2.9 2.9 0 1 0-5.8 0a2.9 2.9 0 1 0 5.8 0M604.4 223.5a2.9 2.9 0 1 0-5.8 0a2.9 2.9 0 1 0 5.8 0M580.4 220.5a2.9 2.9 0 1 0-5.8 0a2.9 2.9 0 1 0 5.8 0M588.4 226.5a2.9 2.9 0 1 0-5.8 0a2.9 2.9 0 1 0 5.8 0M593.4 238.5a2.9 2.9 0 1 0-5.8 0a2.9 2.9 0 1 0 5.8 0M607.4 223.5a2.9 2.9 0 1 0-5.8 0a2.9 2.9 0 1 0 5.8 0M605.4 231.5a2.9 2.9 0 1 0-5.8 0a2.9 2.9 0 1 0 5.8 0M572.4 240.5a2.9 2.9 0 1 0-5.8 0a2.9 2.9 0 1 0 5.8 0M611.4 232.5a2.9 2.9 0 1 0-5.8 0a2.9 2.9 0 1 0 5.8 0M615.4 230.5a2.9 2.9 0 1 0-5.8 0a2.9 2.9 0 1 0 5.8 0M573.4 227.5a2.9 2.9 0 1 0-5.8 0a2.9 2.9 0 1 0 5.8 0M580.4 225.5a2.9 2.9 0 1 0-5.8 0a2.9 2.9 0 1 0 5.8 0M573.4 227.5a2.9 2.9 0 1 0-5.8 0a2.9 2.9 0 1 0 5.8 0M601.4 228.5a2.9 2.9 0 1 0-5.8 0a2.9 2.9 0 1 0 5.8 0M615.4 220.5a2.9 2.9 0 1 0-5.8 0a2.9 2.9 0 1 0 5.8 0M591.4 230.5a2.9 2.9 0 1 0-5.8 0a2.9 2.9 0 1 0 5.8 0M580.4 244.5a2.9 2.9 0 1 0-5.8 0a2.9 2.9 0 1 0 5.8 0M605.4 245.5a2.9 2.9 0 1 0-5.8 0a2.9 2.9 0 1 0 5.8 0M588.4 227.5a2.9 2.9 0 1 0-5.8 0a2.9 2.9 0 1 0 5.8 0M582.4 233.5a2.9 2.9 0 1 0-5.8 0a2.9 2.9 0 1 0 5.8 0M613.4 209.5a2.9 2.9 0 1 0-5.8 0a2.9 2.9 0 1 0 5.8 0M586.4 227.5a2.9 2.9 0 1 0-5.8 0a2.9 2.9 0 1 0 5.8 0M578.4 219.5a2.9 2.9 0 1 0-5.8 0a2.9 2.9 0 1 0 5.8 0M573.4 218.5a2.9 2.9 0 1 0-5.8 0a2.9 2.9 0 1 0 5.8 0M573.4 242.5a2.9 2.9 0 1 0-5.8 0a2.9 2.9 0 1 0 5.8 0M600.4 227.5a2.9 2.9 0 1 0-5.8 0a2.9 2.9 0 1 0 5.8 0M585.4 234.5a2.9 2.9 0 1 0-5.8 0a2.9 2.9 0 1 0 5.8 0M586.4 240.5a2.9 2.9 0 1 0-5.8 0a2.9 2.9 0 1 0 5.8 0M609.4 216.5a2.9 2.9 0 1 0-5.8 0a2.9 2.9 0 1 0 5.8 0M615.4 216.5a2.9 2.9 0 1 0-5.8 0a2.9 2.9 0 1 0 5.8 0M613.4 231.5a2.9 2.9 0 1 0-5.8 0a2.9 2.9 0 1 0 5.8 0M604.4 226.5a2.9 2.9 0 1 0-5.8 0a2.9 2.9 0 1 0 5.8 0M603.4 224.5a2.9 2.9 0 1 0-5.8 0a2.9 2.9 0 1 0 5.8 0M594.4 233.5a2.9 2.9 0 1 0-5.8 0a2.9 2.9 0 1 0 5.8 0M607.4 244.5a2.9 2.9 0 1 0-5.8 0a2.9 2.9 0 1 0 5.8 0M600.4 240.5a2.9 2.9 0 1 0-5.8 0a2.9 2.9 0 1 0 5.8 0M612.4 210.5a2.9 2.9 0 1 0-5.8 0a2.9 2.9 0 1 0 5.8 0M612.4 211.5a2.9 2.9 0 1 0-5.8 0a2.9 2.9 0 1 0 5.8 0M608.4 245.5a2.9 2.9 0 1 0-5.8 0a2.9 2.9 0 1 0 5.8 0M589.4 239.5a2.9 2.9 0 1 0-5.8 0a2.9 2.9 0 1 0 5.8 0M579.4 242.5a2.9 2.9 0 1 0-5.8 0a2.9 2.9 0 1 0 5.8 0M594.4 241.5a2.9 2.9 0 1 0-5.8 0a2.9 2.9 0 1 0 5.8 0M580.4 216.5a2.9 2.9 0 1 0-5.8 0a2.9 2.9 0 1 0 5.8 0M576.4 231.5a2.9 2.9 0 1 0-5.8 0a2.9 2.9 0 1 0 5.8 0M611.4 229.5a2.9 2.9 0 1 0-5.8 0a2.9 2.9 0 1 0 5.8 0M586.4 227.5a2.9 2.9 0 1 0-5.8 0a2.9 2.9 0 1 0 5.8 0M584.4 222.5a2.9 2.9 0 1 0-5.8 0a2.9 2.9 0 1 0 5.8 0M606.4 223.5a2.9 2.9 0 1 0-5.8 0a2.9 2.9 0 1 0 5.8 0M610.4 212.5a2.9 2.9 0 1 0-5.8 0a2.9 2.9 0 1 0 5.8 0M604.4 228.5a2.9 2.9 0 1 0-5.8 0a2.9 2.9 0 1 0 5.8 0M584.4 244.5a2.9 2.9 0 1 0-5.8 0a2.9 2.9 0 1 0 5.8 0M595.4 227.5a2.9 2.9 0 1 0-5.8 0a2.9 2.9 0 1 0 5.8 0M593.4 235.5a2.9 2.9 0 1 0-5.8 0a2.9 2.9 0 1 0 5.8 0M587.4 232.5a2.9 2.9 0 1 0-5.8 0a2.9 2.9 0 1 0 5.8 0M582.4 236.5a2.9 2.9 0 1 0-5.8 0a2.9 2.9 0 1 0 5.8 0M607.4 228.5a2.9 2.9 0 1 0-5.8 0a2.9 2.9 0 1 0 5.8 0M612.4 223.5a2.9 2.9 0 1 0-5.8 0a2.9 2.9 0 1 0 5.8 0M588.4 237.5a2.9 2.9 0 1 0-5.8 0a2.9 2.9 0 1 0 5.8 0M606.4 224.5a2.9 2.9 0 1 0-5.8 0a2.9 2.9 0 1 0 5.8 0M591.4 231.5a2.9 2.9 0 1 0-5.8 0a2.9 2.9 0 1 0 5.8 0M573.4 228.5a2.9 2.9 0 1 0-5.8 0a2.9 2.9 0 1 0 5.8 0M609.4 212.5a2.9 2.9 0 1 0-5.8 0a2.9 2.9 0 1 0 5.8 0M574.4 227.5a2.9 2.9 0 1 0-5.8 0a2.9 2.9 0 1 0 5.8 0M578.4 220.5a2.9 2.9 0 1 0-5.8 0a2.9 2.9 0 1 0 5.8 0M583.4 243.5a2.9 2.9 0 1 0-5.8 0a2.9 2.9 0 1 0 5.8 0M599.4 229.5a2.9 2.9 0 1 0-5.8 0a2.9 2.9 0 1 0 5.8 0M574.4 238.5a2.9 2.9 0 1 0-5.8 0a2.9 2.9 0 1 0 5.8 0M615.4 216.5a2.9 2.9 0 1 0-5.8 0a2.9 2.9 0 1 0 5.8 0M609.4 216.5a2.9 2.9 0 1 0-5.8 0a2.9 2.9 0 1 0 5.8 0M578.4 241.5a2.9 2.9 0 1 0-5.8 0a2.9 2.9 0 1 0 5.8 0M601.4 225.5a2.9 2.9 0 1 0-5.8 0a2.9 2.9 0 1 0 5.8 0M582.4 245.5a2.9 2.9 0 1 0-5.8 0a2.9 2.9 0 1 0 5.8 0M586.4 236.5a2.9 2.9 0 1 0-5.8 0a2.9 2.9 0 1 0 5.8 0M615.4 223.5a2.9 2.9 0 1 0-5.8 0a2.9 2.9 0 1 0 5.8 0M582.4 216.5a2.9 2.9 0 1 0-5.8 0a2.9 2.9 0 1 0 5.8 0M572.4 225.5a2.9 2.9 0 1 0-5.8 0a2.9 2.9 0 1 0 5.8 0M613.4 236.5a2.9 2.9 0 1 0-5.8 0a2.9 2.9 0 1 0 5.8 0M586.4 219.5a2.9 2.9 0 1 0-5.8 0a2.9 2.9 0 1 0 5.8 0M607.4 239.5a2.9 2.9 0 1 0-5.8 0a2.9 2.9 0 1 0 5.8 0M585.4 217.5a2.9 2.9 0 1 0-5.8 0a2.9 2.9 0 1 0 5.8 0M582.4 239.5a2.9 2.9 0 1 0-5.8 0a2.9 2.9 0 1 0 5.8 0M592.4 234.5a2.9 2.9 0 1 0-5.8 0a2.9 2.9 0 1 0 5.8 0M601.4 239.5a2.9 2.9 0 1 0-5.8 0a2.9 2.9 0 1 0 5.8 0M609.4 230.5a2.9 2.9 0 1 0-5.8 0a2.9 2.9 0 1 0 5.8 0M602.4 234.5a2.9 2.9 0 1 0-5.8 0a2.9 2.9 0 1 0 5.8 0M609.4 239.5a2.9 2.9 0 1 0-5.8 0a2.9 2.9 0 1 0 5.8 0M612.4 240.5a2.9 2.9 0 1 0-5.8 0a2.9 2.9 0 1 0 5.8 0M582.4 236.5a2.9 2.9 0 1 0-5.8 0a2.9 2.9 0 1 0 5.8 0M587.4 237.5a2.9 2.9 0 1 0-5.8 0a2.9 2.9 0 1 0 5.8 0M596.4 230.5a2.9 2.9 0 1 0-5.8 0a2.9 2.9 0 1 0 5.8 0M610.4 243.5a2.9 2.9 0 1 0-5.8 0a2.9 2.9 0 1 0 5.8 0M586.4 225.5a2.9 2.9 0 1 0-5.8 0a2.9 2.9 0 1 0 5.8 0M597.4 234.5a2.9 2.9 0 1 0-5.8 0a2.9 2.9 0 1 0 5.8 0M574.4 245.5a2.9 2.9 0 1 0-5.8 0a2.9 2.9 0 1 0 5.8 0M603.4 220.5a2.9 2.9 0 1 0-5.8 0a2.9 2.9 0 1 0 5.8 0M600.4 229.5a2.9 2.9 0 1 0-5.8 0a2.9 2.9 0 1 0 5.8 0M592.4 227.5a2.9 2.9 0 1 0-5.8 0a2.9 2.9 0 1 0 5.8 0M608.4 223.5a2.9 2.9 0 1 0-5.8 0a2.9 2.9 0 1 0 5.8 0M605.4 230.5a2.9 2.9 0 1 0-5.8 0a2.9 2.9 0 1 0 5.8 0M611.4 211.5a2.9 2.9 0 1 0-5.8 0a2.9 2.9 0 1 0 5.8 0M572.4 228.5a2.9 2.9 0 1 0-5.8 0a2.9 2.9 0 1 0 5.8 0M611.4 229.5a2.9 2.9 0 1 0-5.8 0a2.9 2.9 0 1 0 5.8 0M589.4 229.5a2.9 2.9 0 1 0-5.8 0a2.9 2.9 0 1 0 5.8 0M590.4 226.5a2.9 2.9 0 1 0-5.8 0a2.9 2.9 0 1 0 5.8 0M574.4 246.5a2.9 2.9 0 1 0-5.8 0a2.9 2.9 0 1 0 5.8 0M597.4 236.5a2.9 2.9 0 1 0-5.8 0a2.9 2.9 0 1 0 5.8 0M611.4 211.5a2.9 2.9 0 1 0-5.8 0a2.9 2.9 0 1 0 5.8 0M588.4 240.5a2.9 2.9 0 1 0-5.8 0a2.9 2.9 0 1 0 5.8 0M597.4 235.5a2.9 2.9 0 1 0-5.8 0a2.9 2.9 0 1 0 5.8 0M611.4 212.5a2.9 2.9 0 1 0-5.8 0a2.9 2.9 0 1 0 5.8 0M608.4 229.5a2.9 2.9 0 1 0-5.8 0a2.9 2.9 0 1 0 5.8 0M574.4 238.5a2.9 2.9 0 1 0-5.8 0a2.9 2.9 0 1 0 5.8 0M603.4 220.5a2.9 2.9 0 1 0-5.8 0a2.9 2.9 0 1 0 5.8 0M612.4 216.5a2.9 2.9 0 1 0-5.8 0a2.9 2.9 0 1 0 5.8 0M580.4 216.5a2.9 2.9 0 1 0-5.8 0a2.9 2.9 0 1 0 5.8 0M580.4 244.5a2.9 2.9 0 1 0-5.8 0a2.9 2.9 0 1 0 5.8 0M572.4 235.5a2.9 2.9 0 1 0-5.8 0a2.9 2.9 0 1 0 5.8 0M594.4 236.5a2.9 2.9 0 1 0-5.8 0a2.9 2.9 0 1 0 5.8 0M611.4 214.5a2.9 2.9 0 1 0-5.8 0a2.9 2.9 0 1 0 5.8 0M613.4 238.5a2.9 2.9 0 1 0-5.8 0a2.9 2.9 0 1 0 5.8 0M587.4 228.5a2.9 2.9 0 1 0-5.8 0a2.9 2.9 0 1 0 5.8 0M580.4 216.5a2.9 2.9 0 1 0-5.8 0a2.9 2.9 0 1 0 5.8 0M581.4 244.5a2.9 2.9 0 1 0-5.8 0a2.9 2.9 0 1 0 5.8 0M581.4 233.5a2.9 2.9 0 1 0-5.8 0a2.9 2.9 0 1 0 5.8 0M581.4 244.5a2.9 2.9 0 1 0-5.8 0a2.9 2.9 0 1 0 5.8 0M611.4 227.5a2.9 2.9 0 1 0-5.8 0a2.9 2.9 0 1 0 5.8 0M614.4 236.5a2.9 2.9 0 1 0-5.8 0a2.9 2.9 0 1 0 5.8 0M611.4 228.5a2.9 2.9 0 1 0-5.8 0a2.9 2.9 0 1 0 5.8 0M609.4 245.5a2.9 2.9 0 1 0-5.8 0a2.9 2.9 0 1 0 5.8 0M590.4 242.5a2.9 2.9 0 1 0-5.8 0a2.9 2.9 0 1 0 5.8 0M612.4 219.5a2.9 2.9 0 1 0-5.8 0a2.9 2.9 0 1 0 5.8 0M605.4 238.5a2.9 2.9 0 1 0-5.8 0a2.9 2.9 0 1 0 5.8 0M573.4 220.5a2.9 2.9 0 1 0-5.8 0a2.9 2.9 0 1 0 5.8 0M583.4 228.5a2.9 2.9 0 1 0-5.8 0a2.9 2.9 0 1 0 5.8 0M587.4 223.5a2.9 2.9 0 1 0-5.8 0a2.9 2.9 0 1 0 5.8 0M583.4 233.5a2.9 2.9 0 1 0-5.8 0a2.9 2.9 0 1 0 5.8 0M583.4 242.5a2.9 2.9 0 1 0-5.8 0a2.9 2.9 0 1 0 5.8 0M610.4 225.5a2.9 2.9 0 1 0-5.8 0a2.9 2.9 0 1 0 5.8 0M584.4 233.5a2.9 2.9 0 1 0-5.8 0a2.9 2.9 0 1 0 5.8 0M611.4 239.5a2.9 2.9 0 1 0-5.8 0a2.9 2.9 0 1 0 5.8 0M580.4 215.5a2.9 2.9 0 1 0-5.8 0a2.9 2.9 0 1 0 5.8 0M573.4 260.5a2.9 2.9 0 1 0-5.8 0a2.9 2.9 0 1 0 5.8 0M608.4 253.5a2.9 2.9 0 1 0-5.8 0a2.9 2.9 0 1 0 5.8 0M607.4 250.5a2.9 2.9 0 1 0-5.8 0a2.9 2.9 0 1 0 5.8 0M593.4 249.5a2.9 2.9 0 1 0-5.8 0a2.9 2.9 0 1 0 5.8 0M610.4 250.5a2.9 2.9 0 1 0-5.8 0a2.9 2.9 0 1 0 5.8 0M596.4 244.5a2.9 2.9 0 1 0-5.8 0a2.9 2.9 0 1 0 5.8 0M590.4 257.5a2.9 2.9 0 1 0-5.8 0a2.9 2.9 0 1 0 5.8 0M582.4 249.5a2.9 2.9 0 1 0-5.8 0a2.9 2.9 0 1 0 5.8 0M588.4 250.5a2.9 2.9 0 1 0-5.8 0a2.9 2.9 0 1 0 5.8 0M604.4 253.5a2.9 2.9 0 1 0-5.8 0a2.9 2.9 0 1 0 5.8 0M578.4 251.5a2.9 2.9 0 1 0-5.8 0a2.9 2.9 0 1 0 5.8 0M591.4 258.5a2.9 2.9 0 1 0-5.8 0a2.9 2.9 0 1 0 5.8 0M579.4 256.5a2.9 2.9 0 1 0-5.8 0a2.9 2.9 0 1 0 5.8 0M612.4 247.5a2.9 2.9 0 1 0-5.8 0a2.9 2.9 0 1 0 5.8 0M587.4 258.5a2.9 2.9 0 1 0-5.8 0a2.9 2.9 0 1 0 5.8 0M587.4 244.5a2.9 2.9 0 1 0-5.8 0a2.9 2.9 0 1 0 5.8 0M593.4 249.5a2.9 2.9 0 1 0-5.8 0a2.9 2.9 0 1 0 5.8 0M606.4 252.5a2.9 2.9 0 1 0-5.8 0a2.9 2.9 0 1 0 5.8 0M578.4 262.5a2.9 2.9 0 1 0-5.8 0a2.9 2.9 0 1 0 5.8 0M599.4 248.5a2.9 2.9 0 1 0-5.8 0a2.9 2.9 0 1 0 5.8 0M588.4 250.5a2.9 2.9 0 1 0-5.8 0a2.9 2.9 0 1 0 5.8 0M575.4 251.5a2.9 2.9 0 1 0-5.8 0a2.9 2.9 0 1 0 5.8 0M613.4 255.5a2.9 2.9 0 1 0-5.8 0a2.9 2.9 0 1 0 5.8 0M584.4 252.5a2.9 2.9 0 1 0-5.8 0a2.9 2.9 0 1 0 5.8 0M571.4 259.5a2.9 2.9 0 1 0-5.8 0a2.9 2.9 0 1 0 5.8 0M608.4 252.5a2.9 2.9 0 1 0-5.8 0a2.9 2.9 0 1 0 5.8 0M606.4 258.5a2.9 2.9 0 1 0-5.8 0a2.9 2.9 0 1 0 5.8 0M582.4 247.5a2.9 2.9 0 1 0-5.8 0a2.9 2.9 0 1 0 5.8 0M590.4 253.5a2.9 2.9 0 1 0-5.8 0a2.9 2.9 0 1 0 5.8 0M610.4 254.5a2.9 2.9 0 1 0-5.8 0a2.9 2.9 0 1 0 5.8 0M579.4 257.5a2.9 2.9 0 1 0-5.8 0a2.9 2.9 0 1 0 5.8 0M583.4 250.5a2.9 2.9 0 1 0-5.8 0a2.9 2.9 0 1 0 5.8 0M601.4 248.5a2.9 2.9 0 1 0-5.8 0a2.9 2.9 0 1 0 5.8 0M572.4 251.5a2.9 2.9 0 1 0-5.8 0a2.9 2.9 0 1 0 5.8 0M606.4 261.5a2.9 2.9 0 1 0-5.8 0a2.9 2.9 0 1 0 5.8 0M585.4 250.5a2.9 2.9 0 1 0-5.8 0a2.9 2.9 0 1 0 5.8 0M613.4 257.5a2.9 2.9 0 1 0-5.8 0a2.9 2.9 0 1 0 5.8 0M595.4 245.5a2.9 2.9 0 1 0-5.8 0a2.9 2.9 0 1 0 5.8 0M580.4 255.5a2.9 2.9 0 1 0-5.8 0a2.9 2.9 0 1 0 5.8 0M583.4 260.5a2.9 2.9 0 1 0-5.8 0a2.9 2.9 0 1 0 5.8 0M604.4 252.5a2.9 2.9 0 1 0-5.8 0a2.9 2.9 0 1 0 5.8 0M584.4 252.5a2.9 2.9 0 1 0-5.8 0a2.9 2.9 0 1 0 5.8 0M583.4 251.5a2.9 2.9 0 1 0-5.8 0a2.9 2.9 0 1 0 5.8 0M588.4 271.5a2.9 2.9 0 1 0-5.8 0a2.9 2.9 0 1 0 5.8 0M596.4 274.5a2.9 2.9 0 1 0-5.8 0a2.9 2.9 0 1 0 5.8 0M599.4 274.5a2.9 2.9 0 1 0-5.8 0a2.9 2.9 0 1 0 5.8 0M580.4 263.5a2.9 2.9 0 1 0-5.8 0a2.9 2.9 0 1 0 5.8 0M575.4 266.5a2.9 2.9 0 1 0-5.8 0a2.9 2.9 0 1 0 5.8 0M594.4 270.5a2.9 2.9 0 1 0-5.8 0a2.9 2.9 0 1 0 5.8 0M579.4 267.5a2.9 2.9 0 1 0-5.8 0a2.9 2.9 0 1 0 5.8 0M581.4 267.5a2.9 2.9 0 1 0-5.8 0a2.9 2.9 0 1 0 5.8 0M208.4 160.5a2.9 2.9 0 1 0-5.8 0a2.9 2.9 0 1 0 5.8 0M210.4 163.5a2.9 2.9 0 1 0-5.8 0a2.9 2.9 0 1 0 5.8 0M207.4 172.5a2.9 2.9 0 1 0-5.8 0a2.9 2.9 0 1 0 5.8 0M208.4 146.5a2.9 2.9 0 1 0-5.8 0a2.9 2.9 0 1 0 5.8 0M211.4 168.5a2.9 2.9 0 1 0-5.8 0a2.9 2.9 0 1 0 5.8 0M208.4 149.5a2.9 2.9 0 1 0-5.8 0a2.9 2.9 0 1 0 5.8 0M207.4 153.5a2.9 2.9 0 1 0-5.8 0a2.9 2.9 0 1 0 5.8 0M207.4 179.5a2.9 2.9 0 1 0-5.8 0a2.9 2.9 0 1 0 5.8 0M209.4 201.5a2.9 2.9 0 1 0-5.8 0a2.9 2.9 0 1 0 5.8 0M208.4 197.5a2.9 2.9 0 1 0-5.8 0a2.9 2.9 0 1 0 5.8 0M210.4 144.5a2.9 2.9 0 1 0-5.8 0a2.9 2.9 0 1 0 5.8 0M207.4 154.5a2.9 2.9 0 1 0-5.8 0a2.9 2.9 0 1 0 5.8 0M210.4 193.5a2.9 2.9 0 1 0-5.8 0a2.9 2.9 0 1 0 5.8 0M207.4 157.5a2.9 2.9 0 1 0-5.8 0a2.9 2.9 0 1 0 5.8 0M207.4 185.5a2.9 2.9 0 1 0-5.8 0a2.9 2.9 0 1 0 5.8 0M208.4 207.5a2.9 2.9 0 1 0-5.8 0a2.9 2.9 0 1 0 5.8 0M210.4 160.5a2.9 2.9 0 1 0-5.8 0a2.9 2.9 0 1 0 5.8 0M208.4 176.5a2.9 2.9 0 1 0-5.8 0a2.9 2.9 0 1 0 5.8 0M208.4 197.5a2.9 2.9 0 1 0-5.8 0a2.9 2.9 0 1 0 5.8 0M207.4 202.5a2.9 2.9 0 1 0-5.8 0a2.9 2.9 0 1 0 5.8 0M209.4 168.5a2.9 2.9 0 1 0-5.8 0a2.9 2.9 0 1 0 5.8 0M211.4 165.5a2.9 2.9 0 1 0-5.8 0a2.9 2.9 0 1 0 5.8 0M210.4 209.5a2.9 2.9 0 1 0-5.8 0a2.9 2.9 0 1 0 5.8 0M211.4 210.5a2.9 2.9 0 1 0-5.8 0a2.9 2.9 0 1 0 5.8 0M208.4 195.5a2.9 2.9 0 1 0-5.8 0a2.9 2.9 0 1 0 5.8 0M210.4 161.5a2.9 2.9 0 1 0-5.8 0a2.9 2.9 0 1 0 5.8 0M209.4 206.5a2.9 2.9 0 1 0-5.8 0a2.9 2.9 0 1 0 5.8 0M210.4 161.5a2.9 2.9 0 1 0-5.8 0a2.9 2.9 0 1 0 5.8 0M304.4 182.5a2.9 2.9 0 1 0-5.8 0a2.9 2.9 0 1 0 5.8 0M302.4 210.5a2.9 2.9 0 1 0-5.8 0a2.9 2.9 0 1 0 5.8 0M301.4 176.5a2.9 2.9 0 1 0-5.8 0a2.9 2.9 0 1 0 5.8 0M303.4 212.5a2.9 2.9 0 1 0-5.8 0a2.9 2.9 0 1 0 5.8 0M303.4 185.5a2.9 2.9 0 1 0-5.8 0a2.9 2.9 0 1 0 5.8 0M299.4 178.5a2.9 2.9 0 1 0-5.8 0a2.9 2.9 0 1 0 5.8 0M303.4 178.5a2.9 2.9 0 1 0-5.8 0a2.9 2.9 0 1 0 5.8 0M300.4 205.5a2.9 2.9 0 1 0-5.8 0a2.9 2.9 0 1 0 5.8 0M301.4 217.5a2.9 2.9 0 1 0-5.8 0a2.9 2.9 0 1 0 5.8 0M300.4 206.5a2.9 2.9 0 1 0-5.8 0a2.9 2.9 0 1 0 5.8 0M302.4 187.5a2.9 2.9 0 1 0-5.8 0a2.9 2.9 0 1 0 5.8 0M305.4 231.5a2.9 2.9 0 1 0-5.8 0a2.9 2.9 0 1 0 5.8 0M305.4 191.5a2.9 2.9 0 1 0-5.8 0a2.9 2.9 0 1 0 5.8 0M299.4 217.5a2.9 2.9 0 1 0-5.8 0a2.9 2.9 0 1 0 5.8 0M305.4 196.5a2.9 2.9 0 1 0-5.8 0a2.9 2.9 0 1 0 5.8 0M301.4 224.5a2.9 2.9 0 1 0-5.8 0a2.9 2.9 0 1 0 5.8 0M303.4 211.5a2.9 2.9 0 1 0-5.8 0a2.9 2.9 0 1 0 5.8 0M304.4 207.5a2.9 2.9 0 1 0-5.8 0a2.9 2.9 0 1 0 5.8 0M304.4 209.5a2.9 2.9 0 1 0-5.8 0a2.9 2.9 0 1 0 5.8 0M304.4 176.5a2.9 2.9 0 1 0-5.8 0a2.9 2.9 0 1 0 5.8 0M302.4 230.5a2.9 2.9 0 1 0-5.8 0a2.9 2.9 0 1 0 5.8 0M302.4 217.5a2.9 2.9 0 1 0-5.8 0a2.9 2.9 0 1 0 5.8 0M302.4 231.5a2.9 2.9 0 1 0-5.8 0a2.9 2.9 0 1 0 5.8 0M299.4 192.5a2.9 2.9 0 1 0-5.8 0a2.9 2.9 0 1 0 5.8 0M300.4 228.5a2.9 2.9 0 1 0-5.8 0a2.9 2.9 0 1 0 5.8 0M305.4 187.5a2.9 2.9 0 1 0-5.8 0a2.9 2.9 0 1 0 5.8 0M301.4 190.5a2.9 2.9 0 1 0-5.8 0a2.9 2.9 0 1 0 5.8 0M303.4 218.5a2.9 2.9 0 1 0-5.8 0a2.9 2.9 0 1 0 5.8 0M301.4 225.5a2.9 2.9 0 1 0-5.8 0a2.9 2.9 0 1 0 5.8 0M302.4 205.5a2.9 2.9 0 1 0-5.8 0a2.9 2.9 0 1 0 5.8 0M301.4 203.5a2.9 2.9 0 1 0-5.8 0a2.9 2.9 0 1 0 5.8 0M299.4 178.5a2.9 2.9 0 1 0-5.8 0a2.9 2.9 0 1 0 5.8 0M305.4 193.5a2.9 2.9 0 1 0-5.8 0a2.9 2.9 0 1 0 5.8 0M301.4 234.5a2.9 2.9 0 1 0-5.8 0a2.9 2.9 0 1 0 5.8 0M301.4 181.5a2.9 2.9 0 1 0-5.8 0a2.9 2.9 0 1 0 5.8 0M305.4 199.5a2.9 2.9 0 1 0-5.8 0a2.9 2.9 0 1 0 5.8 0M338.4 179.5a2.9 2.9 0 1 0-5.8 0a2.9 2.9 0 1 0 5.8 0M334.4 174.5a2.9 2.9 0 1 0-5.8 0a2.9 2.9 0 1 0 5.8 0M339.4 195.5a2.9 2.9 0 1 0-5.8 0a2.9 2.9 0 1 0 5.8 0M338.4 207.5a2.9 2.9 0 1 0-5.8 0a2.9 2.9 0 1 0 5.8 0M337.4 204.5a2.9 2.9 0 1 0-5.8 0a2.9 2.9 0 1 0 5.8 0M334.4 171.5a2.9 2.9 0 1 0-5.8 0a2.9 2.9 0 1 0 5.8 0M336.4 214.5a2.9 2.9 0 1 0-5.8 0a2.9 2.9 0 1 0 5.8 0M334.4 210.5a2.9 2.9 0 1 0-5.8 0a2.9 2.9 0 1 0 5.8 0M340.4 207.5a2.9 2.9 0 1 0-5.8 0a2.9 2.9 0 1 0 5.8 0M333.4 168.5a2.9 2.9 0 1 0-5.8 0a2.9 2.9 0 1 0 5.8 0M339.4 174.5a2.9 2.9 0 1 0-5.8 0a2.9 2.9 0 1 0 5.8 0M333.4 197.5a2.9 2.9 0 1 0-5.8 0a2.9 2.9 0 1 0 5.8 0M338.4 213.5a2.9 2.9 0 1 0-5.8 0a2.9 2.9 0 1 0 5.8 0M339.4 198.5a2.9 2.9 0 1 0-5.8 0a2.9 2.9 0 1 0 5.8 0M336.4 220.5a2.9 2.9 0 1 0-5.8 0a2.9 2.9 0 1 0 5.8 0M335.4 189.5a2.9 2.9 0 1 0-5.8 0a2.9 2.9 0 1 0 5.8 0M333.4 197.5a2.9 2.9 0 1 0-5.8 0a2.9 2.9 0 1 0 5.8 0M338.4 193.5a2.9 2.9 0 1 0-5.8 0a2.9 2.9 0 1 0 5.8 0M336.4 162.5a2.9 2.9 0 1 0-5.8 0a2.9 2.9 0 1 0 5.8 0M338.4 162.5a2.9 2.9 0 1 0-5.8 0a2.9 2.9 0 1 0 5.8 0M339.4 200.5a2.9 2.9 0 1 0-5.8 0a2.9 2.9 0 1 0 5.8 0M340.4 202.5a2.9 2.9 0 1 0-5.8 0a2.9 2.9 0 1 0 5.8 0M339.4 178.5a2.9 2.9 0 1 0-5.8 0a2.9 2.9 0 1 0 5.8 0M340.4 198.5a2.9 2.9 0 1 0-5.8 0a2.9 2.9 0 1 0 5.8 0M337.4 184.5a2.9 2.9 0 1 0-5.8 0a2.9 2.9 0 1 0 5.8 0M340.4 201.5a2.9 2.9 0 1 0-5.8 0a2.9 2.9 0 1 0 5.8 0M337.4 199.5a2.9 2.9 0 1 0-5.8 0a2.9 2.9 0 1 0 5.8 0M339.4 224.5a2.9 2.9 0 1 0-5.8 0a2.9 2.9 0 1 0 5.8 0M334.4 222.5a2.9 2.9 0 1 0-5.8 0a2.9 2.9 0 1 0 5.8 0M335.4 188.5a2.9 2.9 0 1 0-5.8 0a2.9 2.9 0 1 0 5.8 0M339.4 212.5a2.9 2.9 0 1 0-5.8 0a2.9 2.9 0 1 0 5.8 0M335.4 180.5a2.9 2.9 0 1 0-5.8 0a2.9 2.9 0 1 0 5.8 0M337.4 191.5a2.9 2.9 0 1 0-5.8 0a2.9 2.9 0 1 0 5.8 0M336.4 179.5a2.9 2.9 0 1 0-5.8 0a2.9 2.9 0 1 0 5.8 0M333.4 220.5a2.9 2.9 0 1 0-5.8 0a2.9 2.9 0 1 0 5.8 0M335.4 219.5a2.9 2.9 0 1 0-5.8 0a2.9 2.9 0 1 0 5.8 0M338.4 167.5a2.9 2.9 0 1 0-5.8 0a2.9 2.9 0 1 0 5.8 0M334.4 184.5a2.9 2.9 0 1 0-5.8 0a2.9 2.9 0 1 0 5.8 0M334.4 166.5a2.9 2.9 0 1 0-5.8 0a2.9 2.9 0 1 0 5.8 0M339.4 191.5a2.9 2.9 0 1 0-5.8 0a2.9 2.9 0 1 0 5.8 0M398.4 183.5a2.9 2.9 0 1 0-5.8 0a2.9 2.9 0 1 0 5.8 0M400.4 194.5a2.9 2.9 0 1 0-5.8 0a2.9 2.9 0 1 0 5.8 0M399.4 172.5a2.9 2.9 0 1 0-5.8 0a2.9 2.9 0 1 0 5.8 0M398.4 185.5a2.9 2.9 0 1 0-5.8 0a2.9 2.9 0 1 0 5.8 0M400.4 199.5a2.9 2.9 0 1 0-5.8 0a2.9 2.9 0 1 0 5.8 0M398.4 166.5a2.9 2.9 0 1 0-5.8 0a2.9 2.9 0 1 0 5.8 0M400.4 189.5a2.9 2.9 0 1 0-5.8 0a2.9 2.9 0 1 0 5.8 0M398.4 174.5a2.9 2.9 0 1 0-5.8 0a2.9 2.9 0 1 0 5.8 0M398.4 194.5a2.9 2.9 0 1 0-5.8 0a2.9 2.9 0 1 0 5.8 0M400.4 174.5a2.9 2.9 0 1 0-5.8 0a2.9 2.9 0 1 0 5.8 0M399.4 173.5a2.9 2.9 0 1 0-5.8 0a2.9 2.9 0 1 0 5.8 0M398.4 194.5a2.9 2.9 0 1 0-5.8 0a2.9 2.9 0 1 0 5.8 0M401.4 176.5a2.9 2.9 0 1 0-5.8 0a2.9 2.9 0 1 0 5.8 0M399.4 197.5a2.9 2.9 0 1 0-5.8 0a2.9 2.9 0 1 0 5.8 0M399.4 189.5a2.9 2.9 0 1 0-5.8 0a2.9 2.9 0 1 0 5.8 0M401.4 175.5a2.9 2.9 0 1 0-5.8 0a2.9 2.9 0 1 0 5.8 0M531.4 181.5a2.9 2.9 0 1 0-5.8 0a2.9 2.9 0 1 0 5.8 0M531.4 174.5a2.9 2.9 0 1 0-5.8 0a2.9 2.9 0 1 0 5.8 0M529.4 197.5a2.9 2.9 0 1 0-5.8 0a2.9 2.9 0 1 0 5.8 0M529.4 187.5a2.9 2.9 0 1 0-5.8 0a2.9 2.9 0 1 0 5.8 0M531.4 174.5a2.9 2.9 0 1 0-5.8 0a2.9 2.9 0 1 0 5.8 0M529.4 193.5a2.9 2.9 0 1 0-5.8 0a2.9 2.9 0 1 0 5.8 0M529.4 186.5a2.9 2.9 0 1 0-5.8 0a2.9 2.9 0 1 0 5.8 0M529.4 194.5a2.9 2.9 0 1 0-5.8 0a2.9 2.9 0 1 0 5.8 0M530.4 170.5a2.9 2.9 0 1 0-5.8 0a2.9 2.9 0 1 0 5.8 0M531.4 207.5a2.9 2.9 0 1 0-5.8 0a2.9 2.9 0 1 0 5.8 0M529.4 201.5a2.9 2.9 0 1 0-5.8 0a2.9 2.9 0 1 0 5.8 0M529.4 205.5a2.9 2.9 0 1 0-5.8 0a2.9 2.9 0 1 0 5.8 0M531.4 197.5a2.9 2.9 0 1 0-5.8 0a2.9 2.9 0 1 0 5.8 0M529.4 182.5a2.9 2.9 0 1 0-5.8 0a2.9 2.9 0 1 0 5.8 0M529.4 205.5a2.9 2.9 0 1 0-5.8 0a2.9 2.9 0 1 0 5.8 0M531.4 197.5a2.9 2.9 0 1 0-5.8 0a2.9 2.9 0 1 0 5.8 0M531.4 182.5a2.9 2.9 0 1 0-5.8 0a2.9 2.9 0 1 0 5.8 0M528.4 188.5a2.9 2.9 0 1 0-5.8 0a2.9 2.9 0 1 0 5.8 0M462.4 286.5a2.9 2.9 0 1 0-5.8 0a2.9 2.9 0 1 0 5.8 0M459.4 288.5a2.9 2.9 0 1 0-5.8 0a2.9 2.9 0 1 0 5.8 0M451.4 282.5a2.9 2.9 0 1 0-5.8 0a2.9 2.9 0 1 0 5.8 0M447.4 279.5a2.9 2.9 0 1 0-5.8 0a2.9 2.9 0 1 0 5.8 0M462.4 297.5a2.9 2.9 0 1 0-5.8 0a2.9 2.9 0 1 0 5.8 0M455.4 290.5a2.9 2.9 0 1 0-5.8 0a2.9 2.9 0 1 0 5.8 0M449.4 287.5a2.9 2.9 0 1 0-5.8 0a2.9 2.9 0 1 0 5.8 0M461.4 268.5a2.9 2.9 0 1 0-5.8 0a2.9 2.9 0 1 0 5.8 0M462.4 271.5a2.9 2.9 0 1 0-5.8 0a2.9 2.9 0 1 0 5.8 0M443.4 266.5a2.9 2.9 0 1 0-5.8 0a2.9 2.9 0 1 0 5.8 0M451.4 291.5a2.9 2.9 0 1 0-5.8 0a2.9 2.9 0 1 0 5.8 0M447.4 298.5a2.9 2.9 0 1 0-5.8 0a2.9 2.9 0 1 0 5.8 0M458.4 270.5a2.9 2.9 0 1 0-5.8 0a2.9 2.9 0 1 0 5.8 0M458.4 273.5a2.9 2.9 0 1 0-5.8 0a2.9 2.9 0 1 0 5.8 0M457.4 267.5a2.9 2.9 0 1 0-5.8 0a2.9 2.9 0 1 0 5.8 0M458.4 277.5a2.9 2.9 0 1 0-5.8 0a2.9 2.9 0 1 0 5.8 0M456.4 268.5a2.9 2.9 0 1 0-5.8 0a2.9 2.9 0 1 0 5.8 0M452.4 279.5a2.9 2.9 0 1 0-5.8 0a2.9 2.9 0 1 0 5.8 0M445.4 280.5a2.9 2.9 0 1 0-5.8 0a2.9 2.9 0 1 0 5.8 0M462.4 267.5a2.9 2.9 0 1 0-5.8 0a2.9 2.9 0 1 0 5.8 0M462.4 277.5a2.9 2.9 0 1 0-5.8 0a2.9 2.9 0 1 0 5.8 0M459.4 293.5a2.9 2.9 0 1 0-5.8 0a2.9 2.9 0 1 0 5.8 0M454.4 286.5a2.9 2.9 0 1 0-5.8 0a2.9 2.9 0 1 0 5.8 0M462.4 281.5a2.9 2.9 0 1 0-5.8 0a2.9 2.9 0 1 0 5.8 0M459.4 282.5a2.9 2.9 0 1 0-5.8 0a2.9 2.9 0 1 0 5.8 0" fill="none" stroke="#BEBEBE" stroke-width="1" shape-rendering="crispEdges"/><path d="M144.4 137.5a2.9 2.9 0 1 0-5.8 0a2.9 2.9 0 1 0 5.8 0M144.4 159.5a2.9 2.9 0 1 0-5.8 0a2.9 2.9 0 1 0 5.8 0M144.4 166.5a2.9 2.9 0 1 0-5.8 0a2.9 2.9 0 1 0 5.8 0M145.4 170.5a2.9 2.9 0 1 0-5.8 0a2.9 2.9 0 1 0 5.8 0M144.4 177.5a2.9 2.9 0 1 0-5.8 0a2.9 2.9 0 1 0 5.8 0M207.4 138.5a2.9 2.9 0 1 0-5.8 0a2.9 2.9 0 1 0 5.8 0M208.4 143.5a2.9 2.9 0 1 0-5.8 0a2.9 2.9 0 1 0 5.8 0M209.4 148.5a2.9 2.9 0 1 0-5.8 0a2.9 2.9 0 1 0 5.8 0M208.4 152.5a2.9 2.9 0 1 0-5.8 0a2.9 2.9 0 1 0 5.8 0M209.4 156.5a2.9 2.9 0 1 0-5.8 0a2.9 2.9 0 1 0 5.8 0M208.4 163.5a2.9 2.9 0 1 0-5.8 0a2.9 2.9 0 1 0 5.8 0M209.4 167.5a2.9 2.9 0 1 0-5.8 0a2.9 2.9 0 1 0 5.8 0M208.4 171.5a2.9 2.9 0 1 0-5.8 0a2.9 2.9 0 1 0 5.8 0M209.4 175.5a2.9 2.9 0 1 0-5.8 0a2.9 2.9 0 1 0 5.8 0M339.4 89.5a2.9 2.9 0 1 0-5.8 0a2.9 2.9 0 1 0 5.8 0M339.4 109.5a2.9 2.9 0 1 0-5.8 0a2.9 2.9 0 1 0 5.8 0M339.4 112.5a2.9 2.9 0 1 0-5.8 0a2.9 2.9 0 1 0 5.8 0M339.4 120.5a2.9 2.9 0 1 0-5.8 0a2.9 2.9 0 1 0 5.8 0M338.4 136.5a2.9 2.9 0 1 0-5.8 0a2.9 2.9 0 1 0 5.8 0M339.4 142.5a2.9 2.9 0 1 0-5.8 0a2.9 2.9 0 1 0 5.8 0M338.4 151.5a2.9 2.9 0 1 0-5.8 0a2.9 2.9 0 1 0 5.8 0M337.4 153.5a2.9 2.9 0 1 0-5.8 0a2.9 2.9 0 1 0 5.8 0M340.4 156.5a2.9 2.9 0 1 0-5.8 0a2.9 2.9 0 1 0 5.8 0M335.4 162.5a2.9 2.9 0 1 0-5.8 0a2.9 2.9 0 1 0 5.8 0M336.4 165.5a2.9 2.9 0 1 0-5.8 0a2.9 2.9 0 1 0 5.8 0M337.4 169.5a2.9 2.9 0 1 0-5.8 0a2.9 2.9 0 1 0 5.8 0M339.4 171.5a2.9 2.9 0 1 0-5.8 0a2.9 2.9 0 1 0 5.8 0M335.4 175.5a2.9 2.9 0 1 0-5.8 0a2.9 2.9 0 1 0 5.8 0M340.4 175.5a2.9 2.9 0 1 0-5.8 0a2.9 2.9 0 1 0 5.8 0M337.4 178.5a2.9 2.9 0 1 0-5.8 0a2.9 2.9 0 1 0 5.8 0M305.4 136.5a2.9 2.9 0 1 0-5.8 0a2.9 2.9 0 1 0 5.8 0M300.4 147.5a2.9 2.9 0 1 0-5.8 0a2.9 2.9 0 1 0 5.8 0M300.4 165.5a2.9 2.9 0 1 0-5.8 0a2.9 2.9 0 1 0 5.8 0M305.4 163.5a2.9 2.9 0 1 0-5.8 0a2.9 2.9 0 1 0 5.8 0M397.4 134.5a2.9 2.9 0 1 0-5.8 0a2.9 2.9 0 1 0 5.8 0M397.4 165.5a2.9 2.9 0 1 0-5.8 0a2.9 2.9 0 1 0 5.8 0M399.4 170.5a2.9 2.9 0 1 0-5.8 0a2.9 2.9 0 1 0 5.8 0M397.4 173.5a2.9 2.9 0 1 0-5.8 0a2.9 2.9 0 1 0 5.8 0M400.4 178.5a2.9 2.9 0 1 0-5.8 0a2.9 2.9 0 1 0 5.8 0M370.4 169.5a2.9 2.9 0 1 0-5.8 0a2.9 2.9 0 1 0 5.8 0M431.4 149.5a2.9 2.9 0 1 0-5.8 0a2.9 2.9 0 1 0 5.8 0M433.4 153.5a2.9 2.9 0 1 0-5.8 0a2.9 2.9 0 1 0 5.8 0M437.4 150.5a2.9 2.9 0 1 0-5.8 0a2.9 2.9 0 1 0 5.8 0M436.4 164.5a2.9 2.9 0 1 0-5.8 0a2.9 2.9 0 1 0 5.8 0M431.4 168.5a2.9 2.9 0 1 0-5.8 0a2.9 2.9 0 1 0 5.8 0M437.4 173.5a2.9 2.9 0 1 0-5.8 0a2.9 2.9 0 1 0 5.8 0M436.4 176.5a2.9 2.9 0 1 0-5.8 0a2.9 2.9 0 1 0 5.8 0M431.4 178.5a2.9 2.9 0 1 0-5.8 0a2.9 2.9 0 1 0 5.8 0M466.4 138.5a2.9 2.9 0 1 0-5.8 0a2.9 2.9 0 1 0 5.8 0M466.4 167.5a2.9 2.9 0 1 0-5.8 0a2.9 2.9 0 1 0 5.8 0M467.4 171.5a2.9 2.9 0 1 0-5.8 0a2.9 2.9 0 1 0 5.8 0M467.4 174.5a2.9 2.9 0 1 0-5.8 0a2.9 2.9 0 1 0 5.8 0M467.4 178.5a2.9 2.9 0 1 0-5.8 0a2.9 2.9 0 1 0 5.8 0M495.4 151.5a2.9 2.9 0 1 0-5.8 0a2.9 2.9 0 1 0 5.8 0M496.4 176.5a2.9 2.9 0 1 0-5.8 0a2.9 2.9 0 1 0 5.8 0M530.4 158.5a2.9 2.9 0 1 0-5.8 0a2.9 2.9 0 1 0 5.8 0M531.4 161.5a2.9 2.9 0 1 0-5.8 0a2.9 2.9 0 1 0 5.8 0M530.4 174.5a2.9 2.9 0 1 0-5.8 0a2.9 2.9 0 1 0 5.8 0M531.4 176.5a2.9 2.9 0 1 0-5.8 0a2.9 2.9 0 1 0 5.8 0M530.4 179.5a2.9 2.9 0 1 0-5.8 0a2.9 2.9 0 1 0 5.8 0M111.4 189.5a2.9 2.9 0 1 0-5.8 0a2.9 2.9 0 1 0 5.8 0M114.4 200.5a2.9 2.9 0 1 0-5.8 0a2.9 2.9 0 1 0 5.8 0M108.4 208.5a2.9 2.9 0 1 0-5.8 0a2.9 2.9 0 1 0 5.8 0M114.4 206.5a2.9 2.9 0 1 0-5.8 0a2.9 2.9 0 1 0 5.8 0M145.4 184.5a2.9 2.9 0 1 0-5.8 0a2.9 2.9 0 1 0 5.8 0M145.4 181.5a2.9 2.9 0 1 0-5.8 0a2.9 2.9 0 1 0 5.8 0M145.4 202.5a2.9 2.9 0 1 0-5.8 0a2.9 2.9 0 1 0 5.8 0M147.4 206.5a2.9 2.9 0 1 0-5.8 0a2.9 2.9 0 1 0 5.8 0M141.4 211.5a2.9 2.9 0 1 0-5.8 0a2.9 2.9 0 1 0 5.8 0M147.4 212.5a2.9 2.9 0 1 0-5.8 0a2.9 2.9 0 1 0 5.8 0M177.4 193.5a2.9 2.9 0 1 0-5.8 0a2.9 2.9 0 1 0 5.8 0M177.4 206.5a2.9 2.9 0 1 0-5.8 0a2.9 2.9 0 1 0 5.8 0M177.4 209.5a2.9 2.9 0 1 0-5.8 0a2.9 2.9 0 1 0 5.8 0M175.4 219.5a2.9 2.9 0 1 0-5.8 0a2.9 2.9 0 1 0 5.8 0M208.4 184.5a2.9 2.9 0 1 0-5.8 0a2.9 2.9 0 1 0 5.8 0M210.4 186.5a2.9 2.9 0 1 0-5.8 0a2.9 2.9 0 1 0 5.8 0M207.4 191.5a2.9 2.9 0 1 0-5.8 0a2.9 2.9 0 1 0 5.8 0M209.4 193.5a2.9 2.9 0 1 0-5.8 0a2.9 2.9 0 1 0 5.8 0M207.4 197.5a2.9 2.9 0 1 0-5.8 0a2.9 2.9 0 1 0 5.8 0M208.4 201.5a2.9 2.9 0 1 0-5.8 0a2.9 2.9 0 1 0 5.8 0M209.4 206.5a2.9 2.9 0 1 0-5.8 0a2.9 2.9 0 1 0 5.8 0M206.4 215.5a2.9 2.9 0 1 0-5.8 0a2.9 2.9 0 1 0 5.8 0M207.4 219.5a2.9 2.9 0 1 0-5.8 0a2.9 2.9 0 1 0 5.8 0M196.4 220.5a2.9 2.9 0 1 0-5.8 0a2.9 2.9 0 1 0 5.8 0M189.4 230.5a2.9 2.9 0 1 0-5.8 0a2.9 2.9 0 1 0 5.8 0M273.4 189.5a2.9 2.9 0 1 0-5.8 0a2.9 2.9 0 1 0 5.8 0M274.4 194.5a2.9 2.9 0 1 0-5.8 0a2.9 2.9 0 1 0 5.8 0M273.4 205.5a2.9 2.9 0 1 0-5.8 0a2.9 2.9 0 1 0 5.8 0M271.4 208.5a2.9 2.9 0 1 0-5.8 0a2.9 2.9 0 1 0 5.8 0M277.4 207.5a2.9 2.9 0 1 0-5.8 0a2.9 2.9 0 1 0 5.8 0M268.4 212.5a2.9 2.9 0 1 0-5.8 0a2.9 2.9 0 1 0 5.8 0M275.4 213.5a2.9 2.9 0 1 0-5.8 0a2.9 2.9 0 1 0 5.8 0M240.4 218.5a2.9 2.9 0 1 0-5.8 0a2.9 2.9 0 1 0 5.8 0M241.4 224.5a2.9 2.9 0 1 0-5.8 0a2.9 2.9 0 1 0 5.8 0M240.4 230.5a2.9 2.9 0 1 0-5.8 0a2.9 2.9 0 1 0 5.8 0M232.4 230.5a2.9 2.9 0 1 0-5.8 0a2.9 2.9 0 1 0 5.8 0M225.4 229.5a2.9 2.9 0 1 0-5.8 0a2.9 2.9 0 1 0 5.8 0M335.4 182.5a2.9 2.9 0 1 0-5.8 0a2.9 2.9 0 1 0 5.8 0M340.4 184.5a2.9 2.9 0 1 0-5.8 0a2.9 2.9 0 1 0 5.8 0M335.4 188.5a2.9 2.9 0 1 0-5.8 0a2.9 2.9 0 1 0 5.8 0M331.4 193.5a2.9 2.9 0 1 0-5.8 0a2.9 2.9 0 1 0 5.8 0M337.4 194.5a2.9 2.9 0 1 0-5.8 0a2.9 2.9 0 1 0 5.8 0M341.4 197.5a2.9 2.9 0 1 0-5.8 0a2.9 2.9 0 1 0 5.8 0M331.4 210.5a2.9 2.9 0 1 0-5.8 0a2.9 2.9 0 1 0 5.8 0M340.4 211.5a2.9 2.9 0 1 0-5.8 0a2.9 2.9 0 1 0 5.8 0M329.4 275.5a2.9 2.9 0 1 0-5.8 0a2.9 2.9 0 1 0 5.8 0M350.4 275.5a2.9 2.9 0 1 0-5.8 0a2.9 2.9 0 1 0 5.8 0M346.4 267.5a2.9 2.9 0 1 0-5.8 0a2.9 2.9 0 1 0 5.8 0M343.4 259.5a2.9 2.9 0 1 0-5.8 0a2.9 2.9 0 1 0 5.8 0M369.4 188.5a2.9 2.9 0 1 0-5.8 0a2.9 2.9 0 1 0 5.8 0M369.4 194.5a2.9 2.9 0 1 0-5.8 0a2.9 2.9 0 1 0 5.8 0M369.4 201.5a2.9 2.9 0 1 0-5.8 0a2.9 2.9 0 1 0 5.8 0M399.4 183.5a2.9 2.9 0 1 0-5.8 0a2.9 2.9 0 1 0 5.8 0M402.4 185.5a2.9 2.9 0 1 0-5.8 0a2.9 2.9 0 1 0 5.8 0M437.4 190.5a2.9 2.9 0 1 0-5.8 0a2.9 2.9 0 1 0 5.8 0M438.4 199.5a2.9 2.9 0 1 0-5.8 0a2.9 2.9 0 1 0 5.8 0M458.4 215.5a2.9 2.9 0 1 0-5.8 0a2.9 2.9 0 1 0 5.8 0M466.4 202.5a2.9 2.9 0 1 0-5.8 0a2.9 2.9 0 1 0 5.8 0M466.4 183.5a2.9 2.9 0 1 0-5.8 0a2.9 2.9 0 1 0 5.8 0M466.4 190.5a2.9 2.9 0 1 0-5.8 0a2.9 2.9 0 1 0 5.8 0M496.4 196.5a2.9 2.9 0 1 0-5.8 0a2.9 2.9 0 1 0 5.8 0M496.4 207.5a2.9 2.9 0 1 0-5.8 0a2.9 2.9 0 1 0 5.8 0M365.4 261.5a2.9 2.9 0 1 0-5.8 0a2.9 2.9 0 1 0 5.8 0M363.4 271.5a2.9 2.9 0 1 0-5.8 0a2.9 2.9 0 1 0 5.8 0M369.4 271.5a2.9 2.9 0 1 0-5.8 0a2.9 2.9 0 1 0 5.8 0M377.4 269.5a2.9 2.9 0 1 0-5.8 0a2.9 2.9 0 1 0 5.8 0M383.4 263.5a2.9 2.9 0 1 0-5.8 0a2.9 2.9 0 1 0 5.8 0M390.4 267.5a2.9 2.9 0 1 0-5.8 0a2.9 2.9 0 1 0 5.8 0M396.4 271.5a2.9 2.9 0 1 0-5.8 0a2.9 2.9 0 1 0 5.8 0M406.4 257.5a2.9 2.9 0 1 0-5.8 0a2.9 2.9 0 1 0 5.8 0M425.4 258.5a2.9 2.9 0 1 0-5.8 0a2.9 2.9 0 1 0 5.8 0M424.4 267.5a2.9 2.9 0 1 0-5.8 0a2.9 2.9 0 1 0 5.8 0M424.4 275.5a2.9 2.9 0 1 0-5.8 0a2.9 2.9 0 1 0 5.8 0M433.4 267.5a2.9 2.9 0 1 0-5.8 0a2.9 2.9 0 1 0 5.8 0M434.4 275.5a2.9 2.9 0 1 0-5.8 0a2.9 2.9 0 1 0 5.8 0M469.4 268.5a2.9 2.9 0 1 0-5.8 0a2.9 2.9 0 1 0 5.8 0M481.4 274.5a2.9 2.9 0 1 0-5.8 0a2.9 2.9 0 1 0 5.8 0M488.4 276.5a2.9 2.9 0 1 0-5.8 0a2.9 2.9 0 1 0 5.8 0M494.4 267.5a2.9 2.9 0 1 0-5.8 0a2.9 2.9 0 1 0 5.8 0M498.4 261.5a2.9 2.9 0 1 0-5.8 0a2.9 2.9 0 1 0 5.8 0M433.4 244.5a2.9 2.9 0 1 0-5.8 0a2.9 2.9 0 1 0 5.8 0M433.4 249.5a2.9 2.9 0 1 0-5.8 0a2.9 2.9 0 1 0 5.8 0M396.4 249.5a2.9 2.9 0 1 0-5.8 0a2.9 2.9 0 1 0 5.8 0M395.4 256.5a2.9 2.9 0 1 0-5.8 0a2.9 2.9 0 1 0 5.8 0M530.4 181.5a2.9 2.9 0 1 0-5.8 0a2.9 2.9 0 1 0 5.8 0M530.4 188.5a2.9 2.9 0 1 0-5.8 0a2.9 2.9 0 1 0 5.8 0M532.4 194.5a2.9 2.9 0 1 0-5.8 0a2.9 2.9 0 1 0 5.8 0M526.4 200.5a2.9 2.9 0 1 0-5.8 0a2.9 2.9 0 1 0 5.8 0M528.4 213.5a2.9 2.9 0 1 0-5.8 0a2.9 2.9 0 1 0 5.8 0M517.4 218.5a2.9 2.9 0 1 0-5.8 0a2.9 2.9 0 1 0 5.8 0M544.4 219.5a2.9 2.9 0 1 0-5.8 0a2.9 2.9 0 1 0 5.8 0M563.4 187.5a2.9 2.9 0 1 0-5.8 0a2.9 2.9 0 1 0 5.8 0M560.4 194.5a2.9 2.9 0 1 0-5.8 0a2.9 2.9 0 1 0 5.8 0M564.4 194.5a2.9 2.9 0 1 0-5.8 0a2.9 2.9 0 1 0 5.8 0M558.4 202.5a2.9 2.9 0 1 0-5.8 0a2.9 2.9 0 1 0 5.8 0M612.4 207.5a2.9 2.9 0 1 0-5.8 0a2.9 2.9 0 1 0 5.8 0M603.4 221.5a2.9 2.9 0 1 0-5.8 0a2.9 2.9 0 1 0 5.8 0M580.4 217.5a2.9 2.9 0 1 0-5.8 0a2.9 2.9 0 1 0 5.8 0M548.4 264.5a2.9 2.9 0 1 0-5.8 0a2.9 2.9 0 1 0 5.8 0M557.4 259.5a2.9 2.9 0 1 0-5.8 0a2.9 2.9 0 1 0 5.8 0M538.4 271.5a2.9 2.9 0 1 0-5.8 0a2.9 2.9 0 1 0 5.8 0M551.4 275.5a2.9 2.9 0 1 0-5.8 0a2.9 2.9 0 1 0 5.8 0M569.4 269.5a2.9 2.9 0 1 0-5.8 0a2.9 2.9 0 1 0 5.8 0M588.4 271.5a2.9 2.9 0 1 0-5.8 0a2.9 2.9 0 1 0 5.8 0M596.4 267.5a2.9 2.9 0 1 0-5.8 0a2.9 2.9 0 1 0 5.8 0M609.4 271.5a2.9 2.9 0 1 0-5.8 0a2.9 2.9 0 1 0 5.8 0M613.4 276.5a2.9 2.9 0 1 0-5.8 0a2.9 2.9 0 1 0 5.8 0M505.4 259.5a2.9 2.9 0 1 0-5.8 0a2.9 2.9 0 1 0 5.8 0M513.4 263.5a2.9 2.9 0 1 0-5.8 0a2.9 2.9 0 1 0 5.8 0M521.4 263.5a2.9 2.9 0 1 0-5.8 0a2.9 2.9 0 1 0 5.8 0M532.4 265.5a2.9 2.9 0 1 0-5.8 0a2.9 2.9 0 1 0 5.8 0M104.4 283.5a2.9 2.9 0 1 0-5.8 0a2.9 2.9 0 1 0 5.8 0M104.4 297.5a2.9 2.9 0 1 0-5.8 0a2.9 2.9 0 1 0 5.8 0M104.4 309.5a2.9 2.9 0 1 0-5.8 0a2.9 2.9 0 1 0 5.8 0M117.4 305.5a2.9 2.9 0 1 0-5.8 0a2.9 2.9 0 1 0 5.8 0M113.4 284.5a2.9 2.9 0 1 0-5.8 0a2.9 2.9 0 1 0 5.8 0M118.4 285.5a2.9 2.9 0 1 0-5.8 0a2.9 2.9 0 1 0 5.8 0M122.4 282.5a2.9 2.9 0 1 0-5.8 0a2.9 2.9 0 1 0 5.8 0M125.4 283.5a2.9 2.9 0 1 0-5.8 0a2.9 2.9 0 1 0 5.8 0M116.4 292.5a2.9 2.9 0 1 0-5.8 0a2.9 2.9 0 1 0 5.8 0M120.4 289.5a2.9 2.9 0 1 0-5.8 0a2.9 2.9 0 1 0 5.8 0M132.4 285.5a2.9 2.9 0 1 0-5.8 0a2.9 2.9 0 1 0 5.8 0M128.4 300.5a2.9 2.9 0 1 0-5.8 0a2.9 2.9 0 1 0 5.8 0M132.4 300.5a2.9 2.9 0 1 0-5.8 0a2.9 2.9 0 1 0 5.8 0M141.4 291.5a2.9 2.9 0 1 0-5.8 0a2.9 2.9 0 1 0 5.8 0M140.4 292.5a2.9 2.9 0 1 0-5.8 0a2.9 2.9 0 1 0 5.8 0M152.4 288.5a2.9 2.9 0 1 0-5.8 0a2.9 2.9 0 1 0 5.8 0M154.4 282.5a2.9 2.9 0 1 0-5.8 0a2.9 2.9 0 1 0 5.8 0M156.4 295.5a2.9 2.9 0 1 0-5.8 0a2.9 2.9 0 1 0 5.8 0M161.4 295.5a2.9 2.9 0 1 0-5.8 0a2.9 2.9 0 1 0 5.8 0M168.4 292.5a2.9 2.9 0 1 0-5.8 0a2.9 2.9 0 1 0 5.8 0M170.4 283.5a2.9 2.9 0 1 0-5.8 0a2.9 2.9 0 1 0 5.8 0M172.4 284.5a2.9 2.9 0 1 0-5.8 0a2.9 2.9 0 1 0 5.8 0M176.4 285.5a2.9 2.9 0 1 0-5.8 0a2.9 2.9 0 1 0 5.8 0M181.4 287.5a2.9 2.9 0 1 0-5.8 0a2.9 2.9 0 1 0 5.8 0M185.4 289.5a2.9 2.9 0 1 0-5.8 0a2.9 2.9 0 1 0 5.8 0M191.4 293.5a2.9 2.9 0 1 0-5.8 0a2.9 2.9 0 1 0 5.8 0M191.4 300.5a2.9 2.9 0 1 0-5.8 0a2.9 2.9 0 1 0 5.8 0M156.4 302.5a2.9 2.9 0 1 0-5.8 0a2.9 2.9 0 1 0 5.8 0M163.4 302.5a2.9 2.9 0 1 0-5.8 0a2.9 2.9 0 1 0 5.8 0M168.4 305.5a2.9 2.9 0 1 0-5.8 0a2.9 2.9 0 1 0 5.8 0M172.4 300.5a2.9 2.9 0 1 0-5.8 0a2.9 2.9 0 1 0 5.8 0M162.4 309.5a2.9 2.9 0 1 0-5.8 0a2.9 2.9 0 1 0 5.8 0M171.4 312.5a2.9 2.9 0 1 0-5.8 0a2.9 2.9 0 1 0 5.8 0M132.4 319.5a2.9 2.9 0 1 0-5.8 0a2.9 2.9 0 1 0 5.8 0M140.4 319.5a2.9 2.9 0 1 0-5.8 0a2.9 2.9 0 1 0 5.8 0M140.4 322.5a2.9 2.9 0 1 0-5.8 0a2.9 2.9 0 1 0 5.8 0M161.4 321.5a2.9 2.9 0 1 0-5.8 0a2.9 2.9 0 1 0 5.8 0M168.4 323.5a2.9 2.9 0 1 0-5.8 0a2.9 2.9 0 1 0 5.8 0M180.4 325.5a2.9 2.9 0 1 0-5.8 0a2.9 2.9 0 1 0 5.8 0M198.4 318.5a2.9 2.9 0 1 0-5.8 0a2.9 2.9 0 1 0 5.8 0M212.4 326.5a2.9 2.9 0 1 0-5.8 0a2.9 2.9 0 1 0 5.8 0M215.4 319.5a2.9 2.9 0 1 0-5.8 0a2.9 2.9 0 1 0 5.8 0M203.4 304.5a2.9 2.9 0 1 0-5.8 0a2.9 2.9 0 1 0 5.8 0M204.4 295.5a2.9 2.9 0 1 0-5.8 0a2.9 2.9 0 1 0 5.8 0M215.4 296.5a2.9 2.9 0 1 0-5.8 0a2.9 2.9 0 1 0 5.8 0M212.4 287.5a2.9 2.9 0 1 0-5.8 0a2.9 2.9 0 1 0 5.8 0M204.4 285.5a2.9 2.9 0 1 0-5.8 0a2.9 2.9 0 1 0 5.8 0M198.4 283.5a2.9 2.9 0 1 0-5.8 0a2.9 2.9 0 1 0 5.8 0M217.4 283.5a2.9 2.9 0 1 0-5.8 0a2.9 2.9 0 1 0 5.8 0M198.4 367.5a2.9 2.9 0 1 0-5.8 0a2.9 2.9 0 1 0 5.8 0M164.4 284.5a2.9 2.9 0 1 0-5.8 0a2.9 2.9 0 1 0 5.8 0M164.4 289.5a2.9 2.9 0 1 0-5.8 0a2.9 2.9 0 1 0 5.8 0M225.4 282.5a2.9 2.9 0 1 0-5.8 0a2.9 2.9 0 1 0 5.8 0M228.4 290.5a2.9 2.9 0 1 0-5.8 0a2.9 2.9 0 1 0 5.8 0M238.4 281.5a2.9 2.9 0 1 0-5.8 0a2.9 2.9 0 1 0 5.8 0M251.4 282.5a2.9 2.9 0 1 0-5.8 0a2.9 2.9 0 1 0 5.8 0M250.4 288.5a2.9 2.9 0 1 0-5.8 0a2.9 2.9 0 1 0 5.8 0M238.4 292.5a2.9 2.9 0 1 0-5.8 0a2.9 2.9 0 1 0 5.8 0M237.4 299.5a2.9 2.9 0 1 0-5.8 0a2.9 2.9 0 1 0 5.8 0M238.4 297.5a2.9 2.9 0 1 0-5.8 0a2.9 2.9 0 1 0 5.8 0M248.4 296.5a2.9 2.9 0 1 0-5.8 0a2.9 2.9 0 1 0 5.8 0M248.4 303.5a2.9 2.9 0 1 0-5.8 0a2.9 2.9 0 1 0 5.8 0M251.4 306.5a2.9 2.9 0 1 0-5.8 0a2.9 2.9 0 1 0 5.8 0M260.4 290.5a2.9 2.9 0 1 0-5.8 0a2.9 2.9 0 1 0 5.8 0M265.4 284.5a2.9 2.9 0 1 0-5.8 0a2.9 2.9 0 1 0 5.8 0M271.4 282.5a2.9 2.9 0 1 0-5.8 0a2.9 2.9 0 1 0 5.8 0M276.4 286.5a2.9 2.9 0 1 0-5.8 0a2.9 2.9 0 1 0 5.8 0M281.4 282.5a2.9 2.9 0 1 0-5.8 0a2.9 2.9 0 1 0 5.8 0M284.4 288.5a2.9 2.9 0 1 0-5.8 0a2.9 2.9 0 1 0 5.8 0M286.4 293.5a2.9 2.9 0 1 0-5.8 0a2.9 2.9 0 1 0 5.8 0M289.4 294.5a2.9 2.9 0 1 0-5.8 0a2.9 2.9 0 1 0 5.8 0M288.4 299.5a2.9 2.9 0 1 0-5.8 0a2.9 2.9 0 1 0 5.8 0M296.4 287.5a2.9 2.9 0 1 0-5.8 0a2.9 2.9 0 1 0 5.8 0M300.4 288.5a2.9 2.9 0 1 0-5.8 0a2.9 2.9 0 1 0 5.8 0M299.4 297.5a2.9 2.9 0 1 0-5.8 0a2.9 2.9 0 1 0 5.8 0M294.4 307.5a2.9 2.9 0 1 0-5.8 0a2.9 2.9 0 1 0 5.8 0M310.4 282.5a2.9 2.9 0 1 0-5.8 0a2.9 2.9 0 1 0 5.8 0M312.4 288.5a2.9 2.9 0 1 0-5.8 0a2.9 2.9 0 1 0 5.8 0M316.4 292.5a2.9 2.9 0 1 0-5.8 0a2.9 2.9 0 1 0 5.8 0M311.4 299.5a2.9 2.9 0 1 0-5.8 0a2.9 2.9 0 1 0 5.8 0M318.4 282.5a2.9 2.9 0 1 0-5.8 0a2.9 2.9 0 1 0 5.8 0M324.4 281.5a2.9 2.9 0 1 0-5.8 0a2.9 2.9 0 1 0 5.8 0M349.4 292.5a2.9 2.9 0 1 0-5.8 0a2.9 2.9 0 1 0 5.8 0M320.4 314.5a2.9 2.9 0 1 0-5.8 0a2.9 2.9 0 1 0 5.8 0M226.4 306.5a2.9 2.9 0 1 0-5.8 0a2.9 2.9 0 1 0 5.8 0M234.4 310.5a2.9 2.9 0 1 0-5.8 0a2.9 2.9 0 1 0 5.8 0M236.4 310.5a2.9 2.9 0 1 0-5.8 0a2.9 2.9 0 1 0 5.8 0M227.4 316.5a2.9 2.9 0 1 0-5.8 0a2.9 2.9 0 1 0 5.8 0M229.4 328.5a2.9 2.9 0 1 0-5.8 0a2.9 2.9 0 1 0 5.8 0M228.4 333.5a2.9 2.9 0 1 0-5.8 0a2.9 2.9 0 1 0 5.8 0M228.4 339.5a2.9 2.9 0 1 0-5.8 0a2.9 2.9 0 1 0 5.8 0M236.4 325.5a2.9 2.9 0 1 0-5.8 0a2.9 2.9 0 1 0 5.8 0M259.4 328.5a2.9 2.9 0 1 0-5.8 0a2.9 2.9 0 1 0 5.8 0M264.4 307.5a2.9 2.9 0 1 0-5.8 0a2.9 2.9 0 1 0 5.8 0M268.4 310.5a2.9 2.9 0 1 0-5.8 0a2.9 2.9 0 1 0 5.8 0M268.4 300.5a2.9 2.9 0 1 0-5.8 0a2.9 2.9 0 1 0 5.8 0M274.4 299.5a2.9 2.9 0 1 0-5.8 0a2.9 2.9 0 1 0 5.8 0M285.4 307.5a2.9 2.9 0 1 0-5.8 0a2.9 2.9 0 1 0 5.8 0M286.4 313.5a2.9 2.9 0 1 0-5.8 0a2.9 2.9 0 1 0 5.8 0M284.4 316.5a2.9 2.9 0 1 0-5.8 0a2.9 2.9 0 1 0 5.8 0M290.4 320.5a2.9 2.9 0 1 0-5.8 0a2.9 2.9 0 1 0 5.8 0M285.4 326.5a2.9 2.9 0 1 0-5.8 0a2.9 2.9 0 1 0 5.8 0M295.4 325.5a2.9 2.9 0 1 0-5.8 0a2.9 2.9 0 1 0 5.8 0M264.4 350.5a2.9 2.9 0 1 0-5.8 0a2.9 2.9 0 1 0 5.8 0M227.4 366.5a2.9 2.9 0 1 0-5.8 0a2.9 2.9 0 1 0 5.8 0M312.4 360.5a2.9 2.9 0 1 0-5.8 0a2.9 2.9 0 1 0 5.8 0M366.4 282.5a2.9 2.9 0 1 0-5.8 0a2.9 2.9 0 1 0 5.8 0M371.4 288.5a2.9 2.9 0 1 0-5.8 0a2.9 2.9 0 1 0 5.8 0M367.4 296.5a2.9 2.9 0 1 0-5.8 0a2.9 2.9 0 1 0 5.8 0M390.4 299.5a2.9 2.9 0 1 0-5.8 0a2.9 2.9 0 1 0 5.8 0M406.4 295.5a2.9 2.9 0 1 0-5.8 0a2.9 2.9 0 1 0 5.8 0M410.4 283.5a2.9 2.9 0 1 0-5.8 0a2.9 2.9 0 1 0 5.8 0M413.4 286.5a2.9 2.9 0 1 0-5.8 0a2.9 2.9 0 1 0 5.8 0M416.4 298.5a2.9 2.9 0 1 0-5.8 0a2.9 2.9 0 1 0 5.8 0M418.4 280.5a2.9 2.9 0 1 0-5.8 0a2.9 2.9 0 1 0 5.8 0M416.4 325.5a2.9 2.9 0 1 0-5.8 0a2.9 2.9 0 1 0 5.8 0M444.4 280.5a2.9 2.9 0 1 0-5.8 0a2.9 2.9 0 1 0 5.8 0M442.4 293.5a2.9 2.9 0 1 0-5.8 0a2.9 2.9 0 1 0 5.8 0M448.4 290.5a2.9 2.9 0 1 0-5.8 0a2.9 2.9 0 1 0 5.8 0M456.4 291.5a2.9 2.9 0 1 0-5.8 0a2.9 2.9 0 1 0 5.8 0M462.4 289.5a2.9 2.9 0 1 0-5.8 0a2.9 2.9 0 1 0 5.8 0M463.4 294.5a2.9 2.9 0 1 0-5.8 0a2.9 2.9 0 1 0 5.8 0M457.4 299.5a2.9 2.9 0 1 0-5.8 0a2.9 2.9 0 1 0 5.8 0M461.4 303.5a2.9 2.9 0 1 0-5.8 0a2.9 2.9 0 1 0 5.8 0M459.4 309.5a2.9 2.9 0 1 0-5.8 0a2.9 2.9 0 1 0 5.8 0M450.4 313.5a2.9 2.9 0 1 0-5.8 0a2.9 2.9 0 1 0 5.8 0M449.4 315.5a2.9 2.9 0 1 0-5.8 0a2.9 2.9 0 1 0 5.8 0M448.4 318.5a2.9 2.9 0 1 0-5.8 0a2.9 2.9 0 1 0 5.8 0M473.4 286.5a2.9 2.9 0 1 0-5.8 0a2.9 2.9 0 1 0 5.8 0M479.4 284.5a2.9 2.9 0 1 0-5.8 0a2.9 2.9 0 1 0 5.8 0M478.4 290.5a2.9 2.9 0 1 0-5.8 0a2.9 2.9 0 1 0 5.8 0M473.4 289.5a2.9 2.9 0 1 0-5.8 0a2.9 2.9 0 1 0 5.8 0M488.4 288.5a2.9 2.9 0 1 0-5.8 0a2.9 2.9 0 1 0 5.8 0M489.4 296.5a2.9 2.9 0 1 0-5.8 0a2.9 2.9 0 1 0 5.8 0M496.4 299.5a2.9 2.9 0 1 0-5.8 0a2.9 2.9 0 1 0 5.8 0M501.4 300.5a2.9 2.9 0 1 0-5.8 0a2.9 2.9 0 1 0 5.8 0M477.4 304.5a2.9 2.9 0 1 0-5.8 0a2.9 2.9 0 1 0 5.8 0M477.4 310.5a2.9 2.9 0 1 0-5.8 0a2.9 2.9 0 1 0 5.8 0M479.4 325.5a2.9 2.9 0 1 0-5.8 0a2.9 2.9 0 1 0 5.8 0M488.4 280.5a2.9 2.9 0 1 0-5.8 0a2.9 2.9 0 1 0 5.8 0M469.4 280.5a2.9 2.9 0 1 0-5.8 0a2.9 2.9 0 1 0 5.8 0M503.4 284.5a2.9 2.9 0 1 0-5.8 0a2.9 2.9 0 1 0 5.8 0M509.4 281.5a2.9 2.9 0 1 0-5.8 0a2.9 2.9 0 1 0 5.8 0M520.4 284.5a2.9 2.9 0 1 0-5.8 0a2.9 2.9 0 1 0 5.8 0M513.4 290.5a2.9 2.9 0 1 0-5.8 0a2.9 2.9 0 1 0 5.8 0M511.4 298.5a2.9 2.9 0 1 0-5.8 0a2.9 2.9 0 1 0 5.8 0M503.4 301.5a2.9 2.9 0 1 0-5.8 0a2.9 2.9 0 1 0 5.8 0M503.4 315.5a2.9 2.9 0 1 0-5.8 0a2.9 2.9 0 1 0 5.8 0M523.4 289.5a2.9 2.9 0 1 0-5.8 0a2.9 2.9 0 1 0 5.8 0M525.4 298.5a2.9 2.9 0 1 0-5.8 0a2.9 2.9 0 1 0 5.8 0M533.4 295.5a2.9 2.9 0 1 0-5.8 0a2.9 2.9 0 1 0 5.8 0M539.4 284.5a2.9 2.9 0 1 0-5.8 0a2.9 2.9 0 1 0 5.8 0M546.4 280.5a2.9 2.9 0 1 0-5.8 0a2.9 2.9 0 1 0 5.8 0M546.4 288.5a2.9 2.9 0 1 0-5.8 0a2.9 2.9 0 1 0 5.8 0M552.4 288.5a2.9 2.9 0 1 0-5.8 0a2.9 2.9 0 1 0 5.8 0M552.4 282.5a2.9 2.9 0 1 0-5.8 0a2.9 2.9 0 1 0 5.8 0M558.4 281.5a2.9 2.9 0 1 0-5.8 0a2.9 2.9 0 1 0 5.8 0M546.4 294.5a2.9 2.9 0 1 0-5.8 0a2.9 2.9 0 1 0 5.8 0M547.4 303.5a2.9 2.9 0 1 0-5.8 0a2.9 2.9 0 1 0 5.8 0M549.4 310.5a2.9 2.9 0 1 0-5.8 0a2.9 2.9 0 1 0 5.8 0M566.4 283.5a2.9 2.9 0 1 0-5.8 0a2.9 2.9 0 1 0 5.8 0M567.4 284.5a2.9 2.9 0 1 0-5.8 0a2.9 2.9 0 1 0 5.8 0M569.4 294.5a2.9 2.9 0 1 0-5.8 0a2.9 2.9 0 1 0 5.8 0M566.4 303.5a2.9 2.9 0 1 0-5.8 0a2.9 2.9 0 1 0 5.8 0M567.4 307.5a2.9 2.9 0 1 0-5.8 0a2.9 2.9 0 1 0 5.8 0M580.4 292.5a2.9 2.9 0 1 0-5.8 0a2.9 2.9 0 1 0 5.8 0M582.4 297.5a2.9 2.9 0 1 0-5.8 0a2.9 2.9 0 1 0 5.8 0M592.4 281.5a2.9 2.9 0 1 0-5.8 0a2.9 2.9 0 1 0 5.8 0M600.4 284.5a2.9 2.9 0 1 0-5.8 0a2.9 2.9 0 1 0 5.8 0M606.4 284.5a2.9 2.9 0 1 0-5.8 0a2.9 2.9 0 1 0 5.8 0M607.4 291.5a2.9 2.9 0 1 0-5.8 0a2.9 2.9 0 1 0 5.8 0M600.4 295.5a2.9 2.9 0 1 0-5.8 0a2.9 2.9 0 1 0 5.8 0M613.4 291.5a2.9 2.9 0 1 0-5.8 0a2.9 2.9 0 1 0 5.8 0M613.4 280.5a2.9 2.9 0 1 0-5.8 0a2.9 2.9 0 1 0 5.8 0M607.4 310.5a2.9 2.9 0 1 0-5.8 0a2.9 2.9 0 1 0 5.8 0M600.4 318.5a2.9 2.9 0 1 0-5.8 0a2.9 2.9 0 1 0 5.8 0M608.4 325.5a2.9 2.9 0 1 0-5.8 0a2.9 2.9 0 1 0 5.8 0M605.4 338.5a2.9 2.9 0 1 0-5.8 0a2.9 2.9 0 1 0 5.8 0M540.4 336.5a2.9 2.9 0 1 0-5.8 0a2.9 2.9 0 1 0 5.8 0M523.4 350.5a2.9 2.9 0 1 0-5.8 0a2.9 2.9 0 1 0 5.8 0M547.4 370.5a2.9 2.9 0 1 0-5.8 0a2.9 2.9 0 1 0 5.8 0" fill="none" stroke="#BEBEBE" stroke-width="1" shape-rendering="crispEdges"/><g fill="#0000FF" shape-rendering="crispEdges"><circle cx="297.5" cy="175.5" r="3.3"/><circle cx="303.5" cy="174.5" r="3.3"/><circle cx="105.5" cy="230.5" r="3.3"/><circle cx="103.5" cy="243.5" r="3.3"/><circle cx="100.5" cy="251.5" r="3.3"/><circle cx="108.5" cy="250.5" r="3.3"/><circle cx="111.5" cy="265.5" r="3.3"/><circle cx="114.5" cy="268.5" r="3.3"/><circle cx="118.5" cy="263.5" r="3.3"/><circle cx="121.5" cy="256.5" r="3.3"/><circle cx="124.5" cy="250.5" r="3.3"/><circle cx="128.5" cy="250.5" r="3.3"/><circle cx="132.5" cy="239.5" r="3.3"/><circle cx="135.5" cy="251.5" r="3.3"/><circle cx="129.5" cy="269.5" r="3.3"/><circle cx="140.5" cy="235.5" r="3.3"/><circle cx="144.5" cy="236.5" r="3.3"/><circle cx="145.5" cy="230.5" r="3.3"/><circle cx="148.5" cy="247.5" r="3.3"/><circle cx="151.5" cy="263.5" r="3.3"/><circle cx="156.5" cy="257.5" r="3.3"/><circle cx="161.5" cy="264.5" r="3.3"/><circle cx="164.5" cy="242.5" r="3.3"/><circle cx="167.5" cy="255.5" r="3.3"/><circle cx="172.5" cy="249.5" r="3.3"/><circle cx="169.5" cy="272.5" r="3.3"/><circle cx="175.5" cy="218.5" r="3.3"/><circle cx="185.5" cy="247.5" r="3.3"/><circle cx="180.5" cy="262.5" r="3.3"/><circle cx="183.5" cy="258.5" r="3.3"/><circle cx="193.5" cy="228.5" r="3.3"/><circle cx="199.5" cy="238.5" r="3.3"/><circle cx="204.5" cy="210.5" r="3.3"/><circle cx="207.5" cy="225.5" r="3.3"/><circle cx="191.5" cy="266.5" r="3.3"/><circle cx="196.5" cy="265.5" r="3.3"/><circle cx="201.5" cy="271.5" r="3.3"/><circle cx="188.5" cy="276.5" r="3.3"/><circle cx="209.5" cy="258.5" r="3.3"/><circle cx="212.5" cy="264.5" r="3.3"/><circle cx="215.5" cy="250.5" r="3.3"/><circle cx="159.5" cy="278.5" r="3.3"/><circle cx="137.5" cy="278.5" r="3.3"/><circle cx="220.5" cy="235.5" r="3.3"/><circle cx="225.5" cy="260.5" r="3.3"/><circle cx="223.5" cy="270.5" r="3.3"/><circle cx="231.5" cy="248.5" r="3.3"/><circle cx="233.5" cy="265.5" r="3.3"/><circle cx="236.5" cy="269.5" r="3.3"/><circle cx="238.5" cy="245.5" r="3.3"/><circle cx="244.5" cy="244.5" r="3.3"/><circle cx="241.5" cy="253.5" r="3.3"/><circle cx="247.5" cy="255.5" r="3.3"/><circle cx="249.5" cy="263.5" r="3.3"/><circle cx="252.5" cy="239.5" r="3.3"/><circle cx="255.5" cy="252.5" r="3.3"/><circle cx="257.5" cy="230.5" r="3.3"/><circle cx="260.5" cy="233.5" r="3.3"/><circle cx="263.5" cy="251.5" r="3.3"/><circle cx="265.5" cy="238.5" r="3.3"/><circle cx="268.5" cy="245.5" r="3.3"/><circle cx="271.5" cy="220.5" r="3.3"/><circle cx="273.5" cy="262.5" r="3.3"/><circle cx="276.5" cy="246.5" r="3.3"/><circle cx="279.5" cy="257.5" r="3.3"/><circle cx="281.5" cy="265.5" r="3.3"/><circle cx="284.5" cy="273.5" r="3.3"/><circle cx="289.5" cy="250.5" r="3.3"/><circle cx="292.5" cy="258.5" r="3.3"/><circle cx="296.5" cy="242.5" r="3.3"/><circle cx="300.5" cy="240.5" r="3.3"/><circle cx="305.5" cy="259.5" r="3.3"/><circle cx="308.5" cy="252.5" r="3.3"/><circle cx="311.5" cy="258.5" r="3.3"/><circle cx="313.5" cy="274.5" r="3.3"/><circle cx="316.5" cy="243.5" r="3.3"/><circle cx="319.5" cy="252.5" r="3.3"/><circle cx="321.5" cy="234.5" r="3.3"/><circle cx="325.5" cy="237.5" r="3.3"/><circle cx="328.5" cy="240.5" r="3.3"/><circle cx="329.5" cy="232.5" r="3.3"/><circle cx="332.5" cy="200.5" r="3.3"/><circle cx="335.5" cy="201.5" r="3.3"/><circle cx="337.5" cy="266.5" r="3.3"/><circle cx="340.5" cy="227.5" r="3.3"/><circle cx="344.5" cy="227.5" r="3.3"/><circle cx="345.5" cy="235.5" r="3.3"/><circle cx="348.5" cy="247.5" r="3.3"/><circle cx="351.5" cy="226.5" r="3.3"/><circle cx="353.5" cy="239.5" r="3.3"/><circle cx="355.5" cy="224.5" r="3.3"/><circle cx="367.5" cy="209.5" r="3.3"/><circle cx="361.5" cy="229.5" r="3.3"/><circle cx="364.5" cy="237.5" r="3.3"/><circle cx="369.5" cy="246.5" r="3.3"/><circle cx="372.5" cy="240.5" r="3.3"/><circle cx="376.5" cy="239.5" r="3.3"/><circle cx="380.5" cy="243.5" r="3.3"/><circle cx="377.5" cy="226.5" r="3.3"/><circle cx="383.5" cy="233.5" r="3.3"/><circle cx="385.5" cy="211.5" r="3.3"/><circle cx="389.5" cy="218.5" r="3.3"/><circle cx="391.5" cy="214.5" r="3.3"/><circle cx="393.5" cy="230.5" r="3.3"/><circle cx="396.5" cy="195.5" r="3.3"/><circle cx="401.5" cy="193.5" r="3.3"/><circle cx="399.5" cy="204.5" r="3.3"/><circle cx="404.5" cy="235.5" r="3.3"/><circle cx="409.5" cy="224.5" r="3.3"/><circle cx="415.5" cy="228.5" r="3.3"/><circle cx="417.5" cy="220.5" r="3.3"/><circle cx="420.5" cy="223.5" r="3.3"/><circle cx="424.5" cy="222.5" r="3.3"/><circle cx="425.5" cy="198.5" r="3.3"/><circle cx="428.5" cy="183.5" r="3.3"/><circle cx="431.5" cy="219.5" r="3.3"/><circle cx="436.5" cy="220.5" r="3.3"/><circle cx="434.5" cy="218.5" r="3.3"/><circle cx="444.5" cy="222.5" r="3.3"/><circle cx="441.5" cy="237.5" r="3.3"/><circle cx="439.5" cy="261.5" r="3.3"/><circle cx="447.5" cy="264.5" r="3.3"/><circle cx="449.5" cy="242.5" r="3.3"/><circle cx="453.5" cy="241.5" r="3.3"/><circle cx="458.5" cy="245.5" r="3.3"/><circle cx="460.5" cy="229.5" r="3.3"/><circle cx="463.5" cy="215.5" r="3.3"/><circle cx="465.5" cy="235.5" r="3.3"/><circle cx="468.5" cy="242.5" r="3.3"/><circle cx="471.5" cy="263.5" r="3.3"/><circle cx="473.5" cy="250.5" r="3.3"/><circle cx="476.5" cy="246.5" r="3.3"/><circle cx="479.5" cy="245.5" r="3.3"/><circle cx="481.5" cy="230.5" r="3.3"/><circle cx="484.5" cy="219.5" r="3.3"/><circle cx="488.5" cy="221.5" r="3.3"/><circle cx="492.5" cy="228.5" r="3.3"/><circle cx="489.5" cy="240.5" r="3.3"/><circle cx="495.5" cy="243.5" r="3.3"/><circle cx="407.5" cy="264.5" r="3.3"/><circle cx="412.5" cy="273.5" r="3.3"/><circle cx="499.5" cy="240.5" r="3.3"/><circle cx="503.5" cy="243.5" r="3.3"/><circle cx="506.5" cy="237.5" r="3.3"/><circle cx="509.5" cy="234.5" r="3.3"/><circle cx="513.5" cy="233.5" r="3.3"/><circle cx="511.5" cy="248.5" r="3.3"/><circle cx="516.5" cy="242.5" r="3.3"/><circle cx="520.5" cy="242.5" r="3.3"/><circle cx="524.5" cy="244.5" r="3.3"/><circle cx="527.5" cy="208.5" r="3.3"/><circle cx="529.5" cy="238.5" r="3.3"/><circle cx="535.5" cy="238.5" r="3.3"/><circle cx="532.5" cy="251.5" r="3.3"/><circle cx="537.5" cy="250.5" r="3.3"/><circle cx="539.5" cy="230.5" r="3.3"/><circle cx="542.5" cy="233.5" r="3.3"/><circle cx="545.5" cy="237.5" r="3.3"/><circle cx="548.5" cy="227.5" r="3.3"/><circle cx="551.5" cy="225.5" r="3.3"/><circle cx="556.5" cy="223.5" r="3.3"/><circle cx="551.5" cy="237.5" r="3.3"/><circle cx="559.5" cy="209.5" r="3.3"/><circle cx="561.5" cy="211.5" r="3.3"/><circle cx="563.5" cy="244.5" r="3.3"/><circle cx="567.5" cy="242.5" r="3.3"/><circle cx="569.5" cy="236.5" r="3.3"/><circle cx="573.5" cy="232.5" r="3.3"/><circle cx="576.5" cy="228.5" r="3.3"/><circle cx="577.5" cy="239.5" r="3.3"/><circle cx="580.5" cy="261.5" r="3.3"/><circle cx="583.5" cy="232.5" r="3.3"/><circle cx="588.5" cy="234.5" r="3.3"/><circle cx="592.5" cy="241.5" r="3.3"/><circle cx="593.5" cy="236.5" r="3.3"/><circle cx="598.5" cy="235.5" r="3.3"/><circle cx="604.5" cy="234.5" r="3.3"/><circle cx="609.5" cy="239.5" r="3.3"/><circle cx="601.5" cy="252.5" r="3.3"/><circle cx="607.5" cy="249.5" r="3.3"/><circle cx="521.5" cy="269.5" r="3.3"/><circle cx="500.5" cy="274.5" r="3.3"/><circle cx="153.5" cy="287.5" r="3.3"/><circle cx="177.5" cy="300.5" r="3.3"/><circle cx="228.5" cy="283.5" r="3.3"/><circle cx="287.5" cy="282.5" r="3.3"/></g></g><rect x="78.5" y="78.5" width="553" height="304" fill="none" stroke="#000" stroke-width="1"/><g stroke="#000" stroke-width="1"><line x1="171.5" y1="382.5" x2="171.5" y2="392"/><line x1="331.5" y1="382.5" x2="331.5" y2="392"/><line x1="491.5" y1="382.5" x2="491.5" y2="392"/><line x1="69" y1="380.5" x2="78.5" y2="380.5"/><line x1="69" y1="300.5" x2="78.5" y2="300.5"/><line x1="69" y1="194.5" x2="78.5" y2="194.5"/><line x1="69" y1="114.5" x2="78.5" y2="114.5"/></g><g font-family="Liberation Sans" font-size="16" fill="#000"><text x="171.5" y="416.5" text-anchor="middle">2010</text><text x="331.5" y="416.5" text-anchor="middle">2015</text><text x="491.5" y="416.5" text-anchor="middle">2020</text><text transform="translate(55.6,380.40) rotate(-90)" text-anchor="middle">100</text><text transform="translate(55.6,300.27) rotate(-90)" text-anchor="middle">200</text><text transform="translate(55.6,194.33) rotate(-90)" text-anchor="middle">500</text><text transform="translate(55.6,114.20) rotate(-90)" text-anchor="middle">1000</text><text x="355.2" y="455.6" text-anchor="middle">Date</text><text transform="translate(18.1,229.7) rotate(-90)" text-anchor="middle">Specific Conductivity (uS/cm)</text></g><rect x="78.5" y="78.5" width="138" height="58" fill="#fff" stroke="#000" stroke-width="1"/><rect x="93.5" y="93.5" width="11" height="9" fill="#BEBEBE" stroke="#000" stroke-width="1"/><rect x="93.5" y="112.5" width="11" height="9" fill="#0000FF" stroke="#000" stroke-width="1"/><text x="119" y="104.5" font-family="Liberation Sans" font-size="16">Not Selected</text><text x="119" y="123.7" font-family="Liberation Sans" font-size="16">Routine</text>
</svg></body></html>
